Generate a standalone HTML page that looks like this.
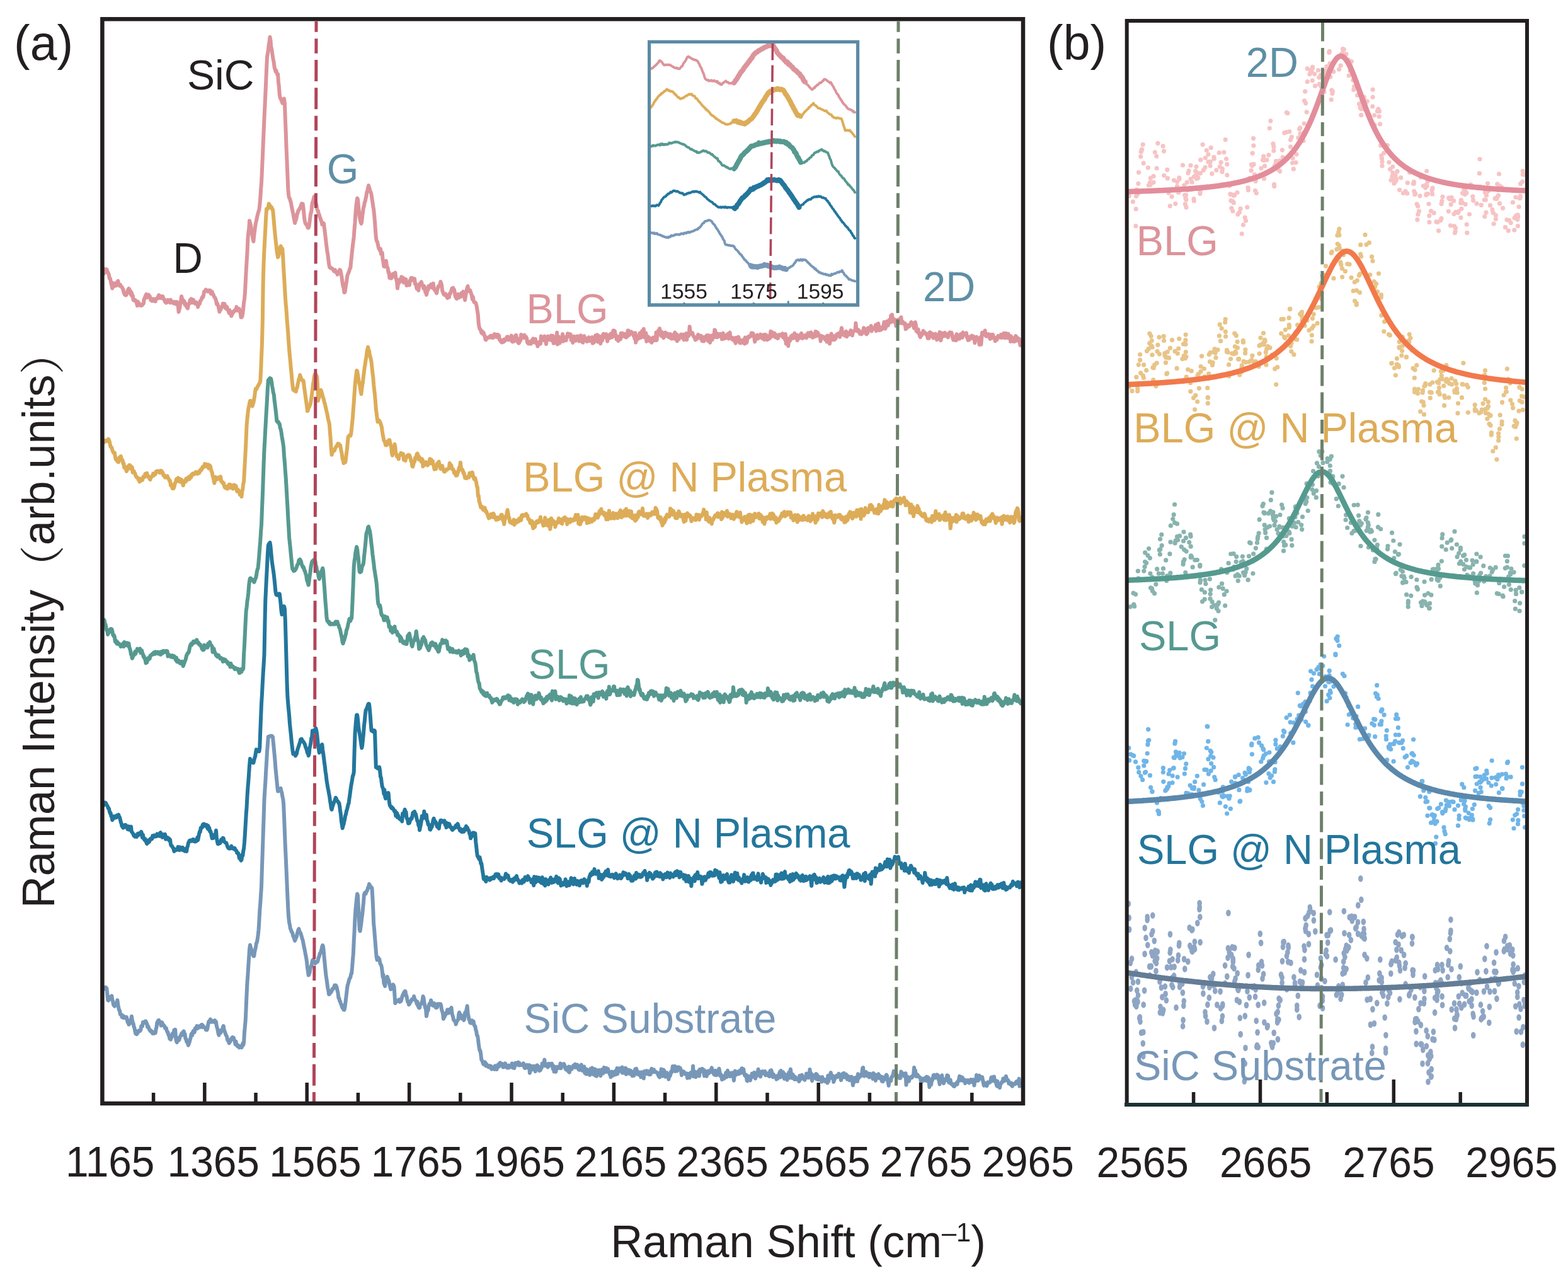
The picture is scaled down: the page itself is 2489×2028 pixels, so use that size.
<!DOCTYPE html>
<html><head><meta charset="utf-8"><title>Raman spectra</title>
<style>html,body{margin:0;padding:0;background:#fff;}body{width:2489px;height:2028px;overflow:hidden;}svg{display:block;}</style>
</head><body>
<svg width="2489" height="2028" viewBox="0 0 2489 2028">
<rect width="100%" height="100%" fill="#fff"/>
<g fill="none" stroke-width="6" stroke-linejoin="round" stroke-linecap="round">
<polyline stroke="#7797b8" points="163.0,1569.5 163.9,1570.0 164.8,1569.0 165.7,1567.9 166.6,1568.7 167.5,1566.5 168.4,1567.2 169.3,1568.2 170.2,1576.0 171.1,1586.8 172.0,1587.7 172.9,1586.3 173.8,1584.8 174.7,1581.8 175.6,1582.4 176.5,1582.6 177.4,1580.4 178.3,1586.7 179.2,1588.8 180.1,1594.6 181.0,1595.5 181.9,1596.8 182.8,1593.3 183.7,1594.5 184.6,1592.7 185.5,1590.5 186.4,1587.1 187.3,1594.4 188.2,1599.0 189.1,1603.0 190.0,1603.8 190.9,1609.4 191.8,1609.4 192.7,1610.2 193.6,1614.0 194.5,1611.2 195.4,1613.1 196.3,1615.2 197.2,1613.1 198.1,1614.4 199.0,1615.3 199.9,1615.7 200.8,1613.9 201.7,1617.6 202.6,1622.1 203.5,1619.2 204.4,1625.8 205.3,1625.1 206.2,1621.1 207.1,1623.2 208.0,1618.3 208.9,1612.7 209.8,1618.3 210.7,1622.4 211.6,1624.3 212.5,1629.1 213.4,1631.1 214.3,1635.6 215.2,1640.3 216.1,1639.8 217.0,1641.2 217.9,1639.0 218.8,1639.0 219.7,1635.6 220.6,1635.6 221.5,1635.2 222.4,1635.9 223.3,1634.6 224.2,1628.4 225.1,1627.7 226.0,1628.5 226.9,1622.1 227.8,1623.1 228.7,1622.1 229.6,1622.8 230.5,1620.5 231.4,1620.6 232.3,1622.4 233.2,1624.5 234.1,1629.7 235.0,1628.1 235.9,1630.2 236.8,1633.3 237.7,1634.4 238.6,1636.2 239.5,1635.2 240.4,1637.4 241.3,1636.9 242.2,1640.0 243.1,1639.3 244.0,1638.3 244.9,1639.8 245.8,1638.3 246.7,1639.1 247.6,1633.0 248.5,1629.9 249.4,1622.4 250.3,1622.7 251.2,1619.3 252.1,1618.9 253.0,1622.2 253.9,1621.4 254.8,1623.6 255.7,1627.5 256.6,1622.2 257.5,1622.9 258.4,1625.5 259.3,1627.2 260.2,1627.2 261.1,1628.4 262.0,1631.3 262.9,1632.2 263.8,1631.5 264.7,1635.4 265.6,1637.7 266.5,1638.0 267.4,1642.5 268.3,1642.7 269.2,1648.1 270.1,1648.9 271.0,1649.5 271.9,1646.5 272.8,1645.5 273.7,1640.2 274.6,1639.9 275.5,1640.8 276.4,1634.5 277.3,1638.0 278.2,1633.8 279.1,1646.8 280.0,1652.5 280.9,1654.1 281.8,1651.6 282.7,1647.2 283.6,1650.9 284.5,1649.9 285.4,1645.8 286.3,1644.1 287.2,1643.0 288.1,1640.2 289.0,1642.6 289.9,1638.3 290.8,1637.8 291.7,1636.5 292.6,1639.4 293.5,1640.9 294.4,1648.1 295.3,1648.3 296.2,1652.9 297.1,1653.9 298.0,1655.3 298.9,1658.6 299.8,1655.8 300.7,1653.7 301.6,1650.0 302.5,1647.1 303.4,1642.1 304.3,1640.0 305.2,1642.9 306.1,1637.6 307.0,1635.8 307.9,1637.1 308.8,1637.9 309.7,1631.7 310.6,1632.8 311.5,1630.9 312.4,1628.1 313.3,1632.2 314.2,1630.5 315.1,1630.3 316.0,1628.4 316.9,1630.2 317.8,1628.1 318.7,1628.4 319.6,1626.3 320.5,1625.8 321.4,1630.0 322.3,1627.6 323.2,1629.9 324.1,1630.2 325.0,1630.3 325.9,1631.1 326.8,1634.0 327.7,1633.2 328.6,1634.3 329.5,1630.9 330.4,1625.5 331.3,1621.2 332.2,1620.7 333.1,1619.0 334.0,1617.5 334.9,1621.7 335.8,1621.7 336.7,1619.7 337.6,1621.0 338.5,1621.4 339.4,1621.5 340.3,1621.7 341.2,1619.2 342.1,1623.1 343.0,1621.4 343.9,1628.5 344.8,1631.1 345.7,1635.1 346.6,1640.2 347.5,1642.7 348.4,1637.8 349.3,1635.7 350.2,1639.1 351.1,1634.6 352.0,1635.2 352.9,1635.6 353.8,1630.0 354.7,1628.0 355.6,1633.8 356.5,1636.2 357.4,1638.6 358.3,1641.9 359.2,1643.2 360.1,1644.8 361.0,1650.1 361.9,1651.5 362.8,1652.7 363.7,1655.4 364.6,1653.2 365.5,1652.9 366.4,1649.3 367.3,1648.7 368.2,1646.9 369.1,1646.0 370.0,1646.8 370.9,1646.7 371.8,1650.5 372.7,1652.3 373.6,1657.1 374.5,1652.7 375.4,1658.5 376.3,1658.5 377.2,1660.4 378.1,1658.7 379.0,1660.3 379.9,1662.3 380.8,1660.6 381.7,1660.7 382.6,1659.9 383.5,1662.3 384.4,1660.0 385.3,1655.9 386.2,1658.4 387.1,1654.4 388.0,1638.0 388.9,1628.8 389.8,1618.1 390.7,1598.0 391.6,1577.1 392.5,1558.7 393.4,1547.3 394.3,1532.4 395.2,1518.9 396.1,1505.4 397.0,1499.4 397.9,1503.4 398.8,1506.2 399.7,1508.9 400.6,1510.7 401.5,1515.4 402.4,1517.3 403.3,1517.1 404.2,1510.3 405.1,1506.9 406.0,1502.6 406.9,1496.8 407.8,1495.4 408.7,1490.6 409.6,1484.2 410.5,1475.8 411.4,1461.7 412.3,1445.0 413.2,1434.1 414.1,1420.1 415.0,1406.5 415.9,1377.8 416.8,1351.2 417.7,1323.8 418.6,1297.7 419.5,1269.3 420.4,1254.1 421.3,1240.7 422.2,1223.7 423.1,1209.0 424.0,1192.7 424.9,1181.2 425.8,1169.0 426.7,1168.9 427.6,1168.7 428.5,1168.1 429.4,1168.2 430.3,1167.7 431.2,1167.8 432.1,1168.1 433.0,1169.5 433.9,1178.7 434.8,1188.1 435.7,1197.7 436.6,1207.8 437.5,1220.1 438.4,1229.0 439.3,1238.3 440.2,1247.7 441.1,1255.6 442.0,1255.4 442.9,1255.1 443.8,1252.6 444.7,1251.6 445.6,1251.0 446.5,1255.5 447.4,1258.1 448.3,1263.7 449.2,1267.4 450.1,1275.3 451.0,1295.6 451.9,1318.8 452.8,1341.7 453.7,1360.6 454.6,1380.8 455.5,1402.1 456.4,1422.4 457.3,1441.9 458.2,1455.9 459.1,1463.8 460.0,1467.8 460.9,1473.6 461.8,1475.0 462.7,1478.5 463.6,1479.1 464.5,1481.5 465.4,1486.0 466.3,1486.0 467.2,1490.2 468.1,1492.8 469.0,1490.4 469.9,1488.0 470.8,1486.7 471.7,1481.8 472.6,1478.7 473.5,1475.3 474.4,1473.9 475.3,1477.5 476.2,1479.7 477.1,1480.5 478.0,1483.3 478.9,1486.4 479.8,1489.9 480.7,1492.3 481.6,1497.3 482.5,1502.0 483.4,1505.9 484.3,1510.8 485.2,1515.6 486.1,1519.9 487.0,1526.2 487.9,1534.9 488.8,1540.9 489.7,1547.6 490.6,1545.8 491.5,1544.0 492.4,1537.8 493.3,1534.5 494.2,1532.9 495.1,1528.9 496.0,1524.3 496.9,1523.1 497.8,1524.9 498.7,1525.0 499.6,1526.8 500.5,1528.8 501.4,1527.2 502.3,1526.6 503.2,1526.7 504.1,1526.0 505.0,1522.9 505.9,1519.0 506.8,1517.4 507.7,1513.2 508.6,1512.5 509.5,1509.5 510.4,1506.6 511.3,1502.1 512.2,1500.1 513.1,1502.3 514.0,1512.0 514.9,1522.1 515.8,1531.1 516.7,1540.6 517.6,1549.0 518.5,1554.3 519.4,1561.0 520.3,1568.0 521.2,1571.5 522.1,1577.9 523.0,1577.5 523.9,1576.4 524.8,1574.3 525.7,1574.4 526.6,1572.3 527.5,1569.6 528.4,1568.5 529.3,1568.9 530.2,1567.3 531.1,1563.6 532.0,1565.5 532.9,1563.5 533.8,1564.8 534.7,1567.5 535.6,1572.0 536.5,1575.6 537.4,1583.6 538.3,1583.8 539.2,1588.5 540.1,1589.2 541.0,1592.9 541.9,1594.0 542.8,1597.3 543.7,1599.8 544.6,1598.7 545.5,1602.2 546.4,1602.6 547.3,1599.4 548.2,1592.4 549.1,1584.8 550.0,1577.6 550.9,1569.5 551.8,1563.2 552.7,1560.8 553.6,1557.1 554.5,1553.9 555.4,1552.3 556.3,1550.8 557.2,1545.8 558.1,1544.8 559.0,1535.8 559.9,1524.1 560.8,1513.8 561.7,1494.0 562.6,1477.6 563.5,1456.9 564.4,1444.1 565.3,1434.8 566.2,1425.7 567.1,1418.4 568.0,1421.0 568.9,1440.0 569.8,1457.6 570.7,1474.8 571.6,1477.5 572.5,1471.0 573.4,1465.3 574.3,1456.9 575.2,1451.1 576.1,1441.0 577.0,1432.5 577.9,1419.9 578.8,1417.2 579.7,1418.0 580.6,1418.2 581.5,1414.6 582.4,1414.1 583.3,1411.9 584.2,1408.6 585.1,1407.1 586.0,1402.9 586.9,1404.3 587.8,1406.9 588.7,1406.9 589.6,1409.4 590.5,1409.3 591.4,1424.7 592.3,1443.7 593.2,1466.1 594.1,1474.7 595.0,1486.7 595.9,1497.6 596.8,1509.2 597.7,1519.2 598.6,1523.2 599.5,1519.5 600.4,1519.6 601.3,1521.5 602.2,1521.9 603.1,1526.9 604.0,1530.3 604.9,1531.0 605.8,1534.3 606.7,1540.8 607.6,1550.4 608.5,1546.7 609.4,1560.3 610.3,1562.4 611.2,1564.9 612.1,1557.3 613.0,1556.6 613.9,1551.2 614.8,1549.9 615.7,1553.0 616.6,1554.7 617.5,1557.8 618.4,1562.6 619.3,1566.1 620.2,1569.9 621.1,1569.4 622.0,1567.8 622.9,1566.3 623.8,1562.4 624.7,1563.5 625.6,1566.2 626.5,1580.0 627.4,1592.1 628.3,1589.5 629.2,1587.8 630.1,1589.3 631.0,1587.8 631.9,1587.3 632.8,1588.7 633.7,1586.2 634.6,1589.9 635.5,1588.0 636.4,1588.7 637.3,1586.2 638.2,1582.3 639.1,1579.3 640.0,1578.4 640.9,1575.2 641.8,1574.5 642.7,1572.8 643.6,1573.1 644.5,1580.1 645.4,1580.3 646.3,1585.6 647.2,1589.9 648.1,1589.2 649.0,1594.3 649.9,1593.3 650.8,1591.5 651.7,1589.7 652.6,1588.7 653.5,1586.1 654.4,1586.7 655.3,1584.8 656.2,1585.3 657.1,1581.0 658.0,1585.0 658.9,1586.5 659.8,1587.6 660.7,1588.7 661.6,1592.9 662.5,1589.3 663.4,1596.2 664.3,1597.5 665.2,1599.4 666.1,1599.2 667.0,1594.4 667.9,1593.0 668.8,1592.9 669.7,1590.1 670.6,1587.3 671.5,1580.9 672.4,1583.5 673.3,1590.0 674.2,1595.4 675.1,1599.3 676.0,1600.8 676.9,1612.6 677.8,1608.0 678.7,1599.3 679.6,1603.4 680.5,1595.9 681.4,1593.4 682.3,1592.1 683.2,1593.7 684.1,1587.2 685.0,1590.0 685.9,1594.7 686.8,1595.5 687.7,1592.6 688.6,1593.4 689.5,1592.1 690.4,1594.7 691.3,1598.5 692.2,1599.1 693.1,1597.3 694.0,1598.4 694.9,1593.1 695.8,1593.7 696.7,1594.5 697.6,1593.1 698.5,1593.2 699.4,1593.2 700.3,1596.5 701.2,1603.2 702.1,1604.9 703.0,1608.4 703.9,1616.7 704.8,1614.1 705.7,1613.9 706.6,1608.0 707.5,1610.1 708.4,1608.4 709.3,1606.7 710.2,1602.2 711.1,1605.8 712.0,1607.6 712.9,1605.3 713.8,1601.8 714.7,1602.1 715.6,1605.1 716.5,1598.9 717.4,1607.5 718.3,1611.3 719.2,1613.9 720.1,1618.6 721.0,1619.5 721.9,1619.8 722.8,1622.0 723.7,1625.4 724.6,1622.5 725.5,1620.2 726.4,1618.9 727.3,1617.9 728.2,1609.3 729.1,1606.5 730.0,1608.6 730.9,1612.8 731.8,1611.0 732.7,1616.1 733.6,1611.7 734.5,1615.1 735.4,1616.5 736.3,1618.9 737.2,1616.5 738.1,1607.4 739.0,1605.9 739.9,1605.9 740.8,1600.6 741.7,1596.4 742.6,1608.0 743.5,1612.1 744.4,1617.6 745.3,1619.0 746.2,1622.9 747.1,1620.2 748.0,1623.7 748.9,1619.3 749.8,1619.7 750.7,1622.6 751.6,1620.8 752.5,1626.0 753.4,1628.1 754.3,1628.4 755.2,1634.0 756.1,1636.1 757.0,1642.8 757.9,1643.3 758.8,1648.0 759.7,1656.2 760.6,1662.9 761.5,1667.0 762.4,1667.6 763.3,1673.1 764.2,1681.4 765.1,1682.7 766.0,1684.9 766.9,1687.8 767.8,1689.1 768.7,1686.7 769.6,1685.3 770.5,1686.3 771.4,1691.4 772.3,1688.7 773.2,1690.5 774.1,1691.7 775.0,1693.0 775.9,1691.5 776.8,1693.7 777.7,1691.3 778.6,1692.8 779.5,1692.0 780.4,1696.7 781.3,1694.9 782.2,1693.9 783.1,1695.1 784.0,1695.9 784.9,1696.8 785.8,1691.3 786.7,1691.6 787.6,1692.0 788.5,1697.0 789.4,1692.9 790.3,1689.9 791.2,1690.7 792.1,1692.5 793.0,1687.0 793.9,1686.5 794.8,1690.1 795.7,1689.1 796.6,1690.0 797.5,1688.1 798.4,1693.4 799.3,1693.4 800.2,1691.6 801.1,1692.3 802.0,1687.4 802.9,1693.1 803.8,1692.0 804.7,1693.7 805.6,1694.6 806.5,1693.1 807.4,1690.5 808.3,1694.3 809.2,1691.8 810.1,1692.3 811.0,1691.5 811.9,1691.7 812.8,1687.5 813.7,1694.2 814.6,1692.0 815.5,1693.4 816.4,1694.9 817.3,1690.7 818.2,1686.7 819.1,1688.2 820.0,1687.3 820.9,1688.4 821.8,1689.7 822.7,1685.6 823.6,1690.4 824.5,1686.8 825.4,1690.5 826.3,1689.8 827.2,1689.5 828.1,1690.1 829.0,1689.3 829.9,1689.3 830.8,1687.3 831.7,1690.7 832.6,1694.5 833.5,1694.9 834.4,1693.7 835.3,1692.6 836.2,1689.9 837.1,1694.3 838.0,1691.4 838.9,1691.5 840.0,1690.3 840.9,1702.7 841.8,1696.5 842.7,1691.4 843.6,1693.4 844.5,1697.6 845.4,1692.8 846.3,1694.9 847.2,1691.7 848.1,1692.3 849.0,1692.9 849.9,1700.3 850.8,1692.0 851.7,1691.0 852.6,1690.4 853.5,1691.3 854.4,1694.0 855.3,1693.0 856.2,1699.3 857.1,1694.3 858.0,1698.2 858.9,1694.1 859.8,1694.6 860.7,1687.4 861.6,1690.1 862.5,1689.0 863.4,1687.6 864.3,1681.6 865.2,1691.3 866.1,1688.1 867.0,1689.1 867.9,1690.7 868.8,1691.3 869.7,1693.5 870.6,1688.1 871.5,1688.0 872.4,1691.0 873.3,1689.9 874.2,1688.2 875.1,1687.9 876.0,1687.8 876.9,1691.3 877.8,1696.6 878.7,1691.4 879.6,1700.6 880.5,1699.9 881.4,1696.7 882.3,1700.9 883.2,1694.3 884.1,1692.9 885.0,1693.2 885.9,1695.1 886.8,1694.6 887.7,1693.3 888.6,1694.7 889.5,1687.6 890.4,1695.3 891.3,1689.2 892.2,1691.1 893.1,1691.4 894.0,1688.9 894.9,1688.2 895.8,1689.5 896.7,1693.3 897.6,1696.2 898.5,1697.2 899.4,1693.8 900.3,1695.5 901.2,1695.9 902.1,1700.2 903.0,1692.6 903.9,1701.8 904.8,1695.6 905.7,1693.4 906.6,1695.7 907.5,1696.6 908.4,1693.3 909.3,1694.2 910.2,1690.8 911.1,1693.5 912.0,1693.0 912.9,1688.8 913.8,1693.9 914.7,1690.9 915.6,1691.7 916.5,1689.7 917.4,1692.9 918.3,1697.1 919.2,1691.6 920.1,1697.9 921.0,1697.2 921.9,1696.9 922.8,1689.6 923.7,1696.2 924.6,1699.0 925.5,1695.4 926.4,1698.7 927.3,1692.5 928.2,1702.6 929.1,1699.0 930.0,1704.1 930.9,1696.4 931.8,1704.4 932.7,1701.4 933.6,1704.1 934.5,1698.2 935.4,1698.4 936.3,1705.9 937.2,1695.9 938.1,1695.7 939.0,1696.6 939.9,1694.5 940.8,1702.0 941.7,1704.8 942.6,1698.6 943.5,1696.4 944.4,1706.1 945.3,1707.0 946.2,1697.5 947.1,1707.8 948.0,1701.7 948.9,1703.4 949.8,1699.1 950.7,1698.3 951.6,1704.8 952.5,1699.1 953.4,1707.2 954.3,1700.0 955.2,1697.3 956.1,1701.2 957.0,1703.5 957.9,1699.3 958.8,1693.9 959.7,1698.3 960.6,1701.3 961.5,1695.6 962.4,1694.9 963.3,1700.8 964.2,1698.9 965.1,1696.2 966.0,1699.9 966.9,1700.3 967.8,1704.8 968.7,1705.7 969.6,1709.2 970.5,1707.8 971.4,1700.5 972.3,1705.7 973.2,1706.6 974.1,1704.5 975.0,1705.7 975.9,1700.8 976.8,1699.6 977.7,1705.1 978.6,1698.9 979.5,1695.0 980.4,1703.9 981.3,1698.4 982.2,1698.9 983.1,1695.2 984.0,1695.2 984.9,1695.8 985.8,1698.5 986.7,1701.1 987.6,1693.5 988.5,1702.7 989.4,1696.9 990.3,1697.1 991.2,1702.0 992.1,1699.5 993.0,1694.8 993.9,1704.7 994.8,1696.4 995.7,1699.6 996.6,1699.6 997.5,1703.4 998.4,1698.1 999.3,1702.9 1000.2,1698.4 1001.1,1704.5 1002.0,1699.5 1002.9,1700.9 1003.8,1707.4 1004.7,1702.3 1005.6,1701.2 1006.5,1706.9 1007.4,1700.5 1008.3,1696.6 1009.2,1701.2 1010.1,1695.7 1011.0,1703.2 1011.9,1704.5 1012.8,1700.6 1013.7,1701.7 1014.6,1705.6 1015.5,1706.1 1016.4,1704.0 1017.3,1709.2 1018.2,1701.2 1019.1,1705.5 1020.0,1704.9 1020.9,1704.5 1021.8,1711.3 1022.7,1700.0 1023.6,1704.8 1024.5,1702.2 1025.4,1700.9 1026.3,1699.1 1027.2,1699.8 1028.1,1704.3 1029.0,1699.9 1029.9,1702.8 1030.8,1705.1 1031.7,1704.0 1032.6,1704.9 1033.5,1698.7 1034.4,1695.9 1035.3,1701.6 1036.2,1699.0 1037.1,1701.0 1038.0,1697.4 1038.9,1701.0 1039.8,1700.2 1040.7,1700.7 1041.6,1701.1 1042.5,1702.2 1043.4,1703.2 1044.3,1704.1 1045.2,1707.1 1046.1,1702.8 1047.0,1709.6 1047.9,1703.5 1048.8,1706.2 1049.7,1696.4 1050.6,1701.4 1051.5,1707.7 1052.4,1700.5 1053.3,1697.6 1054.2,1699.2 1055.1,1700.8 1056.0,1708.7 1056.9,1703.8 1057.8,1707.0 1058.7,1702.2 1059.6,1707.3 1060.5,1708.9 1061.4,1712.7 1062.3,1705.0 1063.2,1708.2 1064.1,1706.0 1065.0,1700.6 1065.9,1702.0 1066.8,1699.6 1067.7,1692.0 1068.6,1699.3 1069.5,1698.1 1070.4,1694.8 1071.3,1691.8 1072.2,1700.1 1073.1,1696.5 1074.0,1698.6 1074.9,1699.3 1075.8,1693.4 1076.7,1696.7 1077.6,1693.5 1078.5,1694.0 1079.4,1694.7 1080.3,1696.1 1081.2,1700.7 1082.1,1706.2 1083.0,1699.6 1083.9,1700.4 1084.8,1703.3 1085.7,1700.6 1086.6,1702.7 1087.5,1704.4 1088.4,1703.4 1089.3,1704.7 1090.2,1703.4 1091.1,1710.8 1092.0,1708.5 1092.9,1705.7 1093.8,1704.0 1094.7,1710.2 1095.6,1704.2 1096.5,1702.2 1097.4,1702.8 1098.3,1702.4 1099.2,1705.7 1100.1,1691.7 1101.0,1708.3 1101.9,1699.9 1102.8,1705.7 1103.7,1700.9 1104.6,1709.2 1105.5,1702.6 1106.4,1703.2 1107.3,1705.8 1108.2,1706.6 1109.1,1699.1 1110.0,1707.4 1110.9,1697.0 1111.8,1701.0 1112.7,1699.2 1113.6,1697.5 1114.5,1695.9 1115.4,1697.3 1116.3,1697.0 1117.2,1702.4 1118.1,1707.4 1119.0,1698.9 1119.9,1705.7 1120.8,1705.4 1121.7,1707.8 1122.6,1703.0 1123.5,1703.8 1124.4,1699.6 1125.3,1703.3 1126.2,1700.1 1127.1,1698.5 1128.0,1699.8 1128.9,1697.8 1129.8,1694.4 1130.7,1701.6 1131.6,1701.6 1132.5,1700.9 1133.4,1705.0 1134.3,1705.7 1135.2,1698.8 1136.1,1699.4 1137.0,1706.2 1137.9,1705.8 1138.8,1699.4 1139.7,1698.7 1140.6,1701.5 1141.5,1695.7 1142.4,1701.0 1143.3,1707.3 1144.2,1704.8 1145.1,1706.1 1146.0,1713.2 1146.9,1708.8 1147.8,1710.5 1148.7,1711.8 1149.6,1711.4 1150.5,1706.8 1151.4,1706.4 1152.3,1702.3 1153.2,1709.3 1154.1,1705.0 1155.0,1698.8 1155.9,1701.8 1156.8,1703.9 1157.7,1703.4 1158.6,1708.1 1159.5,1707.6 1160.4,1702.9 1161.3,1705.1 1162.2,1702.4 1163.1,1707.3 1164.0,1707.3 1164.9,1714.7 1165.8,1706.6 1166.7,1699.6 1167.6,1703.4 1168.5,1705.4 1169.4,1700.7 1170.3,1701.6 1171.2,1702.6 1172.1,1704.1 1173.0,1702.0 1173.9,1699.0 1174.8,1703.4 1175.7,1698.6 1176.6,1698.2 1177.5,1695.2 1178.4,1697.0 1179.3,1702.2 1180.2,1696.4 1181.1,1702.5 1182.0,1706.2 1182.9,1704.7 1183.8,1708.4 1184.7,1705.9 1185.6,1714.8 1186.5,1715.4 1187.4,1713.5 1188.3,1707.6 1189.2,1709.3 1190.1,1714.1 1191.0,1714.4 1191.9,1708.4 1192.8,1710.1 1193.7,1703.4 1194.6,1704.1 1195.5,1704.9 1196.4,1706.9 1197.3,1701.9 1198.2,1709.9 1199.1,1711.4 1200.0,1703.8 1200.9,1702.5 1201.8,1707.0 1202.7,1703.0 1203.6,1696.7 1204.5,1705.1 1205.4,1702.7 1206.3,1700.7 1207.2,1708.6 1208.1,1703.0 1209.0,1700.5 1209.9,1703.2 1210.8,1700.1 1211.7,1700.6 1212.6,1703.5 1213.5,1700.2 1214.4,1700.1 1215.3,1706.4 1216.2,1704.0 1217.1,1704.1 1218.0,1703.6 1218.9,1703.7 1219.8,1706.9 1220.7,1702.6 1221.6,1708.1 1222.5,1699.2 1223.4,1701.5 1224.3,1698.2 1225.2,1701.6 1226.1,1705.1 1227.0,1709.3 1227.9,1704.6 1228.8,1708.3 1229.7,1708.8 1230.6,1709.0 1231.5,1708.6 1232.4,1712.7 1233.3,1707.2 1234.2,1711.9 1235.1,1710.3 1236.0,1706.6 1236.9,1703.9 1237.8,1701.1 1238.7,1709.5 1239.6,1699.1 1240.5,1707.5 1241.4,1705.1 1242.3,1702.9 1243.2,1701.5 1244.1,1709.1 1245.0,1711.9 1245.9,1704.6 1246.8,1706.9 1247.7,1711.2 1248.6,1709.1 1249.5,1713.8 1250.4,1705.4 1251.3,1708.0 1252.2,1701.7 1253.1,1710.5 1254.0,1701.3 1254.9,1696.7 1255.8,1703.3 1256.7,1703.9 1257.6,1710.8 1258.5,1705.0 1259.4,1706.8 1260.3,1709.2 1261.2,1712.9 1262.1,1708.7 1263.0,1712.8 1263.9,1712.6 1264.8,1711.4 1265.7,1713.3 1266.6,1713.5 1267.5,1710.4 1268.4,1716.1 1269.3,1707.1 1270.2,1713.3 1271.1,1711.7 1272.0,1707.9 1272.9,1705.8 1273.8,1707.7 1274.7,1710.5 1275.6,1712.1 1276.5,1711.4 1277.4,1713.7 1278.3,1708.7 1279.2,1710.2 1280.1,1703.4 1281.0,1709.1 1281.9,1706.1 1282.8,1710.3 1283.7,1708.0 1284.6,1707.0 1285.5,1697.1 1286.4,1706.4 1287.3,1702.6 1288.2,1710.7 1289.1,1715.1 1290.0,1706.0 1290.9,1707.5 1291.8,1706.3 1292.7,1708.0 1293.6,1708.9 1294.5,1710.9 1295.4,1703.9 1296.3,1712.4 1297.2,1705.5 1298.1,1710.0 1299.0,1713.5 1299.9,1713.2 1300.8,1709.0 1301.7,1710.5 1302.6,1711.8 1303.5,1713.1 1304.4,1716.6 1305.3,1709.1 1306.2,1714.1 1307.1,1714.3 1308.0,1713.6 1308.9,1713.2 1309.8,1716.1 1310.7,1713.4 1311.6,1715.1 1312.5,1714.6 1313.4,1718.5 1314.3,1707.0 1315.2,1716.0 1316.1,1710.1 1317.0,1708.6 1317.9,1705.3 1318.8,1702.1 1319.7,1706.8 1320.6,1706.9 1321.5,1711.8 1322.4,1707.2 1323.3,1717.0 1324.2,1714.0 1325.1,1712.2 1326.0,1710.4 1326.9,1708.8 1327.8,1707.0 1328.7,1707.8 1329.6,1708.8 1330.5,1707.8 1331.4,1703.8 1332.3,1707.3 1333.2,1705.3 1334.1,1708.8 1335.0,1714.1 1335.9,1710.8 1336.8,1708.2 1337.7,1703.8 1338.6,1704.2 1339.5,1702.8 1340.4,1709.6 1341.3,1704.6 1342.2,1706.8 1343.1,1704.8 1344.0,1707.5 1344.9,1712.7 1345.8,1707.4 1346.7,1709.5 1347.6,1708.6 1348.5,1714.2 1349.4,1709.3 1350.3,1709.2 1351.2,1708.6 1352.1,1708.9 1353.0,1715.1 1353.9,1722.2 1354.8,1712.0 1355.7,1717.7 1356.6,1715.0 1357.5,1710.2 1358.4,1711.8 1359.3,1711.2 1360.2,1708.9 1361.1,1716.0 1362.0,1704.3 1362.9,1710.7 1363.8,1709.9 1364.7,1706.2 1365.6,1707.0 1366.5,1707.7 1367.4,1704.0 1368.3,1703.3 1369.2,1694.9 1370.1,1694.1 1371.0,1704.8 1371.9,1707.7 1372.8,1704.9 1373.7,1706.6 1374.6,1701.0 1375.5,1706.5 1376.4,1705.9 1377.3,1707.5 1378.2,1703.4 1379.1,1707.5 1380.0,1709.5 1380.9,1703.8 1381.8,1708.4 1382.7,1708.1 1383.6,1705.2 1384.5,1704.7 1385.4,1712.0 1386.3,1702.9 1387.2,1703.8 1388.1,1704.8 1389.0,1711.4 1389.9,1714.8 1390.8,1709.7 1391.7,1706.1 1392.6,1706.3 1393.5,1710.4 1394.4,1704.2 1395.3,1710.6 1396.2,1710.9 1397.1,1707.3 1398.0,1710.0 1398.9,1711.6 1399.8,1715.7 1400.7,1708.9 1401.6,1716.3 1402.5,1712.2 1403.4,1711.2 1404.3,1712.9 1405.2,1711.3 1406.1,1707.8 1407.0,1705.6 1407.9,1706.7 1408.8,1714.3 1409.7,1716.6 1410.6,1722.8 1411.5,1716.9 1412.4,1712.8 1413.3,1714.7 1414.2,1715.1 1415.1,1709.6 1416.0,1708.1 1416.9,1708.3 1417.8,1704.4 1418.7,1699.8 1419.6,1703.0 1420.5,1700.7 1421.4,1705.2 1422.3,1703.7 1423.2,1704.8 1424.1,1708.0 1425.0,1708.6 1425.9,1707.8 1426.8,1708.5 1427.7,1710.8 1428.6,1709.5 1429.5,1710.5 1430.4,1700.6 1431.3,1703.9 1432.2,1703.6 1433.1,1705.5 1434.0,1703.6 1434.9,1703.8 1435.8,1708.1 1436.7,1706.6 1437.6,1703.2 1438.5,1721.6 1439.4,1711.9 1440.3,1708.4 1441.2,1713.6 1442.1,1709.7 1443.0,1715.7 1443.9,1711.7 1444.8,1709.8 1445.7,1710.6 1446.6,1708.5 1447.5,1710.2 1448.4,1709.0 1449.3,1707.3 1450.2,1704.2 1451.1,1694.1 1452.0,1704.6 1452.9,1698.5 1453.8,1705.0 1454.7,1708.1 1455.6,1706.4 1456.5,1705.4 1457.4,1707.1 1458.3,1708.6 1459.2,1708.7 1460.1,1710.1 1461.0,1710.2 1461.9,1716.7 1462.8,1713.3 1463.7,1716.2 1464.6,1712.0 1465.5,1712.6 1466.4,1711.5 1467.3,1713.3 1468.2,1714.4 1469.1,1712.5 1470.0,1709.3 1470.9,1708.7 1471.8,1715.4 1472.7,1709.3 1473.6,1710.0 1474.5,1715.6 1475.4,1725.1 1476.3,1715.0 1477.2,1712.7 1478.1,1721.3 1479.0,1714.7 1479.9,1714.4 1480.8,1711.1 1481.7,1706.2 1482.6,1705.8 1483.5,1710.6 1484.4,1710.5 1485.3,1708.5 1486.2,1706.1 1487.1,1705.4 1488.0,1709.1 1488.9,1706.1 1489.8,1713.3 1490.7,1714.8 1491.6,1720.6 1492.5,1715.7 1493.4,1712.5 1494.3,1712.8 1495.2,1706.2 1496.1,1715.4 1497.0,1716.5 1497.9,1719.1 1498.8,1716.7 1499.7,1715.0 1500.6,1712.2 1501.5,1712.3 1502.4,1713.8 1503.3,1706.3 1504.2,1708.7 1505.1,1707.1 1506.0,1717.4 1506.9,1718.1 1507.8,1718.0 1508.7,1713.8 1509.6,1719.7 1510.5,1719.5 1511.4,1721.1 1512.3,1720.9 1513.2,1723.1 1514.1,1720.4 1515.0,1724.0 1515.9,1721.9 1516.8,1720.0 1517.7,1720.0 1518.6,1718.1 1519.5,1720.7 1520.4,1715.9 1521.3,1715.8 1522.2,1712.6 1523.1,1707.8 1524.0,1714.4 1524.9,1708.6 1525.8,1714.4 1526.7,1714.5 1527.6,1709.6 1528.5,1712.8 1529.4,1715.1 1530.3,1714.5 1531.2,1713.3 1532.1,1719.1 1533.0,1715.5 1533.9,1717.1 1534.8,1714.7 1535.7,1716.8 1536.6,1714.0 1537.5,1716.3 1538.4,1718.4 1539.3,1716.9 1540.2,1715.3 1541.1,1713.1 1542.0,1716.8 1542.9,1716.9 1543.8,1714.7 1544.7,1713.2 1545.6,1716.9 1546.5,1722.4 1547.4,1714.0 1548.3,1715.6 1549.2,1715.3 1550.1,1705.9 1551.0,1712.9 1551.9,1709.4 1552.8,1714.9 1553.7,1709.1 1554.6,1706.9 1555.5,1708.6 1556.4,1710.4 1557.3,1709.2 1558.2,1712.1 1559.1,1709.2 1560.0,1713.8 1560.9,1718.3 1561.8,1722.7 1562.7,1719.6 1563.6,1718.6 1564.5,1721.4 1565.4,1721.0 1566.3,1723.2 1567.2,1721.2 1568.1,1717.4 1569.0,1718.1 1569.9,1717.7 1570.8,1718.0 1571.7,1717.5 1572.6,1714.1 1573.5,1709.9 1574.4,1713.9 1575.3,1709.3 1576.2,1715.2 1577.1,1714.3 1578.0,1708.5 1578.9,1715.4 1579.8,1716.3 1580.7,1714.6 1581.6,1720.8 1582.5,1723.1 1583.4,1715.7 1584.3,1724.3 1585.2,1723.8 1586.1,1724.5 1587.0,1726.2 1587.9,1720.6 1588.8,1719.9 1589.7,1717.8 1590.6,1716.4 1591.5,1716.9 1592.4,1711.4 1593.3,1711.3 1594.2,1715.4 1595.1,1713.2 1596.0,1714.3 1596.9,1707.8 1597.8,1711.5 1598.7,1712.7 1599.6,1715.4 1600.5,1714.4 1601.4,1719.5 1602.3,1717.4 1603.2,1718.3 1604.1,1719.1 1605.0,1721.8 1605.9,1718.9 1606.8,1723.8 1607.7,1722.0 1608.6,1720.7 1609.5,1719.8 1610.4,1720.2 1611.3,1720.3 1612.2,1719.1 1613.1,1716.5 1614.0,1717.5 1614.9,1715.5 1615.8,1719.4 1616.7,1716.6 1617.6,1711.8 1618.5,1723.8 1619.4,1721.5 1620.3,1718.9"/>
<polyline stroke="#23769c" points="163.0,1271.8 163.9,1278.7 164.8,1274.4 165.7,1273.9 166.6,1276.2 167.5,1273.7 168.4,1275.0 169.3,1277.4 170.2,1278.3 171.1,1280.2 172.0,1283.0 172.9,1282.9 173.8,1287.4 174.7,1290.4 175.6,1290.1 176.5,1295.3 177.4,1296.0 178.3,1301.2 179.2,1299.7 180.1,1298.4 181.0,1295.4 181.9,1297.5 182.8,1295.5 183.7,1297.6 184.6,1295.6 185.5,1293.9 186.4,1296.5 187.3,1295.6 188.2,1292.8 189.1,1295.9 190.0,1296.9 190.9,1300.4 191.8,1304.8 192.7,1306.8 193.6,1311.0 194.5,1311.1 195.4,1313.6 196.3,1313.1 197.2,1309.5 198.1,1312.4 199.0,1309.0 199.9,1309.6 200.8,1311.4 201.7,1311.2 202.6,1316.0 203.5,1313.0 204.4,1311.3 205.3,1316.7 206.2,1314.5 207.1,1315.6 208.0,1311.7 208.9,1319.8 209.8,1320.8 210.7,1322.1 211.6,1323.7 212.5,1326.4 213.4,1324.6 214.3,1327.7 215.2,1325.6 216.1,1325.8 217.0,1327.9 217.9,1326.2 218.8,1322.7 219.7,1325.2 220.6,1323.8 221.5,1322.2 222.4,1324.0 223.3,1322.0 224.2,1319.9 225.1,1322.3 226.0,1329.0 226.9,1324.6 227.8,1329.3 228.7,1331.5 229.6,1333.1 230.5,1331.2 231.4,1334.4 232.3,1336.8 233.2,1338.9 234.1,1335.5 235.0,1333.6 235.9,1336.7 236.8,1336.0 237.7,1333.8 238.6,1331.1 239.5,1332.1 240.4,1330.7 241.3,1331.1 242.2,1326.4 243.1,1328.5 244.0,1327.6 244.9,1325.6 245.8,1327.6 246.7,1327.0 247.6,1325.9 248.5,1327.0 249.4,1323.4 250.3,1325.5 251.2,1326.1 252.1,1325.5 253.0,1326.6 253.9,1322.1 254.8,1321.3 255.7,1324.8 256.6,1325.5 257.5,1328.8 258.4,1326.5 259.3,1324.1 260.2,1327.5 261.1,1324.8 262.0,1324.0 262.9,1331.7 263.8,1327.9 264.7,1328.9 265.6,1329.0 266.5,1331.6 267.4,1329.9 268.3,1333.6 269.2,1331.5 270.1,1332.8 271.0,1339.9 271.9,1342.0 272.8,1342.2 273.7,1343.7 274.6,1345.6 275.5,1346.1 276.4,1351.0 277.3,1349.1 278.2,1348.5 279.1,1347.9 280.0,1348.8 280.9,1347.5 281.8,1347.6 282.7,1343.8 283.6,1346.4 284.5,1349.1 285.4,1344.3 286.3,1345.5 287.2,1347.8 288.1,1348.4 289.0,1348.3 289.9,1344.8 290.8,1349.1 291.7,1346.6 292.6,1347.7 293.5,1350.7 294.4,1348.6 295.3,1348.7 296.2,1350.9 297.1,1344.7 298.0,1342.7 298.9,1337.8 299.8,1336.4 300.7,1334.0 301.6,1334.8 302.5,1333.5 303.4,1334.1 304.3,1334.7 305.2,1333.0 306.1,1332.1 307.0,1332.0 307.9,1335.0 308.8,1334.1 309.7,1335.6 310.6,1335.4 311.5,1332.7 312.4,1334.3 313.3,1328.8 314.2,1333.1 315.1,1328.7 316.0,1323.8 316.9,1319.7 317.8,1320.1 318.7,1313.6 319.6,1313.2 320.5,1313.5 321.4,1309.9 322.3,1308.0 323.2,1310.9 324.1,1307.6 325.0,1310.3 325.9,1309.2 326.8,1308.9 327.7,1311.5 328.6,1309.2 329.5,1314.7 330.4,1310.5 331.3,1316.3 332.2,1313.5 333.1,1319.3 334.0,1318.7 334.9,1321.2 335.8,1326.6 336.7,1330.3 337.6,1326.8 338.5,1329.9 339.4,1325.0 340.3,1325.3 341.2,1324.4 342.1,1323.4 343.0,1317.8 343.9,1330.2 344.8,1334.6 345.7,1339.1 346.6,1339.3 347.5,1336.7 348.4,1335.9 349.3,1338.0 350.2,1335.1 351.1,1332.3 352.0,1332.1 352.9,1334.5 353.8,1329.7 354.7,1330.3 355.6,1335.6 356.5,1335.8 357.4,1336.9 358.3,1337.5 359.2,1337.6 360.1,1340.1 361.0,1343.1 361.9,1344.7 362.8,1346.0 363.7,1346.6 364.6,1346.3 365.5,1346.5 366.4,1344.6 367.3,1342.7 368.2,1345.9 369.1,1345.4 370.0,1346.2 370.9,1347.1 371.8,1345.6 372.7,1346.1 373.6,1348.2 374.5,1349.9 375.4,1350.0 376.3,1353.6 377.2,1353.8 378.1,1353.8 379.0,1357.2 379.9,1362.0 380.8,1358.9 381.7,1363.7 382.6,1365.5 383.5,1364.3 384.4,1356.4 385.3,1357.8 386.2,1350.6 387.1,1346.2 388.0,1336.5 388.9,1323.4 389.8,1307.8 390.7,1292.8 391.6,1280.6 392.5,1263.6 393.4,1250.0 394.3,1239.7 395.2,1226.4 396.1,1213.7 397.0,1204.1 397.9,1207.5 398.8,1207.7 399.7,1209.9 400.6,1207.7 401.5,1210.0 402.4,1210.4 403.3,1206.4 404.2,1202.8 405.1,1200.2 406.0,1194.1 406.9,1189.4 407.8,1191.0 408.7,1191.6 409.6,1192.2 410.5,1191.0 411.4,1192.3 412.3,1186.1 413.2,1161.4 414.1,1138.3 415.0,1116.8 415.9,1102.4 416.8,1084.4 417.7,1067.8 418.6,1053.7 419.5,1039.0 420.4,990.4 421.3,952.1 422.2,933.5 423.1,915.0 424.0,898.0 424.9,879.0 425.8,865.6 426.7,863.2 427.6,864.7 428.5,861.0 429.4,866.6 430.3,876.1 431.2,886.5 432.1,893.6 433.0,900.0 433.9,905.5 434.8,912.6 435.7,920.9 436.6,930.2 437.5,939.4 438.4,943.6 439.3,944.2 440.2,943.7 441.1,944.6 442.0,942.4 442.9,943.6 443.8,942.4 444.7,949.9 445.6,958.0 446.5,968.9 447.4,975.2 448.3,972.9 449.2,968.7 450.1,966.3 451.0,962.1 451.9,966.0 452.8,983.4 453.7,1015.3 454.6,1048.6 455.5,1081.9 456.4,1105.3 457.3,1116.5 458.2,1126.5 459.1,1135.7 460.0,1148.5 460.9,1157.2 461.8,1165.5 462.7,1175.4 463.6,1183.5 464.5,1190.9 465.4,1196.5 466.3,1195.4 467.2,1196.4 468.1,1195.4 469.0,1199.4 469.9,1196.8 470.8,1196.6 471.7,1191.8 472.6,1188.4 473.5,1185.9 474.4,1183.1 475.3,1180.2 476.2,1178.1 477.1,1173.5 478.0,1172.8 478.9,1172.7 479.8,1175.3 480.7,1176.1 481.6,1176.9 482.5,1178.6 483.4,1180.0 484.3,1182.6 485.2,1185.7 486.1,1187.7 487.0,1190.3 487.9,1194.7 488.8,1195.1 489.7,1199.1 490.6,1196.6 491.5,1186.9 492.4,1183.4 493.3,1179.2 494.2,1171.4 495.1,1170.1 496.0,1159.4 496.9,1162.5 497.8,1161.8 498.7,1160.2 499.6,1158.2 500.5,1157.9 501.4,1155.7 502.3,1159.4 503.2,1165.2 504.1,1173.9 505.0,1182.9 505.9,1188.5 506.8,1194.6 507.7,1192.1 508.6,1187.4 509.5,1186.8 510.4,1182.9 511.3,1181.3 512.2,1189.6 513.1,1195.7 514.0,1202.7 514.9,1210.3 515.8,1216.4 516.7,1224.9 517.6,1230.1 518.5,1238.7 519.4,1243.8 520.3,1249.8 521.2,1253.6 522.1,1258.8 523.0,1263.3 523.9,1270.2 524.8,1275.7 525.7,1282.1 526.6,1284.7 527.5,1281.0 528.4,1277.9 529.3,1275.8 530.2,1272.8 531.1,1271.6 532.0,1268.4 532.9,1265.8 533.8,1267.2 534.7,1270.6 535.6,1270.9 536.5,1271.7 537.4,1274.4 538.3,1274.2 539.2,1279.7 540.1,1287.0 541.0,1292.9 541.9,1303.2 542.8,1308.6 543.7,1314.2 544.6,1310.2 545.5,1307.9 546.4,1303.4 547.3,1299.7 548.2,1294.2 549.1,1292.0 550.0,1286.7 550.9,1284.6 551.8,1280.8 552.7,1276.5 553.6,1274.7 554.5,1267.4 555.4,1261.2 556.3,1254.4 557.2,1247.7 558.1,1242.6 559.0,1237.9 559.9,1231.5 560.8,1229.8 561.7,1225.3 562.6,1192.6 563.5,1165.0 564.4,1152.6 565.3,1142.0 566.2,1134.4 567.1,1134.7 568.0,1141.3 568.9,1151.3 569.8,1158.8 570.7,1163.4 571.6,1168.4 572.5,1174.5 573.4,1181.8 574.3,1186.9 575.2,1182.3 576.1,1173.3 577.0,1164.2 577.9,1152.1 578.8,1144.4 579.7,1134.5 580.6,1127.0 581.5,1125.5 582.4,1123.7 583.3,1121.4 584.2,1118.0 585.1,1116.7 586.0,1117.0 586.9,1125.2 587.8,1135.9 588.7,1149.1 589.6,1159.5 590.5,1159.7 591.4,1158.4 592.3,1161.1 593.2,1159.3 594.1,1159.1 595.0,1160.1 595.9,1188.6 596.8,1217.7 597.7,1218.0 598.6,1217.3 599.5,1219.3 600.4,1218.3 601.3,1220.1 602.2,1217.4 603.1,1222.7 604.0,1232.8 604.9,1234.1 605.8,1241.9 606.7,1248.0 607.6,1250.1 608.5,1252.9 609.4,1259.9 610.3,1253.2 611.2,1264.1 612.1,1267.1 613.0,1260.3 613.9,1258.8 614.8,1259.2 615.7,1260.5 616.6,1258.2 617.5,1269.4 618.4,1276.1 619.3,1279.2 620.2,1279.6 621.1,1282.1 622.0,1280.8 622.9,1283.2 623.8,1282.8 624.7,1284.2 625.6,1286.7 626.5,1288.1 627.4,1286.9 628.3,1294.7 629.2,1291.7 630.1,1289.9 631.0,1297.0 631.9,1293.7 632.8,1297.9 633.7,1297.8 634.6,1299.6 635.5,1300.5 636.4,1299.9 637.3,1300.7 638.2,1303.4 639.1,1291.0 640.0,1294.4 640.9,1293.2 641.8,1287.5 642.7,1284.7 643.6,1291.0 644.5,1288.3 645.4,1298.3 646.3,1298.6 647.2,1301.6 648.1,1306.6 649.0,1306.5 649.9,1306.0 650.8,1302.4 651.7,1299.9 652.6,1298.2 653.5,1299.2 654.4,1296.2 655.3,1290.0 656.2,1289.1 657.1,1289.6 658.0,1287.8 658.9,1290.6 659.8,1291.5 660.7,1295.4 661.6,1299.3 662.5,1302.9 663.4,1302.8 664.3,1310.0 665.2,1307.1 666.1,1317.2 667.0,1312.5 667.9,1308.5 668.8,1303.4 669.7,1295.1 670.6,1298.8 671.5,1296.8 672.4,1298.3 673.3,1287.6 674.2,1296.2 675.1,1293.5 676.0,1298.3 676.9,1293.0 677.8,1301.9 678.7,1303.2 679.6,1308.2 680.5,1309.2 681.4,1308.7 682.3,1316.2 683.2,1316.6 684.1,1314.2 685.0,1313.1 685.9,1311.2 686.8,1306.4 687.7,1301.1 688.6,1298.9 689.5,1303.3 690.4,1302.9 691.3,1304.2 692.2,1305.6 693.1,1309.4 694.0,1312.2 694.9,1311.7 695.8,1309.3 696.7,1314.7 697.6,1308.5 698.5,1305.0 699.4,1301.8 700.3,1301.7 701.2,1303.7 702.1,1304.2 703.0,1302.6 703.9,1303.9 704.8,1303.7 705.7,1302.4 706.6,1308.9 707.5,1307.3 708.4,1313.1 709.3,1306.0 710.2,1308.1 711.1,1311.3 712.0,1309.2 712.9,1307.2 713.8,1308.9 714.7,1312.1 715.6,1313.3 716.5,1313.0 717.4,1316.3 718.3,1316.9 719.2,1316.0 720.1,1315.1 721.0,1313.0 721.9,1313.6 722.8,1313.2 723.7,1309.7 724.6,1310.1 725.5,1309.1 726.4,1307.3 727.3,1309.2 728.2,1314.3 729.1,1314.4 730.0,1318.0 730.9,1315.2 731.8,1318.0 732.7,1320.0 733.6,1320.1 734.5,1317.1 735.4,1319.0 736.3,1319.7 737.2,1315.2 738.1,1316.9 739.0,1316.5 739.9,1311.0 740.8,1316.4 741.7,1313.1 742.6,1315.4 743.5,1317.4 744.4,1318.3 745.3,1323.1 746.2,1324.3 747.1,1330.3 748.0,1328.1 748.9,1327.3 749.8,1324.9 750.7,1321.5 751.6,1324.0 752.5,1321.6 753.4,1325.4 754.3,1322.4 755.2,1335.8 756.1,1342.8 757.0,1352.4 757.9,1358.4 758.8,1359.4 759.7,1361.5 760.6,1363.3 761.5,1360.4 762.4,1364.3 763.3,1370.4 764.2,1369.8 765.1,1376.5 766.0,1382.6 766.9,1387.9 767.8,1394.9 768.7,1392.7 769.6,1393.5 770.5,1397.1 771.4,1398.8 772.3,1391.7 773.2,1396.2 774.1,1395.5 775.0,1395.3 775.9,1395.1 776.8,1393.6 777.7,1396.5 778.6,1394.1 779.5,1393.1 780.4,1394.5 781.3,1393.4 782.2,1392.1 783.1,1391.5 784.0,1393.9 784.9,1391.0 785.8,1389.4 786.7,1387.4 787.6,1388.1 788.5,1387.2 789.4,1390.3 790.3,1391.3 791.2,1387.4 792.1,1392.2 793.0,1394.2 793.9,1393.9 794.8,1392.4 795.7,1397.5 796.6,1394.3 797.5,1394.0 798.4,1394.0 799.3,1394.5 800.2,1395.0 801.1,1393.8 802.0,1390.3 802.9,1386.5 803.8,1388.6 804.7,1389.1 805.6,1391.6 806.5,1389.4 807.4,1394.1 808.3,1396.2 809.2,1395.6 810.1,1397.8 811.0,1396.0 811.9,1396.0 812.8,1396.9 813.7,1399.6 814.6,1398.5 815.5,1394.6 816.4,1397.0 817.3,1393.1 818.2,1395.8 819.1,1392.9 820.0,1390.1 820.9,1395.3 821.8,1395.0 822.7,1397.4 823.6,1398.4 824.5,1401.3 825.4,1400.1 826.3,1399.6 827.2,1398.4 828.1,1401.5 829.0,1397.3 829.9,1396.2 830.8,1399.6 831.7,1399.4 832.6,1396.7 833.5,1392.0 834.4,1393.8 835.3,1395.7 836.2,1394.0 837.1,1396.5 838.0,1390.1 838.9,1393.7 840.0,1393.5 840.9,1395.5 841.8,1395.8 842.7,1397.0 843.6,1400.1 844.5,1397.3 845.4,1395.3 846.3,1395.3 847.2,1405.1 848.1,1391.2 849.0,1396.8 849.9,1400.7 850.8,1396.7 851.7,1392.0 852.6,1394.2 853.5,1396.9 854.4,1398.2 855.3,1392.5 856.2,1398.0 857.1,1396.8 858.0,1399.7 858.9,1400.7 859.8,1395.4 860.7,1392.2 861.6,1398.0 862.5,1402.7 863.4,1399.8 864.3,1398.5 865.2,1405.4 866.1,1395.1 867.0,1401.0 867.9,1396.7 868.8,1398.7 869.7,1398.9 870.6,1403.4 871.5,1396.5 872.4,1397.9 873.3,1395.0 874.2,1392.6 875.1,1398.5 876.0,1400.8 876.9,1395.6 877.8,1396.9 878.7,1400.0 879.6,1395.5 880.5,1397.2 881.4,1396.4 882.3,1393.9 883.2,1390.8 884.1,1399.1 885.0,1397.7 885.9,1401.3 886.8,1393.3 887.7,1395.6 888.6,1394.8 889.5,1399.2 890.4,1405.4 891.3,1403.9 892.2,1401.8 893.1,1402.2 894.0,1403.8 894.9,1400.3 895.8,1402.4 896.7,1401.8 897.6,1395.2 898.5,1400.9 899.4,1406.0 900.3,1400.8 901.2,1401.2 902.1,1399.4 903.0,1399.7 903.9,1404.7 904.8,1400.9 905.7,1398.9 906.6,1393.2 907.5,1401.1 908.4,1396.6 909.3,1396.4 910.2,1403.3 911.1,1402.2 912.0,1394.0 912.9,1402.1 913.8,1401.3 914.7,1398.2 915.6,1403.8 916.5,1397.7 917.4,1399.6 918.3,1399.1 919.2,1399.8 920.1,1405.2 921.0,1398.0 921.9,1397.7 922.8,1397.2 923.7,1399.8 924.6,1397.9 925.5,1401.2 926.4,1396.8 927.3,1395.2 928.2,1398.1 929.1,1400.2 930.0,1397.6 930.9,1401.2 931.8,1405.8 932.7,1397.1 933.6,1397.6 934.5,1399.7 935.4,1392.2 936.3,1389.6 937.2,1386.9 938.1,1389.1 939.0,1387.8 939.9,1383.8 940.8,1383.8 941.7,1387.2 942.6,1385.8 943.5,1379.1 944.4,1383.8 945.3,1384.4 946.2,1386.8 947.1,1384.3 948.0,1383.9 948.9,1385.2 949.8,1382.2 950.7,1393.8 951.6,1387.7 952.5,1391.7 953.4,1387.9 954.3,1390.2 955.2,1395.8 956.1,1388.6 957.0,1393.5 957.9,1389.2 958.8,1391.0 959.7,1385.7 960.6,1388.5 961.5,1382.6 962.4,1386.0 963.3,1385.8 964.2,1389.1 965.1,1380.1 966.0,1387.4 966.9,1390.4 967.8,1388.5 968.7,1389.9 969.6,1391.0 970.5,1388.9 971.4,1388.0 972.3,1390.5 973.2,1388.2 974.1,1390.8 975.0,1393.2 975.9,1392.5 976.8,1388.8 977.7,1386.3 978.6,1390.7 979.5,1390.7 980.4,1394.2 981.3,1389.9 982.2,1390.3 983.1,1392.9 984.0,1388.5 984.9,1388.9 985.8,1393.9 986.7,1392.7 987.6,1389.7 988.5,1388.3 989.4,1384.3 990.3,1388.7 991.2,1387.4 992.1,1387.9 993.0,1385.7 993.9,1387.6 994.8,1387.7 995.7,1389.8 996.6,1394.0 997.5,1391.9 998.4,1386.9 999.3,1390.1 1000.2,1389.4 1001.1,1392.6 1002.0,1397.5 1002.9,1397.7 1003.8,1395.0 1004.7,1397.4 1005.6,1393.6 1006.5,1390.4 1007.4,1388.9 1008.3,1389.1 1009.2,1394.5 1010.1,1384.9 1011.0,1391.9 1011.9,1391.9 1012.8,1387.9 1013.7,1389.0 1014.6,1387.8 1015.5,1389.9 1016.4,1391.8 1017.3,1389.4 1018.2,1391.3 1019.1,1390.5 1020.0,1386.6 1020.9,1385.5 1021.8,1384.1 1022.7,1385.4 1023.6,1382.0 1024.5,1387.8 1025.4,1388.7 1026.3,1386.9 1027.2,1396.7 1028.1,1387.9 1029.0,1388.3 1029.9,1391.7 1030.8,1384.8 1031.7,1388.3 1032.6,1386.2 1033.5,1388.2 1034.4,1390.9 1035.3,1392.3 1036.2,1394.5 1037.1,1392.6 1038.0,1392.6 1038.9,1389.6 1039.8,1385.1 1040.7,1389.0 1041.6,1383.8 1042.5,1383.6 1043.4,1390.2 1044.3,1388.6 1045.2,1387.7 1046.1,1390.0 1047.0,1391.0 1047.9,1385.1 1048.8,1389.7 1049.7,1387.1 1050.6,1391.5 1051.5,1389.3 1052.4,1395.2 1053.3,1392.5 1054.2,1388.3 1055.1,1390.7 1056.0,1387.1 1056.9,1390.5 1057.8,1392.2 1058.7,1391.2 1059.6,1384.4 1060.5,1388.8 1061.4,1390.9 1062.3,1390.2 1063.2,1393.0 1064.1,1385.6 1065.0,1390.9 1065.9,1387.4 1066.8,1390.1 1067.7,1390.7 1068.6,1391.4 1069.5,1387.3 1070.4,1389.3 1071.3,1384.9 1072.2,1383.7 1073.1,1389.1 1074.0,1387.0 1074.9,1382.3 1075.8,1385.1 1076.7,1388.1 1077.6,1383.6 1078.5,1392.2 1079.4,1391.7 1080.3,1383.9 1081.2,1388.4 1082.1,1389.8 1083.0,1389.2 1083.9,1389.5 1084.8,1388.1 1085.7,1394.8 1086.6,1394.9 1087.5,1391.0 1088.4,1389.2 1089.3,1398.6 1090.2,1390.7 1091.1,1396.0 1092.0,1398.3 1092.9,1390.0 1093.8,1399.5 1094.7,1392.9 1095.6,1395.9 1096.5,1395.7 1097.4,1405.9 1098.3,1396.5 1099.2,1394.5 1100.1,1397.2 1101.0,1392.6 1101.9,1391.4 1102.8,1398.2 1103.7,1388.5 1104.6,1389.0 1105.5,1390.2 1106.4,1386.8 1107.3,1384.2 1108.2,1394.2 1109.1,1389.4 1110.0,1390.8 1110.9,1391.8 1111.8,1390.9 1112.7,1391.1 1113.6,1395.6 1114.5,1402.8 1115.4,1398.0 1116.3,1398.3 1117.2,1391.7 1118.1,1395.7 1119.0,1391.4 1119.9,1396.8 1120.8,1393.1 1121.7,1393.3 1122.6,1392.2 1123.5,1389.6 1124.4,1385.9 1125.3,1391.4 1126.2,1384.4 1127.1,1384.1 1128.0,1386.2 1128.9,1384.5 1129.8,1387.3 1130.7,1389.7 1131.6,1387.7 1132.5,1387.4 1133.4,1387.0 1134.3,1389.3 1135.2,1380.8 1136.1,1387.2 1137.0,1383.0 1137.9,1382.2 1138.8,1386.0 1139.7,1385.7 1140.6,1389.9 1141.5,1393.1 1142.4,1384.3 1143.3,1392.2 1144.2,1399.7 1145.1,1397.0 1146.0,1398.9 1146.9,1394.5 1147.8,1389.0 1148.7,1389.4 1149.6,1394.3 1150.5,1394.9 1151.4,1389.4 1152.3,1390.9 1153.2,1392.5 1154.1,1387.0 1155.0,1391.7 1155.9,1397.9 1156.8,1400.3 1157.7,1394.3 1158.6,1400.4 1159.5,1394.0 1160.4,1393.1 1161.3,1388.4 1162.2,1397.2 1163.1,1392.0 1164.0,1398.9 1164.9,1392.0 1165.8,1391.1 1166.7,1384.7 1167.6,1394.6 1168.5,1389.6 1169.4,1390.7 1170.3,1385.8 1171.2,1395.8 1172.1,1396.6 1173.0,1392.4 1173.9,1395.3 1174.8,1396.6 1175.7,1398.8 1176.6,1396.3 1177.5,1401.4 1178.4,1395.7 1179.3,1394.5 1180.2,1394.5 1181.1,1388.1 1182.0,1393.0 1182.9,1398.6 1183.8,1396.8 1184.7,1394.0 1185.6,1398.2 1186.5,1392.1 1187.4,1397.4 1188.3,1399.5 1189.2,1398.4 1190.1,1392.2 1191.0,1395.4 1191.9,1396.6 1192.8,1388.7 1193.7,1391.9 1194.6,1385.7 1195.5,1385.6 1196.4,1394.7 1197.3,1393.7 1198.2,1394.4 1199.1,1391.8 1200.0,1391.7 1200.9,1394.3 1201.8,1396.4 1202.7,1390.5 1203.6,1386.4 1204.5,1395.8 1205.4,1394.5 1206.3,1395.2 1207.2,1394.3 1208.1,1400.6 1209.0,1393.6 1209.9,1394.4 1210.8,1386.8 1211.7,1390.7 1212.6,1390.3 1213.5,1392.5 1214.4,1394.3 1215.3,1392.0 1216.2,1400.9 1217.1,1393.7 1218.0,1396.3 1218.9,1398.9 1219.8,1394.9 1220.7,1400.4 1221.6,1400.4 1222.5,1397.8 1223.4,1404.7 1224.3,1400.1 1225.2,1401.5 1226.1,1398.3 1227.0,1396.1 1227.9,1398.8 1228.8,1398.6 1229.7,1396.8 1230.6,1398.7 1231.5,1387.8 1232.4,1390.3 1233.3,1387.5 1234.2,1396.4 1235.1,1390.3 1236.0,1390.4 1236.9,1388.6 1237.8,1394.6 1238.7,1390.7 1239.6,1392.2 1240.5,1385.4 1241.4,1394.8 1242.3,1392.2 1243.2,1392.2 1244.1,1394.1 1245.0,1389.5 1245.9,1383.1 1246.8,1392.5 1247.7,1392.0 1248.6,1390.4 1249.5,1391.7 1250.4,1390.9 1251.3,1395.2 1252.2,1396.1 1253.1,1393.5 1254.0,1399.1 1254.9,1388.3 1255.8,1391.9 1256.7,1397.5 1257.6,1390.8 1258.5,1387.1 1259.4,1396.0 1260.3,1393.4 1261.2,1387.7 1262.1,1393.0 1263.0,1387.1 1263.9,1386.0 1264.8,1389.9 1265.7,1389.9 1266.6,1389.2 1267.5,1392.7 1268.4,1392.1 1269.3,1396.0 1270.2,1395.9 1271.1,1397.6 1272.0,1393.2 1272.9,1389.7 1273.8,1389.0 1274.7,1392.4 1275.6,1398.0 1276.5,1396.1 1277.4,1392.0 1278.3,1397.1 1279.2,1390.7 1280.1,1396.8 1281.0,1392.1 1281.9,1395.1 1282.8,1394.6 1283.7,1392.0 1284.6,1394.1 1285.5,1390.2 1286.4,1393.4 1287.3,1396.9 1288.2,1405.8 1289.1,1395.3 1290.0,1393.0 1290.9,1389.4 1291.8,1395.6 1292.7,1387.8 1293.6,1391.2 1294.5,1395.4 1295.4,1391.9 1296.3,1401.0 1297.2,1400.7 1298.1,1396.1 1299.0,1396.6 1299.9,1394.5 1300.8,1393.7 1301.7,1399.3 1302.6,1399.6 1303.5,1398.6 1304.4,1398.0 1305.3,1395.2 1306.2,1397.9 1307.1,1392.0 1308.0,1396.6 1308.9,1400.6 1309.8,1399.9 1310.7,1394.3 1311.6,1394.8 1312.5,1400.0 1313.4,1400.8 1314.3,1390.9 1315.2,1394.2 1316.1,1401.2 1317.0,1398.2 1317.9,1399.9 1318.8,1394.7 1319.7,1390.8 1320.6,1398.1 1321.5,1391.9 1322.4,1389.8 1323.3,1389.4 1324.2,1394.4 1325.1,1394.2 1326.0,1389.6 1326.9,1394.4 1327.8,1390.3 1328.7,1392.8 1329.6,1391.6 1330.5,1391.9 1331.4,1393.7 1332.3,1392.5 1333.2,1396.7 1334.1,1397.2 1335.0,1393.7 1335.9,1390.9 1336.8,1397.2 1337.7,1389.3 1338.6,1390.2 1339.5,1398.9 1340.4,1407.6 1341.3,1399.2 1342.2,1394.4 1343.1,1389.9 1344.0,1390.5 1344.9,1391.9 1345.8,1385.9 1346.7,1384.7 1347.6,1381.2 1348.5,1381.0 1349.4,1387.0 1350.3,1386.6 1351.2,1382.9 1352.1,1385.2 1353.0,1388.7 1353.9,1393.9 1354.8,1390.2 1355.7,1393.8 1356.6,1387.7 1357.5,1389.7 1358.4,1393.5 1359.3,1393.7 1360.2,1386.3 1361.1,1386.5 1362.0,1391.0 1362.9,1387.9 1363.8,1388.3 1364.7,1392.6 1365.6,1392.8 1366.5,1396.5 1367.4,1396.1 1368.3,1391.8 1369.2,1392.7 1370.1,1392.0 1371.0,1387.1 1371.9,1387.5 1372.8,1398.1 1373.7,1385.0 1374.6,1393.2 1375.5,1391.3 1376.4,1390.5 1377.3,1392.8 1378.2,1392.5 1379.1,1394.6 1380.0,1389.1 1380.9,1388.5 1381.8,1387.4 1382.7,1402.6 1383.6,1389.7 1384.5,1383.6 1385.4,1385.1 1386.3,1383.4 1387.2,1385.1 1388.1,1384.9 1389.0,1390.7 1389.9,1377.5 1390.8,1385.3 1391.7,1383.0 1392.6,1378.9 1393.5,1380.0 1394.4,1378.3 1395.3,1379.0 1396.2,1380.8 1397.1,1372.1 1398.0,1379.9 1398.9,1374.3 1399.8,1379.6 1400.7,1375.5 1401.6,1377.7 1402.5,1374.9 1403.4,1375.6 1404.3,1371.6 1405.2,1367.9 1406.1,1371.5 1407.0,1371.1 1407.9,1375.3 1408.8,1363.6 1409.7,1369.6 1410.6,1373.8 1411.5,1367.4 1412.4,1364.1 1413.3,1377.5 1414.2,1374.7 1415.1,1366.9 1416.0,1372.5 1416.9,1370.5 1417.8,1367.7 1418.7,1365.5 1419.6,1363.8 1420.5,1359.6 1421.4,1360.0 1422.3,1364.1 1423.2,1363.4 1424.1,1369.8 1425.0,1364.6 1425.9,1359.7 1426.8,1366.8 1427.7,1369.9 1428.6,1371.2 1429.5,1371.4 1430.4,1369.7 1431.3,1377.7 1432.2,1372.2 1433.1,1377.2 1434.0,1374.8 1434.9,1373.1 1435.8,1381.7 1436.7,1370.4 1437.6,1376.3 1438.5,1380.5 1439.4,1378.6 1440.3,1382.4 1441.2,1379.8 1442.1,1378.1 1443.0,1385.2 1443.9,1377.5 1444.8,1377.0 1445.7,1373.7 1446.6,1374.6 1447.5,1379.1 1448.4,1379.7 1449.3,1379.3 1450.2,1378.9 1451.1,1384.7 1452.0,1379.3 1452.9,1385.1 1453.8,1386.7 1454.7,1385.8 1455.6,1389.2 1456.5,1386.9 1457.4,1386.5 1458.3,1394.2 1459.2,1390.8 1460.1,1392.6 1461.0,1390.0 1461.9,1393.7 1462.8,1394.0 1463.7,1396.7 1464.6,1401.0 1465.5,1393.9 1466.4,1395.9 1467.3,1395.2 1468.2,1385.0 1469.1,1391.2 1470.0,1395.5 1470.9,1397.2 1471.8,1393.5 1472.7,1398.8 1473.6,1400.0 1474.5,1395.7 1475.4,1402.0 1476.3,1404.1 1477.2,1400.9 1478.1,1396.7 1479.0,1404.1 1479.9,1399.0 1480.8,1398.4 1481.7,1399.9 1482.6,1397.9 1483.5,1402.9 1484.4,1402.0 1485.3,1402.9 1486.2,1400.6 1487.1,1395.8 1488.0,1397.3 1488.9,1400.1 1489.8,1396.4 1490.7,1406.7 1491.6,1397.9 1492.5,1397.2 1493.4,1402.6 1494.3,1401.5 1495.2,1399.0 1496.1,1398.1 1497.0,1399.6 1497.9,1400.5 1498.8,1400.2 1499.7,1397.1 1500.6,1399.7 1501.5,1401.8 1502.4,1403.0 1503.3,1393.0 1504.2,1401.3 1505.1,1403.1 1506.0,1405.7 1506.9,1407.2 1507.8,1409.3 1508.7,1407.8 1509.6,1404.8 1510.5,1404.8 1511.4,1410.1 1512.3,1403.5 1513.2,1407.1 1514.1,1411.7 1515.0,1408.7 1515.9,1402.1 1516.8,1409.7 1517.7,1407.3 1518.6,1407.9 1519.5,1411.6 1520.4,1410.1 1521.3,1408.3 1522.2,1412.3 1523.1,1411.0 1524.0,1410.0 1524.9,1410.7 1525.8,1410.6 1526.7,1408.9 1527.6,1408.7 1528.5,1410.6 1529.4,1408.5 1530.3,1408.3 1531.2,1416.1 1532.1,1411.7 1533.0,1412.1 1533.9,1411.2 1534.8,1411.2 1535.7,1410.1 1536.6,1409.6 1537.5,1406.8 1538.4,1412.2 1539.3,1407.5 1540.2,1413.0 1541.1,1404.4 1542.0,1407.1 1542.9,1413.3 1543.8,1409.1 1544.7,1406.7 1545.6,1409.0 1546.5,1403.7 1547.4,1406.7 1548.3,1399.2 1549.2,1403.8 1550.1,1402.6 1551.0,1405.5 1551.9,1405.7 1552.8,1399.4 1553.7,1406.2 1554.6,1399.6 1555.5,1395.8 1556.4,1395.9 1557.3,1409.0 1558.2,1405.6 1559.1,1404.9 1560.0,1405.2 1560.9,1404.5 1561.8,1412.0 1562.7,1407.6 1563.6,1413.3 1564.5,1408.2 1565.4,1402.3 1566.3,1412.2 1567.2,1408.7 1568.1,1408.5 1569.0,1412.8 1569.9,1405.7 1570.8,1408.4 1571.7,1404.0 1572.6,1401.6 1573.5,1405.7 1574.4,1403.6 1575.3,1410.6 1576.2,1410.7 1577.1,1408.8 1578.0,1410.5 1578.9,1409.9 1579.8,1407.0 1580.7,1410.1 1581.6,1406.6 1582.5,1409.0 1583.4,1404.3 1584.3,1407.6 1585.2,1408.3 1586.1,1404.1 1587.0,1404.5 1587.9,1403.7 1588.8,1407.0 1589.7,1402.2 1590.6,1405.9 1591.5,1409.3 1592.4,1406.2 1593.3,1400.8 1594.2,1406.5 1595.1,1410.0 1596.0,1406.6 1596.9,1411.9 1597.8,1410.9 1598.7,1410.9 1599.6,1408.9 1600.5,1407.9 1601.4,1408.0 1602.3,1407.7 1603.2,1408.3 1604.1,1406.8 1605.0,1404.0 1605.9,1404.5 1606.8,1405.1 1607.7,1398.8 1608.6,1401.1 1609.5,1400.9 1610.4,1402.5 1611.3,1402.6 1612.2,1402.9 1613.1,1401.4 1614.0,1406.2 1614.9,1405.0 1615.8,1399.5 1616.7,1404.1 1617.6,1400.4 1618.5,1408.2 1619.4,1401.0 1620.3,1400.4"/>
<polyline stroke="#569990" points="163.0,987.6 163.9,986.2 164.8,983.2 165.7,984.5 166.6,989.6 167.5,990.8 168.4,995.6 169.3,1000.3 170.2,1000.5 171.1,1006.9 172.0,1004.8 172.9,1003.9 173.8,999.8 174.7,998.9 175.6,998.0 176.5,998.2 177.4,998.4 178.3,1001.3 179.2,1007.0 180.1,1008.9 181.0,1008.1 181.9,1011.0 182.8,1018.0 183.7,1015.8 184.6,1020.0 185.5,1021.5 186.4,1018.7 187.3,1020.3 188.2,1022.1 189.1,1021.5 190.0,1022.4 190.9,1023.9 191.8,1026.0 192.7,1023.4 193.6,1023.7 194.5,1023.0 195.4,1021.2 196.3,1026.1 197.2,1019.0 198.1,1021.8 199.0,1023.8 199.9,1020.1 200.8,1023.5 201.7,1024.4 202.6,1020.4 203.5,1022.1 204.4,1021.1 205.3,1027.2 206.2,1029.6 207.1,1033.1 208.0,1038.4 208.9,1040.0 209.8,1044.7 210.7,1043.1 211.6,1038.5 212.5,1039.8 213.4,1038.8 214.3,1034.0 215.2,1037.6 216.1,1034.0 217.0,1033.2 217.9,1029.6 218.8,1031.6 219.7,1032.4 220.6,1031.7 221.5,1032.9 222.4,1029.4 223.3,1036.1 224.2,1032.4 225.1,1032.2 226.0,1036.2 226.9,1038.1 227.8,1042.3 228.7,1041.4 229.6,1045.3 230.5,1044.8 231.4,1052.2 232.3,1049.6 233.2,1051.3 234.1,1045.2 235.0,1047.4 235.9,1043.7 236.8,1045.7 237.7,1045.1 238.6,1040.2 239.5,1040.2 240.4,1039.4 241.3,1038.0 242.2,1038.6 243.1,1037.4 244.0,1035.7 244.9,1037.7 245.8,1038.0 246.7,1034.4 247.6,1035.6 248.5,1036.5 249.4,1035.8 250.3,1034.8 251.2,1037.4 252.1,1037.3 253.0,1036.8 253.9,1035.0 254.8,1038.8 255.7,1038.2 256.6,1034.1 257.5,1034.5 258.4,1036.6 259.3,1032.9 260.2,1034.9 261.1,1034.3 262.0,1033.5 262.9,1034.8 263.8,1033.0 264.7,1035.4 265.6,1033.3 266.5,1041.5 267.4,1040.6 268.3,1040.7 269.2,1039.5 270.1,1041.3 271.0,1042.3 271.9,1042.4 272.8,1042.8 273.7,1040.0 274.6,1043.0 275.5,1041.8 276.4,1041.2 277.3,1042.0 278.2,1045.5 279.1,1047.4 280.0,1043.7 280.9,1050.1 281.8,1050.3 282.7,1047.7 283.6,1048.3 284.5,1049.7 285.4,1052.3 286.3,1050.6 287.2,1050.0 288.1,1053.3 289.0,1049.7 289.9,1054.4 290.8,1056.9 291.7,1053.7 292.6,1052.1 293.5,1049.2 294.4,1047.2 295.3,1043.8 296.2,1039.6 297.1,1038.3 298.0,1036.2 298.9,1036.2 299.8,1034.4 300.7,1029.8 301.6,1025.3 302.5,1023.0 303.4,1021.5 304.3,1023.6 305.2,1021.1 306.1,1019.8 307.0,1017.9 307.9,1020.3 308.8,1018.6 309.7,1017.4 310.6,1017.1 311.5,1019.3 312.4,1015.4 313.3,1019.6 314.2,1020.3 315.1,1019.7 316.0,1022.7 316.9,1022.4 317.8,1022.7 318.7,1025.2 319.6,1025.6 320.5,1029.7 321.4,1030.3 322.3,1031.6 323.2,1031.4 324.1,1023.6 325.0,1029.1 325.9,1024.6 326.8,1027.4 327.7,1024.9 328.6,1025.9 329.5,1027.5 330.4,1021.3 331.3,1024.0 332.2,1022.8 333.1,1018.9 334.0,1022.8 334.9,1023.5 335.8,1024.4 336.7,1025.8 337.6,1034.7 338.5,1030.1 339.4,1029.4 340.3,1032.8 341.2,1035.7 342.1,1037.5 343.0,1039.9 343.9,1038.6 344.8,1042.0 345.7,1040.7 346.6,1039.6 347.5,1041.1 348.4,1042.4 349.3,1045.2 350.2,1045.1 351.1,1044.1 352.0,1045.3 352.9,1046.1 353.8,1049.9 354.7,1045.7 355.6,1048.2 356.5,1049.1 357.4,1046.6 358.3,1049.2 359.2,1049.8 360.1,1049.3 361.0,1051.9 361.9,1053.4 362.8,1054.2 363.7,1052.5 364.6,1053.8 365.5,1058.4 366.4,1052.8 367.3,1055.9 368.2,1057.8 369.1,1057.1 370.0,1058.7 370.9,1058.5 371.8,1060.2 372.7,1061.8 373.6,1059.8 374.5,1061.2 375.4,1061.4 376.3,1061.5 377.2,1062.9 378.1,1061.5 379.0,1065.6 379.9,1068.0 380.8,1067.7 381.7,1066.4 382.6,1062.0 383.5,1066.0 384.4,1061.5 385.3,1062.3 386.2,1061.4 387.1,1038.2 388.0,1023.8 388.9,1005.0 389.8,986.3 390.7,969.4 391.6,963.5 392.5,954.0 393.4,948.2 394.3,940.3 395.2,928.5 396.1,921.6 397.0,917.7 397.9,917.5 398.8,918.4 399.7,920.5 400.6,920.9 401.5,920.3 402.4,922.1 403.3,923.9 404.2,922.0 405.1,918.6 406.0,917.4 406.9,913.5 407.8,906.9 408.7,903.5 409.6,901.5 410.5,891.9 411.4,881.2 412.3,869.4 413.2,858.8 414.1,844.1 415.0,832.8 415.9,809.4 416.8,787.2 417.7,761.6 418.6,735.7 419.5,713.5 420.4,697.5 421.3,680.3 422.2,664.0 423.1,648.5 424.0,633.1 424.9,615.8 425.8,603.4 426.7,602.2 427.6,601.3 428.5,600.1 429.4,600.7 430.3,601.4 431.2,606.7 432.1,613.0 433.0,617.8 433.9,623.4 434.8,626.1 435.7,636.0 436.6,642.6 437.5,650.2 438.4,657.9 439.3,667.7 440.2,669.3 441.1,668.9 442.0,669.7 442.9,672.1 443.8,672.8 444.7,679.1 445.6,681.0 446.5,685.6 447.4,692.2 448.3,697.5 449.2,702.7 450.1,709.2 451.0,723.3 451.9,733.7 452.8,746.4 453.7,758.0 454.6,772.8 455.5,789.1 456.4,804.0 457.3,821.5 458.2,836.4 459.1,853.2 460.0,861.7 460.9,870.1 461.8,880.2 462.7,889.1 463.6,898.6 464.5,903.2 465.4,904.4 466.3,906.1 467.2,904.7 468.1,905.2 469.0,903.0 469.9,902.9 470.8,900.1 471.7,896.9 472.6,896.0 473.5,893.7 474.4,889.0 475.3,889.5 476.2,887.6 477.1,889.3 478.0,891.4 478.9,895.8 479.8,897.7 480.7,900.2 481.6,899.4 482.5,902.0 483.4,905.8 484.3,906.6 485.2,910.5 486.1,912.8 487.0,919.8 487.9,922.4 488.8,925.2 489.7,928.3 490.6,922.0 491.5,915.1 492.4,909.3 493.3,901.1 494.2,896.2 495.1,891.9 496.0,890.3 496.9,891.2 497.8,888.5 498.7,888.0 499.6,889.1 500.5,891.1 501.4,897.7 502.3,899.5 503.2,905.8 504.1,906.9 505.0,910.4 505.9,916.4 506.8,918.8 507.7,915.9 508.6,911.9 509.5,911.3 510.4,906.3 511.3,904.7 512.2,901.7 513.1,906.1 514.0,919.8 514.9,930.7 515.8,944.3 516.7,956.8 517.6,966.8 518.5,979.7 519.4,985.2 520.3,985.9 521.2,987.6 522.1,986.3 523.0,989.8 523.9,990.7 524.8,990.6 525.7,989.4 526.6,990.6 527.5,989.8 528.4,990.6 529.3,989.7 530.2,990.3 531.1,988.8 532.0,990.5 532.9,986.5 533.8,987.5 534.7,988.7 535.6,986.5 536.5,991.2 537.4,991.7 538.3,995.5 539.2,996.9 540.1,1000.0 541.0,1004.8 541.9,1008.6 542.8,1012.5 543.7,1019.2 544.6,1021.1 545.5,1017.4 546.4,1015.8 547.3,1012.1 548.2,1008.9 549.1,1005.9 550.0,999.7 550.9,998.2 551.8,994.8 552.7,990.2 553.6,987.0 554.5,982.3 555.4,983.9 556.3,985.3 557.2,980.9 558.1,981.3 559.0,967.2 559.9,945.6 560.8,924.8 561.7,899.5 562.6,890.0 563.5,884.9 564.4,876.7 565.3,872.0 566.2,867.9 567.1,871.4 568.0,879.9 568.9,885.9 569.8,897.6 570.7,907.3 571.6,908.1 572.5,905.9 573.4,906.7 574.3,901.0 575.2,897.8 576.1,896.6 577.0,893.7 577.9,884.5 578.8,875.5 579.7,867.2 580.6,857.4 581.5,846.8 582.4,844.3 583.3,841.3 584.2,836.7 585.1,835.6 586.0,839.6 586.9,842.1 587.8,847.7 588.7,855.1 589.6,863.3 590.5,870.2 591.4,879.8 592.3,886.6 593.2,893.5 594.1,901.9 595.0,907.4 595.9,913.6 596.8,918.7 597.7,925.8 598.6,936.5 599.5,950.1 600.4,958.5 601.3,959.2 602.2,963.2 603.1,960.6 604.0,964.8 604.9,972.0 605.8,976.0 606.7,976.1 607.6,978.5 608.5,979.1 609.4,984.2 610.3,984.3 611.2,978.0 612.1,982.0 613.0,980.9 613.9,980.7 614.8,979.8 615.7,986.7 616.6,984.7 617.5,994.8 618.4,994.4 619.3,994.2 620.2,1001.0 621.1,1000.8 622.0,996.8 622.9,1003.9 623.8,996.5 624.7,999.9 625.6,1002.2 626.5,994.2 627.4,1002.3 628.3,1001.3 629.2,1003.2 630.1,1002.5 631.0,1007.8 631.9,1006.1 632.8,1007.7 633.7,1010.1 634.6,1009.4 635.5,1017.3 636.4,1011.5 637.3,1014.0 638.2,1016.2 639.1,1018.0 640.0,1020.3 640.9,1020.7 641.8,1018.3 642.7,1018.5 643.6,1019.8 644.5,1022.0 645.4,1022.1 646.3,1017.7 647.2,1009.1 648.1,1014.3 649.0,1006.5 649.9,1005.4 650.8,1010.6 651.7,1013.5 652.6,1017.4 653.5,1024.0 654.4,1025.8 655.3,1022.0 656.2,1017.2 657.1,1017.2 658.0,1016.5 658.9,1011.1 659.8,1009.5 660.7,1001.7 661.6,1008.5 662.5,1013.7 663.4,1016.0 664.3,1019.7 665.2,1029.8 666.1,1027.6 667.0,1028.2 667.9,1023.5 668.8,1023.4 669.7,1018.5 670.6,1013.2 671.5,1014.0 672.4,1010.9 673.3,1014.8 674.2,1014.3 675.1,1016.5 676.0,1021.6 676.9,1024.4 677.8,1025.5 678.7,1028.3 679.6,1029.0 680.5,1031.8 681.4,1029.7 682.3,1026.2 683.2,1023.0 684.1,1020.7 685.0,1023.8 685.9,1019.2 686.8,1019.8 687.7,1020.7 688.6,1022.7 689.5,1024.6 690.4,1022.5 691.3,1021.6 692.2,1028.3 693.1,1024.9 694.0,1030.6 694.9,1031.5 695.8,1034.2 696.7,1033.6 697.6,1028.8 698.5,1024.8 699.4,1021.5 700.3,1020.7 701.2,1020.9 702.1,1015.1 703.0,1019.7 703.9,1018.9 704.8,1019.9 705.7,1017.0 706.6,1017.5 707.5,1016.4 708.4,1019.0 709.3,1017.9 710.2,1024.5 711.1,1029.9 712.0,1028.6 712.9,1030.9 713.8,1028.0 714.7,1034.2 715.6,1029.3 716.5,1033.4 717.4,1032.1 718.3,1029.9 719.2,1035.0 720.1,1032.9 721.0,1033.6 721.9,1034.6 722.8,1033.9 723.7,1033.4 724.6,1035.7 725.5,1034.0 726.4,1035.5 727.3,1034.1 728.2,1032.4 729.1,1034.7 730.0,1035.5 730.9,1037.1 731.8,1040.2 732.7,1033.7 733.6,1038.4 734.5,1033.1 735.4,1036.3 736.3,1037.2 737.2,1031.2 738.1,1030.3 739.0,1033.4 739.9,1031.4 740.8,1030.6 741.7,1031.7 742.6,1041.6 743.5,1038.7 744.4,1039.8 745.3,1047.6 746.2,1044.8 747.1,1042.1 748.0,1045.6 748.9,1042.8 749.8,1043.7 750.7,1042.4 751.6,1039.1 752.5,1046.5 753.4,1049.5 754.3,1051.6 755.2,1057.2 756.1,1066.2 757.0,1067.9 757.9,1073.6 758.8,1079.8 759.7,1083.3 760.6,1084.1 761.5,1092.0 762.4,1093.8 763.3,1094.8 764.2,1097.8 765.1,1096.0 766.0,1098.1 766.9,1101.1 767.8,1098.1 768.7,1103.2 769.6,1103.6 770.5,1102.0 771.4,1104.7 772.3,1103.0 773.2,1099.7 774.1,1104.4 775.0,1103.1 775.9,1103.8 776.8,1103.7 777.7,1107.4 778.6,1107.9 779.5,1107.5 780.4,1112.1 781.3,1114.8 782.2,1113.3 783.1,1112.7 784.0,1111.6 784.9,1109.9 785.8,1110.7 786.7,1110.8 787.6,1111.4 788.5,1108.8 789.4,1109.5 790.3,1111.9 791.2,1114.5 792.1,1113.3 793.0,1117.6 793.9,1117.4 794.8,1115.0 795.7,1112.9 796.6,1111.3 797.5,1110.3 798.4,1106.8 799.3,1108.9 800.2,1106.3 801.1,1106.4 802.0,1107.1 802.9,1108.1 803.8,1105.8 804.7,1107.0 805.6,1104.2 806.5,1103.3 807.4,1104.1 808.3,1111.3 809.2,1104.8 810.1,1109.7 811.0,1111.9 811.9,1108.3 812.8,1112.7 813.7,1113.4 814.6,1111.9 815.5,1115.0 816.4,1111.7 817.3,1109.4 818.2,1112.4 819.1,1110.9 820.0,1109.6 820.9,1110.1 821.8,1117.7 822.7,1112.5 823.6,1113.9 824.5,1113.1 825.4,1115.1 826.3,1114.0 827.2,1113.0 828.1,1110.6 829.0,1109.5 829.9,1110.1 830.8,1111.4 831.7,1114.2 832.6,1111.4 833.5,1112.2 834.4,1108.8 835.3,1106.9 836.2,1103.7 837.1,1105.6 838.0,1100.6 838.9,1103.5 840.0,1108.9 840.9,1115.4 841.8,1102.4 842.7,1106.4 843.6,1102.6 844.5,1106.4 845.4,1106.1 846.3,1117.5 847.2,1106.9 848.1,1110.8 849.0,1109.3 849.9,1103.8 850.8,1106.2 851.7,1109.4 852.6,1104.6 853.5,1104.6 854.4,1105.4 855.3,1099.7 856.2,1102.7 857.1,1107.1 858.0,1109.4 858.9,1106.5 859.8,1110.2 860.7,1112.2 861.6,1113.1 862.5,1116.1 863.4,1114.5 864.3,1114.7 865.2,1109.1 866.1,1109.5 867.0,1112.7 867.9,1105.8 868.8,1110.0 869.7,1106.1 870.6,1104.4 871.5,1107.7 872.4,1103.0 873.3,1101.9 874.2,1102.2 875.1,1103.9 876.0,1111.4 876.9,1096.7 877.8,1102.4 878.7,1101.5 879.6,1105.0 880.5,1102.0 881.4,1096.9 882.3,1109.7 883.2,1104.1 884.1,1108.5 885.0,1105.7 885.9,1106.7 886.8,1108.1 887.7,1111.5 888.6,1110.8 889.5,1106.0 890.4,1109.2 891.3,1106.9 892.2,1109.0 893.1,1110.0 894.0,1112.4 894.9,1109.0 895.8,1110.8 896.7,1112.1 897.6,1112.0 898.5,1109.5 899.4,1116.5 900.3,1110.2 901.2,1113.8 902.1,1111.8 903.0,1114.3 903.9,1103.4 904.8,1115.3 905.7,1108.0 906.6,1104.9 907.5,1109.4 908.4,1116.4 909.3,1112.2 910.2,1107.8 911.1,1111.0 912.0,1116.4 912.9,1108.2 913.8,1111.6 914.7,1111.0 915.6,1118.2 916.5,1110.7 917.4,1115.6 918.3,1109.9 919.2,1109.0 920.1,1114.2 921.0,1112.7 921.9,1106.0 922.8,1113.1 923.7,1113.7 924.6,1110.4 925.5,1113.2 926.4,1113.3 927.3,1110.6 928.2,1109.6 929.1,1108.1 930.0,1108.3 930.9,1104.6 931.8,1108.3 932.7,1104.5 933.6,1109.9 934.5,1110.5 935.4,1108.7 936.3,1114.8 937.2,1118.5 938.1,1116.1 939.0,1106.2 939.9,1112.1 940.8,1107.1 941.7,1113.3 942.6,1101.4 943.5,1102.1 944.4,1105.2 945.3,1102.2 946.2,1099.7 947.1,1099.3 948.0,1100.5 948.9,1103.6 949.8,1107.6 950.7,1098.8 951.6,1101.8 952.5,1100.5 953.4,1099.1 954.3,1102.3 955.2,1102.6 956.1,1097.0 957.0,1098.6 957.9,1105.8 958.8,1103.3 959.7,1103.9 960.6,1100.6 961.5,1100.6 962.4,1108.8 963.3,1098.7 964.2,1096.4 965.1,1099.4 966.0,1101.9 966.9,1089.7 967.8,1102.1 968.7,1100.4 969.6,1095.0 970.5,1096.7 971.4,1095.2 972.3,1096.0 973.2,1095.3 974.1,1089.3 975.0,1089.2 975.9,1096.7 976.8,1095.1 977.7,1097.3 978.6,1098.3 979.5,1103.2 980.4,1095.9 981.3,1103.1 982.2,1097.6 983.1,1101.9 984.0,1102.7 984.9,1093.6 985.8,1098.0 986.7,1095.4 987.6,1095.4 988.5,1096.8 989.4,1094.2 990.3,1095.3 991.2,1100.6 992.1,1101.5 993.0,1097.0 993.9,1093.9 994.8,1104.3 995.7,1100.4 996.6,1090.6 997.5,1093.5 998.4,1095.5 999.3,1098.6 1000.2,1096.1 1001.1,1105.0 1002.0,1101.7 1002.9,1103.1 1003.8,1099.3 1004.7,1099.9 1005.6,1099.9 1006.5,1102.8 1007.4,1099.0 1008.3,1094.9 1009.2,1092.3 1010.1,1087.9 1011.0,1087.8 1011.9,1078.8 1012.8,1079.2 1013.7,1086.4 1014.6,1094.9 1015.5,1093.1 1016.4,1098.9 1017.3,1100.9 1018.2,1103.5 1019.1,1103.5 1020.0,1100.8 1020.9,1103.2 1021.8,1107.4 1022.7,1108.7 1023.6,1108.7 1024.5,1109.3 1025.4,1106.0 1026.3,1106.3 1027.2,1109.9 1028.1,1103.5 1029.0,1105.9 1029.9,1099.5 1030.8,1102.5 1031.7,1100.0 1032.6,1097.1 1033.5,1101.2 1034.4,1096.5 1035.3,1097.6 1036.2,1098.3 1037.1,1097.5 1038.0,1104.7 1038.9,1099.8 1039.8,1102.5 1040.7,1098.7 1041.6,1101.8 1042.5,1102.7 1043.4,1103.6 1044.3,1103.0 1045.2,1105.8 1046.1,1110.2 1047.0,1105.0 1047.9,1104.5 1048.8,1103.4 1049.7,1111.8 1050.6,1109.2 1051.5,1106.5 1052.4,1107.3 1053.3,1103.4 1054.2,1105.0 1055.1,1105.6 1056.0,1104.5 1056.9,1100.3 1057.8,1091.9 1058.7,1102.0 1059.6,1100.6 1060.5,1093.3 1061.4,1100.0 1062.3,1104.0 1063.2,1099.3 1064.1,1103.2 1065.0,1099.3 1065.9,1107.3 1066.8,1101.9 1067.7,1101.7 1068.6,1104.3 1069.5,1111.9 1070.4,1102.3 1071.3,1099.8 1072.2,1104.5 1073.1,1103.7 1074.0,1107.7 1074.9,1099.1 1075.8,1097.8 1076.7,1101.1 1077.6,1102.2 1078.5,1102.0 1079.4,1103.8 1080.3,1096.1 1081.2,1098.4 1082.1,1101.1 1083.0,1104.6 1083.9,1104.1 1084.8,1101.9 1085.7,1100.6 1086.6,1106.3 1087.5,1107.0 1088.4,1112.9 1089.3,1105.0 1090.2,1110.9 1091.1,1103.4 1092.0,1105.7 1092.9,1105.2 1093.8,1105.4 1094.7,1103.4 1095.6,1103.2 1096.5,1103.5 1097.4,1101.4 1098.3,1104.2 1099.2,1102.0 1100.1,1102.4 1101.0,1107.9 1101.9,1105.2 1102.8,1105.6 1103.7,1106.0 1104.6,1106.7 1105.5,1108.5 1106.4,1104.4 1107.3,1109.9 1108.2,1110.7 1109.1,1108.7 1110.0,1102.8 1110.9,1098.7 1111.8,1101.1 1112.7,1102.0 1113.6,1103.6 1114.5,1100.7 1115.4,1101.0 1116.3,1107.2 1117.2,1101.4 1118.1,1107.0 1119.0,1107.0 1119.9,1100.1 1120.8,1104.6 1121.7,1101.7 1122.6,1100.2 1123.5,1097.9 1124.4,1099.2 1125.3,1106.0 1126.2,1104.4 1127.1,1107.3 1128.0,1104.0 1128.9,1106.3 1129.8,1106.2 1130.7,1101.9 1131.6,1100.3 1132.5,1105.0 1133.4,1102.8 1134.3,1098.2 1135.2,1099.5 1136.1,1101.5 1137.0,1105.3 1137.9,1098.1 1138.8,1104.0 1139.7,1110.5 1140.6,1106.4 1141.5,1112.6 1142.4,1101.9 1143.3,1114.9 1144.2,1110.6 1145.1,1104.7 1146.0,1111.4 1146.9,1110.9 1147.8,1109.9 1148.7,1114.4 1149.6,1104.1 1150.5,1101.8 1151.4,1102.8 1152.3,1105.1 1153.2,1107.0 1154.1,1105.4 1155.0,1107.5 1155.9,1110.3 1156.8,1108.6 1157.7,1114.1 1158.6,1113.2 1159.5,1102.8 1160.4,1104.0 1161.3,1106.6 1162.2,1100.7 1163.1,1105.2 1164.0,1090.5 1164.9,1099.5 1165.8,1101.4 1166.7,1104.4 1167.6,1101.1 1168.5,1101.1 1169.4,1104.7 1170.3,1103.2 1171.2,1102.3 1172.1,1102.8 1173.0,1095.7 1173.9,1098.3 1174.8,1094.9 1175.7,1099.5 1176.6,1099.2 1177.5,1094.3 1178.4,1102.1 1179.3,1095.6 1180.2,1103.3 1181.1,1101.4 1182.0,1099.0 1182.9,1099.4 1183.8,1103.2 1184.7,1115.1 1185.6,1105.1 1186.5,1110.2 1187.4,1104.9 1188.3,1109.3 1189.2,1108.8 1190.1,1102.5 1191.0,1108.0 1191.9,1102.7 1192.8,1098.4 1193.7,1103.5 1194.6,1104.4 1195.5,1107.4 1196.4,1102.9 1197.3,1108.2 1198.2,1107.5 1199.1,1106.2 1200.0,1106.3 1200.9,1103.6 1201.8,1100.9 1202.7,1104.8 1203.6,1106.2 1204.5,1104.7 1205.4,1103.7 1206.3,1100.0 1207.2,1106.7 1208.1,1105.6 1209.0,1100.5 1209.9,1104.6 1210.8,1106.3 1211.7,1104.2 1212.6,1107.0 1213.5,1107.0 1214.4,1100.2 1215.3,1103.0 1216.2,1104.1 1217.1,1103.7 1218.0,1103.6 1218.9,1092.3 1219.8,1096.7 1220.7,1099.0 1221.6,1101.1 1222.5,1103.7 1223.4,1097.6 1224.3,1101.1 1225.2,1101.1 1226.1,1108.0 1227.0,1102.4 1227.9,1110.2 1228.8,1109.2 1229.7,1107.3 1230.6,1098.5 1231.5,1102.1 1232.4,1105.5 1233.3,1098.9 1234.2,1111.6 1235.1,1103.5 1236.0,1107.7 1236.9,1106.9 1237.8,1108.5 1238.7,1107.9 1239.6,1110.3 1240.5,1110.5 1241.4,1112.9 1242.3,1109.9 1243.2,1112.4 1244.1,1102.8 1245.0,1109.6 1245.9,1103.9 1246.8,1106.2 1247.7,1102.1 1248.6,1104.4 1249.5,1106.8 1250.4,1101.8 1251.3,1105.3 1252.2,1106.6 1253.1,1109.5 1254.0,1105.5 1254.9,1110.4 1255.8,1110.3 1256.7,1108.4 1257.6,1109.5 1258.5,1104.6 1259.4,1112.1 1260.3,1108.3 1261.2,1111.4 1262.1,1102.3 1263.0,1100.9 1263.9,1104.7 1264.8,1099.2 1265.7,1104.9 1266.6,1102.9 1267.5,1104.5 1268.4,1106.6 1269.3,1105.8 1270.2,1111.1 1271.1,1106.8 1272.0,1100.2 1272.9,1106.5 1273.8,1099.3 1274.7,1103.4 1275.6,1099.6 1276.5,1101.3 1277.4,1108.6 1278.3,1103.8 1279.2,1103.9 1280.1,1104.8 1281.0,1105.9 1281.9,1110.9 1282.8,1103.3 1283.7,1102.7 1284.6,1108.0 1285.5,1101.5 1286.4,1105.4 1287.3,1110.4 1288.2,1107.4 1289.1,1106.4 1290.0,1106.2 1290.9,1106.0 1291.8,1106.9 1292.7,1108.9 1293.6,1112.2 1294.5,1111.4 1295.4,1107.2 1296.3,1106.6 1297.2,1110.8 1298.1,1103.0 1299.0,1106.8 1299.9,1106.7 1300.8,1103.5 1301.7,1103.4 1302.6,1106.7 1303.5,1100.3 1304.4,1102.2 1305.3,1102.3 1306.2,1103.8 1307.1,1098.9 1308.0,1105.9 1308.9,1102.0 1309.8,1102.5 1310.7,1103.3 1311.6,1104.2 1312.5,1105.2 1313.4,1112.7 1314.3,1111.3 1315.2,1110.6 1316.1,1113.6 1317.0,1107.9 1317.9,1110.7 1318.8,1107.8 1319.7,1104.0 1320.6,1108.2 1321.5,1101.2 1322.4,1107.1 1323.3,1102.4 1324.2,1105.9 1325.1,1108.4 1326.0,1105.3 1326.9,1101.6 1327.8,1103.1 1328.7,1102.1 1329.6,1100.3 1330.5,1101.1 1331.4,1104.9 1332.3,1106.6 1333.2,1099.8 1334.1,1104.1 1335.0,1104.7 1335.9,1102.9 1336.8,1099.0 1337.7,1104.4 1338.6,1097.4 1339.5,1102.7 1340.4,1105.3 1341.3,1094.3 1342.2,1101.1 1343.1,1100.8 1344.0,1099.7 1344.9,1096.3 1345.8,1097.2 1346.7,1093.8 1347.6,1097.9 1348.5,1099.3 1349.4,1096.3 1350.3,1096.1 1351.2,1097.9 1352.1,1099.7 1353.0,1099.8 1353.9,1099.6 1354.8,1099.8 1355.7,1095.5 1356.6,1091.4 1357.5,1101.7 1358.4,1104.5 1359.3,1096.7 1360.2,1098.7 1361.1,1101.3 1362.0,1102.9 1362.9,1101.9 1363.8,1103.4 1364.7,1099.4 1365.6,1100.9 1366.5,1102.0 1367.4,1100.5 1368.3,1105.9 1369.2,1104.7 1370.1,1106.2 1371.0,1102.1 1371.9,1105.9 1372.8,1099.1 1373.7,1102.6 1374.6,1093.0 1375.5,1097.3 1376.4,1102.1 1377.3,1098.3 1378.2,1099.8 1379.1,1094.2 1380.0,1103.1 1380.9,1099.1 1381.8,1096.1 1382.7,1096.2 1383.6,1095.1 1384.5,1097.5 1385.4,1093.9 1386.3,1089.2 1387.2,1093.2 1388.1,1098.4 1389.0,1096.9 1389.9,1094.5 1390.8,1098.1 1391.7,1097.0 1392.6,1098.8 1393.5,1092.7 1394.4,1095.5 1395.3,1100.6 1396.2,1098.4 1397.1,1100.1 1398.0,1104.5 1398.9,1097.2 1399.8,1097.5 1400.7,1093.7 1401.6,1092.0 1402.5,1092.1 1403.4,1087.1 1404.3,1084.2 1405.2,1093.9 1406.1,1089.5 1407.0,1093.0 1407.9,1090.3 1408.8,1090.1 1409.7,1091.6 1410.6,1091.2 1411.5,1084.9 1412.4,1090.9 1413.3,1083.5 1414.2,1085.9 1415.1,1091.8 1416.0,1083.9 1416.9,1088.8 1417.8,1083.0 1418.7,1086.5 1419.6,1085.5 1420.5,1087.1 1421.4,1083.6 1422.3,1083.8 1423.2,1087.8 1424.1,1082.6 1425.0,1084.9 1425.9,1089.6 1426.8,1086.3 1427.7,1085.9 1428.6,1085.8 1429.5,1090.3 1430.4,1089.5 1431.3,1091.7 1432.2,1091.8 1433.1,1099.1 1434.0,1093.6 1434.9,1090.5 1435.8,1097.7 1436.7,1098.5 1437.6,1099.6 1438.5,1095.1 1439.4,1103.5 1440.3,1100.2 1441.2,1100.3 1442.1,1095.8 1443.0,1101.7 1443.9,1099.9 1444.8,1103.9 1445.7,1098.4 1446.6,1095.9 1447.5,1099.6 1448.4,1096.2 1449.3,1100.2 1450.2,1096.2 1451.1,1099.7 1452.0,1100.4 1452.9,1102.3 1453.8,1102.1 1454.7,1102.4 1455.6,1105.1 1456.5,1103.8 1457.4,1105.9 1458.3,1104.3 1459.2,1098.2 1460.1,1104.5 1461.0,1108.7 1461.9,1105.5 1462.8,1106.8 1463.7,1106.7 1464.6,1104.2 1465.5,1102.0 1466.4,1108.6 1467.3,1109.6 1468.2,1108.7 1469.1,1108.7 1470.0,1109.0 1470.9,1108.3 1471.8,1109.6 1472.7,1109.6 1473.6,1111.0 1474.5,1107.8 1475.4,1108.9 1476.3,1112.1 1477.2,1108.8 1478.1,1101.6 1479.0,1108.1 1479.9,1100.3 1480.8,1112.5 1481.7,1109.2 1482.6,1109.4 1483.5,1106.1 1484.4,1105.4 1485.3,1108.4 1486.2,1109.2 1487.1,1107.2 1488.0,1110.1 1488.9,1112.2 1489.8,1112.6 1490.7,1108.0 1491.6,1104.8 1492.5,1111.1 1493.4,1108.8 1494.3,1111.7 1495.2,1114.7 1496.1,1114.0 1497.0,1110.1 1497.9,1112.5 1498.8,1114.0 1499.7,1109.1 1500.6,1109.6 1501.5,1111.1 1502.4,1108.7 1503.3,1107.4 1504.2,1106.4 1505.1,1108.5 1506.0,1106.3 1506.9,1109.9 1507.8,1106.3 1508.7,1110.7 1509.6,1102.7 1510.5,1103.0 1511.4,1110.3 1512.3,1106.7 1513.2,1112.7 1514.1,1111.2 1515.0,1110.2 1515.9,1112.5 1516.8,1108.7 1517.7,1111.0 1518.6,1111.0 1519.5,1109.4 1520.4,1111.1 1521.3,1107.4 1522.2,1112.1 1523.1,1107.3 1524.0,1112.5 1524.9,1111.6 1525.8,1111.3 1526.7,1107.0 1527.6,1116.9 1528.5,1107.6 1529.4,1109.3 1530.3,1107.9 1531.2,1115.9 1532.1,1112.4 1533.0,1118.2 1533.9,1113.5 1534.8,1117.1 1535.7,1114.8 1536.6,1117.8 1537.5,1113.5 1538.4,1111.4 1539.3,1115.5 1540.2,1111.5 1541.1,1113.3 1542.0,1119.3 1542.9,1112.3 1543.8,1119.7 1544.7,1115.4 1545.6,1112.7 1546.5,1114.7 1547.4,1114.6 1548.3,1110.4 1549.2,1111.7 1550.1,1114.8 1551.0,1115.2 1551.9,1113.8 1552.8,1112.1 1553.7,1111.6 1554.6,1112.4 1555.5,1116.1 1556.4,1115.7 1557.3,1114.6 1558.2,1117.8 1559.1,1113.2 1560.0,1112.6 1560.9,1112.1 1561.8,1117.9 1562.7,1105.7 1563.6,1111.6 1564.5,1111.6 1565.4,1110.7 1566.3,1117.4 1567.2,1114.5 1568.1,1114.0 1569.0,1109.8 1569.9,1113.2 1570.8,1110.0 1571.7,1110.8 1572.6,1110.3 1573.5,1107.4 1574.4,1110.0 1575.3,1112.2 1576.2,1110.0 1577.1,1107.0 1578.0,1100.6 1578.9,1100.1 1579.8,1108.6 1580.7,1105.1 1581.6,1104.9 1582.5,1108.9 1583.4,1105.6 1584.3,1111.6 1585.2,1107.9 1586.1,1109.7 1587.0,1113.9 1587.9,1111.0 1588.8,1116.4 1589.7,1118.7 1590.6,1113.8 1591.5,1120.0 1592.4,1115.3 1593.3,1117.5 1594.2,1115.4 1595.1,1112.7 1596.0,1111.5 1596.9,1107.6 1597.8,1110.0 1598.7,1109.7 1599.6,1117.0 1600.5,1115.5 1601.4,1109.2 1602.3,1115.8 1603.2,1114.4 1604.1,1113.0 1605.0,1115.4 1605.9,1115.8 1606.8,1111.3 1607.7,1111.1 1608.6,1111.7 1609.5,1107.8 1610.4,1102.6 1611.3,1110.1 1612.2,1108.9 1613.1,1108.8 1614.0,1112.4 1614.9,1105.1 1615.8,1112.3 1616.7,1108.9 1617.6,1113.7 1618.5,1112.1 1619.4,1114.1 1620.3,1116.5"/>
<polyline stroke="#ddac58" points="163.0,701.1 163.9,701.6 164.8,698.3 165.7,701.8 166.6,699.3 167.5,699.4 168.4,699.0 169.3,699.8 170.2,699.0 171.1,700.1 172.0,696.7 172.9,698.1 173.8,700.5 174.7,705.0 175.6,709.1 176.5,709.4 177.4,710.4 178.3,714.2 179.2,716.4 180.1,718.3 181.0,719.3 181.9,718.5 182.8,724.1 183.7,729.0 184.6,729.9 185.5,728.0 186.4,732.5 187.3,728.2 188.2,733.4 189.1,729.2 190.0,725.6 190.9,727.8 191.8,724.0 192.7,727.9 193.6,729.6 194.5,730.1 195.4,735.7 196.3,734.9 197.2,742.0 198.1,742.4 199.0,743.1 199.9,743.5 200.8,747.9 201.7,746.2 202.6,740.3 203.5,743.8 204.4,740.0 205.3,738.0 206.2,738.2 207.1,739.4 208.0,743.9 208.9,743.3 209.8,741.5 210.7,749.7 211.6,749.3 212.5,747.5 213.4,750.3 214.3,751.0 215.2,754.2 216.1,756.3 217.0,757.6 217.9,757.8 218.8,758.1 219.7,761.3 220.6,760.1 221.5,764.5 222.4,759.8 223.3,763.0 224.2,761.8 225.1,759.4 226.0,761.8 226.9,758.7 227.8,755.9 228.7,755.7 229.6,756.9 230.5,752.0 231.4,755.3 232.3,753.0 233.2,750.8 234.1,754.7 235.0,756.6 235.9,755.9 236.8,756.4 237.7,760.4 238.6,761.0 239.5,756.9 240.4,757.0 241.3,756.0 242.2,754.6 243.1,751.7 244.0,754.7 244.9,752.3 245.8,751.3 246.7,752.5 247.6,748.1 248.5,747.9 249.4,748.5 250.3,747.3 251.2,747.8 252.1,749.3 253.0,748.0 253.9,750.2 254.8,746.8 255.7,749.2 256.6,747.3 257.5,750.3 258.4,750.1 259.3,754.4 260.2,754.2 261.1,754.6 262.0,757.6 262.9,757.8 263.8,757.4 264.7,755.8 265.6,755.3 266.5,758.5 267.4,759.3 268.3,760.8 269.2,763.4 270.1,763.1 271.0,770.5 271.9,768.0 272.8,770.9 273.7,775.0 274.6,772.8 275.5,775.1 276.4,773.1 277.3,769.0 278.2,765.7 279.1,764.7 280.0,760.3 280.9,763.8 281.8,759.5 282.7,758.3 283.6,758.8 284.5,762.1 285.4,764.4 286.3,760.5 287.2,762.4 288.1,761.2 289.0,766.1 289.9,765.9 290.8,770.3 291.7,765.7 292.6,764.3 293.5,763.0 294.4,764.7 295.3,759.6 296.2,762.8 297.1,761.1 298.0,758.9 298.9,757.4 299.8,759.8 300.7,760.3 301.6,755.5 302.5,756.3 303.4,757.5 304.3,753.1 305.2,753.4 306.1,751.4 307.0,752.9 307.9,752.7 308.8,751.8 309.7,750.9 310.6,749.1 311.5,749.2 312.4,749.5 313.3,752.0 314.2,749.7 315.1,748.8 316.0,750.7 316.9,749.4 317.8,745.9 318.7,744.9 319.6,745.9 320.5,744.2 321.4,741.0 322.3,741.6 323.2,739.9 324.1,740.7 325.0,736.1 325.9,739.4 326.8,739.0 327.7,736.8 328.6,740.6 329.5,740.7 330.4,737.2 331.3,743.2 332.2,738.1 333.1,738.8 334.0,740.1 334.9,745.2 335.8,748.1 336.7,750.1 337.6,755.8 338.5,757.4 339.4,762.3 340.3,766.7 341.2,761.9 342.1,756.9 343.0,760.2 343.9,758.8 344.8,760.6 345.7,760.3 346.6,757.7 347.5,757.5 348.4,758.7 349.3,759.1 350.2,756.4 351.1,764.0 352.0,763.8 352.9,765.1 353.8,767.1 354.7,766.2 355.6,769.3 356.5,772.6 357.4,774.1 358.3,774.5 359.2,773.3 360.1,772.2 361.0,775.7 361.9,774.1 362.8,772.2 363.7,768.9 364.6,771.0 365.5,768.9 366.4,774.2 367.3,772.2 368.2,770.3 369.1,770.9 370.0,775.7 370.9,773.3 371.8,769.5 372.7,772.4 373.6,771.2 374.5,771.1 375.4,775.2 376.3,779.8 377.2,779.1 378.1,777.3 379.0,778.5 379.9,781.5 380.8,785.0 381.7,782.6 382.6,783.8 383.5,788.1 384.4,779.5 385.3,776.0 386.2,767.8 387.1,764.2 388.0,747.7 388.9,731.3 389.8,714.7 390.7,695.3 391.6,674.4 392.5,664.8 393.4,656.0 394.3,648.5 395.2,644.8 396.1,639.4 397.0,636.1 397.9,636.1 398.8,640.9 399.7,643.1 400.6,644.5 401.5,640.7 402.4,639.0 403.3,633.7 404.2,628.2 405.1,620.8 406.0,616.7 406.9,617.7 407.8,616.0 408.7,614.2 409.6,612.0 410.5,611.2 411.4,608.8 412.3,607.5 413.2,605.5 414.1,589.1 415.0,566.4 415.9,545.7 416.8,510.1 417.7,446.8 418.6,416.8 419.5,395.9 420.4,379.4 421.3,362.1 422.2,344.3 423.1,331.6 424.0,332.7 424.9,330.8 425.8,328.9 426.7,323.2 427.6,324.8 428.5,326.4 429.4,327.2 430.3,330.1 431.2,329.1 432.1,332.1 433.0,332.6 433.9,340.7 434.8,351.4 435.7,362.1 436.6,371.6 437.5,380.7 438.4,387.8 439.3,397.1 440.2,402.8 441.1,408.2 442.0,406.5 442.9,403.0 443.8,397.8 444.7,392.8 445.6,390.6 446.5,393.9 447.4,393.7 448.3,394.9 449.2,407.1 450.1,425.2 451.0,438.6 451.9,454.6 452.8,470.5 453.7,482.9 454.6,492.6 455.5,506.2 456.4,517.7 457.3,529.1 458.2,542.6 459.1,554.5 460.0,564.7 460.9,573.9 461.8,584.9 462.7,593.1 463.6,603.8 464.5,612.0 465.4,618.6 466.3,618.9 467.2,619.7 468.1,620.6 469.0,620.8 469.9,621.3 470.8,616.1 471.7,615.3 472.6,609.7 473.5,606.2 474.4,601.7 475.3,599.6 476.2,595.0 477.1,598.0 478.0,600.2 478.9,602.3 479.8,603.4 480.7,604.4 481.6,604.1 482.5,611.1 483.4,617.9 484.3,624.5 485.2,631.3 486.1,637.5 487.0,643.8 487.9,652.3 488.8,651.4 489.7,646.9 490.6,646.7 491.5,643.9 492.4,642.3 493.3,638.1 494.2,632.2 495.1,625.5 496.0,618.7 496.9,609.8 497.8,605.3 498.7,597.9 499.6,594.5 500.5,596.3 501.4,594.3 502.3,596.5 503.2,597.3 504.1,610.9 505.0,635.9 505.9,632.2 506.8,629.2 507.7,624.0 508.6,622.7 509.5,619.0 510.4,622.1 511.3,624.5 512.2,628.8 513.1,631.1 514.0,634.7 514.9,638.6 515.8,640.7 516.7,645.6 517.6,649.0 518.5,653.4 519.4,656.5 520.3,661.9 521.2,666.5 522.1,669.3 523.0,674.3 523.9,686.5 524.8,697.5 525.7,711.4 526.6,721.8 527.5,718.5 528.4,715.7 529.3,716.1 530.2,713.8 531.1,714.8 532.0,711.5 532.9,710.2 533.8,708.2 534.7,707.7 535.6,705.6 536.5,703.9 537.4,704.4 538.3,704.5 539.2,707.5 540.1,706.4 541.0,712.4 541.9,716.6 542.8,720.8 543.7,728.6 544.6,729.8 545.5,735.0 546.4,731.4 547.3,732.1 548.2,733.5 549.1,727.4 550.0,719.2 550.9,712.9 551.8,702.8 552.7,693.1 553.6,692.7 554.5,690.9 555.4,691.1 556.3,691.5 557.2,688.8 558.1,680.5 559.0,671.7 559.9,662.7 560.8,650.1 561.7,638.4 562.6,625.0 563.5,612.4 564.4,602.7 565.3,595.8 566.2,588.1 567.1,588.8 568.0,594.8 568.9,600.4 569.8,606.2 570.7,609.3 571.6,614.6 572.5,620.3 573.4,625.3 574.3,617.5 575.2,610.7 576.1,605.7 577.0,596.7 577.9,590.1 578.8,582.5 579.7,578.0 580.6,570.9 581.5,566.5 582.4,558.7 583.3,554.2 584.2,550.9 585.1,555.6 586.0,556.8 586.9,563.6 587.8,566.2 588.7,570.1 589.6,574.5 590.5,583.2 591.4,592.0 592.3,598.4 593.2,610.5 594.1,618.7 595.0,626.5 595.9,636.7 596.8,649.2 597.7,655.5 598.6,663.4 599.5,669.4 600.4,666.0 601.3,667.8 602.2,667.8 603.1,669.1 604.0,671.7 604.9,674.3 605.8,677.1 606.7,683.8 607.6,689.7 608.5,694.1 609.4,699.1 610.3,699.8 611.2,702.2 612.1,706.4 613.0,704.5 613.9,706.4 614.8,703.5 615.7,700.3 616.6,699.5 617.5,698.3 618.4,698.2 619.3,703.2 620.2,706.9 621.1,709.7 622.0,719.5 622.9,722.7 623.8,717.6 624.7,715.3 625.6,709.6 626.5,704.9 627.4,709.8 628.3,720.0 629.2,720.2 630.1,724.4 631.0,725.2 631.9,726.0 632.8,728.5 633.7,722.7 634.6,722.8 635.5,721.8 636.4,718.9 637.3,721.3 638.2,719.6 639.1,721.7 640.0,720.5 640.9,729.6 641.8,725.7 642.7,726.7 643.6,731.1 644.5,726.0 645.4,726.0 646.3,723.1 647.2,723.8 648.1,721.8 649.0,722.8 649.9,722.4 650.8,724.4 651.7,728.1 652.6,731.5 653.5,733.6 654.4,739.9 655.3,740.5 656.2,736.9 657.1,731.4 658.0,733.0 658.9,726.4 659.8,727.4 660.7,724.6 661.6,720.8 662.5,719.8 663.4,721.4 664.3,729.0 665.2,724.8 666.1,726.1 667.0,730.1 667.9,730.0 668.8,732.7 669.7,728.3 670.6,729.3 671.5,740.2 672.4,733.1 673.3,733.2 674.2,734.9 675.1,737.5 676.0,733.2 676.9,737.3 677.8,737.2 678.7,738.4 679.6,736.5 680.5,734.2 681.4,732.6 682.3,728.3 683.2,735.4 684.1,729.0 685.0,730.7 685.9,734.7 686.8,731.6 687.7,737.5 688.6,739.1 689.5,744.8 690.4,743.6 691.3,741.2 692.2,744.2 693.1,739.3 694.0,735.6 694.9,736.7 695.8,737.5 696.7,732.5 697.6,738.2 698.5,739.5 699.4,744.0 700.3,739.0 701.2,743.4 702.1,739.3 703.0,743.6 703.9,746.1 704.8,748.2 705.7,748.5 706.6,748.1 707.5,745.7 708.4,744.9 709.3,745.5 710.2,744.9 711.1,744.0 712.0,743.6 712.9,742.9 713.8,734.9 714.7,736.6 715.6,738.1 716.5,738.6 717.4,744.0 718.3,744.9 719.2,744.5 720.1,746.6 721.0,750.8 721.9,748.6 722.8,750.2 723.7,754.6 724.6,754.0 725.5,754.4 726.4,750.1 727.3,749.1 728.2,744.3 729.1,741.5 730.0,741.8 730.9,733.9 731.8,742.2 732.7,745.3 733.6,744.9 734.5,746.0 735.4,750.7 736.3,749.9 737.2,754.0 738.1,758.5 739.0,756.8 739.9,759.1 740.8,759.0 741.7,757.7 742.6,757.1 743.5,755.9 744.4,757.6 745.3,750.7 746.2,753.1 747.1,754.6 748.0,750.4 748.9,751.4 749.8,749.7 750.7,754.1 751.6,756.9 752.5,760.1 753.4,759.7 754.3,758.7 755.2,762.8 756.1,765.4 757.0,772.1 757.9,772.6 758.8,787.0 759.7,786.4 760.6,795.4 761.5,798.0 762.4,801.3 763.3,805.3 764.2,805.4 765.1,803.8 766.0,806.6 766.9,809.0 767.8,806.8 768.7,807.7 769.6,805.7 770.5,811.5 771.4,810.3 772.3,812.1 773.2,815.0 774.1,816.4 775.0,820.0 775.9,822.4 776.8,820.8 777.7,821.5 778.6,821.0 779.5,815.8 780.4,817.8 781.3,819.2 782.2,820.5 783.1,814.8 784.0,816.1 784.9,821.1 785.8,820.9 786.7,821.0 787.6,825.0 788.5,824.1 789.4,821.0 790.3,824.3 791.2,823.5 792.1,823.5 793.0,823.0 793.9,820.6 794.8,818.7 795.7,816.9 796.6,816.7 797.5,821.1 798.4,825.8 799.3,827.2 800.2,831.9 801.1,826.0 802.0,820.1 802.9,822.3 803.8,819.9 804.7,812.9 805.6,809.2 806.5,814.1 807.4,820.1 808.3,821.5 809.2,827.9 810.1,829.2 811.0,828.2 811.9,827.8 812.8,830.4 813.7,829.2 814.6,828.4 815.5,824.6 816.4,832.7 817.3,827.4 818.2,828.7 819.1,826.6 820.0,829.4 820.9,825.6 821.8,827.7 822.7,826.2 823.6,827.3 824.5,822.4 825.4,822.3 826.3,822.1 827.2,825.5 828.1,817.7 829.0,820.0 829.9,817.2 830.8,818.4 831.7,818.6 832.6,817.2 833.5,817.0 834.4,816.6 835.3,815.4 836.2,818.4 837.1,817.9 838.0,822.6 838.9,824.1 840.0,824.1 840.9,827.4 841.8,830.1 842.7,826.7 843.6,828.1 844.5,827.0 845.4,834.2 846.3,838.4 847.2,829.4 848.1,835.9 849.0,836.2 849.9,831.3 850.8,830.7 851.7,827.5 852.6,827.1 853.5,828.6 854.4,829.0 855.3,826.1 856.2,827.5 857.1,825.0 858.0,820.5 858.9,828.0 859.8,827.3 860.7,828.6 861.6,830.0 862.5,834.3 863.4,827.2 864.3,833.5 865.2,821.6 866.1,825.0 867.0,832.4 867.9,829.8 868.8,827.7 869.7,834.3 870.6,830.7 871.5,824.9 872.4,826.1 873.3,839.7 874.2,832.9 875.1,822.4 876.0,829.9 876.9,829.1 877.8,826.1 878.7,831.5 879.6,827.6 880.5,830.5 881.4,836.2 882.3,831.7 883.2,831.0 884.1,829.3 885.0,827.7 885.9,829.1 886.8,822.4 887.7,824.8 888.6,828.8 889.5,824.5 890.4,825.5 891.3,830.4 892.2,831.1 893.1,824.3 894.0,822.7 894.9,826.1 895.8,824.7 896.7,820.9 897.6,824.4 898.5,824.4 899.4,823.3 900.3,831.9 901.2,827.9 902.1,826.9 903.0,827.9 903.9,824.2 904.8,828.7 905.7,823.9 906.6,827.0 907.5,826.4 908.4,824.5 909.3,826.4 910.2,825.7 911.1,824.3 912.0,822.2 912.9,824.9 913.8,817.1 914.7,823.7 915.6,821.6 916.5,823.4 917.4,816.9 918.3,830.9 919.2,822.5 920.1,826.8 921.0,832.1 921.9,828.5 922.8,827.8 923.7,820.8 924.6,824.1 925.5,824.2 926.4,824.3 927.3,820.7 928.2,822.2 929.1,823.5 930.0,821.0 930.9,821.8 931.8,830.1 932.7,822.1 933.6,828.2 934.5,824.8 935.4,829.0 936.3,823.1 937.2,827.3 938.1,827.7 939.0,826.1 939.9,827.5 940.8,823.8 941.7,825.0 942.6,822.8 943.5,824.9 944.4,820.9 945.3,816.0 946.2,818.9 947.1,819.4 948.0,816.4 948.9,821.6 949.8,817.5 950.7,817.3 951.6,811.0 952.5,811.0 953.4,814.8 954.3,807.7 955.2,813.5 956.1,813.7 957.0,813.0 957.9,815.8 958.8,813.4 959.7,818.2 960.6,815.0 961.5,815.6 962.4,824.2 963.3,818.9 964.2,815.0 965.1,824.2 966.0,819.0 966.9,810.4 967.8,819.9 968.7,822.0 969.6,819.4 970.5,822.6 971.4,816.5 972.3,818.3 973.2,813.9 974.1,818.0 975.0,822.8 975.9,820.7 976.8,820.7 977.7,815.0 978.6,820.0 979.5,817.1 980.4,822.3 981.3,816.3 982.2,818.1 983.1,812.7 984.0,819.8 984.9,809.8 985.8,813.3 986.7,821.1 987.6,814.5 988.5,812.2 989.4,817.4 990.3,818.7 991.2,818.3 992.1,809.7 993.0,815.3 993.9,807.5 994.8,818.6 995.7,812.9 996.6,811.3 997.5,815.1 998.4,815.0 999.3,810.9 1000.2,819.8 1001.1,815.0 1002.0,811.5 1002.9,821.4 1003.8,822.5 1004.7,822.8 1005.6,821.6 1006.5,818.0 1007.4,823.6 1008.3,826.4 1009.2,823.1 1010.1,824.9 1011.0,817.1 1011.9,821.8 1012.8,820.7 1013.7,812.8 1014.6,811.8 1015.5,813.6 1016.4,815.3 1017.3,816.2 1018.2,814.3 1019.1,815.1 1020.0,806.8 1020.9,816.4 1021.8,818.5 1022.7,818.7 1023.6,817.1 1024.5,818.0 1025.4,815.8 1026.3,819.2 1027.2,815.4 1028.1,821.9 1029.0,816.8 1029.9,817.9 1030.8,815.3 1031.7,816.5 1032.6,818.0 1033.5,817.4 1034.4,815.0 1035.3,812.7 1036.2,815.1 1037.1,814.3 1038.0,814.5 1038.9,815.6 1039.8,810.4 1040.7,805.9 1041.6,812.4 1042.5,808.9 1043.4,812.6 1044.3,821.4 1045.2,822.2 1046.1,820.3 1047.0,821.8 1047.9,824.7 1048.8,820.9 1049.7,828.4 1050.6,827.0 1051.5,833.9 1052.4,825.0 1053.3,830.8 1054.2,824.6 1055.1,828.7 1056.0,821.2 1056.9,824.5 1057.8,819.4 1058.7,816.7 1059.6,817.3 1060.5,817.9 1061.4,817.0 1062.3,819.8 1063.2,817.5 1064.1,807.0 1065.0,813.5 1065.9,808.8 1066.8,813.5 1067.7,816.6 1068.6,810.8 1069.5,811.7 1070.4,816.4 1071.3,815.6 1072.2,822.0 1073.1,818.3 1074.0,819.1 1074.9,822.2 1075.8,814.6 1076.7,815.1 1077.6,811.3 1078.5,814.8 1079.4,817.3 1080.3,819.4 1081.2,816.8 1082.1,816.6 1083.0,818.4 1083.9,818.2 1084.8,824.0 1085.7,828.1 1086.6,816.8 1087.5,816.7 1088.4,826.4 1089.3,816.1 1090.2,820.3 1091.1,814.3 1092.0,819.2 1092.9,818.7 1093.8,816.9 1094.7,819.5 1095.6,818.2 1096.5,821.6 1097.4,827.1 1098.3,826.3 1099.2,822.0 1100.1,822.0 1101.0,824.0 1101.9,824.0 1102.8,824.4 1103.7,821.9 1104.6,825.2 1105.5,816.6 1106.4,823.6 1107.3,822.0 1108.2,823.1 1109.1,816.9 1110.0,824.8 1110.9,820.3 1111.8,819.6 1112.7,818.7 1113.6,819.1 1114.5,817.1 1115.4,814.7 1116.3,813.0 1117.2,808.6 1118.1,814.5 1119.0,813.7 1119.9,814.7 1120.8,824.4 1121.7,813.0 1122.6,820.3 1123.5,825.1 1124.4,825.8 1125.3,827.8 1126.2,821.4 1127.1,823.2 1128.0,828.4 1128.9,825.6 1129.8,831.3 1130.7,826.2 1131.6,825.0 1132.5,824.2 1133.4,820.9 1134.3,821.0 1135.2,817.7 1136.1,819.1 1137.0,817.6 1137.9,819.5 1138.8,814.4 1139.7,814.3 1140.6,820.4 1141.5,819.6 1142.4,816.0 1143.3,817.9 1144.2,815.3 1145.1,823.9 1146.0,812.6 1146.9,821.9 1147.8,813.8 1148.7,817.5 1149.6,815.3 1150.5,814.3 1151.4,817.8 1152.3,816.8 1153.2,812.8 1154.1,810.7 1155.0,819.8 1155.9,817.9 1156.8,815.2 1157.7,815.3 1158.6,818.2 1159.5,818.4 1160.4,822.4 1161.3,816.4 1162.2,819.5 1163.1,816.8 1164.0,822.6 1164.9,823.8 1165.8,817.2 1166.7,818.5 1167.6,820.4 1168.5,814.6 1169.4,812.0 1170.3,817.8 1171.2,816.3 1172.1,814.5 1173.0,820.4 1173.9,817.9 1174.8,813.2 1175.7,821.2 1176.6,821.3 1177.5,828.4 1178.4,823.4 1179.3,823.3 1180.2,825.3 1181.1,824.8 1182.0,820.0 1182.9,824.5 1183.8,823.1 1184.7,827.9 1185.6,830.4 1186.5,818.9 1187.4,818.2 1188.3,817.1 1189.2,817.2 1190.1,816.7 1191.0,828.9 1191.9,823.7 1192.8,817.6 1193.7,818.0 1194.6,818.0 1195.5,826.7 1196.4,820.1 1197.3,816.9 1198.2,815.1 1199.1,819.1 1200.0,820.9 1200.9,819.6 1201.8,816.7 1202.7,817.7 1203.6,816.5 1204.5,814.8 1205.4,822.9 1206.3,818.4 1207.2,817.0 1208.1,820.5 1209.0,818.9 1209.9,824.9 1210.8,828.5 1211.7,821.7 1212.6,828.3 1213.5,831.3 1214.4,825.9 1215.3,821.3 1216.2,822.1 1217.1,823.8 1218.0,820.6 1218.9,820.1 1219.8,822.2 1220.7,821.3 1221.6,822.1 1222.5,815.3 1223.4,823.4 1224.3,820.4 1225.2,819.2 1226.1,814.8 1227.0,822.2 1227.9,816.8 1228.8,824.2 1229.7,823.0 1230.6,824.0 1231.5,821.0 1232.4,829.4 1233.3,828.0 1234.2,825.6 1235.1,827.1 1236.0,826.9 1236.9,823.2 1237.8,823.6 1238.7,820.3 1239.6,818.9 1240.5,820.0 1241.4,814.5 1242.3,818.4 1243.2,815.8 1244.1,817.6 1245.0,812.0 1245.9,819.4 1246.8,817.4 1247.7,817.7 1248.6,815.1 1249.5,817.3 1250.4,812.5 1251.3,813.8 1252.2,816.2 1253.1,814.1 1254.0,816.3 1254.9,812.8 1255.8,821.5 1256.7,817.4 1257.6,822.1 1258.5,822.4 1259.4,825.8 1260.3,822.1 1261.2,820.2 1262.1,817.4 1263.0,822.4 1263.9,820.1 1264.8,825.4 1265.7,828.4 1266.6,817.3 1267.5,819.6 1268.4,823.4 1269.3,825.1 1270.2,821.2 1271.1,820.4 1272.0,820.7 1272.9,821.3 1273.8,825.2 1274.7,822.9 1275.6,818.4 1276.5,821.6 1277.4,824.5 1278.3,821.6 1279.2,823.5 1280.1,822.6 1281.0,821.7 1281.9,825.6 1282.8,821.7 1283.7,818.9 1284.6,819.4 1285.5,821.5 1286.4,827.1 1287.3,821.3 1288.2,825.1 1289.1,822.6 1290.0,815.3 1290.9,823.4 1291.8,820.5 1292.7,819.7 1293.6,820.8 1294.5,829.5 1295.4,819.1 1296.3,821.3 1297.2,825.5 1298.1,823.1 1299.0,814.5 1299.9,818.5 1300.8,816.2 1301.7,816.4 1302.6,818.6 1303.5,814.4 1304.4,815.1 1305.3,820.7 1306.2,810.9 1307.1,815.6 1308.0,819.1 1308.9,814.8 1309.8,817.4 1310.7,815.9 1311.6,820.4 1312.5,817.7 1313.4,821.2 1314.3,820.6 1315.2,816.0 1316.1,813.8 1317.0,815.1 1317.9,814.7 1318.8,812.1 1319.7,820.8 1320.6,820.0 1321.5,823.3 1322.4,818.1 1323.3,825.4 1324.2,829.5 1325.1,824.5 1326.0,817.5 1326.9,821.3 1327.8,820.2 1328.7,820.4 1329.6,818.5 1330.5,820.3 1331.4,817.1 1332.3,819.5 1333.2,816.9 1334.1,820.0 1335.0,823.6 1335.9,820.0 1336.8,824.7 1337.7,821.0 1338.6,823.1 1339.5,824.3 1340.4,828.9 1341.3,822.6 1342.2,828.5 1343.1,819.9 1344.0,823.3 1344.9,826.0 1345.8,824.2 1346.7,817.6 1347.6,815.2 1348.5,820.1 1349.4,812.2 1350.3,817.0 1351.2,813.3 1352.1,815.2 1353.0,823.0 1353.9,821.5 1354.8,820.0 1355.7,813.5 1356.6,818.5 1357.5,817.3 1358.4,816.3 1359.3,819.8 1360.2,809.5 1361.1,814.9 1362.0,813.6 1362.9,810.5 1363.8,817.9 1364.7,808.7 1365.6,813.3 1366.5,823.5 1367.4,807.8 1368.3,810.7 1369.2,812.5 1370.1,817.9 1371.0,818.3 1371.9,816.7 1372.8,814.6 1373.7,806.1 1374.6,811.8 1375.5,808.3 1376.4,812.2 1377.3,811.1 1378.2,813.0 1379.1,807.5 1380.0,807.4 1380.9,801.6 1381.8,804.9 1382.7,801.2 1383.6,808.4 1384.5,803.5 1385.4,807.9 1386.3,807.9 1387.2,810.1 1388.1,813.7 1389.0,810.9 1389.9,812.9 1390.8,808.3 1391.7,814.5 1392.6,807.3 1393.5,811.8 1394.4,815.0 1395.3,801.1 1396.2,805.4 1397.1,807.8 1398.0,811.2 1398.9,805.8 1399.8,807.7 1400.7,803.6 1401.6,806.7 1402.5,800.3 1403.4,805.8 1404.3,793.3 1405.2,795.7 1406.1,806.2 1407.0,800.6 1407.9,796.7 1408.8,805.7 1409.7,802.8 1410.6,803.2 1411.5,799.2 1412.4,803.1 1413.3,803.0 1414.2,796.5 1415.1,803.3 1416.0,800.4 1416.9,803.9 1417.8,802.7 1418.7,795.3 1419.6,794.0 1420.5,795.2 1421.4,795.2 1422.3,791.0 1423.2,791.1 1424.1,793.3 1425.0,793.6 1425.9,796.7 1426.8,794.8 1427.7,792.4 1428.6,790.5 1429.5,798.9 1430.4,795.7 1431.3,795.8 1432.2,796.2 1433.1,792.5 1434.0,796.2 1434.9,789.5 1435.8,795.6 1436.7,793.9 1437.6,802.0 1438.5,797.5 1439.4,795.4 1440.3,797.5 1441.2,801.0 1442.1,798.7 1443.0,802.4 1443.9,803.8 1444.8,813.5 1445.7,806.7 1446.6,800.6 1447.5,809.1 1448.4,814.7 1449.3,804.5 1450.2,819.2 1451.1,809.5 1452.0,813.7 1452.9,809.3 1453.8,810.1 1454.7,806.7 1455.6,806.6 1456.5,802.9 1457.4,813.2 1458.3,806.7 1459.2,813.0 1460.1,814.4 1461.0,813.0 1461.9,816.7 1462.8,817.6 1463.7,817.0 1464.6,819.4 1465.5,819.4 1466.4,815.9 1467.3,815.1 1468.2,816.7 1469.1,820.2 1470.0,825.1 1470.9,826.3 1471.8,823.8 1472.7,826.5 1473.6,824.4 1474.5,827.7 1475.4,824.8 1476.3,825.3 1477.2,823.0 1478.1,823.3 1479.0,828.6 1479.9,818.7 1480.8,821.7 1481.7,819.2 1482.6,823.2 1483.5,825.5 1484.4,818.4 1485.3,811.1 1486.2,821.8 1487.1,822.1 1488.0,815.7 1488.9,821.0 1489.8,822.1 1490.7,815.7 1491.6,825.2 1492.5,824.4 1493.4,823.6 1494.3,819.3 1495.2,819.8 1496.1,819.7 1497.0,822.4 1497.9,817.4 1498.8,824.9 1499.7,821.1 1500.6,812.9 1501.5,825.4 1502.4,821.0 1503.3,819.6 1504.2,822.7 1505.1,817.5 1506.0,824.6 1506.9,817.1 1507.8,821.9 1508.7,838.4 1509.6,829.4 1510.5,824.0 1511.4,821.9 1512.3,827.6 1513.2,824.2 1514.1,824.9 1515.0,826.0 1515.9,820.5 1516.8,826.2 1517.7,817.1 1518.6,828.2 1519.5,818.6 1520.4,821.1 1521.3,820.3 1522.2,824.2 1523.1,823.5 1524.0,821.7 1524.9,822.0 1525.8,821.6 1526.7,820.2 1527.6,815.1 1528.5,814.5 1529.4,815.0 1530.3,822.5 1531.2,822.2 1532.1,822.7 1533.0,823.5 1533.9,822.1 1534.8,820.1 1535.7,818.9 1536.6,818.0 1537.5,828.1 1538.4,826.9 1539.3,819.7 1540.2,822.3 1541.1,823.8 1542.0,826.3 1542.9,818.5 1543.8,820.4 1544.7,823.2 1545.6,813.6 1546.5,816.6 1547.4,818.6 1548.3,816.2 1549.2,825.0 1550.1,821.3 1551.0,819.2 1551.9,816.3 1552.8,822.4 1553.7,822.6 1554.6,819.7 1555.5,821.0 1556.4,818.8 1557.3,824.4 1558.2,828.7 1559.1,830.4 1560.0,830.5 1560.9,832.0 1561.8,827.6 1562.7,827.8 1563.6,832.2 1564.5,829.1 1565.4,824.0 1566.3,827.3 1567.2,827.6 1568.1,826.8 1569.0,824.3 1569.9,821.6 1570.8,823.9 1571.7,826.9 1572.6,821.1 1573.5,817.8 1574.4,820.5 1575.3,815.4 1576.2,819.9 1577.1,818.7 1578.0,823.1 1578.9,821.1 1579.8,825.0 1580.7,829.9 1581.6,822.8 1582.5,821.4 1583.4,826.0 1584.3,824.5 1585.2,825.2 1586.1,822.3 1587.0,825.3 1587.9,823.0 1588.8,821.7 1589.7,821.0 1590.6,831.7 1591.5,824.7 1592.4,819.3 1593.3,818.6 1594.2,825.1 1595.1,819.7 1596.0,822.1 1596.9,823.6 1597.8,824.8 1598.7,822.8 1599.6,819.5 1600.5,826.1 1601.4,821.7 1602.3,821.5 1603.2,829.3 1604.1,825.8 1605.0,820.0 1605.9,822.4 1606.8,823.9 1607.7,823.4 1608.6,820.6 1609.5,829.9 1610.4,827.8 1611.3,820.7 1612.2,813.4 1613.1,810.2 1614.0,811.6 1614.9,806.4 1615.8,808.2 1616.7,813.6 1617.6,825.2 1618.5,826.8 1619.4,820.8 1620.3,822.0"/>
<polyline stroke="#dc949b" points="163.0,435.4 163.9,432.4 164.8,431.2 165.7,433.7 166.6,427.1 167.5,430.1 168.4,429.8 169.3,427.3 170.2,430.0 171.1,432.0 172.0,434.0 172.9,436.1 173.8,441.9 174.7,441.6 175.6,445.1 176.5,450.3 177.4,453.1 178.3,457.6 179.2,452.9 180.1,449.2 181.0,453.3 181.9,453.9 182.8,450.7 183.7,453.3 184.6,453.2 185.5,448.0 186.4,447.8 187.3,445.8 188.2,450.3 189.1,452.2 190.0,453.5 190.9,451.7 191.8,454.2 192.7,454.5 193.6,455.8 194.5,457.8 195.4,459.0 196.3,463.2 197.2,465.9 198.1,467.8 199.0,468.2 199.9,468.6 200.8,467.5 201.7,465.8 202.6,461.3 203.5,459.2 204.4,457.8 205.3,459.2 206.2,462.1 207.1,461.8 208.0,467.7 208.9,464.6 209.8,470.2 210.7,468.7 211.6,475.9 212.5,476.5 213.4,475.3 214.3,477.3 215.2,476.6 216.1,479.2 217.0,480.6 217.9,485.1 218.8,478.4 219.7,483.7 220.6,480.9 221.5,483.0 222.4,484.7 223.3,484.6 224.2,484.9 225.1,484.3 226.0,484.0 226.9,482.1 227.8,481.8 228.7,474.6 229.6,474.1 230.5,470.5 231.4,468.8 232.3,466.9 233.2,468.9 234.1,471.8 235.0,471.4 235.9,467.7 236.8,471.0 237.7,469.8 238.6,473.7 239.5,476.3 240.4,476.0 241.3,477.6 242.2,476.7 243.1,474.3 244.0,475.3 244.9,477.8 245.8,477.9 246.7,478.2 247.6,474.1 248.5,473.8 249.4,473.1 250.3,473.5 251.2,470.3 252.1,468.3 253.0,472.8 253.9,472.1 254.8,472.6 255.7,470.1 256.6,473.0 257.5,470.3 258.4,470.3 259.3,474.2 260.2,474.3 261.1,476.7 262.0,478.9 262.9,476.7 263.8,480.6 264.7,476.7 265.6,479.6 266.5,476.0 267.4,478.8 268.3,478.2 269.2,478.6 270.1,480.3 271.0,475.9 271.9,479.8 272.8,478.3 273.7,480.3 274.6,481.0 275.5,479.8 276.4,480.0 277.3,478.8 278.2,482.1 279.1,480.1 280.0,482.3 280.9,479.1 281.8,484.5 282.7,484.9 283.6,495.0 284.5,491.6 285.4,487.6 286.3,480.6 287.2,476.4 288.1,470.2 289.0,474.3 289.9,475.0 290.8,476.9 291.7,480.5 292.6,477.9 293.5,483.4 294.4,482.9 295.3,481.9 296.2,487.3 297.1,487.4 298.0,489.3 298.9,483.6 299.8,482.9 300.7,481.6 301.6,476.0 302.5,478.8 303.4,474.3 304.3,479.2 305.2,480.3 306.1,477.9 307.0,475.7 307.9,479.6 308.8,480.2 309.7,481.9 310.6,480.7 311.5,479.7 312.4,482.3 313.3,481.5 314.2,487.2 315.1,483.3 316.0,483.1 316.9,482.1 317.8,477.7 318.7,477.0 319.6,475.5 320.5,472.7 321.4,471.0 322.3,471.6 323.2,468.0 324.1,462.6 325.0,462.1 325.9,462.1 326.8,459.5 327.7,461.1 328.6,461.2 329.5,462.5 330.4,461.4 331.3,461.7 332.2,460.7 333.1,463.2 334.0,461.0 334.9,466.2 335.8,463.2 336.7,463.1 337.6,466.5 338.5,467.1 339.4,469.6 340.3,471.5 341.2,472.4 342.1,474.2 343.0,476.8 343.9,482.4 344.8,481.3 345.7,483.9 346.6,486.0 347.5,490.3 348.4,494.8 349.3,490.4 350.2,491.5 351.1,489.1 352.0,486.7 352.9,486.6 353.8,481.8 354.7,484.1 355.6,483.3 356.5,482.3 357.4,488.4 358.3,488.3 359.2,490.1 360.1,486.6 361.0,490.1 361.9,490.9 362.8,494.3 363.7,496.9 364.6,492.2 365.5,497.0 366.4,498.1 367.3,501.4 368.2,499.1 369.1,495.7 370.0,496.5 370.9,493.8 371.8,493.1 372.7,493.4 373.6,491.3 374.5,491.5 375.4,487.0 376.3,492.9 377.2,491.1 378.1,491.9 379.0,490.0 379.9,490.1 380.8,494.3 381.7,497.2 382.6,503.6 383.5,503.6 384.4,502.0 385.3,497.5 386.2,489.8 387.1,479.9 388.0,474.4 388.9,465.1 389.8,447.5 390.7,429.9 391.6,415.0 392.5,400.1 393.4,379.6 394.3,368.8 395.2,363.3 396.1,350.2 397.0,353.9 397.9,356.9 398.8,364.1 399.7,371.0 400.6,373.4 401.5,379.7 402.4,383.1 403.3,373.3 404.2,366.3 405.1,359.5 406.0,354.0 406.9,350.7 407.8,345.8 408.7,341.8 409.6,338.5 410.5,335.3 411.4,332.7 412.3,325.2 413.2,315.1 414.1,300.5 415.0,290.0 415.9,271.2 416.8,250.5 417.7,229.4 418.6,208.0 419.5,188.1 420.4,169.1 421.3,150.0 422.2,129.9 423.1,109.1 424.0,90.2 424.9,85.4 425.8,79.6 426.7,71.2 427.6,66.1 428.5,58.7 429.4,63.6 430.3,74.5 431.2,77.7 432.1,83.9 433.0,90.4 433.9,95.2 434.8,99.9 435.7,107.2 436.6,109.9 437.5,113.4 438.4,111.9 439.3,115.7 440.2,118.4 441.1,117.6 442.0,130.3 442.9,138.1 443.8,150.3 444.7,155.4 445.6,156.3 446.5,159.0 447.4,160.4 448.3,163.8 449.2,163.1 450.1,159.2 451.0,156.6 451.9,163.4 452.8,187.8 453.7,209.3 454.6,235.0 455.5,255.7 456.4,278.0 457.3,299.7 458.2,310.1 459.1,314.2 460.0,315.0 460.9,318.7 461.8,321.3 462.7,326.6 463.6,331.3 464.5,335.6 465.4,339.2 466.3,344.9 467.2,349.2 468.1,354.0 469.0,350.1 469.9,348.5 470.8,344.6 471.7,339.4 472.6,338.2 473.5,333.9 474.4,333.3 475.3,332.3 476.2,329.5 477.1,328.6 478.0,325.4 478.9,323.2 479.8,323.6 480.7,323.6 481.6,330.4 482.5,340.0 483.4,348.3 484.3,352.5 485.2,355.2 486.1,356.3 487.0,356.9 487.9,359.2 488.8,361.6 489.7,361.7 490.6,358.8 491.5,352.1 492.4,344.7 493.3,338.1 494.2,336.4 495.1,327.1 496.0,321.0 496.9,319.1 497.8,315.6 498.7,312.1 499.6,314.5 500.5,317.1 501.4,322.9 502.3,324.8 503.2,331.0 504.1,334.3 505.0,334.7 505.9,340.9 506.8,340.4 507.7,345.2 508.6,346.2 509.5,349.7 510.4,351.3 511.3,356.3 512.2,354.8 513.1,355.6 514.0,354.5 514.9,362.0 515.8,369.1 516.7,376.3 517.6,384.8 518.5,392.0 519.4,398.7 520.3,403.7 521.2,411.1 522.1,418.3 523.0,423.5 523.9,425.0 524.8,425.2 525.7,424.9 526.6,425.7 527.5,426.5 528.4,427.6 529.3,428.3 530.2,430.3 531.1,428.7 532.0,428.4 532.9,431.8 533.8,431.3 534.7,432.3 535.6,435.6 536.5,433.3 537.4,431.2 538.3,430.3 539.2,428.2 540.1,428.6 541.0,432.0 541.9,436.9 542.8,442.1 543.7,449.3 544.6,454.3 545.5,457.0 546.4,463.9 547.3,463.9 548.2,459.4 549.1,452.2 550.0,447.7 550.9,440.8 551.8,436.0 552.7,434.1 553.6,432.1 554.5,429.1 555.4,426.1 556.3,425.3 557.2,415.6 558.1,406.7 559.0,398.7 559.9,390.1 560.8,383.1 561.7,375.8 562.6,363.5 563.5,353.2 564.4,338.3 565.3,327.9 566.2,320.8 567.1,314.5 568.0,316.4 568.9,326.4 569.8,335.6 570.7,343.7 571.6,348.5 572.5,352.2 573.4,354.9 574.3,351.7 575.2,342.7 576.1,336.1 577.0,329.2 577.9,327.4 578.8,321.1 579.7,319.2 580.6,314.6 581.5,310.5 582.4,304.5 583.3,303.3 584.2,297.5 585.1,294.4 586.0,297.8 586.9,300.5 587.8,304.3 588.7,305.2 589.6,309.2 590.5,315.2 591.4,320.9 592.3,327.6 593.2,332.5 594.1,341.1 595.0,351.9 595.9,364.1 596.8,376.2 597.7,381.9 598.6,382.9 599.5,386.3 600.4,390.5 601.3,394.4 602.2,395.2 603.1,397.6 604.0,394.9 604.9,403.0 605.8,402.5 606.7,400.8 607.6,411.9 608.5,416.5 609.4,422.7 610.3,416.2 611.2,423.2 612.1,419.2 613.0,414.0 613.9,421.9 614.8,423.6 615.7,426.2 616.6,432.5 617.5,432.5 618.4,441.0 619.3,438.5 620.2,438.0 621.1,441.7 622.0,437.9 622.9,435.7 623.8,434.6 624.7,436.3 625.6,438.7 626.5,434.2 627.4,432.6 628.3,440.9 629.2,443.4 630.1,447.8 631.0,457.6 631.9,448.0 632.8,450.0 633.7,443.7 634.6,445.9 635.5,446.7 636.4,446.6 637.3,439.3 638.2,443.0 639.1,441.8 640.0,440.9 640.9,448.6 641.8,443.9 642.7,443.0 643.6,447.6 644.5,443.3 645.4,453.1 646.3,452.4 647.2,448.4 648.1,450.3 649.0,449.6 649.9,452.5 650.8,445.7 651.7,443.4 652.6,441.1 653.5,444.8 654.4,441.1 655.3,444.0 656.2,444.9 657.1,442.3 658.0,442.3 658.9,450.4 659.8,449.8 660.7,453.6 661.6,458.2 662.5,453.4 663.4,453.4 664.3,461.0 665.2,453.5 666.1,450.4 667.0,451.5 667.9,449.8 668.8,447.3 669.7,450.4 670.6,453.0 671.5,454.8 672.4,457.8 673.3,453.9 674.2,456.2 675.1,463.5 676.0,462.1 676.9,467.9 677.8,463.8 678.7,457.4 679.6,459.9 680.5,453.8 681.4,454.7 682.3,454.9 683.2,455.6 684.1,451.3 685.0,454.4 685.9,454.5 686.8,456.9 687.7,449.8 688.6,456.3 689.5,459.1 690.4,460.7 691.3,458.8 692.2,463.8 693.1,465.3 694.0,460.3 694.9,457.1 695.8,454.4 696.7,453.2 697.6,453.3 698.5,451.6 699.4,447.0 700.3,449.5 701.2,453.5 702.1,461.5 703.0,463.2 703.9,466.1 704.8,467.5 705.7,468.2 706.6,467.8 707.5,466.5 708.4,468.4 709.3,471.2 710.2,472.8 711.1,470.3 712.0,468.8 712.9,471.8 713.8,465.9 714.7,466.3 715.6,463.6 716.5,460.9 717.4,457.9 718.3,458.9 719.2,456.8 720.1,461.6 721.0,459.8 721.9,464.8 722.8,470.5 723.7,471.8 724.6,473.8 725.5,473.9 726.4,467.0 727.3,469.3 728.2,467.1 729.1,472.0 730.0,467.7 730.9,468.4 731.8,470.6 732.7,464.8 733.6,465.0 734.5,465.1 735.4,462.7 736.3,467.6 737.2,471.6 738.1,476.1 739.0,469.5 739.9,464.3 740.8,460.0 741.7,456.3 742.6,454.1 743.5,460.0 744.4,462.0 745.3,461.0 746.2,460.7 747.1,463.2 748.0,466.1 748.9,468.8 749.8,474.9 750.7,470.9 751.6,476.4 752.5,479.3 753.4,479.6 754.3,480.7 755.2,480.6 756.1,483.4 757.0,488.4 757.9,494.0 758.8,499.7 759.7,513.3 760.6,518.5 761.5,521.9 762.4,522.3 763.3,524.9 764.2,528.2 765.1,525.3 766.0,529.7 766.9,527.2 767.8,528.4 768.7,532.7 769.6,532.7 770.5,538.7 771.4,539.4 772.3,536.2 773.2,536.2 774.1,535.7 775.0,535.3 775.9,535.8 776.8,535.9 777.7,533.8 778.6,532.8 779.5,533.1 780.4,535.5 781.3,532.7 782.2,536.2 783.1,532.5 784.0,535.5 784.9,530.1 785.8,530.8 786.7,532.9 787.6,532.7 788.5,531.1 789.4,535.3 790.3,531.0 791.2,531.8 792.1,532.4 793.0,539.3 793.9,540.1 794.8,541.6 795.7,539.8 796.6,543.5 797.5,541.2 798.4,542.2 799.3,542.6 800.2,538.6 801.1,539.8 802.0,540.5 802.9,538.4 803.8,536.7 804.7,534.6 805.6,535.4 806.5,534.5 807.4,539.4 808.3,538.0 809.2,535.7 810.1,538.5 811.0,536.3 811.9,532.6 812.8,542.0 813.7,542.3 814.6,537.3 815.5,539.2 816.4,541.4 817.3,537.1 818.2,532.5 819.1,531.8 820.0,535.3 820.9,537.6 821.8,542.1 822.7,544.1 823.6,544.7 824.5,543.3 825.4,537.0 826.3,540.3 827.2,531.0 828.1,531.7 829.0,533.0 829.9,533.6 830.8,533.7 831.7,536.1 832.6,531.7 833.5,534.2 834.4,535.1 835.3,534.9 836.2,537.3 837.1,543.7 838.0,542.3 838.9,545.4 840.0,544.8 840.9,544.9 841.8,542.2 842.7,545.7 843.6,541.9 844.5,539.8 845.4,540.3 846.3,537.3 847.2,542.9 848.1,541.8 849.0,543.6 849.9,538.0 850.8,544.3 851.7,542.4 852.6,545.8 853.5,549.6 854.4,545.7 855.3,543.4 856.2,545.8 857.1,544.0 858.0,545.5 858.9,533.4 859.8,539.5 860.7,537.6 861.6,536.7 862.5,540.0 863.4,536.6 864.3,533.7 865.2,538.0 866.1,539.9 867.0,546.1 867.9,538.2 868.8,536.4 869.7,533.7 870.6,538.4 871.5,538.2 872.4,539.1 873.3,534.2 874.2,536.4 875.1,532.5 876.0,540.3 876.9,535.5 877.8,532.9 878.7,544.8 879.6,543.0 880.5,542.6 881.4,542.5 882.3,538.2 883.2,544.5 884.1,527.8 885.0,546.4 885.9,540.9 886.8,534.1 887.7,541.6 888.6,544.3 889.5,537.0 890.4,540.9 891.3,536.9 892.2,535.8 893.1,530.1 894.0,541.7 894.9,536.8 895.8,539.5 896.7,535.0 897.6,535.1 898.5,540.3 899.4,534.6 900.3,533.3 901.2,529.3 902.1,532.6 903.0,533.9 903.9,530.2 904.8,532.1 905.7,530.5 906.6,539.8 907.5,535.4 908.4,537.7 909.3,543.9 910.2,538.1 911.1,533.8 912.0,534.8 912.9,535.4 913.8,540.8 914.7,535.1 915.6,533.6 916.5,536.9 917.4,538.9 918.3,533.6 919.2,541.4 920.1,540.9 921.0,540.6 921.9,532.3 922.8,539.5 923.7,542.4 924.6,536.7 925.5,543.7 926.4,536.7 927.3,533.2 928.2,538.3 929.1,537.7 930.0,539.9 930.9,537.0 931.8,542.0 932.7,536.7 933.6,539.1 934.5,535.2 935.4,537.2 936.3,541.0 937.2,539.2 938.1,540.5 939.0,541.6 939.9,534.9 940.8,544.6 941.7,544.1 942.6,543.7 943.5,539.9 944.4,536.4 945.3,532.4 946.2,535.7 947.1,534.3 948.0,531.4 948.9,542.5 949.8,532.4 950.7,539.6 951.6,540.2 952.5,537.4 953.4,545.3 954.3,536.8 955.2,533.6 956.1,540.3 957.0,532.1 957.9,529.8 958.8,530.7 959.7,532.1 960.6,534.6 961.5,535.6 962.4,530.1 963.3,536.1 964.2,541.6 965.1,532.2 966.0,533.7 966.9,535.5 967.8,536.5 968.7,530.5 969.6,529.4 970.5,529.3 971.4,535.4 972.3,534.5 973.2,524.8 974.1,524.3 975.0,526.5 975.9,525.3 976.8,531.4 977.7,531.6 978.6,538.4 979.5,536.8 980.4,536.4 981.3,541.0 982.2,535.2 983.1,533.6 984.0,537.0 984.9,538.4 985.8,528.7 986.7,534.9 987.6,533.8 988.5,529.0 989.4,531.1 990.3,530.3 991.2,531.8 992.1,534.5 993.0,530.0 993.9,535.5 994.8,534.5 995.7,533.9 996.6,524.6 997.5,524.6 998.4,532.1 999.3,528.5 1000.2,528.2 1001.1,528.0 1002.0,526.3 1002.9,529.6 1003.8,528.1 1004.7,528.5 1005.6,532.9 1006.5,529.1 1007.4,537.4 1008.3,528.3 1009.2,543.6 1010.1,532.2 1011.0,537.9 1011.9,538.6 1012.8,535.3 1013.7,537.1 1014.6,534.2 1015.5,528.6 1016.4,534.4 1017.3,535.8 1018.2,529.4 1019.1,525.4 1020.0,528.4 1020.9,531.2 1021.8,522.0 1022.7,535.3 1023.6,534.9 1024.5,535.8 1025.4,528.6 1026.3,541.8 1027.2,535.5 1028.1,538.0 1029.0,534.3 1029.9,535.5 1030.8,536.3 1031.7,541.6 1032.6,541.8 1033.5,539.3 1034.4,543.7 1035.3,536.4 1036.2,538.9 1037.1,535.5 1038.0,540.4 1038.9,535.9 1039.8,538.1 1040.7,540.0 1041.6,527.6 1042.5,539.9 1043.4,533.2 1044.3,530.3 1045.2,524.3 1046.1,528.3 1047.0,521.2 1047.9,528.0 1048.8,527.2 1049.7,533.1 1050.6,526.8 1051.5,531.8 1052.4,532.6 1053.3,536.3 1054.2,530.1 1055.1,534.0 1056.0,527.5 1056.9,529.1 1057.8,532.0 1058.7,532.8 1059.6,529.3 1060.5,531.6 1061.4,535.3 1062.3,531.6 1063.2,532.6 1064.1,530.1 1065.0,536.8 1065.9,537.5 1066.8,532.5 1067.7,531.6 1068.6,537.3 1069.5,533.3 1070.4,529.9 1071.3,527.6 1072.2,530.1 1073.1,538.8 1074.0,530.3 1074.9,541.3 1075.8,533.2 1076.7,533.0 1077.6,538.4 1078.5,533.6 1079.4,535.5 1080.3,531.1 1081.2,530.6 1082.1,532.6 1083.0,536.0 1083.9,534.0 1084.8,530.7 1085.7,539.2 1086.6,537.7 1087.5,537.0 1088.4,535.3 1089.3,529.0 1090.2,539.3 1091.1,531.0 1092.0,532.1 1092.9,533.3 1093.8,531.0 1094.7,518.2 1095.6,526.4 1096.5,527.6 1097.4,530.0 1098.3,530.0 1099.2,528.2 1100.1,532.4 1101.0,533.3 1101.9,535.4 1102.8,535.0 1103.7,539.5 1104.6,536.2 1105.5,538.4 1106.4,535.5 1107.3,533.0 1108.2,530.9 1109.1,532.6 1110.0,534.4 1110.9,536.6 1111.8,533.0 1112.7,532.7 1113.6,534.0 1114.5,541.0 1115.4,538.5 1116.3,537.5 1117.2,541.5 1118.1,534.8 1119.0,538.8 1119.9,537.5 1120.8,536.3 1121.7,532.4 1122.6,538.4 1123.5,540.8 1124.4,531.9 1125.3,536.8 1126.2,538.8 1127.1,543.8 1128.0,535.2 1128.9,532.8 1129.8,534.6 1130.7,539.1 1131.6,531.8 1132.5,531.3 1133.4,535.4 1134.3,523.6 1135.2,524.0 1136.1,534.6 1137.0,534.8 1137.9,529.0 1138.8,535.3 1139.7,533.8 1140.6,534.0 1141.5,530.4 1142.4,531.2 1143.3,529.8 1144.2,533.1 1145.1,532.4 1146.0,538.3 1146.9,535.2 1147.8,528.6 1148.7,534.6 1149.6,537.5 1150.5,534.1 1151.4,536.7 1152.3,533.3 1153.2,535.8 1154.1,530.8 1155.0,536.1 1155.9,529.4 1156.8,537.5 1157.7,529.3 1158.6,527.6 1159.5,536.1 1160.4,534.9 1161.3,536.8 1162.2,538.6 1163.1,538.2 1164.0,536.2 1164.9,540.2 1165.8,540.8 1166.7,540.8 1167.6,544.7 1168.5,535.7 1169.4,537.3 1170.3,538.9 1171.2,536.3 1172.1,534.6 1173.0,537.6 1173.9,543.9 1174.8,540.9 1175.7,544.4 1176.6,540.3 1177.5,543.8 1178.4,540.2 1179.3,539.5 1180.2,542.1 1181.1,541.5 1182.0,545.5 1182.9,535.5 1183.8,541.5 1184.7,544.2 1185.6,542.7 1186.5,536.3 1187.4,534.5 1188.3,533.9 1189.2,535.2 1190.1,533.6 1191.0,533.2 1191.9,533.4 1192.8,528.4 1193.7,528.5 1194.6,528.9 1195.5,529.3 1196.4,533.9 1197.3,535.5 1198.2,542.4 1199.1,536.0 1200.0,534.2 1200.9,538.1 1201.8,531.4 1202.7,534.7 1203.6,536.9 1204.5,536.3 1205.4,535.1 1206.3,533.1 1207.2,530.5 1208.1,533.9 1209.0,532.7 1209.9,537.1 1210.8,534.9 1211.7,537.4 1212.6,530.9 1213.5,539.1 1214.4,533.3 1215.3,531.1 1216.2,531.6 1217.1,533.9 1218.0,539.3 1218.9,538.5 1219.8,533.2 1220.7,537.6 1221.6,537.4 1222.5,533.3 1223.4,525.7 1224.3,531.5 1225.2,534.2 1226.1,527.3 1227.0,531.6 1227.9,530.0 1228.8,529.4 1229.7,528.9 1230.6,535.2 1231.5,531.0 1232.4,533.8 1233.3,536.1 1234.2,537.0 1235.1,536.6 1236.0,532.9 1236.9,531.0 1237.8,531.6 1238.7,531.6 1239.6,532.0 1240.5,530.7 1241.4,533.5 1242.3,529.4 1243.2,535.6 1244.1,534.4 1245.0,532.1 1245.9,538.8 1246.8,529.9 1247.7,545.4 1248.6,543.7 1249.5,544.0 1250.4,537.1 1251.3,549.1 1252.2,539.2 1253.1,538.3 1254.0,541.0 1254.9,536.0 1255.8,533.5 1256.7,537.6 1257.6,532.0 1258.5,536.7 1259.4,533.8 1260.3,536.4 1261.2,528.7 1262.1,536.0 1263.0,533.1 1263.9,531.8 1264.8,531.6 1265.7,540.1 1266.6,537.2 1267.5,537.5 1268.4,532.6 1269.3,536.1 1270.2,535.9 1271.1,530.5 1272.0,529.0 1272.9,530.1 1273.8,537.0 1274.7,533.2 1275.6,535.7 1276.5,533.6 1277.4,533.2 1278.3,533.3 1279.2,531.4 1280.1,536.3 1281.0,533.1 1281.9,533.2 1282.8,528.3 1283.7,533.2 1284.6,529.7 1285.5,529.6 1286.4,533.8 1287.3,527.2 1288.2,530.3 1289.1,533.3 1290.0,535.6 1290.9,531.2 1291.8,534.4 1292.7,534.5 1293.6,529.8 1294.5,526.1 1295.4,526.2 1296.3,533.3 1297.2,532.1 1298.1,527.7 1299.0,530.3 1299.9,531.7 1300.8,532.4 1301.7,534.0 1302.6,541.5 1303.5,532.7 1304.4,536.1 1305.3,533.8 1306.2,534.8 1307.1,534.5 1308.0,537.0 1308.9,535.9 1309.8,538.8 1310.7,538.1 1311.6,534.4 1312.5,542.5 1313.4,532.5 1314.3,536.7 1315.2,542.1 1316.1,533.0 1317.0,545.5 1317.9,539.2 1318.8,535.9 1319.7,529.4 1320.6,539.3 1321.5,535.3 1322.4,533.3 1323.3,539.2 1324.2,533.3 1325.1,538.9 1326.0,533.7 1326.9,536.6 1327.8,531.1 1328.7,532.3 1329.6,529.7 1330.5,529.3 1331.4,530.8 1332.3,528.7 1333.2,534.8 1334.1,531.1 1335.0,526.1 1335.9,520.4 1336.8,525.3 1337.7,527.1 1338.6,530.7 1339.5,531.6 1340.4,532.3 1341.3,529.3 1342.2,532.1 1343.1,525.8 1344.0,534.3 1344.9,531.7 1345.8,531.8 1346.7,528.9 1347.6,530.1 1348.5,527.5 1349.4,530.7 1350.3,524.3 1351.2,530.8 1352.1,528.7 1353.0,532.4 1353.9,525.8 1354.8,525.2 1355.7,525.7 1356.6,525.0 1357.5,524.5 1358.4,512.8 1359.3,522.3 1360.2,524.5 1361.1,525.7 1362.0,523.2 1362.9,523.5 1363.8,526.1 1364.7,529.6 1365.6,526.6 1366.5,529.5 1367.4,530.3 1368.3,529.5 1369.2,525.7 1370.1,525.3 1371.0,520.3 1371.9,523.2 1372.8,526.6 1373.7,521.9 1374.6,529.6 1375.5,530.3 1376.4,524.5 1377.3,528.3 1378.2,520.3 1379.1,520.6 1380.0,521.9 1380.9,521.7 1381.8,520.1 1382.7,517.2 1383.6,525.5 1384.5,520.2 1385.4,520.2 1386.3,521.8 1387.2,520.6 1388.1,519.8 1389.0,519.2 1389.9,515.9 1390.8,525.2 1391.7,517.1 1392.6,514.4 1393.5,516.4 1394.4,513.4 1395.3,524.2 1396.2,519.2 1397.1,522.8 1398.0,523.6 1398.9,521.8 1399.8,522.5 1400.7,518.9 1401.6,521.1 1402.5,519.2 1403.4,511.1 1404.3,516.9 1405.2,521.7 1406.1,519.2 1407.0,515.5 1407.9,509.9 1408.8,516.6 1409.7,516.6 1410.6,512.7 1411.5,507.9 1412.4,511.6 1413.3,511.7 1414.2,500.9 1415.1,507.3 1416.0,499.2 1416.9,505.0 1417.8,510.5 1418.7,506.1 1419.6,508.5 1420.5,507.2 1421.4,509.2 1422.3,517.1 1423.2,514.0 1424.1,508.6 1425.0,507.6 1425.9,507.7 1426.8,513.2 1427.7,506.4 1428.6,508.9 1429.5,505.0 1430.4,503.3 1431.3,513.0 1432.2,510.5 1433.1,510.4 1434.0,512.4 1434.9,513.7 1435.8,514.9 1436.7,513.2 1437.6,522.3 1438.5,519.6 1439.4,520.9 1440.3,516.1 1441.2,517.4 1442.1,516.1 1443.0,518.2 1443.9,516.9 1444.8,515.5 1445.7,512.6 1446.6,511.1 1447.5,512.4 1448.4,513.1 1449.3,513.3 1450.2,518.3 1451.1,521.0 1452.0,517.5 1452.9,511.3 1453.8,515.4 1454.7,525.4 1455.6,522.8 1456.5,527.0 1457.4,522.5 1458.3,529.1 1459.2,527.7 1460.1,533.5 1461.0,535.0 1461.9,531.6 1462.8,532.3 1463.7,529.7 1464.6,528.1 1465.5,525.0 1466.4,529.0 1467.3,528.0 1468.2,527.7 1469.1,529.7 1470.0,530.7 1470.9,529.4 1471.8,531.4 1472.7,536.8 1473.6,532.6 1474.5,536.9 1475.4,528.3 1476.3,527.1 1477.2,531.3 1478.1,533.1 1479.0,529.0 1479.9,533.4 1480.8,535.3 1481.7,536.4 1482.6,533.6 1483.5,534.3 1484.4,529.8 1485.3,534.9 1486.2,536.0 1487.1,539.2 1488.0,531.0 1488.9,532.0 1489.8,531.5 1490.7,537.4 1491.6,527.0 1492.5,531.2 1493.4,540.3 1494.3,535.4 1495.2,528.5 1496.1,531.7 1497.0,533.7 1497.9,531.8 1498.8,529.3 1499.7,527.8 1500.6,533.0 1501.5,530.7 1502.4,533.5 1503.3,532.6 1504.2,530.0 1505.1,535.4 1506.0,528.9 1506.9,531.3 1507.8,527.3 1508.7,528.6 1509.6,528.7 1510.5,528.0 1511.4,531.7 1512.3,536.4 1513.2,539.4 1514.1,538.9 1515.0,534.5 1515.9,539.8 1516.8,536.6 1517.7,540.2 1518.6,530.3 1519.5,538.3 1520.4,531.8 1521.3,537.2 1522.2,532.6 1523.1,537.6 1524.0,534.7 1524.9,530.3 1525.8,533.5 1526.7,535.6 1527.6,535.7 1528.5,527.6 1529.4,529.5 1530.3,529.4 1531.2,530.2 1532.1,531.5 1533.0,529.1 1533.9,528.4 1534.8,535.4 1535.7,535.2 1536.6,539.9 1537.5,536.1 1538.4,539.5 1539.3,534.3 1540.2,537.1 1541.1,535.9 1542.0,536.7 1542.9,532.6 1543.8,535.2 1544.7,533.4 1545.6,535.3 1546.5,537.7 1547.4,544.3 1548.3,535.2 1549.2,536.7 1550.1,534.5 1551.0,537.9 1551.9,536.8 1552.8,540.0 1553.7,539.4 1554.6,547.0 1555.5,544.5 1556.4,534.9 1557.3,546.7 1558.2,536.9 1559.1,527.7 1560.0,529.2 1560.9,528.7 1561.8,527.2 1562.7,529.8 1563.6,524.5 1564.5,532.8 1565.4,533.6 1566.3,532.8 1567.2,531.0 1568.1,531.8 1569.0,530.2 1569.9,535.0 1570.8,533.0 1571.7,537.9 1572.6,531.1 1573.5,536.8 1574.4,530.9 1575.3,532.8 1576.2,530.9 1577.1,536.1 1578.0,535.1 1578.9,537.9 1579.8,541.3 1580.7,536.7 1581.6,537.8 1582.5,539.0 1583.4,535.0 1584.3,532.9 1585.2,535.0 1586.1,535.0 1587.0,535.4 1587.9,535.6 1588.8,531.1 1589.7,534.0 1590.6,535.9 1591.5,530.3 1592.4,532.4 1593.3,528.9 1594.2,531.2 1595.1,536.3 1596.0,531.8 1596.9,528.9 1597.8,533.1 1598.7,533.0 1599.6,536.3 1600.5,529.7 1601.4,532.2 1602.3,536.0 1603.2,532.8 1604.1,542.0 1605.0,533.6 1605.9,537.6 1606.8,535.7 1607.7,537.9 1608.6,541.9 1609.5,541.0 1610.4,541.9 1611.3,540.9 1612.2,533.1 1613.1,540.6 1614.0,534.7 1614.9,539.4 1615.8,540.7 1616.7,540.6 1617.6,537.5 1618.5,540.3 1619.4,548.0 1620.3,544.3"/>
</g>
<line x1="502" y1="34" x2="498.4" y2="1748" stroke="#b0455a" stroke-width="5" stroke-dasharray="23.5 10.3 34 10.3 34 10.5" stroke-dashoffset="95.4"/>
<line x1="1426" y1="34" x2="1422.5" y2="1748" stroke="#6e806a" stroke-width="5" stroke-dasharray="23.5 10.3 34 10.3 34 10.5" stroke-dashoffset="95.4"/>
<rect x="1030.6" y="66.4" width="331" height="417.6" fill="#fff" stroke="#5b8ba3" stroke-width="5"/>
<g fill="none" stroke-linejoin="round" stroke-linecap="round">
<polyline stroke="#dc949b" stroke-width="4" points="1033.2,109.0 1034.4,108.2 1035.6,108.5 1036.8,107.1 1038.0,106.0 1039.2,105.2 1040.4,104.0 1041.6,102.9 1042.8,101.5 1044.0,100.4 1045.2,99.1 1046.4,96.4 1047.6,96.0 1048.8,97.3 1050.0,97.6 1051.2,99.4 1052.4,101.1 1053.6,103.0 1054.8,103.4 1056.0,102.8 1057.2,102.9 1058.4,102.9 1059.6,102.4 1060.8,103.1 1062.0,103.0 1063.2,102.8 1064.4,103.5 1065.6,104.5 1066.8,105.0 1068.0,106.0 1069.2,106.3 1070.4,107.4 1071.6,107.4 1072.8,108.2 1074.0,107.5 1075.2,108.1 1076.4,109.1 1077.6,109.3 1078.8,109.2 1080.0,107.6 1081.2,105.7 1082.4,105.5 1083.6,103.8 1084.8,100.9 1086.0,99.3 1087.2,97.6 1088.4,95.9 1089.6,93.6 1090.8,90.9 1092.0,90.0 1093.2,89.7 1094.4,91.1 1095.6,91.3 1096.8,92.4 1098.0,93.0 1099.2,93.7 1100.4,93.7 1101.6,95.1 1102.8,95.1 1104.0,94.9 1105.2,95.8 1106.4,96.3 1107.6,97.4 1108.8,99.9 1110.0,101.4 1111.2,104.7 1112.4,106.7 1113.6,108.6 1114.8,112.6 1116.0,115.0 1117.2,118.0 1118.4,122.1 1119.6,125.4 1120.8,125.9 1122.0,127.1 1123.2,127.4 1124.4,127.0 1125.6,128.6 1126.8,127.9 1128.0,128.3 1129.2,127.3 1130.4,128.8 1131.6,128.2 1132.8,128.7 1134.0,127.7 1135.2,129.1 1136.4,129.2 1137.6,130.3 1138.8,128.9 1140.0,131.6 1141.2,132.5 1142.4,131.8 1143.6,134.0 1144.8,134.3 1146.0,134.0 1147.2,131.9 1148.4,131.4 1149.6,130.3 1150.8,129.5 1152.0,128.4 1153.2,129.8 1154.4,130.6 1155.6,130.2 1156.8,132.1 1158.0,131.9 1159.2,132.0 1160.4,132.5 1161.6,131.8 1162.8,131.8 1164.0,131.7 1165.2,131.4 1166.4,129.7 1167.6,127.6 1168.8,126.5 1170.0,124.6 1171.2,122.5 1172.4,120.4 1173.6,119.0 1174.8,116.7 1176.0,114.4 1177.2,113.6 1178.4,112.1 1179.6,110.6 1180.8,108.1 1182.0,106.5 1183.2,105.4 1184.4,103.4 1185.6,101.9 1186.8,100.8 1188.0,98.8 1189.2,97.8 1190.4,95.4 1191.6,94.4 1192.8,92.4 1194.0,91.5 1195.2,88.5 1196.4,86.8 1197.6,85.9 1198.8,84.2 1200.0,83.5 1201.2,83.0 1202.4,82.3 1203.6,80.6 1204.8,80.6 1206.0,79.5 1207.2,78.9 1208.4,78.2 1209.6,77.3 1210.8,77.3 1212.0,76.3 1213.2,75.3 1214.4,74.8 1215.6,74.6 1216.8,73.8 1218.0,73.4 1219.2,72.0 1220.4,71.6 1221.6,72.5 1222.8,71.5 1224.0,72.4 1225.2,72.0 1226.4,71.3 1227.6,72.4 1228.8,75.3 1230.0,76.6 1231.2,78.5 1232.4,79.9 1233.6,83.2 1234.8,84.6 1236.0,86.1 1237.2,87.4 1238.4,88.6 1239.6,89.7 1240.8,91.1 1242.0,91.9 1243.2,92.0 1244.4,94.8 1245.6,95.9 1246.8,96.9 1248.0,98.8 1249.2,98.4 1250.4,98.8 1251.6,102.0 1252.8,102.6 1254.0,102.6 1255.2,104.3 1256.4,105.9 1257.6,106.1 1258.8,108.0 1260.0,109.9 1261.2,110.6 1262.4,111.1 1263.6,112.5 1264.8,113.0 1266.0,114.8 1267.2,115.7 1268.4,116.6 1269.6,117.6 1270.8,120.4 1272.0,121.2 1273.2,122.5 1274.4,124.6 1275.6,127.4 1276.8,129.3 1278.0,130.0 1279.2,131.9 1280.4,133.6 1281.6,134.4 1282.8,135.3 1284.0,136.8 1285.2,138.6 1286.4,139.6 1287.6,140.7 1288.8,142.2 1290.0,141.7 1291.2,140.6 1292.4,139.1 1293.6,139.2 1294.8,136.8 1296.0,136.2 1297.2,134.6 1298.4,134.7 1299.6,133.3 1300.8,131.6 1302.0,131.1 1303.2,131.5 1304.4,130.0 1305.6,128.8 1306.8,128.2 1308.0,126.0 1309.2,125.7 1310.4,126.1 1311.6,126.9 1312.8,127.8 1314.0,128.8 1315.2,129.6 1316.4,130.2 1317.6,131.7 1318.8,130.7 1320.0,132.8 1321.2,135.3 1322.4,136.7 1323.6,139.2 1324.8,141.7 1326.0,143.2 1327.2,146.0 1328.4,148.5 1329.6,149.5 1330.8,151.1 1332.0,154.3 1333.2,155.4 1334.4,157.7 1335.6,159.1 1336.8,161.1 1338.0,163.2 1339.2,164.8 1340.4,165.9 1341.6,167.1 1342.8,168.2 1344.0,170.0 1345.2,171.7 1346.4,172.8 1347.6,173.1 1348.8,173.7 1350.0,173.9 1351.2,174.5 1352.4,175.2 1353.6,177.0 1354.8,176.3 1356.0,178.3 1357.2,178.2"/>
<polyline stroke="#dc949b" stroke-width="8" points="1165.2,131.4 1166.4,129.7 1167.6,127.6 1168.8,126.5 1170.0,124.6 1171.2,122.5 1172.4,120.4 1173.6,119.0 1174.8,116.7 1176.0,114.4 1177.2,113.6 1178.4,112.1 1179.6,110.6 1180.8,108.1 1182.0,106.5 1183.2,105.4 1184.4,103.4 1185.6,101.9 1186.8,100.8 1188.0,98.8 1189.2,97.8 1190.4,95.4 1191.6,94.4 1192.8,92.4 1194.0,91.5 1195.2,88.5 1196.4,86.8 1197.6,85.9 1198.8,84.2 1200.0,83.5 1201.2,83.0 1202.4,82.3 1203.6,80.6 1204.8,80.6 1206.0,79.5 1207.2,78.9 1208.4,78.2 1209.6,77.3 1210.8,77.3 1212.0,76.3 1213.2,75.3 1214.4,74.8 1215.6,74.6 1216.8,73.8 1218.0,73.4 1219.2,72.0 1220.4,71.6 1221.6,72.5 1222.8,71.5 1224.0,72.4 1225.2,72.0 1226.4,71.3 1227.6,72.4 1228.8,75.3 1230.0,76.6 1231.2,78.5 1232.4,79.9 1233.6,83.2 1234.8,84.6 1236.0,86.1 1237.2,87.4 1238.4,88.6 1239.6,89.7 1240.8,91.1 1242.0,91.9 1243.2,92.0 1244.4,94.8 1245.6,95.9 1246.8,96.9 1248.0,98.8 1249.2,98.4 1250.4,98.8 1251.6,102.0 1252.8,102.6 1254.0,102.6 1255.2,104.3 1256.4,105.9 1257.6,106.1 1258.8,108.0 1260.0,109.9 1261.2,110.6 1262.4,111.1 1263.6,112.5 1264.8,113.0 1266.0,114.8 1267.2,115.7 1268.4,116.6 1269.6,117.6 1270.8,120.4 1272.0,121.2 1273.2,122.5 1274.4,124.6 1275.6,127.4 1276.8,129.3 1278.0,130.0"/>
<polyline stroke="#ddac58" stroke-width="4" points="1033.2,170.6 1034.4,168.7 1035.6,167.2 1036.8,165.6 1038.0,162.9 1039.2,161.1 1040.4,159.6 1041.6,157.6 1042.8,156.6 1044.0,154.5 1045.2,152.8 1046.4,151.9 1047.6,150.5 1048.8,150.3 1050.0,147.9 1051.2,148.0 1052.4,147.2 1053.6,145.6 1054.8,144.6 1056.0,144.5 1057.2,142.9 1058.4,141.6 1059.6,142.2 1060.8,143.7 1062.0,143.1 1063.2,144.6 1064.4,145.0 1065.6,144.5 1066.8,145.2 1068.0,145.7 1069.2,147.1 1070.4,148.1 1071.6,150.0 1072.8,150.2 1074.0,152.0 1075.2,153.3 1076.4,154.7 1077.6,154.6 1078.8,155.9 1080.0,156.9 1081.2,156.6 1082.4,156.0 1083.6,155.4 1084.8,155.6 1086.0,154.2 1087.2,153.5 1088.4,152.3 1089.6,152.2 1090.8,151.5 1092.0,150.7 1093.2,149.7 1094.4,149.3 1095.6,150.0 1096.8,149.4 1098.0,149.3 1099.2,151.4 1100.4,152.0 1101.6,152.1 1102.8,152.8 1104.0,155.9 1105.2,155.7 1106.4,156.7 1107.6,158.5 1108.8,160.4 1110.0,161.3 1111.2,162.8 1112.4,164.5 1113.6,165.6 1114.8,167.3 1116.0,168.6 1117.2,169.4 1118.4,171.1 1119.6,171.7 1120.8,174.0 1122.0,174.3 1123.2,175.8 1124.4,176.2 1125.6,178.1 1126.8,178.9 1128.0,181.5 1129.2,181.9 1130.4,183.4 1131.6,183.5 1132.8,184.6 1134.0,185.9 1135.2,186.2 1136.4,188.2 1137.6,188.3 1138.8,189.4 1140.0,190.3 1141.2,190.9 1142.4,192.1 1143.6,192.2 1144.8,193.5 1146.0,194.5 1147.2,194.6 1148.4,195.2 1149.6,195.6 1150.8,196.4 1152.0,197.3 1153.2,197.5 1154.4,197.3 1155.6,197.6 1156.8,196.9 1158.0,196.6 1159.2,195.8 1160.4,195.9 1161.6,194.0 1162.8,193.5 1164.0,193.7 1165.2,192.3 1166.4,192.3 1167.6,192.1 1168.8,191.5 1170.0,193.2 1171.2,194.0 1172.4,193.8 1173.6,193.4 1174.8,194.9 1176.0,194.4 1177.2,195.2 1178.4,195.9 1179.6,195.7 1180.8,195.7 1182.0,196.8 1183.2,196.2 1184.4,194.8 1185.6,193.9 1186.8,193.7 1188.0,192.3 1189.2,191.1 1190.4,190.1 1191.6,189.5 1192.8,188.5 1194.0,187.4 1195.2,185.6 1196.4,184.2 1197.6,182.1 1198.8,180.5 1200.0,179.1 1201.2,177.1 1202.4,175.0 1203.6,172.8 1204.8,170.7 1206.0,169.1 1207.2,166.7 1208.4,164.9 1209.6,162.7 1210.8,161.2 1212.0,159.3 1213.2,158.3 1214.4,155.7 1215.6,153.4 1216.8,152.0 1218.0,149.5 1219.2,148.3 1220.4,146.5 1221.6,147.0 1222.8,144.6 1224.0,144.7 1225.2,144.2 1226.4,143.9 1227.6,143.6 1228.8,142.3 1230.0,142.0 1231.2,142.0 1232.4,141.8 1233.6,140.7 1234.8,140.7 1236.0,142.1 1237.2,142.1 1238.4,142.4 1239.6,141.5 1240.8,142.0 1242.0,142.4 1243.2,142.9 1244.4,144.6 1245.6,146.6 1246.8,149.0 1248.0,150.3 1249.2,152.1 1250.4,154.1 1251.6,156.0 1252.8,158.3 1254.0,160.3 1255.2,162.5 1256.4,165.7 1257.6,167.4 1258.8,169.4 1260.0,172.5 1261.2,173.9 1262.4,176.5 1263.6,178.7 1264.8,180.8 1266.0,182.8 1267.2,183.4 1268.4,183.0 1269.6,183.8 1270.8,184.4 1272.0,183.3 1273.2,182.1 1274.4,181.8 1275.6,179.8 1276.8,178.2 1278.0,177.0 1279.2,175.8 1280.4,174.8 1281.6,173.3 1282.8,172.9 1284.0,170.5 1285.2,170.2 1286.4,168.9 1287.6,167.0 1288.8,166.6 1290.0,165.4 1291.2,163.7 1292.4,166.3 1293.6,166.7 1294.8,167.4 1296.0,168.6 1297.2,169.6 1298.4,171.3 1299.6,171.9 1300.8,171.7 1302.0,172.3 1303.2,173.0 1304.4,173.6 1305.6,174.1 1306.8,174.4 1308.0,175.5 1309.2,176.1 1310.4,176.2 1311.6,175.6 1312.8,177.6 1314.0,178.9 1315.2,179.6 1316.4,180.7 1317.6,181.6 1318.8,181.8 1320.0,182.3 1321.2,184.8 1322.4,185.2 1323.6,186.7 1324.8,186.7 1326.0,186.9 1327.2,187.8 1328.4,186.7 1329.6,187.4 1330.8,187.0 1332.0,187.6 1333.2,188.0 1334.4,188.2 1335.6,188.3 1336.8,191.2 1338.0,195.5 1339.2,199.4 1340.4,203.0 1341.6,207.1 1342.8,207.2 1344.0,206.5 1345.2,206.7 1346.4,207.0 1347.6,207.5 1348.8,206.4 1350.0,208.1 1351.2,209.5 1352.4,210.4 1353.6,212.6 1354.8,213.5 1356.0,215.5 1357.2,216.9"/>
<polyline stroke="#ddac58" stroke-width="8" points="1165.2,192.3 1166.4,192.3 1167.6,192.1 1168.8,191.5 1170.0,193.2 1171.2,194.0 1172.4,193.8 1173.6,193.4 1174.8,194.9 1176.0,194.4 1177.2,195.2 1178.4,195.9 1179.6,195.7 1180.8,195.7 1182.0,196.8 1183.2,196.2 1184.4,194.8 1185.6,193.9 1186.8,193.7 1188.0,192.3 1189.2,191.1 1190.4,190.1 1191.6,189.5 1192.8,188.5 1194.0,187.4 1195.2,185.6 1196.4,184.2 1197.6,182.1 1198.8,180.5 1200.0,179.1 1201.2,177.1 1202.4,175.0 1203.6,172.8 1204.8,170.7 1206.0,169.1 1207.2,166.7 1208.4,164.9 1209.6,162.7 1210.8,161.2 1212.0,159.3 1213.2,158.3 1214.4,155.7 1215.6,153.4 1216.8,152.0 1218.0,149.5 1219.2,148.3 1220.4,146.5 1221.6,147.0 1222.8,144.6 1224.0,144.7 1225.2,144.2 1226.4,143.9 1227.6,143.6 1228.8,142.3 1230.0,142.0 1231.2,142.0 1232.4,141.8 1233.6,140.7 1234.8,140.7 1236.0,142.1 1237.2,142.1 1238.4,142.4 1239.6,141.5 1240.8,142.0 1242.0,142.4 1243.2,142.9 1244.4,144.6 1245.6,146.6 1246.8,149.0 1248.0,150.3 1249.2,152.1 1250.4,154.1 1251.6,156.0 1252.8,158.3 1254.0,160.3 1255.2,162.5 1256.4,165.7 1257.6,167.4 1258.8,169.4 1260.0,172.5 1261.2,173.9 1262.4,176.5 1263.6,178.7 1264.8,180.8 1266.0,182.8 1267.2,183.4 1268.4,183.0 1269.6,183.8 1270.8,184.4"/>
<polyline stroke="#569990" stroke-width="4" points="1033.2,232.5 1034.4,231.6 1035.6,232.1 1036.8,230.6 1038.0,231.2 1039.2,230.9 1040.4,231.6 1041.6,230.9 1042.8,230.2 1044.0,229.7 1045.2,229.9 1046.4,229.5 1047.6,230.7 1048.8,228.3 1050.0,229.5 1051.2,228.2 1052.4,229.8 1053.6,228.8 1054.8,229.8 1056.0,228.7 1057.2,229.4 1058.4,228.9 1059.6,229.2 1060.8,228.5 1062.0,226.7 1063.2,227.4 1064.4,226.7 1065.6,227.5 1066.8,227.0 1068.0,226.3 1069.2,226.2 1070.4,225.7 1071.6,225.0 1072.8,225.8 1074.0,225.2 1075.2,225.5 1076.4,225.4 1077.6,226.3 1078.8,227.0 1080.0,227.4 1081.2,227.8 1082.4,228.5 1083.6,228.4 1084.8,229.4 1086.0,229.2 1087.2,230.3 1088.4,231.1 1089.6,232.6 1090.8,233.2 1092.0,233.7 1093.2,233.9 1094.4,235.0 1095.6,236.3 1096.8,237.2 1098.0,236.5 1099.2,237.6 1100.4,238.4 1101.6,239.1 1102.8,239.6 1104.0,240.5 1105.2,240.1 1106.4,242.1 1107.6,241.4 1108.8,242.5 1110.0,242.1 1111.2,241.8 1112.4,241.1 1113.6,240.4 1114.8,240.0 1116.0,238.8 1117.2,239.4 1118.4,240.2 1119.6,239.6 1120.8,239.7 1122.0,240.4 1123.2,242.0 1124.4,242.3 1125.6,242.0 1126.8,242.9 1128.0,244.0 1129.2,245.2 1130.4,244.8 1131.6,246.4 1132.8,247.5 1134.0,248.7 1135.2,249.6 1136.4,250.4 1137.6,251.6 1138.8,251.2 1140.0,255.2 1141.2,255.5 1142.4,257.0 1143.6,257.6 1144.8,259.6 1146.0,261.7 1147.2,262.7 1148.4,262.6 1149.6,262.6 1150.8,263.9 1152.0,264.4 1153.2,265.6 1154.4,265.2 1155.6,266.4 1156.8,267.3 1158.0,267.6 1159.2,268.4 1160.4,267.3 1161.6,267.3 1162.8,267.7 1164.0,268.3 1165.2,267.7 1166.4,266.4 1167.6,264.9 1168.8,262.5 1170.0,260.0 1171.2,258.2 1172.4,255.8 1173.6,254.1 1174.8,251.8 1176.0,249.2 1177.2,247.3 1178.4,246.1 1179.6,245.3 1180.8,244.1 1182.0,242.3 1183.2,241.4 1184.4,240.4 1185.6,239.6 1186.8,238.0 1188.0,237.6 1189.2,235.5 1190.4,234.6 1191.6,232.9 1192.8,231.7 1194.0,231.9 1195.2,231.6 1196.4,231.2 1197.6,230.7 1198.8,230.1 1200.0,229.4 1201.2,229.3 1202.4,229.2 1203.6,229.1 1204.8,226.6 1206.0,228.1 1207.2,227.9 1208.4,227.7 1209.6,227.1 1210.8,227.1 1212.0,226.3 1213.2,226.3 1214.4,226.4 1215.6,225.4 1216.8,225.4 1218.0,225.7 1219.2,224.7 1220.4,225.2 1221.6,224.3 1222.8,224.9 1224.0,224.7 1225.2,224.3 1226.4,224.0 1227.6,224.1 1228.8,223.1 1230.0,223.9 1231.2,224.0 1232.4,224.4 1233.6,223.4 1234.8,223.5 1236.0,224.3 1237.2,224.7 1238.4,223.9 1239.6,224.8 1240.8,225.1 1242.0,225.0 1243.2,224.6 1244.4,224.8 1245.6,225.8 1246.8,226.9 1248.0,225.9 1249.2,227.8 1250.4,229.0 1251.6,228.6 1252.8,229.9 1254.0,232.0 1255.2,232.8 1256.4,233.7 1257.6,234.5 1258.8,236.3 1260.0,237.8 1261.2,241.3 1262.4,241.6 1263.6,243.3 1264.8,246.3 1266.0,249.0 1267.2,250.2 1268.4,252.7 1269.6,254.7 1270.8,257.5 1272.0,259.4 1273.2,259.1 1274.4,258.1 1275.6,257.8 1276.8,258.1 1278.0,256.4 1279.2,255.7 1280.4,255.9 1281.6,253.7 1282.8,252.7 1284.0,252.5 1285.2,250.5 1286.4,250.0 1287.6,249.2 1288.8,246.9 1290.0,246.0 1291.2,245.8 1292.4,243.3 1293.6,242.3 1294.8,242.1 1296.0,241.2 1297.2,240.4 1298.4,241.0 1299.6,239.3 1300.8,239.2 1302.0,238.2 1303.2,237.7 1304.4,237.1 1305.6,238.8 1306.8,238.7 1308.0,240.1 1309.2,239.6 1310.4,240.5 1311.6,241.5 1312.8,241.9 1314.0,242.2 1315.2,245.6 1316.4,248.3 1317.6,252.1 1318.8,254.0 1320.0,258.6 1321.2,262.4 1322.4,264.2 1323.6,265.6 1324.8,266.4 1326.0,268.3 1327.2,269.3 1328.4,270.9 1329.6,272.3 1330.8,272.2 1332.0,275.7 1333.2,276.9 1334.4,278.5 1335.6,279.1 1336.8,281.3 1338.0,282.7 1339.2,282.8 1340.4,284.5 1341.6,286.8 1342.8,287.9 1344.0,289.7 1345.2,290.8 1346.4,293.3 1347.6,293.1 1348.8,294.7 1350.0,296.2 1351.2,297.4 1352.4,299.1 1353.6,300.7 1354.8,301.4 1356.0,303.6 1357.2,305.4"/>
<polyline stroke="#569990" stroke-width="8" points="1165.2,267.7 1166.4,266.4 1167.6,264.9 1168.8,262.5 1170.0,260.0 1171.2,258.2 1172.4,255.8 1173.6,254.1 1174.8,251.8 1176.0,249.2 1177.2,247.3 1178.4,246.1 1179.6,245.3 1180.8,244.1 1182.0,242.3 1183.2,241.4 1184.4,240.4 1185.6,239.6 1186.8,238.0 1188.0,237.6 1189.2,235.5 1190.4,234.6 1191.6,232.9 1192.8,231.7 1194.0,231.9 1195.2,231.6 1196.4,231.2 1197.6,230.7 1198.8,230.1 1200.0,229.4 1201.2,229.3 1202.4,229.2 1203.6,229.1 1204.8,226.6 1206.0,228.1 1207.2,227.9 1208.4,227.7 1209.6,227.1 1210.8,227.1 1212.0,226.3 1213.2,226.3 1214.4,226.4 1215.6,225.4 1216.8,225.4 1218.0,225.7 1219.2,224.7 1220.4,225.2 1221.6,224.3 1222.8,224.9 1224.0,224.7 1225.2,224.3 1226.4,224.0 1227.6,224.1 1228.8,223.1 1230.0,223.9 1231.2,224.0 1232.4,224.4 1233.6,223.4 1234.8,223.5 1236.0,224.3 1237.2,224.7 1238.4,223.9 1239.6,224.8 1240.8,225.1 1242.0,225.0 1243.2,224.6 1244.4,224.8 1245.6,225.8 1246.8,226.9 1248.0,225.9 1249.2,227.8 1250.4,229.0 1251.6,228.6 1252.8,229.9 1254.0,232.0 1255.2,232.8 1256.4,233.7 1257.6,234.5 1258.8,236.3 1260.0,237.8 1261.2,241.3 1262.4,241.6 1263.6,243.3 1264.8,246.3 1266.0,249.0 1267.2,250.2 1268.4,252.7 1269.6,254.7 1270.8,257.5"/>
<polyline stroke="#23769c" stroke-width="4" points="1033.2,326.7 1034.4,327.2 1035.6,326.7 1036.8,326.2 1038.0,327.0 1039.2,326.5 1040.4,327.1 1041.6,326.1 1042.8,325.2 1044.0,325.6 1045.2,326.3 1046.4,324.6 1047.6,322.3 1048.8,320.9 1050.0,317.9 1051.2,316.1 1052.4,315.0 1053.6,313.1 1054.8,312.3 1056.0,312.1 1057.2,311.1 1058.4,309.3 1059.6,309.0 1060.8,307.2 1062.0,307.2 1063.2,306.5 1064.4,304.7 1065.6,305.4 1066.8,304.8 1068.0,303.2 1069.2,302.6 1070.4,303.1 1071.6,302.7 1072.8,303.7 1074.0,303.8 1075.2,303.3 1076.4,304.1 1077.6,304.7 1078.8,305.9 1080.0,305.9 1081.2,306.7 1082.4,306.4 1083.6,306.5 1084.8,308.5 1086.0,309.3 1087.2,308.6 1088.4,307.9 1089.6,308.2 1090.8,306.8 1092.0,306.8 1093.2,305.9 1094.4,306.4 1095.6,306.0 1096.8,305.3 1098.0,304.8 1099.2,304.0 1100.4,304.0 1101.6,304.6 1102.8,303.5 1104.0,304.1 1105.2,303.5 1106.4,304.2 1107.6,304.3 1108.8,304.8 1110.0,305.6 1111.2,304.6 1112.4,306.3 1113.6,307.3 1114.8,308.1 1116.0,309.2 1117.2,310.2 1118.4,311.7 1119.6,312.5 1120.8,313.1 1122.0,314.7 1123.2,316.2 1124.4,317.0 1125.6,317.9 1126.8,319.0 1128.0,319.5 1129.2,320.4 1130.4,320.6 1131.6,322.3 1132.8,323.7 1134.0,323.9 1135.2,324.5 1136.4,326.2 1137.6,326.8 1138.8,327.6 1140.0,328.6 1141.2,329.0 1142.4,328.7 1143.6,328.3 1144.8,329.5 1146.0,328.7 1147.2,328.3 1148.4,328.8 1149.6,329.3 1150.8,328.0 1152.0,329.3 1153.2,328.6 1154.4,329.7 1155.6,329.0 1156.8,328.7 1158.0,329.3 1159.2,329.3 1160.4,328.9 1161.6,329.5 1162.8,329.6 1164.0,330.7 1165.2,329.9 1166.4,330.9 1167.6,329.3 1168.8,328.8 1170.0,325.6 1171.2,324.4 1172.4,323.2 1173.6,321.1 1174.8,319.3 1176.0,317.2 1177.2,315.7 1178.4,313.9 1179.6,313.7 1180.8,312.7 1182.0,311.5 1183.2,309.9 1184.4,309.3 1185.6,307.7 1186.8,306.8 1188.0,305.3 1189.2,303.9 1190.4,302.3 1191.6,300.2 1192.8,300.9 1194.0,299.9 1195.2,300.3 1196.4,297.8 1197.6,298.6 1198.8,297.1 1200.0,297.0 1201.2,295.9 1202.4,295.9 1203.6,295.1 1204.8,295.0 1206.0,294.0 1207.2,293.6 1208.4,293.3 1209.6,292.2 1210.8,291.2 1212.0,291.1 1213.2,289.7 1214.4,289.3 1215.6,288.2 1216.8,287.3 1218.0,285.5 1219.2,286.5 1220.4,285.1 1221.6,286.0 1222.8,286.5 1224.0,285.0 1225.2,286.0 1226.4,285.6 1227.6,285.8 1228.8,285.0 1230.0,285.6 1231.2,285.7 1232.4,286.3 1233.6,286.6 1234.8,285.8 1236.0,285.4 1237.2,286.7 1238.4,286.1 1239.6,287.6 1240.8,289.2 1242.0,290.9 1243.2,292.5 1244.4,293.5 1245.6,295.2 1246.8,297.7 1248.0,299.1 1249.2,300.3 1250.4,302.0 1251.6,303.6 1252.8,305.9 1254.0,307.0 1255.2,309.1 1256.4,310.6 1257.6,312.3 1258.8,314.4 1260.0,316.2 1261.2,317.7 1262.4,319.7 1263.6,321.6 1264.8,323.1 1266.0,324.8 1267.2,326.9 1268.4,329.0 1269.6,328.3 1270.8,326.9 1272.0,325.7 1273.2,324.8 1274.4,324.8 1275.6,323.4 1276.8,321.5 1278.0,321.0 1279.2,319.8 1280.4,318.9 1281.6,317.5 1282.8,317.7 1284.0,316.5 1285.2,316.2 1286.4,316.6 1287.6,315.8 1288.8,314.3 1290.0,313.6 1291.2,313.1 1292.4,312.3 1293.6,312.4 1294.8,312.5 1296.0,311.8 1297.2,312.4 1298.4,311.7 1299.6,311.2 1300.8,312.0 1302.0,311.7 1303.2,312.0 1304.4,313.4 1305.6,313.7 1306.8,313.4 1308.0,314.4 1309.2,314.7 1310.4,314.8 1311.6,317.1 1312.8,318.6 1314.0,319.0 1315.2,321.5 1316.4,322.2 1317.6,325.2 1318.8,326.4 1320.0,328.0 1321.2,330.4 1322.4,331.5 1323.6,333.1 1324.8,335.4 1326.0,336.4 1327.2,338.7 1328.4,339.9 1329.6,341.9 1330.8,343.5 1332.0,345.2 1333.2,346.1 1334.4,349.1 1335.6,349.8 1336.8,352.4 1338.0,352.7 1339.2,354.3 1340.4,355.7 1341.6,357.8 1342.8,358.5 1344.0,360.3 1345.2,360.8 1346.4,362.8 1347.6,364.5 1348.8,365.8 1350.0,366.5 1351.2,369.4 1352.4,370.4 1353.6,373.6 1354.8,374.3 1356.0,377.2 1357.2,378.1"/>
<polyline stroke="#23769c" stroke-width="8" points="1165.2,329.9 1166.4,330.9 1167.6,329.3 1168.8,328.8 1170.0,325.6 1171.2,324.4 1172.4,323.2 1173.6,321.1 1174.8,319.3 1176.0,317.2 1177.2,315.7 1178.4,313.9 1179.6,313.7 1180.8,312.7 1182.0,311.5 1183.2,309.9 1184.4,309.3 1185.6,307.7 1186.8,306.8 1188.0,305.3 1189.2,303.9 1190.4,302.3 1191.6,300.2 1192.8,300.9 1194.0,299.9 1195.2,300.3 1196.4,297.8 1197.6,298.6 1198.8,297.1 1200.0,297.0 1201.2,295.9 1202.4,295.9 1203.6,295.1 1204.8,295.0 1206.0,294.0 1207.2,293.6 1208.4,293.3 1209.6,292.2 1210.8,291.2 1212.0,291.1 1213.2,289.7 1214.4,289.3 1215.6,288.2 1216.8,287.3 1218.0,285.5 1219.2,286.5 1220.4,285.1 1221.6,286.0 1222.8,286.5 1224.0,285.0 1225.2,286.0 1226.4,285.6 1227.6,285.8 1228.8,285.0 1230.0,285.6 1231.2,285.7 1232.4,286.3 1233.6,286.6 1234.8,285.8 1236.0,285.4 1237.2,286.7 1238.4,286.1 1239.6,287.6 1240.8,289.2 1242.0,290.9 1243.2,292.5 1244.4,293.5 1245.6,295.2 1246.8,297.7 1248.0,299.1 1249.2,300.3 1250.4,302.0 1251.6,303.6 1252.8,305.9 1254.0,307.0 1255.2,309.1 1256.4,310.6 1257.6,312.3 1258.8,314.4 1260.0,316.2 1261.2,317.7 1262.4,319.7 1263.6,321.6 1264.8,323.1 1266.0,324.8 1267.2,326.9 1268.4,329.0"/>
<polyline stroke="#7797b8" stroke-width="4" points="1033.2,369.5 1034.4,369.3 1035.6,369.7 1036.8,370.3 1038.0,369.4 1039.2,371.0 1040.4,370.2 1041.6,370.9 1042.8,370.0 1044.0,371.8 1045.2,372.1 1046.4,372.4 1047.6,372.9 1048.8,373.0 1050.0,373.8 1051.2,374.8 1052.4,374.5 1053.6,375.4 1054.8,376.0 1056.0,376.0 1057.2,376.7 1058.4,376.9 1059.6,376.2 1060.8,377.2 1062.0,375.5 1063.2,376.1 1064.4,375.5 1065.6,373.6 1066.8,374.3 1068.0,374.3 1069.2,373.9 1070.4,372.7 1071.6,373.0 1072.8,372.1 1074.0,372.0 1075.2,372.2 1076.4,372.2 1077.6,372.7 1078.8,371.8 1080.0,372.0 1081.2,370.7 1082.4,370.5 1083.6,370.7 1084.8,371.5 1086.0,369.8 1087.2,369.4 1088.4,369.8 1089.6,370.2 1090.8,368.5 1092.0,368.9 1093.2,368.0 1094.4,369.1 1095.6,368.4 1096.8,367.9 1098.0,367.4 1099.2,367.0 1100.4,366.9 1101.6,366.1 1102.8,365.4 1104.0,364.7 1105.2,364.6 1106.4,363.7 1107.6,363.9 1108.8,361.8 1110.0,361.7 1111.2,360.3 1112.4,359.3 1113.6,357.3 1114.8,355.3 1116.0,354.2 1117.2,353.9 1118.4,351.8 1119.6,351.1 1120.8,350.7 1122.0,350.6 1123.2,350.2 1124.4,349.2 1125.6,349.3 1126.8,349.7 1128.0,350.1 1129.2,350.9 1130.4,352.2 1131.6,354.7 1132.8,355.5 1134.0,356.5 1135.2,358.6 1136.4,360.5 1137.6,362.8 1138.8,363.8 1140.0,366.2 1141.2,367.8 1142.4,370.4 1143.6,372.0 1144.8,373.9 1146.0,375.3 1147.2,377.9 1148.4,380.5 1149.6,381.6 1150.8,386.5 1152.0,388.3 1153.2,388.5 1154.4,388.6 1155.6,389.1 1156.8,389.4 1158.0,388.9 1159.2,389.8 1160.4,390.1 1161.6,390.2 1162.8,389.7 1164.0,390.6 1165.2,391.0 1166.4,393.2 1167.6,395.1 1168.8,396.3 1170.0,397.2 1171.2,398.5 1172.4,399.9 1173.6,401.9 1174.8,402.8 1176.0,404.4 1177.2,404.9 1178.4,407.2 1179.6,408.7 1180.8,410.3 1182.0,412.6 1183.2,412.7 1184.4,413.9 1185.6,416.0 1186.8,416.5 1188.0,418.1 1189.2,419.5 1190.4,420.6 1191.6,421.4 1192.8,423.0 1194.0,423.4 1195.2,422.4 1196.4,422.9 1197.6,423.6 1198.8,423.2 1200.0,423.0 1201.2,423.4 1202.4,424.2 1203.6,423.0 1204.8,423.2 1206.0,422.9 1207.2,422.1 1208.4,422.3 1209.6,422.0 1210.8,421.8 1212.0,421.4 1213.2,419.9 1214.4,420.6 1215.6,420.5 1216.8,421.1 1218.0,420.7 1219.2,422.1 1220.4,422.3 1221.6,422.0 1222.8,423.7 1224.0,423.1 1225.2,423.5 1226.4,424.6 1227.6,424.6 1228.8,425.1 1230.0,424.6 1231.2,424.7 1232.4,424.9 1233.6,424.3 1234.8,424.6 1236.0,424.5 1237.2,423.5 1238.4,424.4 1239.6,424.7 1240.8,424.9 1242.0,425.8 1243.2,426.5 1244.4,426.5 1245.6,425.9 1246.8,427.3 1248.0,427.4 1249.2,426.6 1250.4,426.2 1251.6,425.1 1252.8,425.3 1254.0,423.9 1255.2,423.1 1256.4,422.7 1257.6,422.0 1258.8,421.1 1260.0,419.4 1261.2,417.7 1262.4,416.4 1263.6,413.8 1264.8,412.8 1266.0,412.8 1267.2,412.1 1268.4,413.2 1269.6,413.2 1270.8,411.7 1272.0,412.5 1273.2,413.7 1274.4,411.9 1275.6,412.5 1276.8,412.2 1278.0,412.2 1279.2,412.9 1280.4,414.2 1281.6,415.8 1282.8,416.3 1284.0,418.1 1285.2,418.7 1286.4,420.5 1287.6,421.7 1288.8,422.3 1290.0,423.7 1291.2,424.2 1292.4,425.1 1293.6,427.1 1294.8,426.6 1296.0,428.7 1297.2,429.7 1298.4,430.0 1299.6,431.8 1300.8,432.7 1302.0,432.2 1303.2,433.5 1304.4,433.9 1305.6,433.7 1306.8,434.7 1308.0,435.2 1309.2,434.9 1310.4,434.7 1311.6,436.3 1312.8,436.1 1314.0,436.0 1315.2,437.1 1316.4,436.5 1317.6,437.1 1318.8,437.5 1320.0,434.9 1321.2,436.0 1322.4,434.9 1323.6,434.7 1324.8,433.9 1326.0,434.2 1327.2,433.4 1328.4,432.6 1329.6,431.8 1330.8,431.9 1332.0,432.2 1333.2,430.7 1334.4,431.0 1335.6,430.6 1336.8,429.0 1338.0,432.1 1339.2,433.0 1340.4,435.7 1341.6,436.9 1342.8,437.5 1344.0,439.1 1345.2,440.2 1346.4,441.5 1347.6,443.4 1348.8,443.3 1350.0,443.6 1351.2,444.2 1352.4,445.0 1353.6,445.5 1354.8,445.4 1356.0,445.7 1357.2,446.3"/>
<polyline stroke="#7797b8" stroke-width="8" points="1191.6,421.4 1192.8,423.0 1194.0,423.4 1195.2,422.4 1196.4,422.9 1197.6,423.6 1198.8,423.2 1200.0,423.0 1201.2,423.4 1202.4,424.2 1203.6,423.0 1204.8,423.2 1206.0,422.9 1207.2,422.1 1208.4,422.3 1209.6,422.0 1210.8,421.8 1212.0,421.4 1213.2,419.9 1214.4,420.6 1215.6,420.5 1216.8,421.1 1218.0,420.7 1219.2,422.1 1220.4,422.3 1221.6,422.0 1222.8,423.7 1224.0,423.1 1225.2,423.5 1226.4,424.6 1227.6,424.6 1228.8,425.1 1230.0,424.6 1231.2,424.7 1232.4,424.9 1233.6,424.3 1234.8,424.6 1236.0,424.5 1237.2,423.5 1238.4,424.4 1239.6,424.7 1240.8,424.9 1242.0,425.8 1243.2,426.5 1244.4,426.5 1245.6,425.9 1246.8,427.3 1248.0,427.4"/>
</g>
<line x1="1226.5" y1="69" x2="1222.5" y2="482" stroke="#b0455a" stroke-width="3.6" stroke-dasharray="26.5 8"/>
<line x1="1086" y1="482" x2="1086" y2="480" stroke="#5b8ba3" stroke-width="3"/>
<line x1="1141.3" y1="482" x2="1141.3" y2="477.5" stroke="#5b8ba3" stroke-width="3"/>
<line x1="1196.3" y1="482" x2="1196.3" y2="480" stroke="#5b8ba3" stroke-width="3"/>
<line x1="1251.3" y1="482" x2="1251.3" y2="477.5" stroke="#5b8ba3" stroke-width="3"/>
<line x1="1306.6" y1="482" x2="1306.6" y2="480" stroke="#5b8ba3" stroke-width="3"/>
<rect x="1030.6" y="66.4" width="331" height="417.6" fill="none" stroke="#5b8ba3" stroke-width="5"/>
<text transform="translate(1048.2,474) scale(1,0.99)" font-family="Liberation Sans, Arial, sans-serif" font-size="33.6" fill="#231f20">1555</text>
<text transform="translate(1159.3,474) scale(1,0.99)" font-family="Liberation Sans, Arial, sans-serif" font-size="33.6" fill="#231f20">1575</text>
<text transform="translate(1264.7,474) scale(1,0.99)" font-family="Liberation Sans, Arial, sans-serif" font-size="33.6" fill="#231f20">1595</text>
<g fill="#f7c3c4"><circle cx="1792.2" cy="311.0" r="3.6"/><circle cx="1798.4" cy="320.2" r="3.6"/><circle cx="1802.9" cy="358.7" r="3.6"/><circle cx="1803.2" cy="331.7" r="3.6"/><circle cx="1803.5" cy="311.3" r="3.6"/><circle cx="1804.0" cy="301.0" r="3.6"/><circle cx="1805.9" cy="308.0" r="3.6"/><circle cx="1806.9" cy="291.3" r="3.6"/><circle cx="1807.5" cy="273.6" r="3.6"/><circle cx="1810.7" cy="248.3" r="3.6"/><circle cx="1811.3" cy="241.0" r="3.6"/><circle cx="1811.8" cy="238.9" r="3.6"/><circle cx="1812.6" cy="237.2" r="3.6"/><circle cx="1814.2" cy="229.4" r="3.6"/><circle cx="1815.2" cy="258.9" r="3.6"/><circle cx="1822.4" cy="266.2" r="3.6"/><circle cx="1823.4" cy="294.0" r="3.6"/><circle cx="1825.2" cy="292.1" r="3.6"/><circle cx="1825.5" cy="289.5" r="3.6"/><circle cx="1826.3" cy="282.6" r="3.6"/><circle cx="1826.3" cy="292.9" r="3.6"/><circle cx="1831.0" cy="289.3" r="3.6"/><circle cx="1831.1" cy="279.7" r="3.6"/><circle cx="1833.3" cy="241.5" r="3.6"/><circle cx="1835.8" cy="248.0" r="3.6"/><circle cx="1836.1" cy="267.0" r="3.6"/><circle cx="1837.9" cy="227.3" r="3.6"/><circle cx="1846.1" cy="231.8" r="3.6"/><circle cx="1847.5" cy="239.8" r="3.6"/><circle cx="1847.7" cy="278.5" r="3.6"/><circle cx="1852.8" cy="269.4" r="3.6"/><circle cx="1853.4" cy="282.9" r="3.6"/><circle cx="1855.0" cy="306.1" r="3.6"/><circle cx="1857.3" cy="326.8" r="3.6"/><circle cx="1860.1" cy="312.1" r="3.6"/><circle cx="1863.5" cy="286.2" r="3.6"/><circle cx="1865.9" cy="323.3" r="3.6"/><circle cx="1867.2" cy="300.4" r="3.6"/><circle cx="1868.6" cy="295.5" r="3.6"/><circle cx="1868.7" cy="288.5" r="3.6"/><circle cx="1870.6" cy="299.3" r="3.6"/><circle cx="1870.7" cy="305.7" r="3.6"/><circle cx="1871.8" cy="282.0" r="3.6"/><circle cx="1871.9" cy="284.2" r="3.6"/><circle cx="1877.5" cy="262.2" r="3.6"/><circle cx="1879.7" cy="294.2" r="3.6"/><circle cx="1880.7" cy="309.6" r="3.6"/><circle cx="1881.4" cy="323.9" r="3.6"/><circle cx="1882.0" cy="314.7" r="3.6"/><circle cx="1882.5" cy="309.5" r="3.6"/><circle cx="1882.9" cy="316.8" r="3.6"/><circle cx="1883.0" cy="328.9" r="3.6"/><circle cx="1884.2" cy="289.4" r="3.6"/><circle cx="1884.9" cy="301.6" r="3.6"/><circle cx="1886.0" cy="274.6" r="3.6"/><circle cx="1887.0" cy="271.0" r="3.6"/><circle cx="1890.0" cy="262.5" r="3.6"/><circle cx="1890.0" cy="284.1" r="3.6"/><circle cx="1890.3" cy="301.0" r="3.6"/><circle cx="1892.2" cy="289.2" r="3.6"/><circle cx="1895.0" cy="315.5" r="3.6"/><circle cx="1895.3" cy="318.7" r="3.6"/><circle cx="1895.3" cy="280.5" r="3.6"/><circle cx="1896.3" cy="279.9" r="3.6"/><circle cx="1897.6" cy="271.6" r="3.6"/><circle cx="1899.0" cy="264.3" r="3.6"/><circle cx="1899.4" cy="277.0" r="3.6"/><circle cx="1899.5" cy="273.7" r="3.6"/><circle cx="1899.5" cy="283.7" r="3.6"/><circle cx="1901.3" cy="282.6" r="3.6"/><circle cx="1901.8" cy="282.2" r="3.6"/><circle cx="1904.9" cy="307.3" r="3.6"/><circle cx="1905.2" cy="303.7" r="3.6"/><circle cx="1905.3" cy="274.9" r="3.6"/><circle cx="1905.8" cy="253.7" r="3.6"/><circle cx="1909.1" cy="229.3" r="3.6"/><circle cx="1910.4" cy="270.1" r="3.6"/><circle cx="1913.0" cy="265.6" r="3.6"/><circle cx="1913.4" cy="250.5" r="3.6"/><circle cx="1915.3" cy="238.5" r="3.6"/><circle cx="1918.0" cy="245.0" r="3.6"/><circle cx="1918.0" cy="256.8" r="3.6"/><circle cx="1921.1" cy="263.1" r="3.6"/><circle cx="1921.3" cy="256.5" r="3.6"/><circle cx="1922.2" cy="234.4" r="3.6"/><circle cx="1923.8" cy="275.7" r="3.6"/><circle cx="1926.9" cy="249.3" r="3.6"/><circle cx="1927.2" cy="252.0" r="3.6"/><circle cx="1930.8" cy="270.1" r="3.6"/><circle cx="1935.3" cy="242.4" r="3.6"/><circle cx="1936.4" cy="264.5" r="3.6"/><circle cx="1938.2" cy="257.7" r="3.6"/><circle cx="1940.0" cy="272.4" r="3.6"/><circle cx="1940.4" cy="267.9" r="3.6"/><circle cx="1942.9" cy="241.7" r="3.6"/><circle cx="1945.2" cy="221.6" r="3.6"/><circle cx="1946.6" cy="252.1" r="3.6"/><circle cx="1947.8" cy="260.7" r="3.6"/><circle cx="1947.9" cy="277.8" r="3.6"/><circle cx="1951.6" cy="295.0" r="3.6"/><circle cx="1953.0" cy="307.9" r="3.6"/><circle cx="1953.4" cy="308.3" r="3.6"/><circle cx="1954.0" cy="318.4" r="3.6"/><circle cx="1954.9" cy="330.3" r="3.6"/><circle cx="1956.8" cy="319.6" r="3.6"/><circle cx="1956.9" cy="335.0" r="3.6"/><circle cx="1958.3" cy="321.7" r="3.6"/><circle cx="1958.4" cy="310.5" r="3.6"/><circle cx="1958.5" cy="309.1" r="3.6"/><circle cx="1959.7" cy="309.5" r="3.6"/><circle cx="1964.0" cy="305.5" r="3.6"/><circle cx="1964.9" cy="340.1" r="3.6"/><circle cx="1967.4" cy="337.1" r="3.6"/><circle cx="1969.1" cy="331.2" r="3.6"/><circle cx="1971.2" cy="371.0" r="3.6"/><circle cx="1973.5" cy="356.8" r="3.6"/><circle cx="1976.2" cy="345.0" r="3.6"/><circle cx="1977.5" cy="350.2" r="3.6"/><circle cx="1979.8" cy="328.8" r="3.6"/><circle cx="1981.1" cy="297.8" r="3.6"/><circle cx="1981.4" cy="301.6" r="3.6"/><circle cx="1983.6" cy="282.7" r="3.6"/><circle cx="1986.1" cy="270.6" r="3.6"/><circle cx="1986.6" cy="261.1" r="3.6"/><circle cx="1987.5" cy="262.9" r="3.6"/><circle cx="1988.1" cy="243.2" r="3.6"/><circle cx="1989.6" cy="219.6" r="3.6"/><circle cx="1989.9" cy="231.1" r="3.6"/><circle cx="1990.1" cy="260.7" r="3.6"/><circle cx="1991.4" cy="277.2" r="3.6"/><circle cx="1992.5" cy="302.6" r="3.6"/><circle cx="1993.1" cy="287.6" r="3.6"/><circle cx="1994.4" cy="306.5" r="3.6"/><circle cx="1999.3" cy="278.9" r="3.6"/><circle cx="2002.0" cy="267.0" r="3.6"/><circle cx="2003.9" cy="277.5" r="3.6"/><circle cx="2004.5" cy="254.0" r="3.6"/><circle cx="2005.7" cy="248.2" r="3.6"/><circle cx="2006.3" cy="254.3" r="3.6"/><circle cx="2006.5" cy="283.4" r="3.6"/><circle cx="2007.6" cy="263.3" r="3.6"/><circle cx="2009.6" cy="273.5" r="3.6"/><circle cx="2011.0" cy="253.8" r="3.6"/><circle cx="2013.9" cy="246.1" r="3.6"/><circle cx="2015.3" cy="203.5" r="3.6"/><circle cx="2016.8" cy="191.8" r="3.6"/><circle cx="2020.9" cy="228.2" r="3.6"/><circle cx="2021.9" cy="232.7" r="3.6"/><circle cx="2021.9" cy="239.2" r="3.6"/><circle cx="2022.6" cy="292.5" r="3.6"/><circle cx="2022.7" cy="295.6" r="3.6"/><circle cx="2023.4" cy="263.2" r="3.6"/><circle cx="2025.1" cy="259.9" r="3.6"/><circle cx="2025.5" cy="255.5" r="3.6"/><circle cx="2029.0" cy="269.0" r="3.6"/><circle cx="2031.1" cy="255.1" r="3.6"/><circle cx="2031.1" cy="258.4" r="3.6"/><circle cx="2031.7" cy="271.8" r="3.6"/><circle cx="2035.3" cy="238.1" r="3.6"/><circle cx="2036.2" cy="249.6" r="3.6"/><circle cx="2038.8" cy="210.9" r="3.6"/><circle cx="2041.6" cy="209.8" r="3.6"/><circle cx="2042.3" cy="178.6" r="3.6"/><circle cx="2044.0" cy="179.6" r="3.6"/><circle cx="2046.7" cy="208.9" r="3.6"/><circle cx="2048.5" cy="221.8" r="3.6"/><circle cx="2048.5" cy="232.8" r="3.6"/><circle cx="2050.4" cy="217.3" r="3.6"/><circle cx="2051.6" cy="258.5" r="3.6"/><circle cx="2052.2" cy="251.1" r="3.6"/><circle cx="2053.3" cy="268.2" r="3.6"/><circle cx="2057.1" cy="257.8" r="3.6"/><circle cx="2058.0" cy="244.8" r="3.6"/><circle cx="2060.9" cy="218.5" r="3.6"/><circle cx="2062.6" cy="204.8" r="3.6"/><circle cx="2063.8" cy="202.8" r="3.6"/><circle cx="2064.1" cy="212.2" r="3.6"/><circle cx="2068.9" cy="223.5" r="3.6"/><circle cx="2069.1" cy="211.0" r="3.6"/><circle cx="2070.1" cy="196.0" r="3.6"/><circle cx="2070.6" cy="159.8" r="3.6"/><circle cx="2071.7" cy="145.2" r="3.6"/><circle cx="2072.6" cy="163.8" r="3.6"/><circle cx="2074.2" cy="177.8" r="3.6"/><circle cx="2075.2" cy="129.7" r="3.6"/><circle cx="2075.2" cy="108.8" r="3.6"/><circle cx="2079.0" cy="117.7" r="3.6"/><circle cx="2080.0" cy="111.4" r="3.6"/><circle cx="2081.9" cy="111.4" r="3.6"/><circle cx="2081.9" cy="114.6" r="3.6"/><circle cx="2083.2" cy="127.8" r="3.6"/><circle cx="2083.4" cy="107.9" r="3.6"/><circle cx="2083.6" cy="106.3" r="3.6"/><circle cx="2086.7" cy="117.3" r="3.6"/><circle cx="2087.5" cy="136.3" r="3.6"/><circle cx="2092.5" cy="111.5" r="3.6"/><circle cx="2093.8" cy="122.8" r="3.6"/><circle cx="2094.1" cy="133.7" r="3.6"/><circle cx="2096.5" cy="119.1" r="3.6"/><circle cx="2097.0" cy="137.3" r="3.6"/><circle cx="2097.8" cy="136.2" r="3.6"/><circle cx="2101.6" cy="120.4" r="3.6"/><circle cx="2101.8" cy="145.9" r="3.6"/><circle cx="2102.6" cy="115.5" r="3.6"/><circle cx="2102.8" cy="132.7" r="3.6"/><circle cx="2102.9" cy="134.9" r="3.6"/><circle cx="2104.2" cy="112.5" r="3.6"/><circle cx="2105.8" cy="105.7" r="3.6"/><circle cx="2106.1" cy="117.0" r="3.6"/><circle cx="2106.5" cy="114.6" r="3.6"/><circle cx="2108.4" cy="110.3" r="3.6"/><circle cx="2109.8" cy="83.5" r="3.6"/><circle cx="2110.3" cy="81.4" r="3.6"/><circle cx="2110.9" cy="100.9" r="3.6"/><circle cx="2111.7" cy="121.9" r="3.6"/><circle cx="2113.3" cy="158.1" r="3.6"/><circle cx="2113.9" cy="143.1" r="3.6"/><circle cx="2114.8" cy="148.5" r="3.6"/><circle cx="2115.3" cy="145.2" r="3.6"/><circle cx="2116.8" cy="113.7" r="3.6"/><circle cx="2118.7" cy="97.6" r="3.6"/><circle cx="2125.5" cy="110.2" r="3.6"/><circle cx="2128.2" cy="104.0" r="3.6"/><circle cx="2129.8" cy="85.4" r="3.6"/><circle cx="2131.2" cy="84.1" r="3.6"/><circle cx="2131.5" cy="77.7" r="3.6"/><circle cx="2133.4" cy="78.5" r="3.6"/><circle cx="2136.9" cy="85.8" r="3.6"/><circle cx="2140.3" cy="95.3" r="3.6"/><circle cx="2141.2" cy="120.0" r="3.6"/><circle cx="2141.4" cy="96.1" r="3.6"/><circle cx="2143.1" cy="112.2" r="3.6"/><circle cx="2144.0" cy="104.7" r="3.6"/><circle cx="2145.3" cy="97.5" r="3.6"/><circle cx="2147.8" cy="127.2" r="3.6"/><circle cx="2148.8" cy="142.5" r="3.6"/><circle cx="2149.6" cy="137.4" r="3.6"/><circle cx="2154.5" cy="151.2" r="3.6"/><circle cx="2157.4" cy="164.9" r="3.6"/><circle cx="2159.0" cy="170.9" r="3.6"/><circle cx="2160.7" cy="182.7" r="3.6"/><circle cx="2160.7" cy="172.8" r="3.6"/><circle cx="2161.7" cy="160.2" r="3.6"/><circle cx="2161.9" cy="155.8" r="3.6"/><circle cx="2164.2" cy="168.0" r="3.6"/><circle cx="2165.0" cy="155.7" r="3.6"/><circle cx="2165.4" cy="154.2" r="3.6"/><circle cx="2166.9" cy="174.2" r="3.6"/><circle cx="2167.1" cy="166.1" r="3.6"/><circle cx="2167.7" cy="162.1" r="3.6"/><circle cx="2168.9" cy="174.7" r="3.6"/><circle cx="2170.2" cy="160.8" r="3.6"/><circle cx="2173.5" cy="182.1" r="3.6"/><circle cx="2173.6" cy="183.5" r="3.6"/><circle cx="2178.8" cy="168.9" r="3.6"/><circle cx="2179.1" cy="154.1" r="3.6"/><circle cx="2179.1" cy="142.2" r="3.6"/><circle cx="2181.6" cy="183.0" r="3.6"/><circle cx="2182.0" cy="198.6" r="3.6"/><circle cx="2186.3" cy="176.6" r="3.6"/><circle cx="2187.9" cy="173.1" r="3.6"/><circle cx="2189.1" cy="184.9" r="3.6"/><circle cx="2189.4" cy="176.7" r="3.6"/><circle cx="2190.6" cy="196.9" r="3.6"/><circle cx="2191.7" cy="230.9" r="3.6"/><circle cx="2192.8" cy="246.9" r="3.6"/><circle cx="2193.5" cy="251.4" r="3.6"/><circle cx="2194.0" cy="263.2" r="3.6"/><circle cx="2194.0" cy="256.6" r="3.6"/><circle cx="2196.8" cy="242.9" r="3.6"/><circle cx="2202.3" cy="230.6" r="3.6"/><circle cx="2204.9" cy="257.6" r="3.6"/><circle cx="2206.5" cy="268.5" r="3.6"/><circle cx="2207.9" cy="285.8" r="3.6"/><circle cx="2209.9" cy="279.8" r="3.6"/><circle cx="2210.7" cy="264.6" r="3.6"/><circle cx="2210.8" cy="274.0" r="3.6"/><circle cx="2210.9" cy="283.7" r="3.6"/><circle cx="2212.9" cy="291.2" r="3.6"/><circle cx="2214.7" cy="288.3" r="3.6"/><circle cx="2215.0" cy="278.0" r="3.6"/><circle cx="2215.9" cy="286.5" r="3.6"/><circle cx="2216.5" cy="283.7" r="3.6"/><circle cx="2218.0" cy="271.9" r="3.6"/><circle cx="2221.6" cy="301.3" r="3.6"/><circle cx="2223.7" cy="281.9" r="3.6"/><circle cx="2227.4" cy="306.5" r="3.6"/><circle cx="2231.0" cy="303.6" r="3.6"/><circle cx="2233.8" cy="307.0" r="3.6"/><circle cx="2234.3" cy="290.2" r="3.6"/><circle cx="2237.7" cy="273.7" r="3.6"/><circle cx="2243.4" cy="291.5" r="3.6"/><circle cx="2244.3" cy="291.3" r="3.6"/><circle cx="2244.3" cy="288.7" r="3.6"/><circle cx="2244.7" cy="303.5" r="3.6"/><circle cx="2245.9" cy="308.4" r="3.6"/><circle cx="2246.6" cy="307.2" r="3.6"/><circle cx="2249.0" cy="323.8" r="3.6"/><circle cx="2249.9" cy="348.7" r="3.6"/><circle cx="2250.7" cy="327.2" r="3.6"/><circle cx="2250.9" cy="340.2" r="3.6"/><circle cx="2252.5" cy="335.1" r="3.6"/><circle cx="2254.0" cy="310.8" r="3.6"/><circle cx="2255.2" cy="281.3" r="3.6"/><circle cx="2256.0" cy="277.5" r="3.6"/><circle cx="2259.3" cy="295.0" r="3.6"/><circle cx="2261.8" cy="295.4" r="3.6"/><circle cx="2262.8" cy="298.1" r="3.6"/><circle cx="2263.7" cy="293.6" r="3.6"/><circle cx="2263.8" cy="309.4" r="3.6"/><circle cx="2264.3" cy="307.9" r="3.6"/><circle cx="2264.7" cy="271.5" r="3.6"/><circle cx="2265.1" cy="294.9" r="3.6"/><circle cx="2266.2" cy="288.1" r="3.6"/><circle cx="2266.4" cy="307.6" r="3.6"/><circle cx="2268.0" cy="323.5" r="3.6"/><circle cx="2268.8" cy="342.3" r="3.6"/><circle cx="2268.9" cy="352.6" r="3.6"/><circle cx="2271.4" cy="334.8" r="3.6"/><circle cx="2273.0" cy="301.9" r="3.6"/><circle cx="2273.6" cy="307.9" r="3.6"/><circle cx="2274.1" cy="298.4" r="3.6"/><circle cx="2276.1" cy="337.9" r="3.6"/><circle cx="2279.9" cy="351.9" r="3.6"/><circle cx="2281.7" cy="352.7" r="3.6"/><circle cx="2283.6" cy="366.2" r="3.6"/><circle cx="2286.7" cy="349.8" r="3.6"/><circle cx="2288.0" cy="346.7" r="3.6"/><circle cx="2288.1" cy="323.6" r="3.6"/><circle cx="2288.9" cy="319.0" r="3.6"/><circle cx="2289.9" cy="312.3" r="3.6"/><circle cx="2299.4" cy="335.3" r="3.6"/><circle cx="2299.7" cy="314.2" r="3.6"/><circle cx="2301.5" cy="316.2" r="3.6"/><circle cx="2302.5" cy="357.8" r="3.6"/><circle cx="2303.1" cy="324.4" r="3.6"/><circle cx="2304.1" cy="313.3" r="3.6"/><circle cx="2307.6" cy="318.7" r="3.6"/><circle cx="2307.9" cy="339.6" r="3.6"/><circle cx="2308.5" cy="358.8" r="3.6"/><circle cx="2309.4" cy="369.4" r="3.6"/><circle cx="2310.2" cy="367.3" r="3.6"/><circle cx="2310.5" cy="362.0" r="3.6"/><circle cx="2310.8" cy="336.4" r="3.6"/><circle cx="2314.2" cy="337.4" r="3.6"/><circle cx="2315.2" cy="335.5" r="3.6"/><circle cx="2318.8" cy="322.1" r="3.6"/><circle cx="2318.9" cy="345.3" r="3.6"/><circle cx="2319.4" cy="317.5" r="3.6"/><circle cx="2319.9" cy="331.3" r="3.6"/><circle cx="2321.1" cy="321.7" r="3.6"/><circle cx="2321.6" cy="306.4" r="3.6"/><circle cx="2323.6" cy="299.5" r="3.6"/><circle cx="2325.3" cy="308.4" r="3.6"/><circle cx="2325.7" cy="302.8" r="3.6"/><circle cx="2326.1" cy="324.2" r="3.6"/><circle cx="2327.8" cy="306.2" r="3.6"/><circle cx="2328.2" cy="356.2" r="3.6"/><circle cx="2328.8" cy="369.4" r="3.6"/><circle cx="2332.5" cy="340.0" r="3.6"/><circle cx="2334.6" cy="293.0" r="3.6"/><circle cx="2337.8" cy="311.9" r="3.6"/><circle cx="2338.6" cy="318.1" r="3.6"/><circle cx="2344.1" cy="323.2" r="3.6"/><circle cx="2346.7" cy="298.6" r="3.6"/><circle cx="2348.4" cy="275.2" r="3.6"/><circle cx="2349.0" cy="252.5" r="3.6"/><circle cx="2349.9" cy="296.3" r="3.6"/><circle cx="2351.3" cy="325.4" r="3.6"/><circle cx="2356.4" cy="317.2" r="3.6"/><circle cx="2356.7" cy="343.6" r="3.6"/><circle cx="2357.4" cy="305.4" r="3.6"/><circle cx="2358.3" cy="317.1" r="3.6"/><circle cx="2359.0" cy="337.2" r="3.6"/><circle cx="2359.5" cy="310.0" r="3.6"/><circle cx="2361.4" cy="300.3" r="3.6"/><circle cx="2361.6" cy="291.0" r="3.6"/><circle cx="2362.1" cy="303.5" r="3.6"/><circle cx="2365.5" cy="325.9" r="3.6"/><circle cx="2368.9" cy="332.7" r="3.6"/><circle cx="2370.2" cy="337.7" r="3.6"/><circle cx="2371.1" cy="355.2" r="3.6"/><circle cx="2373.2" cy="314.9" r="3.6"/><circle cx="2374.3" cy="347.6" r="3.6"/><circle cx="2374.4" cy="341.7" r="3.6"/><circle cx="2375.7" cy="315.5" r="3.6"/><circle cx="2376.3" cy="313.3" r="3.6"/><circle cx="2376.8" cy="292.1" r="3.6"/><circle cx="2378.3" cy="301.2" r="3.6"/><circle cx="2378.5" cy="310.0" r="3.6"/><circle cx="2379.5" cy="276.0" r="3.6"/><circle cx="2379.6" cy="294.7" r="3.6"/><circle cx="2380.5" cy="322.9" r="3.6"/><circle cx="2383.4" cy="296.5" r="3.6"/><circle cx="2385.6" cy="330.3" r="3.6"/><circle cx="2389.5" cy="360.7" r="3.6"/><circle cx="2392.0" cy="348.8" r="3.6"/><circle cx="2394.3" cy="366.1" r="3.6"/><circle cx="2395.5" cy="349.7" r="3.6"/><circle cx="2398.2" cy="353.6" r="3.6"/><circle cx="2401.4" cy="321.2" r="3.6"/><circle cx="2403.8" cy="365.1" r="3.6"/><circle cx="2404.1" cy="345.8" r="3.6"/><circle cx="2405.9" cy="313.0" r="3.6"/><circle cx="2406.3" cy="342.6" r="3.6"/><circle cx="2407.2" cy="342.9" r="3.6"/><circle cx="2408.8" cy="348.5" r="3.6"/><circle cx="2408.9" cy="341.3" r="3.6"/><circle cx="2409.1" cy="341.0" r="3.6"/><circle cx="2409.4" cy="358.7" r="3.6"/><circle cx="2409.7" cy="343.9" r="3.6"/><circle cx="2411.0" cy="328.2" r="3.6"/><circle cx="2412.0" cy="314.7" r="3.6"/><circle cx="2413.1" cy="314.2" r="3.6"/><circle cx="2413.4" cy="311.2" r="3.6"/><circle cx="2413.7" cy="291.4" r="3.6"/><circle cx="2416.7" cy="288.3" r="3.6"/><circle cx="2417.1" cy="271.4" r="3.6"/><circle cx="2417.4" cy="277.0" r="3.6"/><circle cx="2420.4" cy="277.2" r="3.6"/></g>
<g fill="#e8c487"><circle cx="1791.8" cy="614.2" r="3.6"/><circle cx="1797.0" cy="620.4" r="3.6"/><circle cx="1803.8" cy="598.4" r="3.6"/><circle cx="1805.7" cy="620.7" r="3.6"/><circle cx="1805.9" cy="616.3" r="3.6"/><circle cx="1807.3" cy="578.8" r="3.6"/><circle cx="1809.7" cy="562.5" r="3.6"/><circle cx="1809.7" cy="571.4" r="3.6"/><circle cx="1810.7" cy="591.9" r="3.6"/><circle cx="1814.5" cy="596.1" r="3.6"/><circle cx="1815.4" cy="599.5" r="3.6"/><circle cx="1815.6" cy="578.9" r="3.6"/><circle cx="1819.7" cy="587.7" r="3.6"/><circle cx="1820.5" cy="557.1" r="3.6"/><circle cx="1823.3" cy="553.4" r="3.6"/><circle cx="1824.8" cy="544.7" r="3.6"/><circle cx="1824.9" cy="529.3" r="3.6"/><circle cx="1827.1" cy="533.3" r="3.6"/><circle cx="1827.5" cy="548.4" r="3.6"/><circle cx="1828.3" cy="540.5" r="3.6"/><circle cx="1829.0" cy="563.2" r="3.6"/><circle cx="1829.2" cy="551.0" r="3.6"/><circle cx="1830.0" cy="583.2" r="3.6"/><circle cx="1830.7" cy="602.9" r="3.6"/><circle cx="1831.3" cy="583.8" r="3.6"/><circle cx="1832.0" cy="607.0" r="3.6"/><circle cx="1832.7" cy="578.9" r="3.6"/><circle cx="1833.6" cy="606.5" r="3.6"/><circle cx="1835.0" cy="612.8" r="3.6"/><circle cx="1836.2" cy="576.0" r="3.6"/><circle cx="1837.0" cy="557.6" r="3.6"/><circle cx="1837.9" cy="547.3" r="3.6"/><circle cx="1840.1" cy="535.2" r="3.6"/><circle cx="1840.4" cy="561.8" r="3.6"/><circle cx="1847.2" cy="533.7" r="3.6"/><circle cx="1847.6" cy="540.5" r="3.6"/><circle cx="1848.9" cy="560.5" r="3.6"/><circle cx="1848.9" cy="563.8" r="3.6"/><circle cx="1850.5" cy="575.4" r="3.6"/><circle cx="1850.8" cy="567.2" r="3.6"/><circle cx="1851.8" cy="593.3" r="3.6"/><circle cx="1852.1" cy="567.1" r="3.6"/><circle cx="1852.7" cy="592.2" r="3.6"/><circle cx="1853.2" cy="558.3" r="3.6"/><circle cx="1855.6" cy="567.9" r="3.6"/><circle cx="1857.4" cy="552.3" r="3.6"/><circle cx="1860.5" cy="539.6" r="3.6"/><circle cx="1865.1" cy="557.4" r="3.6"/><circle cx="1868.1" cy="584.4" r="3.6"/><circle cx="1869.3" cy="561.0" r="3.6"/><circle cx="1870.7" cy="553.1" r="3.6"/><circle cx="1871.8" cy="537.6" r="3.6"/><circle cx="1876.8" cy="569.6" r="3.6"/><circle cx="1878.6" cy="545.9" r="3.6"/><circle cx="1879.3" cy="564.6" r="3.6"/><circle cx="1881.3" cy="568.6" r="3.6"/><circle cx="1881.9" cy="539.7" r="3.6"/><circle cx="1882.0" cy="546.3" r="3.6"/><circle cx="1882.2" cy="531.1" r="3.6"/><circle cx="1882.3" cy="558.6" r="3.6"/><circle cx="1882.9" cy="566.1" r="3.6"/><circle cx="1883.1" cy="598.2" r="3.6"/><circle cx="1885.7" cy="586.3" r="3.6"/><circle cx="1889.5" cy="607.4" r="3.6"/><circle cx="1889.9" cy="621.2" r="3.6"/><circle cx="1891.2" cy="588.7" r="3.6"/><circle cx="1894.6" cy="631.3" r="3.6"/><circle cx="1896.6" cy="649.8" r="3.6"/><circle cx="1897.8" cy="627.3" r="3.6"/><circle cx="1900.7" cy="637.3" r="3.6"/><circle cx="1901.1" cy="596.1" r="3.6"/><circle cx="1902.4" cy="593.5" r="3.6"/><circle cx="1902.4" cy="593.6" r="3.6"/><circle cx="1903.4" cy="616.1" r="3.6"/><circle cx="1906.1" cy="589.6" r="3.6"/><circle cx="1906.2" cy="581.7" r="3.6"/><circle cx="1907.6" cy="565.1" r="3.6"/><circle cx="1911.5" cy="585.0" r="3.6"/><circle cx="1911.9" cy="597.7" r="3.6"/><circle cx="1912.1" cy="598.2" r="3.6"/><circle cx="1916.7" cy="615.7" r="3.6"/><circle cx="1917.3" cy="630.5" r="3.6"/><circle cx="1917.3" cy="631.2" r="3.6"/><circle cx="1917.3" cy="639.9" r="3.6"/><circle cx="1917.4" cy="600.6" r="3.6"/><circle cx="1918.6" cy="593.0" r="3.6"/><circle cx="1919.3" cy="562.5" r="3.6"/><circle cx="1920.6" cy="573.9" r="3.6"/><circle cx="1921.2" cy="559.6" r="3.6"/><circle cx="1924.4" cy="579.5" r="3.6"/><circle cx="1925.1" cy="575.3" r="3.6"/><circle cx="1926.3" cy="558.7" r="3.6"/><circle cx="1928.1" cy="553.8" r="3.6"/><circle cx="1929.2" cy="560.1" r="3.6"/><circle cx="1930.0" cy="567.7" r="3.6"/><circle cx="1933.0" cy="555.1" r="3.6"/><circle cx="1935.5" cy="532.8" r="3.6"/><circle cx="1936.2" cy="514.9" r="3.6"/><circle cx="1937.6" cy="541.2" r="3.6"/><circle cx="1939.2" cy="521.2" r="3.6"/><circle cx="1944.7" cy="511.5" r="3.6"/><circle cx="1945.2" cy="506.5" r="3.6"/><circle cx="1945.4" cy="526.3" r="3.6"/><circle cx="1945.6" cy="533.8" r="3.6"/><circle cx="1947.4" cy="558.1" r="3.6"/><circle cx="1947.5" cy="555.5" r="3.6"/><circle cx="1949.1" cy="558.9" r="3.6"/><circle cx="1950.6" cy="578.6" r="3.6"/><circle cx="1950.7" cy="597.0" r="3.6"/><circle cx="1953.6" cy="569.5" r="3.6"/><circle cx="1955.8" cy="560.9" r="3.6"/><circle cx="1958.7" cy="561.7" r="3.6"/><circle cx="1959.8" cy="529.2" r="3.6"/><circle cx="1960.3" cy="549.8" r="3.6"/><circle cx="1961.0" cy="558.1" r="3.6"/><circle cx="1961.9" cy="560.5" r="3.6"/><circle cx="1962.4" cy="532.4" r="3.6"/><circle cx="1964.2" cy="542.3" r="3.6"/><circle cx="1964.4" cy="551.9" r="3.6"/><circle cx="1965.6" cy="570.0" r="3.6"/><circle cx="1966.3" cy="569.3" r="3.6"/><circle cx="1966.6" cy="569.9" r="3.6"/><circle cx="1967.7" cy="594.8" r="3.6"/><circle cx="1970.7" cy="590.1" r="3.6"/><circle cx="1971.1" cy="582.9" r="3.6"/><circle cx="1971.4" cy="579.9" r="3.6"/><circle cx="1973.2" cy="540.5" r="3.6"/><circle cx="1973.5" cy="543.2" r="3.6"/><circle cx="1974.1" cy="573.5" r="3.6"/><circle cx="1976.6" cy="560.4" r="3.6"/><circle cx="1976.9" cy="554.9" r="3.6"/><circle cx="1977.6" cy="574.8" r="3.6"/><circle cx="1979.6" cy="585.2" r="3.6"/><circle cx="1979.9" cy="584.4" r="3.6"/><circle cx="1982.6" cy="574.1" r="3.6"/><circle cx="1986.8" cy="571.2" r="3.6"/><circle cx="1987.8" cy="564.3" r="3.6"/><circle cx="1990.2" cy="574.9" r="3.6"/><circle cx="1993.3" cy="573.7" r="3.6"/><circle cx="1998.1" cy="581.7" r="3.6"/><circle cx="1999.0" cy="548.6" r="3.6"/><circle cx="1999.1" cy="561.1" r="3.6"/><circle cx="2001.0" cy="547.2" r="3.6"/><circle cx="2001.0" cy="536.1" r="3.6"/><circle cx="2005.5" cy="528.7" r="3.6"/><circle cx="2005.7" cy="543.5" r="3.6"/><circle cx="2006.1" cy="543.8" r="3.6"/><circle cx="2006.1" cy="547.0" r="3.6"/><circle cx="2007.6" cy="539.3" r="3.6"/><circle cx="2008.1" cy="541.4" r="3.6"/><circle cx="2009.3" cy="559.1" r="3.6"/><circle cx="2009.9" cy="578.9" r="3.6"/><circle cx="2010.1" cy="571.2" r="3.6"/><circle cx="2010.2" cy="566.1" r="3.6"/><circle cx="2010.6" cy="553.9" r="3.6"/><circle cx="2012.6" cy="549.5" r="3.6"/><circle cx="2016.0" cy="551.8" r="3.6"/><circle cx="2019.0" cy="563.3" r="3.6"/><circle cx="2019.7" cy="563.1" r="3.6"/><circle cx="2023.7" cy="585.3" r="3.6"/><circle cx="2025.7" cy="610.1" r="3.6"/><circle cx="2026.3" cy="568.6" r="3.6"/><circle cx="2027.7" cy="582.7" r="3.6"/><circle cx="2029.2" cy="556.4" r="3.6"/><circle cx="2033.8" cy="529.2" r="3.6"/><circle cx="2034.0" cy="506.7" r="3.6"/><circle cx="2037.2" cy="506.4" r="3.6"/><circle cx="2038.6" cy="534.5" r="3.6"/><circle cx="2039.6" cy="536.4" r="3.6"/><circle cx="2040.3" cy="523.3" r="3.6"/><circle cx="2045.3" cy="532.5" r="3.6"/><circle cx="2046.1" cy="504.4" r="3.6"/><circle cx="2046.3" cy="515.7" r="3.6"/><circle cx="2046.3" cy="519.4" r="3.6"/><circle cx="2047.4" cy="490.6" r="3.6"/><circle cx="2047.8" cy="490.2" r="3.6"/><circle cx="2048.7" cy="549.3" r="3.6"/><circle cx="2049.9" cy="557.7" r="3.6"/><circle cx="2050.0" cy="544.5" r="3.6"/><circle cx="2053.9" cy="562.7" r="3.6"/><circle cx="2056.3" cy="538.5" r="3.6"/><circle cx="2057.0" cy="527.2" r="3.6"/><circle cx="2058.8" cy="538.8" r="3.6"/><circle cx="2059.6" cy="515.6" r="3.6"/><circle cx="2063.7" cy="498.3" r="3.6"/><circle cx="2065.9" cy="499.3" r="3.6"/><circle cx="2066.3" cy="501.4" r="3.6"/><circle cx="2066.5" cy="495.2" r="3.6"/><circle cx="2067.0" cy="507.8" r="3.6"/><circle cx="2071.2" cy="516.7" r="3.6"/><circle cx="2074.8" cy="508.3" r="3.6"/><circle cx="2078.0" cy="524.2" r="3.6"/><circle cx="2082.1" cy="541.7" r="3.6"/><circle cx="2082.3" cy="531.9" r="3.6"/><circle cx="2082.6" cy="520.9" r="3.6"/><circle cx="2083.4" cy="505.3" r="3.6"/><circle cx="2085.2" cy="517.1" r="3.6"/><circle cx="2085.3" cy="498.6" r="3.6"/><circle cx="2089.2" cy="488.5" r="3.6"/><circle cx="2091.2" cy="512.9" r="3.6"/><circle cx="2093.6" cy="487.6" r="3.6"/><circle cx="2094.1" cy="455.0" r="3.6"/><circle cx="2094.8" cy="457.1" r="3.6"/><circle cx="2095.0" cy="471.3" r="3.6"/><circle cx="2095.1" cy="457.4" r="3.6"/><circle cx="2096.9" cy="450.0" r="3.6"/><circle cx="2097.3" cy="473.8" r="3.6"/><circle cx="2097.4" cy="449.0" r="3.6"/><circle cx="2098.4" cy="450.0" r="3.6"/><circle cx="2099.0" cy="437.6" r="3.6"/><circle cx="2102.2" cy="436.3" r="3.6"/><circle cx="2104.5" cy="422.1" r="3.6"/><circle cx="2113.3" cy="401.4" r="3.6"/><circle cx="2114.2" cy="399.6" r="3.6"/><circle cx="2117.0" cy="441.7" r="3.6"/><circle cx="2121.9" cy="395.6" r="3.6"/><circle cx="2122.9" cy="373.5" r="3.6"/><circle cx="2123.2" cy="387.0" r="3.6"/><circle cx="2124.7" cy="368.6" r="3.6"/><circle cx="2125.3" cy="408.4" r="3.6"/><circle cx="2125.5" cy="389.6" r="3.6"/><circle cx="2125.9" cy="363.4" r="3.6"/><circle cx="2125.9" cy="373.1" r="3.6"/><circle cx="2126.2" cy="393.9" r="3.6"/><circle cx="2127.8" cy="416.0" r="3.6"/><circle cx="2128.9" cy="420.1" r="3.6"/><circle cx="2130.4" cy="426.2" r="3.6"/><circle cx="2130.6" cy="439.6" r="3.6"/><circle cx="2131.7" cy="398.2" r="3.6"/><circle cx="2132.6" cy="404.5" r="3.6"/><circle cx="2135.4" cy="430.4" r="3.6"/><circle cx="2138.8" cy="418.8" r="3.6"/><circle cx="2142.0" cy="419.3" r="3.6"/><circle cx="2145.0" cy="440.6" r="3.6"/><circle cx="2148.2" cy="461.7" r="3.6"/><circle cx="2150.3" cy="447.7" r="3.6"/><circle cx="2150.6" cy="477.5" r="3.6"/><circle cx="2153.2" cy="481.0" r="3.6"/><circle cx="2153.2" cy="483.7" r="3.6"/><circle cx="2153.4" cy="460.8" r="3.6"/><circle cx="2154.3" cy="445.1" r="3.6"/><circle cx="2157.4" cy="436.9" r="3.6"/><circle cx="2158.3" cy="464.2" r="3.6"/><circle cx="2158.9" cy="434.5" r="3.6"/><circle cx="2159.7" cy="388.4" r="3.6"/><circle cx="2159.7" cy="403.3" r="3.6"/><circle cx="2160.6" cy="407.0" r="3.6"/><circle cx="2167.0" cy="372.6" r="3.6"/><circle cx="2169.0" cy="388.1" r="3.6"/><circle cx="2173.4" cy="385.2" r="3.6"/><circle cx="2174.8" cy="436.1" r="3.6"/><circle cx="2177.6" cy="407.3" r="3.6"/><circle cx="2178.9" cy="414.1" r="3.6"/><circle cx="2181.3" cy="446.8" r="3.6"/><circle cx="2182.5" cy="455.4" r="3.6"/><circle cx="2184.6" cy="450.3" r="3.6"/><circle cx="2186.7" cy="462.8" r="3.6"/><circle cx="2188.5" cy="434.1" r="3.6"/><circle cx="2192.3" cy="471.9" r="3.6"/><circle cx="2192.5" cy="467.9" r="3.6"/><circle cx="2192.8" cy="500.5" r="3.6"/><circle cx="2196.8" cy="526.0" r="3.6"/><circle cx="2197.6" cy="510.5" r="3.6"/><circle cx="2199.9" cy="509.0" r="3.6"/><circle cx="2204.5" cy="530.6" r="3.6"/><circle cx="2206.4" cy="531.9" r="3.6"/><circle cx="2208.7" cy="576.6" r="3.6"/><circle cx="2209.3" cy="576.3" r="3.6"/><circle cx="2213.5" cy="584.0" r="3.6"/><circle cx="2215.4" cy="595.5" r="3.6"/><circle cx="2217.4" cy="578.2" r="3.6"/><circle cx="2217.4" cy="568.8" r="3.6"/><circle cx="2220.0" cy="579.9" r="3.6"/><circle cx="2220.4" cy="582.3" r="3.6"/><circle cx="2221.1" cy="550.8" r="3.6"/><circle cx="2221.2" cy="551.9" r="3.6"/><circle cx="2221.3" cy="542.4" r="3.6"/><circle cx="2221.7" cy="532.8" r="3.6"/><circle cx="2224.9" cy="564.1" r="3.6"/><circle cx="2225.7" cy="556.7" r="3.6"/><circle cx="2226.3" cy="534.6" r="3.6"/><circle cx="2226.4" cy="548.8" r="3.6"/><circle cx="2232.3" cy="567.0" r="3.6"/><circle cx="2232.5" cy="566.4" r="3.6"/><circle cx="2233.8" cy="547.7" r="3.6"/><circle cx="2234.0" cy="543.1" r="3.6"/><circle cx="2235.3" cy="541.0" r="3.6"/><circle cx="2236.8" cy="542.5" r="3.6"/><circle cx="2237.2" cy="530.6" r="3.6"/><circle cx="2238.9" cy="536.5" r="3.6"/><circle cx="2241.7" cy="555.8" r="3.6"/><circle cx="2243.1" cy="584.4" r="3.6"/><circle cx="2245.3" cy="599.7" r="3.6"/><circle cx="2245.5" cy="617.4" r="3.6"/><circle cx="2245.6" cy="622.2" r="3.6"/><circle cx="2246.0" cy="586.8" r="3.6"/><circle cx="2248.8" cy="579.6" r="3.6"/><circle cx="2248.9" cy="618.7" r="3.6"/><circle cx="2250.7" cy="624.3" r="3.6"/><circle cx="2251.3" cy="617.6" r="3.6"/><circle cx="2254.7" cy="653.0" r="3.6"/><circle cx="2256.7" cy="637.0" r="3.6"/><circle cx="2258.1" cy="622.9" r="3.6"/><circle cx="2258.5" cy="619.7" r="3.6"/><circle cx="2259.2" cy="638.2" r="3.6"/><circle cx="2260.1" cy="643.3" r="3.6"/><circle cx="2260.5" cy="657.7" r="3.6"/><circle cx="2261.0" cy="612.8" r="3.6"/><circle cx="2262.6" cy="610.9" r="3.6"/><circle cx="2262.7" cy="608.7" r="3.6"/><circle cx="2269.8" cy="622.3" r="3.6"/><circle cx="2269.9" cy="609.9" r="3.6"/><circle cx="2270.3" cy="631.6" r="3.6"/><circle cx="2272.2" cy="622.9" r="3.6"/><circle cx="2273.9" cy="607.0" r="3.6"/><circle cx="2276.2" cy="587.8" r="3.6"/><circle cx="2281.4" cy="606.0" r="3.6"/><circle cx="2282.5" cy="622.2" r="3.6"/><circle cx="2283.7" cy="608.0" r="3.6"/><circle cx="2284.1" cy="622.3" r="3.6"/><circle cx="2284.4" cy="615.4" r="3.6"/><circle cx="2285.2" cy="625.7" r="3.6"/><circle cx="2285.8" cy="602.0" r="3.6"/><circle cx="2287.5" cy="589.3" r="3.6"/><circle cx="2288.3" cy="596.0" r="3.6"/><circle cx="2289.4" cy="601.6" r="3.6"/><circle cx="2290.9" cy="587.9" r="3.6"/><circle cx="2291.8" cy="612.3" r="3.6"/><circle cx="2292.6" cy="643.4" r="3.6"/><circle cx="2292.7" cy="627.8" r="3.6"/><circle cx="2293.7" cy="631.2" r="3.6"/><circle cx="2295.6" cy="605.2" r="3.6"/><circle cx="2295.8" cy="605.3" r="3.6"/><circle cx="2295.8" cy="579.7" r="3.6"/><circle cx="2296.2" cy="601.5" r="3.6"/><circle cx="2297.8" cy="603.4" r="3.6"/><circle cx="2297.9" cy="603.3" r="3.6"/><circle cx="2299.8" cy="630.8" r="3.6"/><circle cx="2300.6" cy="608.4" r="3.6"/><circle cx="2304.1" cy="600.5" r="3.6"/><circle cx="2304.4" cy="609.9" r="3.6"/><circle cx="2308.8" cy="619.9" r="3.6"/><circle cx="2309.3" cy="622.7" r="3.6"/><circle cx="2309.9" cy="604.6" r="3.6"/><circle cx="2311.7" cy="609.1" r="3.6"/><circle cx="2312.4" cy="616.6" r="3.6"/><circle cx="2312.5" cy="618.0" r="3.6"/><circle cx="2313.1" cy="623.2" r="3.6"/><circle cx="2314.0" cy="655.7" r="3.6"/><circle cx="2314.5" cy="640.0" r="3.6"/><circle cx="2320.5" cy="630.9" r="3.6"/><circle cx="2321.1" cy="609.6" r="3.6"/><circle cx="2322.2" cy="610.0" r="3.6"/><circle cx="2322.8" cy="576.1" r="3.6"/><circle cx="2328.4" cy="610.9" r="3.6"/><circle cx="2330.3" cy="614.5" r="3.6"/><circle cx="2330.4" cy="654.5" r="3.6"/><circle cx="2341.2" cy="642.4" r="3.6"/><circle cx="2341.3" cy="649.4" r="3.6"/><circle cx="2341.4" cy="652.0" r="3.6"/><circle cx="2343.3" cy="651.4" r="3.6"/><circle cx="2348.0" cy="655.6" r="3.6"/><circle cx="2350.9" cy="654.0" r="3.6"/><circle cx="2352.3" cy="650.0" r="3.6"/><circle cx="2354.1" cy="640.3" r="3.6"/><circle cx="2356.3" cy="607.3" r="3.6"/><circle cx="2356.8" cy="595.1" r="3.6"/><circle cx="2357.5" cy="587.9" r="3.6"/><circle cx="2357.6" cy="617.0" r="3.6"/><circle cx="2357.6" cy="633.5" r="3.6"/><circle cx="2357.8" cy="649.4" r="3.6"/><circle cx="2358.4" cy="655.4" r="3.6"/><circle cx="2360.8" cy="647.9" r="3.6"/><circle cx="2360.8" cy="664.6" r="3.6"/><circle cx="2362.4" cy="656.5" r="3.6"/><circle cx="2362.4" cy="637.7" r="3.6"/><circle cx="2362.5" cy="644.9" r="3.6"/><circle cx="2364.1" cy="672.7" r="3.6"/><circle cx="2364.9" cy="659.9" r="3.6"/><circle cx="2366.1" cy="659.1" r="3.6"/><circle cx="2366.1" cy="675.1" r="3.6"/><circle cx="2367.3" cy="690.1" r="3.6"/><circle cx="2367.4" cy="686.5" r="3.6"/><circle cx="2369.8" cy="716.0" r="3.6"/><circle cx="2374.4" cy="710.2" r="3.6"/><circle cx="2375.9" cy="729.1" r="3.6"/><circle cx="2378.6" cy="687.8" r="3.6"/><circle cx="2378.6" cy="699.1" r="3.6"/><circle cx="2378.9" cy="693.2" r="3.6"/><circle cx="2380.4" cy="680.5" r="3.6"/><circle cx="2381.2" cy="658.7" r="3.6"/><circle cx="2384.0" cy="673.5" r="3.6"/><circle cx="2384.1" cy="669.0" r="3.6"/><circle cx="2384.5" cy="638.4" r="3.6"/><circle cx="2387.1" cy="627.0" r="3.6"/><circle cx="2390.5" cy="621.8" r="3.6"/><circle cx="2390.6" cy="615.3" r="3.6"/><circle cx="2391.3" cy="621.5" r="3.6"/><circle cx="2392.4" cy="585.3" r="3.6"/><circle cx="2394.2" cy="601.7" r="3.6"/><circle cx="2397.1" cy="607.9" r="3.6"/><circle cx="2397.8" cy="635.1" r="3.6"/><circle cx="2400.5" cy="641.0" r="3.6"/><circle cx="2401.6" cy="647.3" r="3.6"/><circle cx="2403.2" cy="676.2" r="3.6"/><circle cx="2405.0" cy="667.4" r="3.6"/><circle cx="2405.6" cy="677.1" r="3.6"/><circle cx="2405.7" cy="676.9" r="3.6"/><circle cx="2407.0" cy="673.4" r="3.6"/><circle cx="2407.2" cy="696.1" r="3.6"/><circle cx="2408.0" cy="670.8" r="3.6"/><circle cx="2410.9" cy="652.2" r="3.6"/><circle cx="2411.9" cy="614.3" r="3.6"/><circle cx="2412.3" cy="614.9" r="3.6"/><circle cx="2412.3" cy="635.8" r="3.6"/><circle cx="2415.6" cy="628.7" r="3.6"/><circle cx="2416.0" cy="638.2" r="3.6"/><circle cx="2416.2" cy="617.6" r="3.6"/><circle cx="2417.2" cy="650.4" r="3.6"/><circle cx="2419.1" cy="629.9" r="3.6"/></g>
<g fill="#88b3ae"><circle cx="1794.1" cy="962.8" r="3.6"/><circle cx="1799.1" cy="941.2" r="3.6"/><circle cx="1799.7" cy="959.2" r="3.6"/><circle cx="1800.7" cy="962.2" r="3.6"/><circle cx="1802.6" cy="943.1" r="3.6"/><circle cx="1806.4" cy="906.2" r="3.6"/><circle cx="1806.9" cy="917.8" r="3.6"/><circle cx="1815.8" cy="906.1" r="3.6"/><circle cx="1817.1" cy="899.3" r="3.6"/><circle cx="1817.6" cy="891.5" r="3.6"/><circle cx="1817.7" cy="876.9" r="3.6"/><circle cx="1819.7" cy="893.3" r="3.6"/><circle cx="1822.0" cy="881.3" r="3.6"/><circle cx="1823.6" cy="870.5" r="3.6"/><circle cx="1825.4" cy="885.6" r="3.6"/><circle cx="1825.9" cy="910.1" r="3.6"/><circle cx="1826.6" cy="932.8" r="3.6"/><circle cx="1828.5" cy="933.9" r="3.6"/><circle cx="1829.0" cy="915.9" r="3.6"/><circle cx="1829.5" cy="937.8" r="3.6"/><circle cx="1832.6" cy="941.7" r="3.6"/><circle cx="1834.9" cy="927.2" r="3.6"/><circle cx="1836.7" cy="902.9" r="3.6"/><circle cx="1839.3" cy="910.1" r="3.6"/><circle cx="1840.3" cy="872.8" r="3.6"/><circle cx="1841.4" cy="879.7" r="3.6"/><circle cx="1841.6" cy="855.5" r="3.6"/><circle cx="1841.8" cy="871.6" r="3.6"/><circle cx="1843.8" cy="848.3" r="3.6"/><circle cx="1844.2" cy="865.7" r="3.6"/><circle cx="1845.4" cy="910.0" r="3.6"/><circle cx="1846.5" cy="902.2" r="3.6"/><circle cx="1850.7" cy="888.9" r="3.6"/><circle cx="1851.7" cy="921.4" r="3.6"/><circle cx="1852.6" cy="913.8" r="3.6"/><circle cx="1856.9" cy="878.9" r="3.6"/><circle cx="1857.8" cy="909.4" r="3.6"/><circle cx="1858.1" cy="860.2" r="3.6"/><circle cx="1858.4" cy="834.2" r="3.6"/><circle cx="1861.8" cy="823.5" r="3.6"/><circle cx="1863.2" cy="816.7" r="3.6"/><circle cx="1864.6" cy="800.5" r="3.6"/><circle cx="1864.7" cy="829.4" r="3.6"/><circle cx="1865.2" cy="862.0" r="3.6"/><circle cx="1866.1" cy="857.8" r="3.6"/><circle cx="1868.5" cy="851.5" r="3.6"/><circle cx="1868.5" cy="831.2" r="3.6"/><circle cx="1869.6" cy="857.0" r="3.6"/><circle cx="1872.6" cy="850.4" r="3.6"/><circle cx="1875.3" cy="867.6" r="3.6"/><circle cx="1878.1" cy="895.3" r="3.6"/><circle cx="1878.4" cy="891.3" r="3.6"/><circle cx="1878.6" cy="858.4" r="3.6"/><circle cx="1879.0" cy="844.1" r="3.6"/><circle cx="1879.6" cy="872.1" r="3.6"/><circle cx="1880.1" cy="887.8" r="3.6"/><circle cx="1881.8" cy="908.6" r="3.6"/><circle cx="1882.5" cy="853.4" r="3.6"/><circle cx="1883.1" cy="874.8" r="3.6"/><circle cx="1887.7" cy="860.6" r="3.6"/><circle cx="1889.6" cy="848.1" r="3.6"/><circle cx="1890.1" cy="851.1" r="3.6"/><circle cx="1890.2" cy="867.2" r="3.6"/><circle cx="1890.2" cy="884.5" r="3.6"/><circle cx="1890.5" cy="881.8" r="3.6"/><circle cx="1891.6" cy="883.7" r="3.6"/><circle cx="1893.2" cy="899.9" r="3.6"/><circle cx="1896.8" cy="888.7" r="3.6"/><circle cx="1900.4" cy="888.6" r="3.6"/><circle cx="1904.7" cy="898.6" r="3.6"/><circle cx="1904.9" cy="896.6" r="3.6"/><circle cx="1905.0" cy="924.3" r="3.6"/><circle cx="1905.4" cy="920.4" r="3.6"/><circle cx="1907.4" cy="935.7" r="3.6"/><circle cx="1908.6" cy="954.6" r="3.6"/><circle cx="1912.2" cy="950.9" r="3.6"/><circle cx="1912.4" cy="939.9" r="3.6"/><circle cx="1913.0" cy="920.5" r="3.6"/><circle cx="1913.9" cy="926.5" r="3.6"/><circle cx="1920.4" cy="918.8" r="3.6"/><circle cx="1921.0" cy="950.2" r="3.6"/><circle cx="1921.2" cy="942.6" r="3.6"/><circle cx="1921.7" cy="936.1" r="3.6"/><circle cx="1923.7" cy="963.2" r="3.6"/><circle cx="1924.1" cy="954.9" r="3.6"/><circle cx="1927.3" cy="960.3" r="3.6"/><circle cx="1928.8" cy="983.9" r="3.6"/><circle cx="1931.3" cy="965.4" r="3.6"/><circle cx="1933.1" cy="959.2" r="3.6"/><circle cx="1934.0" cy="969.6" r="3.6"/><circle cx="1934.6" cy="956.1" r="3.6"/><circle cx="1934.9" cy="931.8" r="3.6"/><circle cx="1938.7" cy="903.0" r="3.6"/><circle cx="1939.0" cy="904.3" r="3.6"/><circle cx="1939.6" cy="926.2" r="3.6"/><circle cx="1941.2" cy="933.9" r="3.6"/><circle cx="1943.3" cy="943.4" r="3.6"/><circle cx="1944.7" cy="961.1" r="3.6"/><circle cx="1947.1" cy="938.0" r="3.6"/><circle cx="1947.8" cy="908.4" r="3.6"/><circle cx="1948.0" cy="907.0" r="3.6"/><circle cx="1950.1" cy="893.7" r="3.6"/><circle cx="1953.8" cy="879.0" r="3.6"/><circle cx="1957.1" cy="903.5" r="3.6"/><circle cx="1958.1" cy="878.7" r="3.6"/><circle cx="1958.9" cy="899.5" r="3.6"/><circle cx="1961.1" cy="913.9" r="3.6"/><circle cx="1962.2" cy="891.3" r="3.6"/><circle cx="1962.7" cy="883.3" r="3.6"/><circle cx="1964.5" cy="911.5" r="3.6"/><circle cx="1965.2" cy="921.6" r="3.6"/><circle cx="1967.3" cy="914.0" r="3.6"/><circle cx="1970.1" cy="892.1" r="3.6"/><circle cx="1972.4" cy="883.0" r="3.6"/><circle cx="1973.1" cy="890.6" r="3.6"/><circle cx="1973.5" cy="908.5" r="3.6"/><circle cx="1975.7" cy="913.2" r="3.6"/><circle cx="1977.1" cy="907.9" r="3.6"/><circle cx="1978.8" cy="902.4" r="3.6"/><circle cx="1981.1" cy="920.2" r="3.6"/><circle cx="1982.5" cy="882.6" r="3.6"/><circle cx="1983.6" cy="860.8" r="3.6"/><circle cx="1985.2" cy="862.0" r="3.6"/><circle cx="1988.3" cy="891.0" r="3.6"/><circle cx="1988.9" cy="910.0" r="3.6"/><circle cx="1989.1" cy="890.1" r="3.6"/><circle cx="1989.7" cy="878.8" r="3.6"/><circle cx="1993.4" cy="869.8" r="3.6"/><circle cx="1995.5" cy="861.2" r="3.6"/><circle cx="1996.3" cy="854.9" r="3.6"/><circle cx="1996.8" cy="851.3" r="3.6"/><circle cx="1998.2" cy="846.0" r="3.6"/><circle cx="1999.1" cy="824.4" r="3.6"/><circle cx="2004.0" cy="802.9" r="3.6"/><circle cx="2005.3" cy="799.6" r="3.6"/><circle cx="2006.0" cy="813.2" r="3.6"/><circle cx="2007.2" cy="833.2" r="3.6"/><circle cx="2007.2" cy="814.6" r="3.6"/><circle cx="2007.4" cy="813.8" r="3.6"/><circle cx="2008.1" cy="840.0" r="3.6"/><circle cx="2008.7" cy="845.4" r="3.6"/><circle cx="2010.3" cy="871.0" r="3.6"/><circle cx="2010.5" cy="853.4" r="3.6"/><circle cx="2011.9" cy="836.8" r="3.6"/><circle cx="2013.5" cy="814.7" r="3.6"/><circle cx="2015.5" cy="835.0" r="3.6"/><circle cx="2016.6" cy="810.9" r="3.6"/><circle cx="2017.3" cy="793.4" r="3.6"/><circle cx="2018.9" cy="781.4" r="3.6"/><circle cx="2020.4" cy="817.4" r="3.6"/><circle cx="2020.9" cy="812.9" r="3.6"/><circle cx="2021.1" cy="822.6" r="3.6"/><circle cx="2022.3" cy="825.2" r="3.6"/><circle cx="2023.1" cy="833.4" r="3.6"/><circle cx="2024.4" cy="827.1" r="3.6"/><circle cx="2025.6" cy="819.3" r="3.6"/><circle cx="2027.1" cy="840.2" r="3.6"/><circle cx="2029.0" cy="846.4" r="3.6"/><circle cx="2029.6" cy="856.1" r="3.6"/><circle cx="2030.9" cy="835.4" r="3.6"/><circle cx="2031.4" cy="836.7" r="3.6"/><circle cx="2031.9" cy="817.0" r="3.6"/><circle cx="2034.6" cy="801.0" r="3.6"/><circle cx="2036.1" cy="806.3" r="3.6"/><circle cx="2036.6" cy="837.1" r="3.6"/><circle cx="2036.8" cy="850.9" r="3.6"/><circle cx="2037.5" cy="874.2" r="3.6"/><circle cx="2037.6" cy="859.8" r="3.6"/><circle cx="2038.6" cy="865.6" r="3.6"/><circle cx="2040.7" cy="864.7" r="3.6"/><circle cx="2041.2" cy="842.7" r="3.6"/><circle cx="2041.8" cy="850.3" r="3.6"/><circle cx="2043.5" cy="842.3" r="3.6"/><circle cx="2046.1" cy="844.0" r="3.6"/><circle cx="2046.3" cy="822.7" r="3.6"/><circle cx="2046.8" cy="846.2" r="3.6"/><circle cx="2047.5" cy="832.9" r="3.6"/><circle cx="2050.1" cy="855.9" r="3.6"/><circle cx="2050.8" cy="865.4" r="3.6"/><circle cx="2051.3" cy="835.2" r="3.6"/><circle cx="2054.0" cy="829.3" r="3.6"/><circle cx="2054.4" cy="829.9" r="3.6"/><circle cx="2055.9" cy="820.6" r="3.6"/><circle cx="2056.4" cy="804.8" r="3.6"/><circle cx="2056.6" cy="803.9" r="3.6"/><circle cx="2056.8" cy="815.3" r="3.6"/><circle cx="2057.1" cy="836.7" r="3.6"/><circle cx="2058.8" cy="814.3" r="3.6"/><circle cx="2060.8" cy="828.7" r="3.6"/><circle cx="2065.7" cy="833.1" r="3.6"/><circle cx="2066.7" cy="840.1" r="3.6"/><circle cx="2067.5" cy="820.2" r="3.6"/><circle cx="2068.1" cy="792.5" r="3.6"/><circle cx="2070.4" cy="787.7" r="3.6"/><circle cx="2072.2" cy="799.3" r="3.6"/><circle cx="2072.4" cy="790.9" r="3.6"/><circle cx="2073.8" cy="796.1" r="3.6"/><circle cx="2074.2" cy="767.4" r="3.6"/><circle cx="2074.8" cy="789.5" r="3.6"/><circle cx="2075.3" cy="776.1" r="3.6"/><circle cx="2076.2" cy="810.5" r="3.6"/><circle cx="2082.9" cy="776.8" r="3.6"/><circle cx="2083.4" cy="769.1" r="3.6"/><circle cx="2084.6" cy="747.7" r="3.6"/><circle cx="2085.3" cy="783.1" r="3.6"/><circle cx="2089.3" cy="789.4" r="3.6"/><circle cx="2089.5" cy="778.7" r="3.6"/><circle cx="2090.5" cy="734.9" r="3.6"/><circle cx="2092.3" cy="755.4" r="3.6"/><circle cx="2092.9" cy="753.2" r="3.6"/><circle cx="2093.5" cy="740.4" r="3.6"/><circle cx="2093.9" cy="716.7" r="3.6"/><circle cx="2096.3" cy="723.0" r="3.6"/><circle cx="2098.8" cy="716.4" r="3.6"/><circle cx="2100.0" cy="734.4" r="3.6"/><circle cx="2106.8" cy="733.0" r="3.6"/><circle cx="2107.2" cy="727.7" r="3.6"/><circle cx="2111.2" cy="728.8" r="3.6"/><circle cx="2111.3" cy="739.0" r="3.6"/><circle cx="2111.3" cy="753.8" r="3.6"/><circle cx="2111.4" cy="747.4" r="3.6"/><circle cx="2112.1" cy="765.5" r="3.6"/><circle cx="2113.4" cy="724.2" r="3.6"/><circle cx="2115.0" cy="760.0" r="3.6"/><circle cx="2115.5" cy="767.1" r="3.6"/><circle cx="2115.7" cy="755.9" r="3.6"/><circle cx="2119.6" cy="769.7" r="3.6"/><circle cx="2121.3" cy="791.6" r="3.6"/><circle cx="2124.3" cy="803.0" r="3.6"/><circle cx="2125.2" cy="767.7" r="3.6"/><circle cx="2131.0" cy="755.8" r="3.6"/><circle cx="2133.1" cy="773.5" r="3.6"/><circle cx="2133.7" cy="797.3" r="3.6"/><circle cx="2136.1" cy="825.0" r="3.6"/><circle cx="2136.7" cy="817.2" r="3.6"/><circle cx="2138.7" cy="837.5" r="3.6"/><circle cx="2144.3" cy="829.5" r="3.6"/><circle cx="2146.0" cy="846.2" r="3.6"/><circle cx="2149.0" cy="842.7" r="3.6"/><circle cx="2149.2" cy="801.5" r="3.6"/><circle cx="2151.1" cy="833.9" r="3.6"/><circle cx="2151.4" cy="841.9" r="3.6"/><circle cx="2153.0" cy="836.5" r="3.6"/><circle cx="2154.5" cy="832.5" r="3.6"/><circle cx="2155.2" cy="801.1" r="3.6"/><circle cx="2156.6" cy="818.1" r="3.6"/><circle cx="2157.8" cy="826.8" r="3.6"/><circle cx="2159.7" cy="833.3" r="3.6"/><circle cx="2159.9" cy="866.5" r="3.6"/><circle cx="2161.3" cy="830.6" r="3.6"/><circle cx="2168.0" cy="824.1" r="3.6"/><circle cx="2169.0" cy="821.6" r="3.6"/><circle cx="2169.2" cy="842.2" r="3.6"/><circle cx="2171.3" cy="836.7" r="3.6"/><circle cx="2171.5" cy="813.1" r="3.6"/><circle cx="2171.5" cy="829.4" r="3.6"/><circle cx="2172.3" cy="833.1" r="3.6"/><circle cx="2172.5" cy="868.5" r="3.6"/><circle cx="2173.8" cy="863.2" r="3.6"/><circle cx="2173.9" cy="866.9" r="3.6"/><circle cx="2174.9" cy="843.9" r="3.6"/><circle cx="2176.1" cy="841.0" r="3.6"/><circle cx="2177.3" cy="843.2" r="3.6"/><circle cx="2179.4" cy="873.0" r="3.6"/><circle cx="2180.4" cy="870.1" r="3.6"/><circle cx="2181.9" cy="857.1" r="3.6"/><circle cx="2182.0" cy="891.5" r="3.6"/><circle cx="2182.9" cy="887.0" r="3.6"/><circle cx="2184.0" cy="887.2" r="3.6"/><circle cx="2185.8" cy="870.7" r="3.6"/><circle cx="2186.4" cy="864.7" r="3.6"/><circle cx="2187.5" cy="836.4" r="3.6"/><circle cx="2187.8" cy="816.4" r="3.6"/><circle cx="2191.6" cy="839.5" r="3.6"/><circle cx="2202.5" cy="871.3" r="3.6"/><circle cx="2203.0" cy="866.6" r="3.6"/><circle cx="2209.6" cy="845.4" r="3.6"/><circle cx="2211.8" cy="858.0" r="3.6"/><circle cx="2212.8" cy="885.6" r="3.6"/><circle cx="2214.4" cy="875.5" r="3.6"/><circle cx="2215.5" cy="910.6" r="3.6"/><circle cx="2216.1" cy="909.4" r="3.6"/><circle cx="2219.5" cy="879.9" r="3.6"/><circle cx="2220.4" cy="879.3" r="3.6"/><circle cx="2222.0" cy="863.8" r="3.6"/><circle cx="2223.2" cy="904.0" r="3.6"/><circle cx="2224.9" cy="914.1" r="3.6"/><circle cx="2226.5" cy="907.0" r="3.6"/><circle cx="2226.7" cy="925.0" r="3.6"/><circle cx="2226.8" cy="924.1" r="3.6"/><circle cx="2228.4" cy="914.7" r="3.6"/><circle cx="2228.8" cy="917.1" r="3.6"/><circle cx="2229.1" cy="917.1" r="3.6"/><circle cx="2232.0" cy="923.7" r="3.6"/><circle cx="2232.6" cy="943.6" r="3.6"/><circle cx="2235.2" cy="962.8" r="3.6"/><circle cx="2235.2" cy="957.3" r="3.6"/><circle cx="2235.3" cy="953.9" r="3.6"/><circle cx="2239.8" cy="945.3" r="3.6"/><circle cx="2240.1" cy="915.3" r="3.6"/><circle cx="2248.9" cy="920.0" r="3.6"/><circle cx="2249.0" cy="931.9" r="3.6"/><circle cx="2250.0" cy="934.2" r="3.6"/><circle cx="2250.4" cy="935.1" r="3.6"/><circle cx="2255.5" cy="956.0" r="3.6"/><circle cx="2257.0" cy="961.4" r="3.6"/><circle cx="2258.3" cy="954.1" r="3.6"/><circle cx="2261.0" cy="923.2" r="3.6"/><circle cx="2261.6" cy="954.9" r="3.6"/><circle cx="2261.6" cy="944.3" r="3.6"/><circle cx="2262.9" cy="957.5" r="3.6"/><circle cx="2265.2" cy="960.5" r="3.6"/><circle cx="2267.0" cy="941.5" r="3.6"/><circle cx="2268.6" cy="965.3" r="3.6"/><circle cx="2269.3" cy="965.0" r="3.6"/><circle cx="2269.5" cy="957.4" r="3.6"/><circle cx="2271.9" cy="944.2" r="3.6"/><circle cx="2272.1" cy="919.4" r="3.6"/><circle cx="2274.3" cy="903.7" r="3.6"/><circle cx="2274.4" cy="907.4" r="3.6"/><circle cx="2275.6" cy="903.1" r="3.6"/><circle cx="2281.1" cy="905.2" r="3.6"/><circle cx="2281.1" cy="919.0" r="3.6"/><circle cx="2281.3" cy="902.4" r="3.6"/><circle cx="2281.8" cy="920.5" r="3.6"/><circle cx="2282.1" cy="915.6" r="3.6"/><circle cx="2283.0" cy="896.4" r="3.6"/><circle cx="2283.2" cy="921.3" r="3.6"/><circle cx="2283.5" cy="902.4" r="3.6"/><circle cx="2285.9" cy="916.8" r="3.6"/><circle cx="2286.3" cy="929.9" r="3.6"/><circle cx="2288.0" cy="913.6" r="3.6"/><circle cx="2288.4" cy="890.5" r="3.6"/><circle cx="2288.8" cy="867.1" r="3.6"/><circle cx="2289.1" cy="853.8" r="3.6"/><circle cx="2289.7" cy="847.9" r="3.6"/><circle cx="2295.2" cy="872.2" r="3.6"/><circle cx="2297.2" cy="861.1" r="3.6"/><circle cx="2303.0" cy="857.7" r="3.6"/><circle cx="2303.7" cy="856.4" r="3.6"/><circle cx="2304.7" cy="870.1" r="3.6"/><circle cx="2309.0" cy="843.3" r="3.6"/><circle cx="2312.4" cy="864.0" r="3.6"/><circle cx="2313.1" cy="883.6" r="3.6"/><circle cx="2315.7" cy="878.0" r="3.6"/><circle cx="2316.5" cy="894.3" r="3.6"/><circle cx="2318.3" cy="872.5" r="3.6"/><circle cx="2318.4" cy="869.4" r="3.6"/><circle cx="2318.7" cy="890.8" r="3.6"/><circle cx="2322.6" cy="881.9" r="3.6"/><circle cx="2322.8" cy="895.4" r="3.6"/><circle cx="2324.5" cy="903.5" r="3.6"/><circle cx="2324.7" cy="880.4" r="3.6"/><circle cx="2327.5" cy="888.6" r="3.6"/><circle cx="2327.9" cy="899.4" r="3.6"/><circle cx="2328.2" cy="916.0" r="3.6"/><circle cx="2328.8" cy="912.3" r="3.6"/><circle cx="2331.7" cy="914.7" r="3.6"/><circle cx="2332.1" cy="900.6" r="3.6"/><circle cx="2332.4" cy="915.2" r="3.6"/><circle cx="2333.6" cy="901.0" r="3.6"/><circle cx="2337.1" cy="889.3" r="3.6"/><circle cx="2337.5" cy="914.4" r="3.6"/><circle cx="2338.1" cy="896.0" r="3.6"/><circle cx="2338.6" cy="910.0" r="3.6"/><circle cx="2340.3" cy="916.8" r="3.6"/><circle cx="2341.4" cy="921.9" r="3.6"/><circle cx="2341.4" cy="922.8" r="3.6"/><circle cx="2341.9" cy="920.8" r="3.6"/><circle cx="2341.9" cy="926.0" r="3.6"/><circle cx="2343.4" cy="891.2" r="3.6"/><circle cx="2343.9" cy="879.0" r="3.6"/><circle cx="2343.9" cy="891.2" r="3.6"/><circle cx="2344.4" cy="920.9" r="3.6"/><circle cx="2344.4" cy="940.7" r="3.6"/><circle cx="2345.5" cy="928.7" r="3.6"/><circle cx="2347.5" cy="922.3" r="3.6"/><circle cx="2348.3" cy="913.3" r="3.6"/><circle cx="2350.1" cy="883.8" r="3.6"/><circle cx="2350.5" cy="909.3" r="3.6"/><circle cx="2354.8" cy="897.9" r="3.6"/><circle cx="2355.7" cy="922.5" r="3.6"/><circle cx="2358.7" cy="914.7" r="3.6"/><circle cx="2364.8" cy="914.1" r="3.6"/><circle cx="2365.3" cy="901.0" r="3.6"/><circle cx="2368.2" cy="907.8" r="3.6"/><circle cx="2369.8" cy="903.9" r="3.6"/><circle cx="2374.2" cy="900.4" r="3.6"/><circle cx="2376.3" cy="941.6" r="3.6"/><circle cx="2379.0" cy="942.5" r="3.6"/><circle cx="2379.7" cy="925.5" r="3.6"/><circle cx="2381.9" cy="918.5" r="3.6"/><circle cx="2385.2" cy="945.1" r="3.6"/><circle cx="2386.0" cy="946.7" r="3.6"/><circle cx="2387.6" cy="931.2" r="3.6"/><circle cx="2387.7" cy="919.7" r="3.6"/><circle cx="2389.3" cy="901.6" r="3.6"/><circle cx="2389.5" cy="882.0" r="3.6"/><circle cx="2392.4" cy="890.6" r="3.6"/><circle cx="2392.4" cy="900.1" r="3.6"/><circle cx="2393.3" cy="882.2" r="3.6"/><circle cx="2394.7" cy="915.1" r="3.6"/><circle cx="2395.4" cy="927.6" r="3.6"/><circle cx="2397.3" cy="909.0" r="3.6"/><circle cx="2397.7" cy="911.3" r="3.6"/><circle cx="2398.3" cy="935.6" r="3.6"/><circle cx="2398.9" cy="902.5" r="3.6"/><circle cx="2403.1" cy="908.1" r="3.6"/><circle cx="2404.7" cy="953.7" r="3.6"/><circle cx="2405.4" cy="966.2" r="3.6"/><circle cx="2406.1" cy="936.4" r="3.6"/><circle cx="2406.6" cy="942.4" r="3.6"/><circle cx="2411.8" cy="932.7" r="3.6"/><circle cx="2412.1" cy="969.5" r="3.6"/><circle cx="2412.6" cy="957.1" r="3.6"/><circle cx="2415.6" cy="939.4" r="3.6"/><circle cx="2417.0" cy="922.0" r="3.6"/><circle cx="2419.8" cy="897.6" r="3.6"/><circle cx="2419.9" cy="851.4" r="3.6"/><circle cx="2420.0" cy="862.1" r="3.6"/></g>
<g fill="#70b5e8"><circle cx="1791.7" cy="1186.9" r="3.6"/><circle cx="1792.7" cy="1206.6" r="3.6"/><circle cx="1794.8" cy="1196.8" r="3.6"/><circle cx="1798.2" cy="1198.6" r="3.6"/><circle cx="1799.7" cy="1199.4" r="3.6"/><circle cx="1802.6" cy="1208.9" r="3.6"/><circle cx="1806.9" cy="1217.9" r="3.6"/><circle cx="1807.8" cy="1225.4" r="3.6"/><circle cx="1811.0" cy="1231.5" r="3.6"/><circle cx="1813.6" cy="1237.4" r="3.6"/><circle cx="1815.8" cy="1214.9" r="3.6"/><circle cx="1815.8" cy="1207.3" r="3.6"/><circle cx="1817.4" cy="1226.1" r="3.6"/><circle cx="1818.6" cy="1225.1" r="3.6"/><circle cx="1819.1" cy="1208.4" r="3.6"/><circle cx="1819.3" cy="1208.3" r="3.6"/><circle cx="1819.6" cy="1207.8" r="3.6"/><circle cx="1821.2" cy="1195.5" r="3.6"/><circle cx="1821.9" cy="1181.4" r="3.6"/><circle cx="1822.5" cy="1175.7" r="3.6"/><circle cx="1822.7" cy="1157.3" r="3.6"/><circle cx="1823.7" cy="1174.5" r="3.6"/><circle cx="1825.5" cy="1230.4" r="3.6"/><circle cx="1826.6" cy="1249.7" r="3.6"/><circle cx="1828.9" cy="1255.8" r="3.6"/><circle cx="1829.0" cy="1256.3" r="3.6"/><circle cx="1836.5" cy="1273.9" r="3.6"/><circle cx="1838.0" cy="1286.6" r="3.6"/><circle cx="1839.4" cy="1288.1" r="3.6"/><circle cx="1839.6" cy="1291.4" r="3.6"/><circle cx="1842.5" cy="1266.5" r="3.6"/><circle cx="1846.4" cy="1225.3" r="3.6"/><circle cx="1846.4" cy="1218.7" r="3.6"/><circle cx="1846.8" cy="1240.3" r="3.6"/><circle cx="1849.9" cy="1254.7" r="3.6"/><circle cx="1850.6" cy="1253.6" r="3.6"/><circle cx="1852.6" cy="1251.8" r="3.6"/><circle cx="1852.9" cy="1249.4" r="3.6"/><circle cx="1854.9" cy="1247.8" r="3.6"/><circle cx="1855.2" cy="1228.2" r="3.6"/><circle cx="1856.0" cy="1243.0" r="3.6"/><circle cx="1856.7" cy="1222.1" r="3.6"/><circle cx="1861.0" cy="1242.1" r="3.6"/><circle cx="1861.2" cy="1231.1" r="3.6"/><circle cx="1862.5" cy="1219.1" r="3.6"/><circle cx="1863.2" cy="1218.7" r="3.6"/><circle cx="1863.2" cy="1201.9" r="3.6"/><circle cx="1864.4" cy="1202.6" r="3.6"/><circle cx="1864.9" cy="1180.0" r="3.6"/><circle cx="1865.6" cy="1176.4" r="3.6"/><circle cx="1866.5" cy="1193.1" r="3.6"/><circle cx="1867.2" cy="1196.8" r="3.6"/><circle cx="1869.0" cy="1199.1" r="3.6"/><circle cx="1869.2" cy="1233.1" r="3.6"/><circle cx="1871.3" cy="1198.5" r="3.6"/><circle cx="1872.2" cy="1194.6" r="3.6"/><circle cx="1873.3" cy="1202.8" r="3.6"/><circle cx="1876.9" cy="1201.5" r="3.6"/><circle cx="1879.5" cy="1195.8" r="3.6"/><circle cx="1880.3" cy="1227.8" r="3.6"/><circle cx="1881.5" cy="1219.4" r="3.6"/><circle cx="1882.8" cy="1212.1" r="3.6"/><circle cx="1882.9" cy="1258.4" r="3.6"/><circle cx="1885.9" cy="1259.2" r="3.6"/><circle cx="1889.2" cy="1246.3" r="3.6"/><circle cx="1891.8" cy="1260.5" r="3.6"/><circle cx="1892.4" cy="1251.0" r="3.6"/><circle cx="1895.0" cy="1251.6" r="3.6"/><circle cx="1895.4" cy="1249.4" r="3.6"/><circle cx="1896.7" cy="1240.7" r="3.6"/><circle cx="1900.4" cy="1231.3" r="3.6"/><circle cx="1902.9" cy="1253.9" r="3.6"/><circle cx="1905.3" cy="1267.4" r="3.6"/><circle cx="1907.8" cy="1272.0" r="3.6"/><circle cx="1908.2" cy="1259.8" r="3.6"/><circle cx="1909.5" cy="1278.3" r="3.6"/><circle cx="1910.6" cy="1244.9" r="3.6"/><circle cx="1912.0" cy="1221.3" r="3.6"/><circle cx="1915.1" cy="1221.7" r="3.6"/><circle cx="1915.4" cy="1187.0" r="3.6"/><circle cx="1916.2" cy="1152.6" r="3.6"/><circle cx="1916.8" cy="1152.9" r="3.6"/><circle cx="1917.8" cy="1176.4" r="3.6"/><circle cx="1918.0" cy="1204.7" r="3.6"/><circle cx="1918.4" cy="1228.1" r="3.6"/><circle cx="1921.2" cy="1191.3" r="3.6"/><circle cx="1921.8" cy="1199.7" r="3.6"/><circle cx="1922.1" cy="1223.2" r="3.6"/><circle cx="1922.7" cy="1211.6" r="3.6"/><circle cx="1922.8" cy="1193.3" r="3.6"/><circle cx="1926.0" cy="1202.1" r="3.6"/><circle cx="1926.6" cy="1217.4" r="3.6"/><circle cx="1927.7" cy="1233.0" r="3.6"/><circle cx="1929.2" cy="1237.4" r="3.6"/><circle cx="1934.3" cy="1257.5" r="3.6"/><circle cx="1936.4" cy="1273.9" r="3.6"/><circle cx="1939.7" cy="1263.2" r="3.6"/><circle cx="1940.6" cy="1256.1" r="3.6"/><circle cx="1941.2" cy="1264.6" r="3.6"/><circle cx="1941.3" cy="1248.9" r="3.6"/><circle cx="1942.8" cy="1262.9" r="3.6"/><circle cx="1945.4" cy="1279.8" r="3.6"/><circle cx="1947.7" cy="1291.0" r="3.6"/><circle cx="1948.2" cy="1263.5" r="3.6"/><circle cx="1951.0" cy="1267.2" r="3.6"/><circle cx="1952.2" cy="1263.0" r="3.6"/><circle cx="1953.4" cy="1283.3" r="3.6"/><circle cx="1954.7" cy="1240.4" r="3.6"/><circle cx="1960.5" cy="1233.1" r="3.6"/><circle cx="1960.7" cy="1232.4" r="3.6"/><circle cx="1961.1" cy="1242.5" r="3.6"/><circle cx="1966.1" cy="1229.7" r="3.6"/><circle cx="1966.9" cy="1253.4" r="3.6"/><circle cx="1967.9" cy="1244.4" r="3.6"/><circle cx="1968.0" cy="1271.9" r="3.6"/><circle cx="1968.7" cy="1271.2" r="3.6"/><circle cx="1972.6" cy="1234.7" r="3.6"/><circle cx="1976.1" cy="1226.4" r="3.6"/><circle cx="1977.4" cy="1229.1" r="3.6"/><circle cx="1979.7" cy="1254.9" r="3.6"/><circle cx="1980.2" cy="1251.3" r="3.6"/><circle cx="1981.7" cy="1240.6" r="3.6"/><circle cx="1982.2" cy="1218.8" r="3.6"/><circle cx="1982.2" cy="1221.3" r="3.6"/><circle cx="1983.4" cy="1225.3" r="3.6"/><circle cx="1983.6" cy="1253.9" r="3.6"/><circle cx="1983.8" cy="1253.3" r="3.6"/><circle cx="1984.2" cy="1221.1" r="3.6"/><circle cx="1986.7" cy="1182.5" r="3.6"/><circle cx="1987.0" cy="1180.3" r="3.6"/><circle cx="1987.4" cy="1196.8" r="3.6"/><circle cx="1991.9" cy="1171.7" r="3.6"/><circle cx="1997.1" cy="1170.2" r="3.6"/><circle cx="1998.6" cy="1178.4" r="3.6"/><circle cx="2001.8" cy="1208.7" r="3.6"/><circle cx="2002.6" cy="1183.2" r="3.6"/><circle cx="2004.7" cy="1203.2" r="3.6"/><circle cx="2004.8" cy="1187.8" r="3.6"/><circle cx="2005.7" cy="1189.7" r="3.6"/><circle cx="2006.0" cy="1199.2" r="3.6"/><circle cx="2009.3" cy="1196.1" r="3.6"/><circle cx="2009.9" cy="1241.8" r="3.6"/><circle cx="2013.9" cy="1227.7" r="3.6"/><circle cx="2014.4" cy="1208.5" r="3.6"/><circle cx="2014.9" cy="1194.0" r="3.6"/><circle cx="2015.9" cy="1208.1" r="3.6"/><circle cx="2016.2" cy="1234.1" r="3.6"/><circle cx="2018.5" cy="1230.8" r="3.6"/><circle cx="2021.5" cy="1240.7" r="3.6"/><circle cx="2023.4" cy="1224.7" r="3.6"/><circle cx="2023.8" cy="1220.8" r="3.6"/><circle cx="2024.1" cy="1209.5" r="3.6"/><circle cx="2024.9" cy="1174.4" r="3.6"/><circle cx="2024.9" cy="1180.9" r="3.6"/><circle cx="2027.2" cy="1187.9" r="3.6"/><circle cx="2032.2" cy="1184.8" r="3.6"/><circle cx="2036.4" cy="1168.2" r="3.6"/><circle cx="2037.5" cy="1159.6" r="3.6"/><circle cx="2038.7" cy="1161.4" r="3.6"/><circle cx="2042.1" cy="1138.8" r="3.6"/><circle cx="2047.4" cy="1134.5" r="3.6"/><circle cx="2048.2" cy="1146.1" r="3.6"/><circle cx="2048.8" cy="1163.4" r="3.6"/><circle cx="2052.8" cy="1178.4" r="3.6"/><circle cx="2053.7" cy="1146.8" r="3.6"/><circle cx="2059.0" cy="1141.0" r="3.6"/><circle cx="2060.3" cy="1099.6" r="3.6"/><circle cx="2061.7" cy="1135.1" r="3.6"/><circle cx="2063.4" cy="1119.7" r="3.6"/><circle cx="2063.6" cy="1143.2" r="3.6"/><circle cx="2064.7" cy="1120.6" r="3.6"/><circle cx="2065.9" cy="1141.7" r="3.6"/><circle cx="2067.2" cy="1120.4" r="3.6"/><circle cx="2067.9" cy="1120.5" r="3.6"/><circle cx="2068.5" cy="1117.1" r="3.6"/><circle cx="2071.4" cy="1122.5" r="3.6"/><circle cx="2072.0" cy="1113.7" r="3.6"/><circle cx="2072.3" cy="1129.5" r="3.6"/><circle cx="2072.7" cy="1145.3" r="3.6"/><circle cx="2076.8" cy="1151.1" r="3.6"/><circle cx="2076.8" cy="1150.8" r="3.6"/><circle cx="2079.3" cy="1112.1" r="3.6"/><circle cx="2080.1" cy="1099.7" r="3.6"/><circle cx="2080.6" cy="1065.0" r="3.6"/><circle cx="2082.0" cy="1078.4" r="3.6"/><circle cx="2083.6" cy="1089.0" r="3.6"/><circle cx="2085.5" cy="1068.5" r="3.6"/><circle cx="2090.1" cy="1062.3" r="3.6"/><circle cx="2093.1" cy="1058.7" r="3.6"/><circle cx="2094.3" cy="1069.4" r="3.6"/><circle cx="2096.0" cy="1060.9" r="3.6"/><circle cx="2096.2" cy="1054.5" r="3.6"/><circle cx="2098.0" cy="1057.0" r="3.6"/><circle cx="2099.7" cy="1056.6" r="3.6"/><circle cx="2101.7" cy="1041.5" r="3.6"/><circle cx="2103.5" cy="1088.8" r="3.6"/><circle cx="2104.0" cy="1073.5" r="3.6"/><circle cx="2106.1" cy="1112.7" r="3.6"/><circle cx="2108.7" cy="1102.4" r="3.6"/><circle cx="2108.8" cy="1082.1" r="3.6"/><circle cx="2110.1" cy="1071.9" r="3.6"/><circle cx="2110.2" cy="1064.4" r="3.6"/><circle cx="2110.3" cy="1082.1" r="3.6"/><circle cx="2110.9" cy="1107.6" r="3.6"/><circle cx="2111.4" cy="1096.2" r="3.6"/><circle cx="2111.7" cy="1081.5" r="3.6"/><circle cx="2112.1" cy="1099.2" r="3.6"/><circle cx="2117.0" cy="1089.3" r="3.6"/><circle cx="2119.9" cy="1037.9" r="3.6"/><circle cx="2120.0" cy="1039.5" r="3.6"/><circle cx="2120.9" cy="1013.4" r="3.6"/><circle cx="2122.0" cy="1013.0" r="3.6"/><circle cx="2123.0" cy="1016.6" r="3.6"/><circle cx="2123.2" cy="1010.1" r="3.6"/><circle cx="2125.7" cy="1024.6" r="3.6"/><circle cx="2131.4" cy="1069.3" r="3.6"/><circle cx="2134.0" cy="1072.7" r="3.6"/><circle cx="2135.5" cy="1100.2" r="3.6"/><circle cx="2137.0" cy="1106.5" r="3.6"/><circle cx="2137.5" cy="1110.8" r="3.6"/><circle cx="2139.1" cy="1150.0" r="3.6"/><circle cx="2141.0" cy="1120.5" r="3.6"/><circle cx="2141.3" cy="1134.0" r="3.6"/><circle cx="2144.0" cy="1132.7" r="3.6"/><circle cx="2147.7" cy="1139.6" r="3.6"/><circle cx="2149.2" cy="1137.7" r="3.6"/><circle cx="2151.9" cy="1148.9" r="3.6"/><circle cx="2151.9" cy="1154.5" r="3.6"/><circle cx="2152.9" cy="1136.6" r="3.6"/><circle cx="2154.9" cy="1144.0" r="3.6"/><circle cx="2155.6" cy="1121.4" r="3.6"/><circle cx="2156.5" cy="1153.9" r="3.6"/><circle cx="2158.4" cy="1173.2" r="3.6"/><circle cx="2162.9" cy="1172.5" r="3.6"/><circle cx="2166.6" cy="1155.8" r="3.6"/><circle cx="2172.2" cy="1168.4" r="3.6"/><circle cx="2172.9" cy="1166.5" r="3.6"/><circle cx="2177.9" cy="1148.2" r="3.6"/><circle cx="2180.7" cy="1141.0" r="3.6"/><circle cx="2181.4" cy="1150.8" r="3.6"/><circle cx="2182.6" cy="1168.9" r="3.6"/><circle cx="2182.8" cy="1141.8" r="3.6"/><circle cx="2183.6" cy="1100.3" r="3.6"/><circle cx="2185.5" cy="1105.7" r="3.6"/><circle cx="2185.7" cy="1087.4" r="3.6"/><circle cx="2186.4" cy="1102.9" r="3.6"/><circle cx="2188.1" cy="1108.7" r="3.6"/><circle cx="2190.2" cy="1149.4" r="3.6"/><circle cx="2192.3" cy="1128.6" r="3.6"/><circle cx="2192.3" cy="1149.7" r="3.6"/><circle cx="2192.9" cy="1144.4" r="3.6"/><circle cx="2193.7" cy="1125.8" r="3.6"/><circle cx="2193.8" cy="1126.7" r="3.6"/><circle cx="2197.1" cy="1134.3" r="3.6"/><circle cx="2200.2" cy="1168.0" r="3.6"/><circle cx="2200.5" cy="1173.2" r="3.6"/><circle cx="2201.3" cy="1159.1" r="3.6"/><circle cx="2201.7" cy="1205.9" r="3.6"/><circle cx="2204.2" cy="1184.9" r="3.6"/><circle cx="2205.0" cy="1187.5" r="3.6"/><circle cx="2206.1" cy="1186.3" r="3.6"/><circle cx="2206.6" cy="1181.1" r="3.6"/><circle cx="2207.7" cy="1189.0" r="3.6"/><circle cx="2212.1" cy="1208.2" r="3.6"/><circle cx="2212.1" cy="1180.6" r="3.6"/><circle cx="2212.9" cy="1179.7" r="3.6"/><circle cx="2214.7" cy="1176.0" r="3.6"/><circle cx="2215.4" cy="1166.1" r="3.6"/><circle cx="2215.5" cy="1140.5" r="3.6"/><circle cx="2216.7" cy="1133.9" r="3.6"/><circle cx="2219.1" cy="1140.3" r="3.6"/><circle cx="2219.4" cy="1154.7" r="3.6"/><circle cx="2220.5" cy="1166.1" r="3.6"/><circle cx="2220.7" cy="1178.3" r="3.6"/><circle cx="2222.0" cy="1179.0" r="3.6"/><circle cx="2224.8" cy="1178.7" r="3.6"/><circle cx="2226.6" cy="1175.0" r="3.6"/><circle cx="2227.3" cy="1187.4" r="3.6"/><circle cx="2230.2" cy="1201.6" r="3.6"/><circle cx="2232.8" cy="1199.4" r="3.6"/><circle cx="2234.5" cy="1217.6" r="3.6"/><circle cx="2239.1" cy="1210.4" r="3.6"/><circle cx="2240.9" cy="1196.0" r="3.6"/><circle cx="2241.4" cy="1207.7" r="3.6"/><circle cx="2241.8" cy="1195.3" r="3.6"/><circle cx="2243.6" cy="1173.5" r="3.6"/><circle cx="2244.2" cy="1198.5" r="3.6"/><circle cx="2244.3" cy="1209.5" r="3.6"/><circle cx="2247.6" cy="1214.2" r="3.6"/><circle cx="2249.6" cy="1211.7" r="3.6"/><circle cx="2250.2" cy="1244.6" r="3.6"/><circle cx="2251.2" cy="1245.9" r="3.6"/><circle cx="2254.4" cy="1263.9" r="3.6"/><circle cx="2257.0" cy="1239.7" r="3.6"/><circle cx="2257.8" cy="1239.9" r="3.6"/><circle cx="2259.6" cy="1250.2" r="3.6"/><circle cx="2259.8" cy="1254.4" r="3.6"/><circle cx="2260.4" cy="1251.9" r="3.6"/><circle cx="2262.8" cy="1265.6" r="3.6"/><circle cx="2263.1" cy="1272.5" r="3.6"/><circle cx="2265.6" cy="1271.8" r="3.6"/><circle cx="2266.0" cy="1294.3" r="3.6"/><circle cx="2268.7" cy="1282.1" r="3.6"/><circle cx="2268.7" cy="1256.5" r="3.6"/><circle cx="2268.9" cy="1250.3" r="3.6"/><circle cx="2269.7" cy="1282.3" r="3.6"/><circle cx="2271.6" cy="1305.7" r="3.6"/><circle cx="2273.0" cy="1292.9" r="3.6"/><circle cx="2274.3" cy="1292.8" r="3.6"/><circle cx="2276.3" cy="1302.0" r="3.6"/><circle cx="2276.4" cy="1296.5" r="3.6"/><circle cx="2277.3" cy="1294.1" r="3.6"/><circle cx="2278.1" cy="1306.9" r="3.6"/><circle cx="2278.5" cy="1338.4" r="3.6"/><circle cx="2279.8" cy="1328.1" r="3.6"/><circle cx="2280.9" cy="1303.4" r="3.6"/><circle cx="2281.7" cy="1283.3" r="3.6"/><circle cx="2283.7" cy="1282.2" r="3.6"/><circle cx="2287.4" cy="1276.1" r="3.6"/><circle cx="2289.5" cy="1288.4" r="3.6"/><circle cx="2289.9" cy="1290.6" r="3.6"/><circle cx="2292.0" cy="1312.9" r="3.6"/><circle cx="2292.9" cy="1319.1" r="3.6"/><circle cx="2294.2" cy="1323.4" r="3.6"/><circle cx="2294.3" cy="1286.8" r="3.6"/><circle cx="2294.8" cy="1283.5" r="3.6"/><circle cx="2295.4" cy="1270.1" r="3.6"/><circle cx="2296.3" cy="1277.7" r="3.6"/><circle cx="2300.3" cy="1272.7" r="3.6"/><circle cx="2300.5" cy="1278.8" r="3.6"/><circle cx="2305.1" cy="1272.2" r="3.6"/><circle cx="2307.1" cy="1272.6" r="3.6"/><circle cx="2309.0" cy="1284.7" r="3.6"/><circle cx="2314.5" cy="1310.2" r="3.6"/><circle cx="2314.5" cy="1278.3" r="3.6"/><circle cx="2316.0" cy="1299.6" r="3.6"/><circle cx="2316.2" cy="1294.3" r="3.6"/><circle cx="2319.3" cy="1269.7" r="3.6"/><circle cx="2319.4" cy="1268.6" r="3.6"/><circle cx="2320.8" cy="1244.4" r="3.6"/><circle cx="2322.1" cy="1268.9" r="3.6"/><circle cx="2323.6" cy="1276.0" r="3.6"/><circle cx="2323.8" cy="1249.7" r="3.6"/><circle cx="2324.2" cy="1263.4" r="3.6"/><circle cx="2325.1" cy="1270.7" r="3.6"/><circle cx="2325.7" cy="1283.3" r="3.6"/><circle cx="2325.9" cy="1286.2" r="3.6"/><circle cx="2326.3" cy="1297.5" r="3.6"/><circle cx="2326.4" cy="1280.0" r="3.6"/><circle cx="2327.6" cy="1298.4" r="3.6"/><circle cx="2331.2" cy="1290.1" r="3.6"/><circle cx="2332.2" cy="1300.6" r="3.6"/><circle cx="2332.8" cy="1298.2" r="3.6"/><circle cx="2336.3" cy="1293.3" r="3.6"/><circle cx="2337.4" cy="1283.5" r="3.6"/><circle cx="2337.6" cy="1299.3" r="3.6"/><circle cx="2337.9" cy="1301.2" r="3.6"/><circle cx="2340.3" cy="1276.8" r="3.6"/><circle cx="2341.6" cy="1254.7" r="3.6"/><circle cx="2341.9" cy="1219.8" r="3.6"/><circle cx="2342.0" cy="1232.4" r="3.6"/><circle cx="2343.9" cy="1219.1" r="3.6"/><circle cx="2344.3" cy="1244.0" r="3.6"/><circle cx="2344.4" cy="1232.1" r="3.6"/><circle cx="2345.5" cy="1265.4" r="3.6"/><circle cx="2347.1" cy="1258.6" r="3.6"/><circle cx="2348.7" cy="1240.5" r="3.6"/><circle cx="2349.7" cy="1232.6" r="3.6"/><circle cx="2349.7" cy="1241.6" r="3.6"/><circle cx="2350.1" cy="1249.7" r="3.6"/><circle cx="2351.2" cy="1256.7" r="3.6"/><circle cx="2351.9" cy="1239.1" r="3.6"/><circle cx="2354.9" cy="1236.3" r="3.6"/><circle cx="2356.2" cy="1229.8" r="3.6"/><circle cx="2359.4" cy="1235.9" r="3.6"/><circle cx="2359.7" cy="1223.1" r="3.6"/><circle cx="2360.2" cy="1227.2" r="3.6"/><circle cx="2362.9" cy="1242.0" r="3.6"/><circle cx="2363.3" cy="1278.9" r="3.6"/><circle cx="2364.2" cy="1306.6" r="3.6"/><circle cx="2365.6" cy="1300.6" r="3.6"/><circle cx="2365.6" cy="1281.8" r="3.6"/><circle cx="2367.4" cy="1246.8" r="3.6"/><circle cx="2367.9" cy="1234.3" r="3.6"/><circle cx="2368.1" cy="1207.0" r="3.6"/><circle cx="2373.7" cy="1233.8" r="3.6"/><circle cx="2374.7" cy="1244.6" r="3.6"/><circle cx="2376.0" cy="1233.1" r="3.6"/><circle cx="2376.9" cy="1236.7" r="3.6"/><circle cx="2377.5" cy="1233.1" r="3.6"/><circle cx="2378.6" cy="1229.5" r="3.6"/><circle cx="2379.4" cy="1257.9" r="3.6"/><circle cx="2380.1" cy="1231.4" r="3.6"/><circle cx="2384.2" cy="1228.6" r="3.6"/><circle cx="2384.6" cy="1250.8" r="3.6"/><circle cx="2384.9" cy="1251.6" r="3.6"/><circle cx="2390.3" cy="1228.2" r="3.6"/><circle cx="2391.1" cy="1235.2" r="3.6"/><circle cx="2391.8" cy="1232.1" r="3.6"/><circle cx="2392.6" cy="1210.4" r="3.6"/><circle cx="2393.5" cy="1208.9" r="3.6"/><circle cx="2398.1" cy="1232.9" r="3.6"/><circle cx="2401.3" cy="1300.8" r="3.6"/><circle cx="2403.0" cy="1314.5" r="3.6"/><circle cx="2404.8" cy="1293.6" r="3.6"/><circle cx="2405.6" cy="1269.8" r="3.6"/><circle cx="2407.7" cy="1291.5" r="3.6"/><circle cx="2409.5" cy="1307.4" r="3.6"/><circle cx="2409.6" cy="1284.5" r="3.6"/><circle cx="2409.9" cy="1301.7" r="3.6"/><circle cx="2413.0" cy="1261.7" r="3.6"/><circle cx="2413.0" cy="1256.3" r="3.6"/><circle cx="2415.2" cy="1256.7" r="3.6"/><circle cx="2416.4" cy="1217.6" r="3.6"/><circle cx="2416.5" cy="1243.9" r="3.6"/><circle cx="2417.0" cy="1274.0" r="3.6"/><circle cx="2418.9" cy="1286.0" r="3.6"/><circle cx="2418.9" cy="1278.9" r="3.6"/><circle cx="2419.7" cy="1294.9" r="3.6"/><circle cx="2420.7" cy="1312.9" r="3.6"/></g>
<g fill="#8fa5c4"><ellipse cx="1791.3" cy="1434.1" rx="3.8" ry="5.2"/><ellipse cx="1792.2" cy="1456.5" rx="3.8" ry="5.2"/><ellipse cx="1792.6" cy="1475.0" rx="3.8" ry="5.2"/><ellipse cx="1794.4" cy="1528.0" rx="3.8" ry="5.2"/><ellipse cx="1794.7" cy="1568.9" rx="3.8" ry="5.2"/><ellipse cx="1796.5" cy="1550.6" rx="3.8" ry="5.2"/><ellipse cx="1796.6" cy="1521.5" rx="3.8" ry="5.2"/><ellipse cx="1798.6" cy="1558.9" rx="3.8" ry="5.2"/><ellipse cx="1800.5" cy="1588.8" rx="3.8" ry="5.2"/><ellipse cx="1801.7" cy="1594.3" rx="3.8" ry="5.2"/><ellipse cx="1802.7" cy="1587.2" rx="3.8" ry="5.2"/><ellipse cx="1803.3" cy="1542.8" rx="3.8" ry="5.2"/><ellipse cx="1803.9" cy="1596.7" rx="3.8" ry="5.2"/><ellipse cx="1804.8" cy="1571.7" rx="3.8" ry="5.2"/><ellipse cx="1805.1" cy="1588.0" rx="3.8" ry="5.2"/><ellipse cx="1806.1" cy="1589.9" rx="3.8" ry="5.2"/><ellipse cx="1806.5" cy="1557.8" rx="3.8" ry="5.2"/><ellipse cx="1806.6" cy="1579.4" rx="3.8" ry="5.2"/><ellipse cx="1808.7" cy="1615.7" rx="3.8" ry="5.2"/><ellipse cx="1809.4" cy="1614.2" rx="3.8" ry="5.2"/><ellipse cx="1810.0" cy="1621.1" rx="3.8" ry="5.2"/><ellipse cx="1811.6" cy="1638.7" rx="3.8" ry="5.2"/><ellipse cx="1814.3" cy="1655.7" rx="3.8" ry="5.2"/><ellipse cx="1814.8" cy="1676.0" rx="3.8" ry="5.2"/><ellipse cx="1814.9" cy="1637.9" rx="3.8" ry="5.2"/><ellipse cx="1815.2" cy="1594.4" rx="3.8" ry="5.2"/><ellipse cx="1816.6" cy="1571.8" rx="3.8" ry="5.2"/><ellipse cx="1817.1" cy="1513.7" rx="3.8" ry="5.2"/><ellipse cx="1817.2" cy="1472.5" rx="3.8" ry="5.2"/><ellipse cx="1819.0" cy="1488.2" rx="3.8" ry="5.2"/><ellipse cx="1821.2" cy="1459.7" rx="3.8" ry="5.2"/><ellipse cx="1821.2" cy="1455.1" rx="3.8" ry="5.2"/><ellipse cx="1821.8" cy="1499.6" rx="3.8" ry="5.2"/><ellipse cx="1824.7" cy="1533.7" rx="3.8" ry="5.2"/><ellipse cx="1825.2" cy="1547.9" rx="3.8" ry="5.2"/><ellipse cx="1827.4" cy="1533.5" rx="3.8" ry="5.2"/><ellipse cx="1827.8" cy="1511.2" rx="3.8" ry="5.2"/><ellipse cx="1828.0" cy="1482.6" rx="3.8" ry="5.2"/><ellipse cx="1829.5" cy="1516.1" rx="3.8" ry="5.2"/><ellipse cx="1829.8" cy="1477.7" rx="3.8" ry="5.2"/><ellipse cx="1829.8" cy="1452.6" rx="3.8" ry="5.2"/><ellipse cx="1832.3" cy="1493.0" rx="3.8" ry="5.2"/><ellipse cx="1832.7" cy="1514.8" rx="3.8" ry="5.2"/><ellipse cx="1833.2" cy="1525.0" rx="3.8" ry="5.2"/><ellipse cx="1833.7" cy="1508.6" rx="3.8" ry="5.2"/><ellipse cx="1835.0" cy="1540.9" rx="3.8" ry="5.2"/><ellipse cx="1835.6" cy="1528.4" rx="3.8" ry="5.2"/><ellipse cx="1836.7" cy="1520.7" rx="3.8" ry="5.2"/><ellipse cx="1837.3" cy="1510.3" rx="3.8" ry="5.2"/><ellipse cx="1840.9" cy="1557.6" rx="3.8" ry="5.2"/><ellipse cx="1841.4" cy="1606.6" rx="3.8" ry="5.2"/><ellipse cx="1842.0" cy="1597.6" rx="3.8" ry="5.2"/><ellipse cx="1842.1" cy="1552.7" rx="3.8" ry="5.2"/><ellipse cx="1843.4" cy="1567.1" rx="3.8" ry="5.2"/><ellipse cx="1844.9" cy="1582.2" rx="3.8" ry="5.2"/><ellipse cx="1845.6" cy="1607.6" rx="3.8" ry="5.2"/><ellipse cx="1846.8" cy="1602.8" rx="3.8" ry="5.2"/><ellipse cx="1849.4" cy="1565.4" rx="3.8" ry="5.2"/><ellipse cx="1850.1" cy="1577.3" rx="3.8" ry="5.2"/><ellipse cx="1851.4" cy="1587.4" rx="3.8" ry="5.2"/><ellipse cx="1852.6" cy="1535.3" rx="3.8" ry="5.2"/><ellipse cx="1856.5" cy="1525.1" rx="3.8" ry="5.2"/><ellipse cx="1857.2" cy="1511.6" rx="3.8" ry="5.2"/><ellipse cx="1857.5" cy="1482.5" rx="3.8" ry="5.2"/><ellipse cx="1857.9" cy="1507.1" rx="3.8" ry="5.2"/><ellipse cx="1859.0" cy="1534.8" rx="3.8" ry="5.2"/><ellipse cx="1860.0" cy="1563.1" rx="3.8" ry="5.2"/><ellipse cx="1860.8" cy="1551.8" rx="3.8" ry="5.2"/><ellipse cx="1861.1" cy="1522.1" rx="3.8" ry="5.2"/><ellipse cx="1861.7" cy="1566.4" rx="3.8" ry="5.2"/><ellipse cx="1863.6" cy="1548.4" rx="3.8" ry="5.2"/><ellipse cx="1864.1" cy="1534.3" rx="3.8" ry="5.2"/><ellipse cx="1867.0" cy="1598.9" rx="3.8" ry="5.2"/><ellipse cx="1869.7" cy="1523.7" rx="3.8" ry="5.2"/><ellipse cx="1870.5" cy="1516.2" rx="3.8" ry="5.2"/><ellipse cx="1871.5" cy="1500.2" rx="3.8" ry="5.2"/><ellipse cx="1871.8" cy="1496.8" rx="3.8" ry="5.2"/><ellipse cx="1872.6" cy="1566.1" rx="3.8" ry="5.2"/><ellipse cx="1873.1" cy="1559.3" rx="3.8" ry="5.2"/><ellipse cx="1873.2" cy="1561.8" rx="3.8" ry="5.2"/><ellipse cx="1874.5" cy="1561.4" rx="3.8" ry="5.2"/><ellipse cx="1876.8" cy="1560.7" rx="3.8" ry="5.2"/><ellipse cx="1877.4" cy="1575.2" rx="3.8" ry="5.2"/><ellipse cx="1877.6" cy="1628.4" rx="3.8" ry="5.2"/><ellipse cx="1878.1" cy="1618.8" rx="3.8" ry="5.2"/><ellipse cx="1878.8" cy="1595.8" rx="3.8" ry="5.2"/><ellipse cx="1879.3" cy="1588.6" rx="3.8" ry="5.2"/><ellipse cx="1879.6" cy="1522.0" rx="3.8" ry="5.2"/><ellipse cx="1880.8" cy="1537.5" rx="3.8" ry="5.2"/><ellipse cx="1885.7" cy="1525.9" rx="3.8" ry="5.2"/><ellipse cx="1888.2" cy="1472.3" rx="3.8" ry="5.2"/><ellipse cx="1888.9" cy="1500.8" rx="3.8" ry="5.2"/><ellipse cx="1890.3" cy="1503.4" rx="3.8" ry="5.2"/><ellipse cx="1891.8" cy="1475.8" rx="3.8" ry="5.2"/><ellipse cx="1891.9" cy="1508.9" rx="3.8" ry="5.2"/><ellipse cx="1892.7" cy="1509.8" rx="3.8" ry="5.2"/><ellipse cx="1892.9" cy="1475.0" rx="3.8" ry="5.2"/><ellipse cx="1895.8" cy="1503.5" rx="3.8" ry="5.2"/><ellipse cx="1896.4" cy="1494.5" rx="3.8" ry="5.2"/><ellipse cx="1896.5" cy="1506.2" rx="3.8" ry="5.2"/><ellipse cx="1900.8" cy="1464.8" rx="3.8" ry="5.2"/><ellipse cx="1903.9" cy="1442.8" rx="3.8" ry="5.2"/><ellipse cx="1904.1" cy="1433.3" rx="3.8" ry="5.2"/><ellipse cx="1904.2" cy="1439.6" rx="3.8" ry="5.2"/><ellipse cx="1904.8" cy="1455.3" rx="3.8" ry="5.2"/><ellipse cx="1905.2" cy="1495.2" rx="3.8" ry="5.2"/><ellipse cx="1909.5" cy="1565.2" rx="3.8" ry="5.2"/><ellipse cx="1909.9" cy="1576.5" rx="3.8" ry="5.2"/><ellipse cx="1910.2" cy="1563.0" rx="3.8" ry="5.2"/><ellipse cx="1913.0" cy="1606.1" rx="3.8" ry="5.2"/><ellipse cx="1913.6" cy="1612.3" rx="3.8" ry="5.2"/><ellipse cx="1916.0" cy="1621.0" rx="3.8" ry="5.2"/><ellipse cx="1916.9" cy="1594.3" rx="3.8" ry="5.2"/><ellipse cx="1919.4" cy="1583.2" rx="3.8" ry="5.2"/><ellipse cx="1919.8" cy="1566.5" rx="3.8" ry="5.2"/><ellipse cx="1920.9" cy="1550.7" rx="3.8" ry="5.2"/><ellipse cx="1921.0" cy="1562.6" rx="3.8" ry="5.2"/><ellipse cx="1923.6" cy="1552.7" rx="3.8" ry="5.2"/><ellipse cx="1925.8" cy="1545.5" rx="3.8" ry="5.2"/><ellipse cx="1925.8" cy="1563.2" rx="3.8" ry="5.2"/><ellipse cx="1927.5" cy="1631.2" rx="3.8" ry="5.2"/><ellipse cx="1928.8" cy="1572.4" rx="3.8" ry="5.2"/><ellipse cx="1929.4" cy="1561.9" rx="3.8" ry="5.2"/><ellipse cx="1931.9" cy="1594.5" rx="3.8" ry="5.2"/><ellipse cx="1937.1" cy="1573.2" rx="3.8" ry="5.2"/><ellipse cx="1937.6" cy="1599.9" rx="3.8" ry="5.2"/><ellipse cx="1939.4" cy="1620.0" rx="3.8" ry="5.2"/><ellipse cx="1940.5" cy="1612.6" rx="3.8" ry="5.2"/><ellipse cx="1940.6" cy="1596.0" rx="3.8" ry="5.2"/><ellipse cx="1940.8" cy="1593.8" rx="3.8" ry="5.2"/><ellipse cx="1944.6" cy="1560.8" rx="3.8" ry="5.2"/><ellipse cx="1944.6" cy="1532.1" rx="3.8" ry="5.2"/><ellipse cx="1947.8" cy="1549.5" rx="3.8" ry="5.2"/><ellipse cx="1949.0" cy="1519.7" rx="3.8" ry="5.2"/><ellipse cx="1949.4" cy="1504.7" rx="3.8" ry="5.2"/><ellipse cx="1949.9" cy="1448.7" rx="3.8" ry="5.2"/><ellipse cx="1951.3" cy="1511.2" rx="3.8" ry="5.2"/><ellipse cx="1954.7" cy="1515.1" rx="3.8" ry="5.2"/><ellipse cx="1956.1" cy="1503.2" rx="3.8" ry="5.2"/><ellipse cx="1956.7" cy="1533.7" rx="3.8" ry="5.2"/><ellipse cx="1957.2" cy="1521.3" rx="3.8" ry="5.2"/><ellipse cx="1957.3" cy="1526.8" rx="3.8" ry="5.2"/><ellipse cx="1957.4" cy="1523.7" rx="3.8" ry="5.2"/><ellipse cx="1959.0" cy="1536.6" rx="3.8" ry="5.2"/><ellipse cx="1959.7" cy="1558.0" rx="3.8" ry="5.2"/><ellipse cx="1959.8" cy="1504.2" rx="3.8" ry="5.2"/><ellipse cx="1961.1" cy="1552.9" rx="3.8" ry="5.2"/><ellipse cx="1963.5" cy="1587.0" rx="3.8" ry="5.2"/><ellipse cx="1964.2" cy="1544.5" rx="3.8" ry="5.2"/><ellipse cx="1964.7" cy="1569.5" rx="3.8" ry="5.2"/><ellipse cx="1965.7" cy="1571.0" rx="3.8" ry="5.2"/><ellipse cx="1966.7" cy="1567.5" rx="3.8" ry="5.2"/><ellipse cx="1967.5" cy="1589.7" rx="3.8" ry="5.2"/><ellipse cx="1968.3" cy="1615.4" rx="3.8" ry="5.2"/><ellipse cx="1969.2" cy="1641.2" rx="3.8" ry="5.2"/><ellipse cx="1973.6" cy="1683.5" rx="3.8" ry="5.2"/><ellipse cx="1975.3" cy="1715.9" rx="3.8" ry="5.2"/><ellipse cx="1976.3" cy="1687.6" rx="3.8" ry="5.2"/><ellipse cx="1976.3" cy="1612.3" rx="3.8" ry="5.2"/><ellipse cx="1977.0" cy="1662.9" rx="3.8" ry="5.2"/><ellipse cx="1978.5" cy="1595.0" rx="3.8" ry="5.2"/><ellipse cx="1980.0" cy="1572.9" rx="3.8" ry="5.2"/><ellipse cx="1981.1" cy="1547.5" rx="3.8" ry="5.2"/><ellipse cx="1982.1" cy="1515.2" rx="3.8" ry="5.2"/><ellipse cx="1983.3" cy="1582.7" rx="3.8" ry="5.2"/><ellipse cx="1988.1" cy="1566.3" rx="3.8" ry="5.2"/><ellipse cx="1990.9" cy="1565.1" rx="3.8" ry="5.2"/><ellipse cx="1992.6" cy="1581.6" rx="3.8" ry="5.2"/><ellipse cx="1993.2" cy="1570.1" rx="3.8" ry="5.2"/><ellipse cx="1994.2" cy="1619.9" rx="3.8" ry="5.2"/><ellipse cx="1994.8" cy="1661.1" rx="3.8" ry="5.2"/><ellipse cx="1995.4" cy="1659.0" rx="3.8" ry="5.2"/><ellipse cx="1996.1" cy="1638.2" rx="3.8" ry="5.2"/><ellipse cx="1997.2" cy="1661.6" rx="3.8" ry="5.2"/><ellipse cx="1997.2" cy="1594.5" rx="3.8" ry="5.2"/><ellipse cx="1997.3" cy="1538.8" rx="3.8" ry="5.2"/><ellipse cx="1997.8" cy="1531.9" rx="3.8" ry="5.2"/><ellipse cx="2000.3" cy="1481.7" rx="3.8" ry="5.2"/><ellipse cx="2001.6" cy="1496.2" rx="3.8" ry="5.2"/><ellipse cx="2002.5" cy="1526.4" rx="3.8" ry="5.2"/><ellipse cx="2003.5" cy="1532.1" rx="3.8" ry="5.2"/><ellipse cx="2004.0" cy="1552.7" rx="3.8" ry="5.2"/><ellipse cx="2005.6" cy="1545.7" rx="3.8" ry="5.2"/><ellipse cx="2006.7" cy="1591.3" rx="3.8" ry="5.2"/><ellipse cx="2006.9" cy="1622.4" rx="3.8" ry="5.2"/><ellipse cx="2011.5" cy="1630.0" rx="3.8" ry="5.2"/><ellipse cx="2012.3" cy="1628.0" rx="3.8" ry="5.2"/><ellipse cx="2017.8" cy="1655.1" rx="3.8" ry="5.2"/><ellipse cx="2019.1" cy="1659.2" rx="3.8" ry="5.2"/><ellipse cx="2019.6" cy="1661.3" rx="3.8" ry="5.2"/><ellipse cx="2021.3" cy="1655.4" rx="3.8" ry="5.2"/><ellipse cx="2022.2" cy="1639.0" rx="3.8" ry="5.2"/><ellipse cx="2026.0" cy="1608.7" rx="3.8" ry="5.2"/><ellipse cx="2027.6" cy="1622.4" rx="3.8" ry="5.2"/><ellipse cx="2027.8" cy="1617.8" rx="3.8" ry="5.2"/><ellipse cx="2028.2" cy="1605.7" rx="3.8" ry="5.2"/><ellipse cx="2028.4" cy="1649.3" rx="3.8" ry="5.2"/><ellipse cx="2029.4" cy="1595.8" rx="3.8" ry="5.2"/><ellipse cx="2029.9" cy="1618.1" rx="3.8" ry="5.2"/><ellipse cx="2030.1" cy="1584.6" rx="3.8" ry="5.2"/><ellipse cx="2032.2" cy="1587.0" rx="3.8" ry="5.2"/><ellipse cx="2033.5" cy="1546.8" rx="3.8" ry="5.2"/><ellipse cx="2035.1" cy="1559.4" rx="3.8" ry="5.2"/><ellipse cx="2035.1" cy="1551.3" rx="3.8" ry="5.2"/><ellipse cx="2035.5" cy="1525.2" rx="3.8" ry="5.2"/><ellipse cx="2036.5" cy="1502.6" rx="3.8" ry="5.2"/><ellipse cx="2037.0" cy="1495.3" rx="3.8" ry="5.2"/><ellipse cx="2038.2" cy="1494.6" rx="3.8" ry="5.2"/><ellipse cx="2042.5" cy="1517.1" rx="3.8" ry="5.2"/><ellipse cx="2042.5" cy="1569.5" rx="3.8" ry="5.2"/><ellipse cx="2043.9" cy="1511.2" rx="3.8" ry="5.2"/><ellipse cx="2044.8" cy="1526.2" rx="3.8" ry="5.2"/><ellipse cx="2044.9" cy="1500.5" rx="3.8" ry="5.2"/><ellipse cx="2045.2" cy="1503.8" rx="3.8" ry="5.2"/><ellipse cx="2049.0" cy="1527.9" rx="3.8" ry="5.2"/><ellipse cx="2053.9" cy="1550.6" rx="3.8" ry="5.2"/><ellipse cx="2055.5" cy="1559.8" rx="3.8" ry="5.2"/><ellipse cx="2055.7" cy="1563.4" rx="3.8" ry="5.2"/><ellipse cx="2058.8" cy="1601.9" rx="3.8" ry="5.2"/><ellipse cx="2058.8" cy="1596.0" rx="3.8" ry="5.2"/><ellipse cx="2060.3" cy="1580.1" rx="3.8" ry="5.2"/><ellipse cx="2062.2" cy="1613.7" rx="3.8" ry="5.2"/><ellipse cx="2063.4" cy="1557.7" rx="3.8" ry="5.2"/><ellipse cx="2064.8" cy="1539.8" rx="3.8" ry="5.2"/><ellipse cx="2066.7" cy="1564.4" rx="3.8" ry="5.2"/><ellipse cx="2067.5" cy="1559.0" rx="3.8" ry="5.2"/><ellipse cx="2070.0" cy="1501.6" rx="3.8" ry="5.2"/><ellipse cx="2070.5" cy="1522.3" rx="3.8" ry="5.2"/><ellipse cx="2070.6" cy="1542.8" rx="3.8" ry="5.2"/><ellipse cx="2071.0" cy="1507.2" rx="3.8" ry="5.2"/><ellipse cx="2072.0" cy="1473.5" rx="3.8" ry="5.2"/><ellipse cx="2072.1" cy="1457.2" rx="3.8" ry="5.2"/><ellipse cx="2072.6" cy="1477.3" rx="3.8" ry="5.2"/><ellipse cx="2073.2" cy="1468.4" rx="3.8" ry="5.2"/><ellipse cx="2075.8" cy="1453.2" rx="3.8" ry="5.2"/><ellipse cx="2077.4" cy="1482.2" rx="3.8" ry="5.2"/><ellipse cx="2077.5" cy="1498.3" rx="3.8" ry="5.2"/><ellipse cx="2078.0" cy="1447.8" rx="3.8" ry="5.2"/><ellipse cx="2079.3" cy="1440.0" rx="3.8" ry="5.2"/><ellipse cx="2080.0" cy="1445.0" rx="3.8" ry="5.2"/><ellipse cx="2085.2" cy="1448.9" rx="3.8" ry="5.2"/><ellipse cx="2085.4" cy="1460.5" rx="3.8" ry="5.2"/><ellipse cx="2087.8" cy="1478.0" rx="3.8" ry="5.2"/><ellipse cx="2090.5" cy="1546.9" rx="3.8" ry="5.2"/><ellipse cx="2091.5" cy="1563.6" rx="3.8" ry="5.2"/><ellipse cx="2095.0" cy="1596.0" rx="3.8" ry="5.2"/><ellipse cx="2096.4" cy="1535.3" rx="3.8" ry="5.2"/><ellipse cx="2096.5" cy="1520.8" rx="3.8" ry="5.2"/><ellipse cx="2097.4" cy="1552.9" rx="3.8" ry="5.2"/><ellipse cx="2097.7" cy="1531.3" rx="3.8" ry="5.2"/><ellipse cx="2097.8" cy="1568.0" rx="3.8" ry="5.2"/><ellipse cx="2099.3" cy="1587.7" rx="3.8" ry="5.2"/><ellipse cx="2099.5" cy="1599.8" rx="3.8" ry="5.2"/><ellipse cx="2099.6" cy="1581.5" rx="3.8" ry="5.2"/><ellipse cx="2103.0" cy="1556.9" rx="3.8" ry="5.2"/><ellipse cx="2104.3" cy="1513.9" rx="3.8" ry="5.2"/><ellipse cx="2105.2" cy="1508.5" rx="3.8" ry="5.2"/><ellipse cx="2106.0" cy="1484.0" rx="3.8" ry="5.2"/><ellipse cx="2106.5" cy="1517.4" rx="3.8" ry="5.2"/><ellipse cx="2107.7" cy="1495.8" rx="3.8" ry="5.2"/><ellipse cx="2108.5" cy="1483.5" rx="3.8" ry="5.2"/><ellipse cx="2110.7" cy="1447.4" rx="3.8" ry="5.2"/><ellipse cx="2111.2" cy="1477.0" rx="3.8" ry="5.2"/><ellipse cx="2112.5" cy="1476.3" rx="3.8" ry="5.2"/><ellipse cx="2120.1" cy="1522.6" rx="3.8" ry="5.2"/><ellipse cx="2121.4" cy="1578.6" rx="3.8" ry="5.2"/><ellipse cx="2123.1" cy="1576.0" rx="3.8" ry="5.2"/><ellipse cx="2124.8" cy="1565.3" rx="3.8" ry="5.2"/><ellipse cx="2127.1" cy="1568.9" rx="3.8" ry="5.2"/><ellipse cx="2128.1" cy="1584.9" rx="3.8" ry="5.2"/><ellipse cx="2129.7" cy="1578.5" rx="3.8" ry="5.2"/><ellipse cx="2131.1" cy="1544.9" rx="3.8" ry="5.2"/><ellipse cx="2131.2" cy="1562.9" rx="3.8" ry="5.2"/><ellipse cx="2132.7" cy="1535.9" rx="3.8" ry="5.2"/><ellipse cx="2132.7" cy="1525.9" rx="3.8" ry="5.2"/><ellipse cx="2133.2" cy="1512.6" rx="3.8" ry="5.2"/><ellipse cx="2133.4" cy="1445.9" rx="3.8" ry="5.2"/><ellipse cx="2134.0" cy="1480.9" rx="3.8" ry="5.2"/><ellipse cx="2134.4" cy="1543.4" rx="3.8" ry="5.2"/><ellipse cx="2134.9" cy="1518.6" rx="3.8" ry="5.2"/><ellipse cx="2135.6" cy="1506.8" rx="3.8" ry="5.2"/><ellipse cx="2137.1" cy="1537.6" rx="3.8" ry="5.2"/><ellipse cx="2137.2" cy="1500.7" rx="3.8" ry="5.2"/><ellipse cx="2137.4" cy="1502.3" rx="3.8" ry="5.2"/><ellipse cx="2137.8" cy="1508.3" rx="3.8" ry="5.2"/><ellipse cx="2138.6" cy="1506.1" rx="3.8" ry="5.2"/><ellipse cx="2140.9" cy="1503.2" rx="3.8" ry="5.2"/><ellipse cx="2141.6" cy="1483.6" rx="3.8" ry="5.2"/><ellipse cx="2142.2" cy="1455.5" rx="3.8" ry="5.2"/><ellipse cx="2144.4" cy="1491.6" rx="3.8" ry="5.2"/><ellipse cx="2145.7" cy="1454.4" rx="3.8" ry="5.2"/><ellipse cx="2146.3" cy="1461.1" rx="3.8" ry="5.2"/><ellipse cx="2150.5" cy="1455.2" rx="3.8" ry="5.2"/><ellipse cx="2151.8" cy="1473.0" rx="3.8" ry="5.2"/><ellipse cx="2153.1" cy="1471.3" rx="3.8" ry="5.2"/><ellipse cx="2155.5" cy="1463.4" rx="3.8" ry="5.2"/><ellipse cx="2155.6" cy="1481.7" rx="3.8" ry="5.2"/><ellipse cx="2155.8" cy="1436.5" rx="3.8" ry="5.2"/><ellipse cx="2159.8" cy="1394.3" rx="3.8" ry="5.2"/><ellipse cx="2160.8" cy="1427.8" rx="3.8" ry="5.2"/><ellipse cx="2161.1" cy="1484.8" rx="3.8" ry="5.2"/><ellipse cx="2162.9" cy="1482.2" rx="3.8" ry="5.2"/><ellipse cx="2164.3" cy="1487.7" rx="3.8" ry="5.2"/><ellipse cx="2164.3" cy="1462.7" rx="3.8" ry="5.2"/><ellipse cx="2165.0" cy="1474.2" rx="3.8" ry="5.2"/><ellipse cx="2165.4" cy="1481.8" rx="3.8" ry="5.2"/><ellipse cx="2166.1" cy="1515.3" rx="3.8" ry="5.2"/><ellipse cx="2166.2" cy="1489.2" rx="3.8" ry="5.2"/><ellipse cx="2168.0" cy="1559.2" rx="3.8" ry="5.2"/><ellipse cx="2169.8" cy="1520.8" rx="3.8" ry="5.2"/><ellipse cx="2170.1" cy="1586.4" rx="3.8" ry="5.2"/><ellipse cx="2171.4" cy="1551.3" rx="3.8" ry="5.2"/><ellipse cx="2175.3" cy="1585.2" rx="3.8" ry="5.2"/><ellipse cx="2175.5" cy="1626.0" rx="3.8" ry="5.2"/><ellipse cx="2177.8" cy="1670.9" rx="3.8" ry="5.2"/><ellipse cx="2178.5" cy="1661.3" rx="3.8" ry="5.2"/><ellipse cx="2178.9" cy="1601.5" rx="3.8" ry="5.2"/><ellipse cx="2181.4" cy="1624.1" rx="3.8" ry="5.2"/><ellipse cx="2185.8" cy="1591.7" rx="3.8" ry="5.2"/><ellipse cx="2189.2" cy="1555.5" rx="3.8" ry="5.2"/><ellipse cx="2189.9" cy="1544.7" rx="3.8" ry="5.2"/><ellipse cx="2190.8" cy="1522.6" rx="3.8" ry="5.2"/><ellipse cx="2193.2" cy="1551.8" rx="3.8" ry="5.2"/><ellipse cx="2193.3" cy="1558.3" rx="3.8" ry="5.2"/><ellipse cx="2193.9" cy="1575.2" rx="3.8" ry="5.2"/><ellipse cx="2195.7" cy="1579.8" rx="3.8" ry="5.2"/><ellipse cx="2196.1" cy="1569.8" rx="3.8" ry="5.2"/><ellipse cx="2196.9" cy="1568.2" rx="3.8" ry="5.2"/><ellipse cx="2198.2" cy="1614.6" rx="3.8" ry="5.2"/><ellipse cx="2199.6" cy="1664.3" rx="3.8" ry="5.2"/><ellipse cx="2199.7" cy="1670.1" rx="3.8" ry="5.2"/><ellipse cx="2199.9" cy="1642.6" rx="3.8" ry="5.2"/><ellipse cx="2201.9" cy="1592.4" rx="3.8" ry="5.2"/><ellipse cx="2203.7" cy="1582.3" rx="3.8" ry="5.2"/><ellipse cx="2204.3" cy="1570.7" rx="3.8" ry="5.2"/><ellipse cx="2206.5" cy="1575.6" rx="3.8" ry="5.2"/><ellipse cx="2207.8" cy="1544.9" rx="3.8" ry="5.2"/><ellipse cx="2207.9" cy="1529.8" rx="3.8" ry="5.2"/><ellipse cx="2208.4" cy="1528.9" rx="3.8" ry="5.2"/><ellipse cx="2209.3" cy="1525.6" rx="3.8" ry="5.2"/><ellipse cx="2215.2" cy="1495.1" rx="3.8" ry="5.2"/><ellipse cx="2215.4" cy="1523.7" rx="3.8" ry="5.2"/><ellipse cx="2216.9" cy="1507.1" rx="3.8" ry="5.2"/><ellipse cx="2217.2" cy="1519.5" rx="3.8" ry="5.2"/><ellipse cx="2218.5" cy="1483.1" rx="3.8" ry="5.2"/><ellipse cx="2220.0" cy="1499.0" rx="3.8" ry="5.2"/><ellipse cx="2220.6" cy="1479.8" rx="3.8" ry="5.2"/><ellipse cx="2220.8" cy="1527.7" rx="3.8" ry="5.2"/><ellipse cx="2221.5" cy="1532.6" rx="3.8" ry="5.2"/><ellipse cx="2221.9" cy="1585.6" rx="3.8" ry="5.2"/><ellipse cx="2222.5" cy="1539.8" rx="3.8" ry="5.2"/><ellipse cx="2224.3" cy="1508.0" rx="3.8" ry="5.2"/><ellipse cx="2225.6" cy="1485.3" rx="3.8" ry="5.2"/><ellipse cx="2228.3" cy="1483.6" rx="3.8" ry="5.2"/><ellipse cx="2228.6" cy="1515.2" rx="3.8" ry="5.2"/><ellipse cx="2230.1" cy="1535.8" rx="3.8" ry="5.2"/><ellipse cx="2231.1" cy="1561.6" rx="3.8" ry="5.2"/><ellipse cx="2231.2" cy="1528.6" rx="3.8" ry="5.2"/><ellipse cx="2236.7" cy="1579.3" rx="3.8" ry="5.2"/><ellipse cx="2237.4" cy="1577.5" rx="3.8" ry="5.2"/><ellipse cx="2239.9" cy="1570.5" rx="3.8" ry="5.2"/><ellipse cx="2241.5" cy="1497.1" rx="3.8" ry="5.2"/><ellipse cx="2241.8" cy="1486.6" rx="3.8" ry="5.2"/><ellipse cx="2242.0" cy="1487.3" rx="3.8" ry="5.2"/><ellipse cx="2242.1" cy="1539.7" rx="3.8" ry="5.2"/><ellipse cx="2243.0" cy="1546.8" rx="3.8" ry="5.2"/><ellipse cx="2243.5" cy="1540.3" rx="3.8" ry="5.2"/><ellipse cx="2245.9" cy="1582.7" rx="3.8" ry="5.2"/><ellipse cx="2246.1" cy="1621.8" rx="3.8" ry="5.2"/><ellipse cx="2246.7" cy="1617.4" rx="3.8" ry="5.2"/><ellipse cx="2247.9" cy="1636.5" rx="3.8" ry="5.2"/><ellipse cx="2248.2" cy="1656.5" rx="3.8" ry="5.2"/><ellipse cx="2248.7" cy="1617.1" rx="3.8" ry="5.2"/><ellipse cx="2250.9" cy="1620.6" rx="3.8" ry="5.2"/><ellipse cx="2251.9" cy="1601.3" rx="3.8" ry="5.2"/><ellipse cx="2254.4" cy="1566.4" rx="3.8" ry="5.2"/><ellipse cx="2255.0" cy="1592.1" rx="3.8" ry="5.2"/><ellipse cx="2255.4" cy="1626.5" rx="3.8" ry="5.2"/><ellipse cx="2255.5" cy="1657.0" rx="3.8" ry="5.2"/><ellipse cx="2256.9" cy="1657.6" rx="3.8" ry="5.2"/><ellipse cx="2258.0" cy="1687.9" rx="3.8" ry="5.2"/><ellipse cx="2258.8" cy="1665.7" rx="3.8" ry="5.2"/><ellipse cx="2260.4" cy="1592.0" rx="3.8" ry="5.2"/><ellipse cx="2260.9" cy="1572.5" rx="3.8" ry="5.2"/><ellipse cx="2260.9" cy="1585.1" rx="3.8" ry="5.2"/><ellipse cx="2261.7" cy="1549.2" rx="3.8" ry="5.2"/><ellipse cx="2264.1" cy="1635.5" rx="3.8" ry="5.2"/><ellipse cx="2264.4" cy="1660.1" rx="3.8" ry="5.2"/><ellipse cx="2266.3" cy="1644.3" rx="3.8" ry="5.2"/><ellipse cx="2266.5" cy="1687.2" rx="3.8" ry="5.2"/><ellipse cx="2266.8" cy="1674.7" rx="3.8" ry="5.2"/><ellipse cx="2267.0" cy="1716.6" rx="3.8" ry="5.2"/><ellipse cx="2268.0" cy="1701.8" rx="3.8" ry="5.2"/><ellipse cx="2269.2" cy="1680.2" rx="3.8" ry="5.2"/><ellipse cx="2269.8" cy="1673.5" rx="3.8" ry="5.2"/><ellipse cx="2270.9" cy="1669.3" rx="3.8" ry="5.2"/><ellipse cx="2271.7" cy="1675.7" rx="3.8" ry="5.2"/><ellipse cx="2271.7" cy="1708.6" rx="3.8" ry="5.2"/><ellipse cx="2272.0" cy="1707.9" rx="3.8" ry="5.2"/><ellipse cx="2272.2" cy="1696.7" rx="3.8" ry="5.2"/><ellipse cx="2274.0" cy="1649.1" rx="3.8" ry="5.2"/><ellipse cx="2275.4" cy="1637.3" rx="3.8" ry="5.2"/><ellipse cx="2276.8" cy="1650.0" rx="3.8" ry="5.2"/><ellipse cx="2277.6" cy="1606.7" rx="3.8" ry="5.2"/><ellipse cx="2277.7" cy="1583.4" rx="3.8" ry="5.2"/><ellipse cx="2278.2" cy="1539.6" rx="3.8" ry="5.2"/><ellipse cx="2278.7" cy="1560.0" rx="3.8" ry="5.2"/><ellipse cx="2280.1" cy="1568.1" rx="3.8" ry="5.2"/><ellipse cx="2281.0" cy="1586.6" rx="3.8" ry="5.2"/><ellipse cx="2281.0" cy="1581.3" rx="3.8" ry="5.2"/><ellipse cx="2281.5" cy="1575.7" rx="3.8" ry="5.2"/><ellipse cx="2281.5" cy="1531.3" rx="3.8" ry="5.2"/><ellipse cx="2282.6" cy="1537.9" rx="3.8" ry="5.2"/><ellipse cx="2282.8" cy="1573.2" rx="3.8" ry="5.2"/><ellipse cx="2283.9" cy="1559.6" rx="3.8" ry="5.2"/><ellipse cx="2286.9" cy="1555.8" rx="3.8" ry="5.2"/><ellipse cx="2288.2" cy="1559.4" rx="3.8" ry="5.2"/><ellipse cx="2288.9" cy="1531.3" rx="3.8" ry="5.2"/><ellipse cx="2289.1" cy="1581.3" rx="3.8" ry="5.2"/><ellipse cx="2289.6" cy="1594.9" rx="3.8" ry="5.2"/><ellipse cx="2290.2" cy="1539.7" rx="3.8" ry="5.2"/><ellipse cx="2296.6" cy="1504.1" rx="3.8" ry="5.2"/><ellipse cx="2298.2" cy="1550.6" rx="3.8" ry="5.2"/><ellipse cx="2298.9" cy="1530.5" rx="3.8" ry="5.2"/><ellipse cx="2299.6" cy="1525.1" rx="3.8" ry="5.2"/><ellipse cx="2301.3" cy="1490.0" rx="3.8" ry="5.2"/><ellipse cx="2301.8" cy="1509.4" rx="3.8" ry="5.2"/><ellipse cx="2302.5" cy="1480.5" rx="3.8" ry="5.2"/><ellipse cx="2302.9" cy="1477.0" rx="3.8" ry="5.2"/><ellipse cx="2302.9" cy="1459.4" rx="3.8" ry="5.2"/><ellipse cx="2304.0" cy="1537.9" rx="3.8" ry="5.2"/><ellipse cx="2304.3" cy="1601.9" rx="3.8" ry="5.2"/><ellipse cx="2308.5" cy="1592.3" rx="3.8" ry="5.2"/><ellipse cx="2308.7" cy="1616.4" rx="3.8" ry="5.2"/><ellipse cx="2309.5" cy="1631.3" rx="3.8" ry="5.2"/><ellipse cx="2311.5" cy="1617.0" rx="3.8" ry="5.2"/><ellipse cx="2311.9" cy="1602.0" rx="3.8" ry="5.2"/><ellipse cx="2312.8" cy="1609.5" rx="3.8" ry="5.2"/><ellipse cx="2313.0" cy="1611.5" rx="3.8" ry="5.2"/><ellipse cx="2315.3" cy="1581.1" rx="3.8" ry="5.2"/><ellipse cx="2316.3" cy="1550.7" rx="3.8" ry="5.2"/><ellipse cx="2316.6" cy="1592.7" rx="3.8" ry="5.2"/><ellipse cx="2318.3" cy="1533.5" rx="3.8" ry="5.2"/><ellipse cx="2319.8" cy="1598.9" rx="3.8" ry="5.2"/><ellipse cx="2320.0" cy="1560.1" rx="3.8" ry="5.2"/><ellipse cx="2321.2" cy="1575.8" rx="3.8" ry="5.2"/><ellipse cx="2324.6" cy="1593.8" rx="3.8" ry="5.2"/><ellipse cx="2325.9" cy="1579.7" rx="3.8" ry="5.2"/><ellipse cx="2327.6" cy="1579.9" rx="3.8" ry="5.2"/><ellipse cx="2330.9" cy="1566.8" rx="3.8" ry="5.2"/><ellipse cx="2331.2" cy="1568.5" rx="3.8" ry="5.2"/><ellipse cx="2332.2" cy="1588.9" rx="3.8" ry="5.2"/><ellipse cx="2334.2" cy="1559.1" rx="3.8" ry="5.2"/><ellipse cx="2335.0" cy="1572.2" rx="3.8" ry="5.2"/><ellipse cx="2336.0" cy="1585.8" rx="3.8" ry="5.2"/><ellipse cx="2336.2" cy="1595.8" rx="3.8" ry="5.2"/><ellipse cx="2337.3" cy="1574.0" rx="3.8" ry="5.2"/><ellipse cx="2338.1" cy="1608.9" rx="3.8" ry="5.2"/><ellipse cx="2338.7" cy="1642.8" rx="3.8" ry="5.2"/><ellipse cx="2339.0" cy="1613.0" rx="3.8" ry="5.2"/><ellipse cx="2343.9" cy="1575.3" rx="3.8" ry="5.2"/><ellipse cx="2345.0" cy="1542.7" rx="3.8" ry="5.2"/><ellipse cx="2348.9" cy="1555.2" rx="3.8" ry="5.2"/><ellipse cx="2350.4" cy="1594.4" rx="3.8" ry="5.2"/><ellipse cx="2351.0" cy="1617.2" rx="3.8" ry="5.2"/><ellipse cx="2352.9" cy="1614.7" rx="3.8" ry="5.2"/><ellipse cx="2353.6" cy="1604.6" rx="3.8" ry="5.2"/><ellipse cx="2353.9" cy="1614.4" rx="3.8" ry="5.2"/><ellipse cx="2355.2" cy="1613.2" rx="3.8" ry="5.2"/><ellipse cx="2355.5" cy="1573.2" rx="3.8" ry="5.2"/><ellipse cx="2356.8" cy="1521.5" rx="3.8" ry="5.2"/><ellipse cx="2358.9" cy="1541.2" rx="3.8" ry="5.2"/><ellipse cx="2360.0" cy="1501.4" rx="3.8" ry="5.2"/><ellipse cx="2360.5" cy="1565.7" rx="3.8" ry="5.2"/><ellipse cx="2363.8" cy="1622.9" rx="3.8" ry="5.2"/><ellipse cx="2364.3" cy="1597.7" rx="3.8" ry="5.2"/><ellipse cx="2365.0" cy="1573.5" rx="3.8" ry="5.2"/><ellipse cx="2367.0" cy="1554.4" rx="3.8" ry="5.2"/><ellipse cx="2371.6" cy="1527.6" rx="3.8" ry="5.2"/><ellipse cx="2371.9" cy="1541.9" rx="3.8" ry="5.2"/><ellipse cx="2372.5" cy="1573.0" rx="3.8" ry="5.2"/><ellipse cx="2372.9" cy="1553.0" rx="3.8" ry="5.2"/><ellipse cx="2374.9" cy="1542.3" rx="3.8" ry="5.2"/><ellipse cx="2375.0" cy="1511.2" rx="3.8" ry="5.2"/><ellipse cx="2375.4" cy="1554.3" rx="3.8" ry="5.2"/><ellipse cx="2375.9" cy="1584.8" rx="3.8" ry="5.2"/><ellipse cx="2378.6" cy="1560.8" rx="3.8" ry="5.2"/><ellipse cx="2378.7" cy="1560.3" rx="3.8" ry="5.2"/><ellipse cx="2379.2" cy="1559.9" rx="3.8" ry="5.2"/><ellipse cx="2387.3" cy="1509.3" rx="3.8" ry="5.2"/><ellipse cx="2387.5" cy="1492.9" rx="3.8" ry="5.2"/><ellipse cx="2388.1" cy="1506.8" rx="3.8" ry="5.2"/><ellipse cx="2389.6" cy="1486.7" rx="3.8" ry="5.2"/><ellipse cx="2392.6" cy="1501.4" rx="3.8" ry="5.2"/><ellipse cx="2393.1" cy="1506.3" rx="3.8" ry="5.2"/><ellipse cx="2396.4" cy="1500.1" rx="3.8" ry="5.2"/><ellipse cx="2397.7" cy="1513.3" rx="3.8" ry="5.2"/><ellipse cx="2400.8" cy="1507.0" rx="3.8" ry="5.2"/><ellipse cx="2400.9" cy="1539.0" rx="3.8" ry="5.2"/><ellipse cx="2401.7" cy="1516.1" rx="3.8" ry="5.2"/><ellipse cx="2402.0" cy="1542.0" rx="3.8" ry="5.2"/><ellipse cx="2402.1" cy="1530.4" rx="3.8" ry="5.2"/><ellipse cx="2403.3" cy="1539.8" rx="3.8" ry="5.2"/><ellipse cx="2404.3" cy="1560.6" rx="3.8" ry="5.2"/><ellipse cx="2405.8" cy="1596.9" rx="3.8" ry="5.2"/><ellipse cx="2407.2" cy="1636.7" rx="3.8" ry="5.2"/><ellipse cx="2408.7" cy="1581.9" rx="3.8" ry="5.2"/><ellipse cx="2408.7" cy="1574.8" rx="3.8" ry="5.2"/><ellipse cx="2409.3" cy="1536.5" rx="3.8" ry="5.2"/><ellipse cx="2410.8" cy="1565.0" rx="3.8" ry="5.2"/><ellipse cx="2411.1" cy="1614.5" rx="3.8" ry="5.2"/><ellipse cx="2411.7" cy="1593.8" rx="3.8" ry="5.2"/><ellipse cx="2413.9" cy="1600.7" rx="3.8" ry="5.2"/><ellipse cx="2414.4" cy="1637.3" rx="3.8" ry="5.2"/><ellipse cx="2417.3" cy="1657.7" rx="3.8" ry="5.2"/><ellipse cx="2417.8" cy="1630.0" rx="3.8" ry="5.2"/><ellipse cx="2418.9" cy="1587.0" rx="3.8" ry="5.2"/><ellipse cx="2419.4" cy="1558.3" rx="3.8" ry="5.2"/><ellipse cx="2420.3" cy="1596.0" rx="3.8" ry="5.2"/><ellipse cx="2420.7" cy="1548.0" rx="3.8" ry="5.2"/></g>
<g fill="none" stroke-width="8.6" stroke-linejoin="round" stroke-linecap="round">
<polyline stroke="#e38d9b" points="1791.0,304.1 1793.0,304.0 1795.0,304.0 1797.0,303.9 1799.0,303.8 1801.0,303.8 1803.0,303.7 1805.0,303.7 1807.0,303.6 1809.0,303.5 1811.0,303.5 1813.0,303.4 1815.0,303.3 1817.0,303.3 1819.0,303.2 1821.0,303.1 1823.0,303.0 1825.0,303.0 1827.0,302.9 1829.0,302.8 1831.0,302.7 1833.0,302.6 1835.0,302.5 1837.0,302.5 1839.0,302.4 1841.0,302.3 1843.0,302.2 1845.0,302.1 1847.0,302.0 1849.0,301.9 1851.0,301.8 1853.0,301.7 1855.0,301.6 1857.0,301.5 1859.0,301.4 1861.0,301.3 1863.0,301.2 1865.0,301.1 1867.0,300.9 1869.0,300.8 1871.0,300.7 1873.0,300.6 1875.0,300.4 1877.0,300.3 1879.0,300.2 1881.0,300.0 1883.0,299.9 1885.0,299.7 1887.0,299.6 1889.0,299.4 1891.0,299.3 1893.0,299.1 1895.0,299.0 1897.0,298.8 1899.0,298.6 1901.0,298.5 1903.0,298.3 1905.0,298.1 1907.0,297.9 1909.0,297.7 1911.0,297.5 1913.0,297.3 1915.0,297.1 1917.0,296.9 1919.0,296.7 1921.0,296.5 1923.0,296.2 1925.0,296.0 1927.0,295.7 1929.0,295.5 1931.0,295.2 1933.0,295.0 1935.0,294.7 1937.0,294.4 1939.0,294.1 1941.0,293.8 1943.0,293.5 1945.0,293.2 1947.0,292.9 1949.0,292.5 1951.0,292.2 1953.0,291.9 1955.0,291.5 1957.0,291.1 1959.0,290.7 1961.0,290.3 1963.0,289.9 1965.0,289.5 1967.0,289.0 1969.0,288.6 1971.0,288.1 1973.0,287.6 1975.0,287.1 1977.0,286.6 1979.0,286.0 1981.0,285.5 1983.0,284.9 1985.0,284.3 1987.0,283.7 1989.0,283.0 1991.0,282.4 1993.0,281.7 1995.0,280.9 1997.0,280.2 1999.0,279.4 2001.0,278.6 2003.0,277.8 2005.0,276.9 2007.0,276.0 2009.0,275.1 2011.0,274.1 2013.0,273.1 2015.0,272.0 2017.0,270.9 2019.0,269.7 2021.0,268.5 2023.0,267.3 2025.0,266.0 2027.0,264.6 2029.0,263.2 2031.0,261.7 2033.0,260.1 2035.0,258.5 2037.0,256.8 2039.0,255.0 2041.0,253.1 2043.0,251.2 2045.0,249.1 2047.0,247.0 2049.0,244.7 2051.0,242.4 2053.0,239.9 2055.0,237.4 2057.0,234.7 2059.0,231.9 2061.0,228.9 2063.0,225.8 2065.0,222.6 2067.0,219.2 2069.0,215.6 2071.0,211.9 2073.0,208.1 2075.0,204.1 2077.0,199.9 2079.0,195.5 2081.0,191.0 2083.0,186.3 2085.0,181.4 2087.0,176.4 2089.0,171.2 2091.0,165.9 2093.0,160.5 2095.0,155.0 2097.0,149.5 2099.0,143.9 2101.0,138.3 2103.0,132.7 2105.0,127.3 2107.0,121.9 2109.0,116.8 2111.0,111.9 2113.0,107.4 2115.0,103.2 2117.0,99.5 2119.0,96.2 2121.0,93.5 2123.0,91.4 2125.0,90.0 2127.0,89.2 2129.0,89.0 2131.0,89.6 2133.0,90.8 2135.0,92.6 2137.0,95.1 2139.0,98.1 2141.0,101.7 2143.0,105.7 2145.0,110.1 2147.0,114.8 2149.0,119.9 2151.0,125.1 2153.0,130.5 2155.0,136.0 2157.0,141.6 2159.0,147.2 2161.0,152.8 2163.0,158.3 2165.0,163.8 2167.0,169.1 2169.0,174.3 2171.0,179.4 2173.0,184.3 2175.0,189.1 2177.0,193.7 2179.0,198.1 2181.0,202.4 2183.0,206.5 2185.0,210.4 2187.0,214.2 2189.0,217.8 2191.0,221.2 2193.0,224.5 2195.0,227.7 2197.0,230.7 2199.0,233.6 2201.0,236.3 2203.0,238.9 2205.0,241.4 2207.0,243.8 2209.0,246.1 2211.0,248.3 2213.0,250.4 2215.0,252.3 2217.0,254.2 2219.0,256.1 2221.0,257.8 2223.0,259.5 2225.0,261.0 2227.0,262.6 2229.0,264.0 2231.0,265.4 2233.0,266.7 2235.0,268.0 2237.0,269.2 2239.0,270.4 2241.0,271.6 2243.0,272.6 2245.0,273.7 2247.0,274.7 2249.0,275.6 2251.0,276.5 2253.0,277.4 2255.0,278.3 2257.0,279.1 2259.0,279.9 2261.0,280.6 2263.0,281.4 2265.0,282.1 2267.0,282.8 2269.0,283.4 2271.0,284.1 2273.0,284.7 2275.0,285.2 2277.0,285.8 2279.0,286.4 2281.0,286.9 2283.0,287.4 2285.0,287.9 2287.0,288.4 2289.0,288.8 2291.0,289.3 2293.0,289.7 2295.0,290.2 2297.0,290.6 2299.0,291.0 2301.0,291.3 2303.0,291.7 2305.0,292.1 2307.0,292.4 2309.0,292.8 2311.0,293.1 2313.0,293.4 2315.0,293.7 2317.0,294.0 2319.0,294.3 2321.0,294.6 2323.0,294.9 2325.0,295.1 2327.0,295.4 2329.0,295.6 2331.0,295.9 2333.0,296.1 2335.0,296.4 2337.0,296.6 2339.0,296.8 2341.0,297.0 2343.0,297.2 2345.0,297.4 2347.0,297.6 2349.0,297.8 2351.0,298.0 2353.0,298.2 2355.0,298.4 2357.0,298.6 2359.0,298.7 2361.0,298.9 2363.0,299.1 2365.0,299.2 2367.0,299.4 2369.0,299.5 2371.0,299.7 2373.0,299.8 2375.0,300.0 2377.0,300.1 2379.0,300.3 2381.0,300.4 2383.0,300.5 2385.0,300.6 2387.0,300.8 2389.0,300.9 2391.0,301.0 2393.0,301.1 2395.0,301.2 2397.0,301.3 2399.0,301.5 2401.0,301.6 2403.0,301.7 2405.0,301.8 2407.0,301.9 2409.0,302.0 2411.0,302.1 2413.0,302.2 2415.0,302.2 2417.0,302.3 2419.0,302.4 2421.0,302.5"/>
<polyline stroke="#f2794b" points="1791.0,610.2 1793.0,610.1 1795.0,610.0 1797.0,609.9 1799.0,609.8 1801.0,609.7 1803.0,609.6 1805.0,609.5 1807.0,609.4 1809.0,609.3 1811.0,609.2 1813.0,609.1 1815.0,609.0 1817.0,608.9 1819.0,608.8 1821.0,608.7 1823.0,608.6 1825.0,608.5 1827.0,608.4 1829.0,608.2 1831.0,608.1 1833.0,608.0 1835.0,607.9 1837.0,607.7 1839.0,607.6 1841.0,607.5 1843.0,607.3 1845.0,607.2 1847.0,607.1 1849.0,606.9 1851.0,606.8 1853.0,606.6 1855.0,606.5 1857.0,606.3 1859.0,606.1 1861.0,606.0 1863.0,605.8 1865.0,605.7 1867.0,605.5 1869.0,605.3 1871.0,605.1 1873.0,604.9 1875.0,604.8 1877.0,604.6 1879.0,604.4 1881.0,604.2 1883.0,604.0 1885.0,603.8 1887.0,603.5 1889.0,603.3 1891.0,603.1 1893.0,602.9 1895.0,602.6 1897.0,602.4 1899.0,602.2 1901.0,601.9 1903.0,601.6 1905.0,601.4 1907.0,601.1 1909.0,600.8 1911.0,600.6 1913.0,600.3 1915.0,600.0 1917.0,599.7 1919.0,599.4 1921.0,599.1 1923.0,598.7 1925.0,598.4 1927.0,598.1 1929.0,597.7 1931.0,597.4 1933.0,597.0 1935.0,596.6 1937.0,596.2 1939.0,595.8 1941.0,595.4 1943.0,595.0 1945.0,594.6 1947.0,594.1 1949.0,593.7 1951.0,593.2 1953.0,592.8 1955.0,592.3 1957.0,591.8 1959.0,591.2 1961.0,590.7 1963.0,590.2 1965.0,589.6 1967.0,589.0 1969.0,588.4 1971.0,587.8 1973.0,587.2 1975.0,586.5 1977.0,585.8 1979.0,585.1 1981.0,584.4 1983.0,583.7 1985.0,582.9 1987.0,582.2 1989.0,581.3 1991.0,580.5 1993.0,579.6 1995.0,578.8 1997.0,577.8 1999.0,576.9 2001.0,575.9 2003.0,574.9 2005.0,573.9 2007.0,572.8 2009.0,571.7 2011.0,570.5 2013.0,569.3 2015.0,568.1 2017.0,566.8 2019.0,565.5 2021.0,564.1 2023.0,562.7 2025.0,561.2 2027.0,559.7 2029.0,558.1 2031.0,556.5 2033.0,554.8 2035.0,553.0 2037.0,551.2 2039.0,549.4 2041.0,547.4 2043.0,545.4 2045.0,543.3 2047.0,541.1 2049.0,538.9 2051.0,536.6 2053.0,534.2 2055.0,531.7 2057.0,529.1 2059.0,526.4 2061.0,523.7 2063.0,520.8 2065.0,517.9 2067.0,514.8 2069.0,511.7 2071.0,508.5 2073.0,505.1 2075.0,501.7 2077.0,498.2 2079.0,494.5 2081.0,490.8 2083.0,487.0 2085.0,483.1 2087.0,479.1 2089.0,475.0 2091.0,470.9 2093.0,466.7 2095.0,462.5 2097.0,458.3 2099.0,454.0 2101.0,449.7 2103.0,445.4 2105.0,441.2 2107.0,437.0 2109.0,433.0 2111.0,429.0 2113.0,425.1 2115.0,421.4 2117.0,417.9 2119.0,414.6 2121.0,411.6 2123.0,408.8 2125.0,406.3 2127.0,404.1 2129.0,402.3 2131.0,400.8 2133.0,399.7 2135.0,399.0 2137.0,398.6 2139.0,398.7 2141.0,399.1 2143.0,400.0 2145.0,401.2 2147.0,402.8 2149.0,404.7 2151.0,407.0 2153.0,409.6 2155.0,412.5 2157.0,415.6 2159.0,419.0 2161.0,422.5 2163.0,426.3 2165.0,430.2 2167.0,434.2 2169.0,438.3 2171.0,442.5 2173.0,446.7 2175.0,451.0 2177.0,455.3 2179.0,459.5 2181.0,463.8 2183.0,468.0 2185.0,472.2 2187.0,476.3 2189.0,480.3 2191.0,484.3 2193.0,488.1 2195.0,491.9 2197.0,495.6 2199.0,499.2 2201.0,502.7 2203.0,506.1 2205.0,509.4 2207.0,512.7 2209.0,515.8 2211.0,518.8 2213.0,521.7 2215.0,524.5 2217.0,527.3 2219.0,529.9 2221.0,532.4 2223.0,534.9 2225.0,537.3 2227.0,539.6 2229.0,541.8 2231.0,543.9 2233.0,546.0 2235.0,548.0 2237.0,549.9 2239.0,551.8 2241.0,553.6 2243.0,555.3 2245.0,557.0 2247.0,558.6 2249.0,560.2 2251.0,561.7 2253.0,563.1 2255.0,564.5 2257.0,565.9 2259.0,567.2 2261.0,568.4 2263.0,569.7 2265.0,570.9 2267.0,572.0 2269.0,573.1 2271.0,574.2 2273.0,575.2 2275.0,576.2 2277.0,577.2 2279.0,578.1 2281.0,579.0 2283.0,579.9 2285.0,580.8 2287.0,581.6 2289.0,582.4 2291.0,583.2 2293.0,583.9 2295.0,584.6 2297.0,585.4 2299.0,586.0 2301.0,586.7 2303.0,587.4 2305.0,588.0 2307.0,588.6 2309.0,589.2 2311.0,589.8 2313.0,590.3 2315.0,590.9 2317.0,591.4 2319.0,591.9 2321.0,592.4 2323.0,592.9 2325.0,593.4 2327.0,593.8 2329.0,594.3 2331.0,594.7 2333.0,595.1 2335.0,595.6 2337.0,596.0 2339.0,596.4 2341.0,596.7 2343.0,597.1 2345.0,597.5 2347.0,597.8 2349.0,598.2 2351.0,598.5 2353.0,598.8 2355.0,599.2 2357.0,599.5 2359.0,599.8 2361.0,600.1 2363.0,600.4 2365.0,600.7 2367.0,600.9 2369.0,601.2 2371.0,601.5 2373.0,601.7 2375.0,602.0 2377.0,602.2 2379.0,602.5 2381.0,602.7 2383.0,602.9 2385.0,603.2 2387.0,603.4 2389.0,603.6 2391.0,603.8 2393.0,604.0 2395.0,604.2 2397.0,604.4 2399.0,604.6 2401.0,604.8 2403.0,605.0 2405.0,605.2 2407.0,605.4 2409.0,605.5 2411.0,605.7 2413.0,605.9 2415.0,606.0 2417.0,606.2 2419.0,606.4 2421.0,606.5"/>
<polyline stroke="#559a8f" points="1791.0,920.7 1793.0,920.6 1795.0,920.5 1797.0,920.5 1799.0,920.4 1801.0,920.3 1803.0,920.2 1805.0,920.1 1807.0,920.1 1809.0,920.0 1811.0,919.9 1813.0,919.8 1815.0,919.7 1817.0,919.6 1819.0,919.5 1821.0,919.4 1823.0,919.3 1825.0,919.2 1827.0,919.1 1829.0,919.0 1831.0,918.9 1833.0,918.8 1835.0,918.7 1837.0,918.6 1839.0,918.5 1841.0,918.4 1843.0,918.2 1845.0,918.1 1847.0,918.0 1849.0,917.9 1851.0,917.7 1853.0,917.6 1855.0,917.5 1857.0,917.3 1859.0,917.2 1861.0,917.0 1863.0,916.9 1865.0,916.7 1867.0,916.6 1869.0,916.4 1871.0,916.2 1873.0,916.1 1875.0,915.9 1877.0,915.7 1879.0,915.5 1881.0,915.3 1883.0,915.1 1885.0,914.9 1887.0,914.7 1889.0,914.5 1891.0,914.3 1893.0,914.1 1895.0,913.9 1897.0,913.6 1899.0,913.4 1901.0,913.1 1903.0,912.9 1905.0,912.6 1907.0,912.4 1909.0,912.1 1911.0,911.8 1913.0,911.5 1915.0,911.2 1917.0,910.9 1919.0,910.6 1921.0,910.3 1923.0,909.9 1925.0,909.6 1927.0,909.2 1929.0,908.9 1931.0,908.5 1933.0,908.1 1935.0,907.7 1937.0,907.3 1939.0,906.8 1941.0,906.4 1943.0,905.9 1945.0,905.5 1947.0,905.0 1949.0,904.5 1951.0,903.9 1953.0,903.4 1955.0,902.8 1957.0,902.3 1959.0,901.7 1961.0,901.0 1963.0,900.4 1965.0,899.7 1967.0,899.0 1969.0,898.3 1971.0,897.6 1973.0,896.8 1975.0,896.0 1977.0,895.2 1979.0,894.3 1981.0,893.4 1983.0,892.5 1985.0,891.5 1987.0,890.5 1989.0,889.4 1991.0,888.4 1993.0,887.2 1995.0,886.0 1997.0,884.8 1999.0,883.5 2001.0,882.2 2003.0,880.8 2005.0,879.3 2007.0,877.8 2009.0,876.2 2011.0,874.6 2013.0,872.9 2015.0,871.1 2017.0,869.2 2019.0,867.3 2021.0,865.2 2023.0,863.1 2025.0,860.9 2027.0,858.6 2029.0,856.2 2031.0,853.7 2033.0,851.1 2035.0,848.4 2037.0,845.6 2039.0,842.6 2041.0,839.6 2043.0,836.4 2045.0,833.2 2047.0,829.8 2049.0,826.3 2051.0,822.7 2053.0,819.0 2055.0,815.2 2057.0,811.3 2059.0,807.3 2061.0,803.3 2063.0,799.2 2065.0,795.1 2067.0,791.0 2069.0,786.9 2071.0,782.8 2073.0,778.8 2075.0,774.9 2077.0,771.1 2079.0,767.5 2081.0,764.1 2083.0,760.9 2085.0,758.0 2087.0,755.5 2089.0,753.3 2091.0,751.5 2093.0,750.0 2095.0,749.1 2097.0,748.5 2099.0,748.4 2101.0,748.8 2103.0,749.6 2105.0,750.8 2107.0,752.5 2109.0,754.6 2111.0,757.0 2113.0,759.7 2115.0,762.8 2117.0,766.1 2119.0,769.6 2121.0,773.3 2123.0,777.2 2125.0,781.2 2127.0,785.2 2129.0,789.3 2131.0,793.5 2133.0,797.6 2135.0,801.7 2137.0,805.7 2139.0,809.7 2141.0,813.6 2143.0,817.5 2145.0,821.2 2147.0,824.9 2149.0,828.4 2151.0,831.8 2153.0,835.1 2155.0,838.3 2157.0,841.4 2159.0,844.4 2161.0,847.3 2163.0,850.0 2165.0,852.7 2167.0,855.2 2169.0,857.7 2171.0,860.0 2173.0,862.2 2175.0,864.4 2177.0,866.5 2179.0,868.4 2181.0,870.3 2183.0,872.2 2185.0,873.9 2187.0,875.6 2189.0,877.2 2191.0,878.7 2193.0,880.2 2195.0,881.6 2197.0,883.0 2199.0,884.3 2201.0,885.5 2203.0,886.7 2205.0,887.9 2207.0,889.0 2209.0,890.1 2211.0,891.1 2213.0,892.1 2215.0,893.0 2217.0,893.9 2219.0,894.8 2221.0,895.7 2223.0,896.5 2225.0,897.3 2227.0,898.0 2229.0,898.8 2231.0,899.5 2233.0,900.1 2235.0,900.8 2237.0,901.4 2239.0,902.0 2241.0,902.6 2243.0,903.2 2245.0,903.7 2247.0,904.3 2249.0,904.8 2251.0,905.3 2253.0,905.8 2255.0,906.2 2257.0,906.7 2259.0,907.1 2261.0,907.5 2263.0,907.9 2265.0,908.3 2267.0,908.7 2269.0,909.1 2271.0,909.4 2273.0,909.8 2275.0,910.1 2277.0,910.5 2279.0,910.8 2281.0,911.1 2283.0,911.4 2285.0,911.7 2287.0,912.0 2289.0,912.3 2291.0,912.5 2293.0,912.8 2295.0,913.0 2297.0,913.3 2299.0,913.5 2301.0,913.8 2303.0,914.0 2305.0,914.2 2307.0,914.4 2309.0,914.6 2311.0,914.9 2313.0,915.1 2315.0,915.2 2317.0,915.4 2319.0,915.6 2321.0,915.8 2323.0,916.0 2325.0,916.2 2327.0,916.3 2329.0,916.5 2331.0,916.6 2333.0,916.8 2335.0,917.0 2337.0,917.1 2339.0,917.3 2341.0,917.4 2343.0,917.5 2345.0,917.7 2347.0,917.8 2349.0,917.9 2351.0,918.1 2353.0,918.2 2355.0,918.3 2357.0,918.4 2359.0,918.5 2361.0,918.7 2363.0,918.8 2365.0,918.9 2367.0,919.0 2369.0,919.1 2371.0,919.2 2373.0,919.3 2375.0,919.4 2377.0,919.5 2379.0,919.6 2381.0,919.7 2383.0,919.8 2385.0,919.9 2387.0,919.9 2389.0,920.0 2391.0,920.1 2393.0,920.2 2395.0,920.3 2397.0,920.4 2399.0,920.4 2401.0,920.5 2403.0,920.6 2405.0,920.7 2407.0,920.7 2409.0,920.8 2411.0,920.9 2413.0,920.9 2415.0,921.0 2417.0,921.1 2419.0,921.1 2421.0,921.2"/>
<polyline stroke="#5b88ab" points="1791.0,1271.8 1793.0,1271.7 1795.0,1271.6 1797.0,1271.5 1799.0,1271.4 1801.0,1271.2 1803.0,1271.1 1805.0,1271.0 1807.0,1270.9 1809.0,1270.8 1811.0,1270.7 1813.0,1270.6 1815.0,1270.4 1817.0,1270.3 1819.0,1270.2 1821.0,1270.0 1823.0,1269.9 1825.0,1269.8 1827.0,1269.6 1829.0,1269.5 1831.0,1269.4 1833.0,1269.2 1835.0,1269.1 1837.0,1268.9 1839.0,1268.7 1841.0,1268.6 1843.0,1268.4 1845.0,1268.3 1847.0,1268.1 1849.0,1267.9 1851.0,1267.7 1853.0,1267.6 1855.0,1267.4 1857.0,1267.2 1859.0,1267.0 1861.0,1266.8 1863.0,1266.6 1865.0,1266.4 1867.0,1266.2 1869.0,1266.0 1871.0,1265.7 1873.0,1265.5 1875.0,1265.3 1877.0,1265.0 1879.0,1264.8 1881.0,1264.5 1883.0,1264.3 1885.0,1264.0 1887.0,1263.8 1889.0,1263.5 1891.0,1263.2 1893.0,1262.9 1895.0,1262.6 1897.0,1262.3 1899.0,1262.0 1901.0,1261.7 1903.0,1261.4 1905.0,1261.0 1907.0,1260.7 1909.0,1260.3 1911.0,1260.0 1913.0,1259.6 1915.0,1259.2 1917.0,1258.8 1919.0,1258.4 1921.0,1258.0 1923.0,1257.6 1925.0,1257.1 1927.0,1256.7 1929.0,1256.2 1931.0,1255.8 1933.0,1255.3 1935.0,1254.8 1937.0,1254.2 1939.0,1253.7 1941.0,1253.2 1943.0,1252.6 1945.0,1252.0 1947.0,1251.4 1949.0,1250.8 1951.0,1250.1 1953.0,1249.5 1955.0,1248.8 1957.0,1248.1 1959.0,1247.4 1961.0,1246.6 1963.0,1245.9 1965.0,1245.1 1967.0,1244.2 1969.0,1243.4 1971.0,1242.5 1973.0,1241.6 1975.0,1240.7 1977.0,1239.7 1979.0,1238.7 1981.0,1237.7 1983.0,1236.6 1985.0,1235.5 1987.0,1234.3 1989.0,1233.1 1991.0,1231.9 1993.0,1230.6 1995.0,1229.3 1997.0,1227.9 1999.0,1226.5 2001.0,1225.0 2003.0,1223.5 2005.0,1221.9 2007.0,1220.3 2009.0,1218.5 2011.0,1216.8 2013.0,1215.0 2015.0,1213.1 2017.0,1211.1 2019.0,1209.0 2021.0,1206.9 2023.0,1204.7 2025.0,1202.4 2027.0,1200.1 2029.0,1197.6 2031.0,1195.1 2033.0,1192.5 2035.0,1189.8 2037.0,1187.0 2039.0,1184.1 2041.0,1181.1 2043.0,1178.0 2045.0,1174.8 2047.0,1171.5 2049.0,1168.2 2051.0,1164.7 2053.0,1161.1 2055.0,1157.5 2057.0,1153.7 2059.0,1149.9 2061.0,1146.0 2063.0,1142.1 2065.0,1138.1 2067.0,1134.1 2069.0,1130.0 2071.0,1125.9 2073.0,1121.9 2075.0,1117.8 2077.0,1113.8 2079.0,1109.9 2081.0,1106.0 2083.0,1102.3 2085.0,1098.7 2087.0,1095.3 2089.0,1092.1 2091.0,1089.1 2093.0,1086.3 2095.0,1083.8 2097.0,1081.7 2099.0,1079.8 2101.0,1078.3 2103.0,1077.2 2105.0,1076.4 2107.0,1076.0 2109.0,1076.0 2111.0,1076.4 2113.0,1077.2 2115.0,1078.3 2117.0,1079.8 2119.0,1081.7 2121.0,1083.8 2123.0,1086.3 2125.0,1089.1 2127.0,1092.1 2129.0,1095.3 2131.0,1098.7 2133.0,1102.3 2135.0,1106.0 2137.0,1109.9 2139.0,1113.8 2141.0,1117.8 2143.0,1121.9 2145.0,1125.9 2147.0,1130.0 2149.0,1134.1 2151.0,1138.1 2153.0,1142.1 2155.0,1146.0 2157.0,1149.9 2159.0,1153.7 2161.0,1157.5 2163.0,1161.1 2165.0,1164.7 2167.0,1168.2 2169.0,1171.5 2171.0,1174.8 2173.0,1178.0 2175.0,1181.1 2177.0,1184.1 2179.0,1187.0 2181.0,1189.8 2183.0,1192.5 2185.0,1195.1 2187.0,1197.6 2189.0,1200.1 2191.0,1202.4 2193.0,1204.7 2195.0,1206.9 2197.0,1209.0 2199.0,1211.1 2201.0,1213.1 2203.0,1215.0 2205.0,1216.8 2207.0,1218.5 2209.0,1220.3 2211.0,1221.9 2213.0,1223.5 2215.0,1225.0 2217.0,1226.5 2219.0,1227.9 2221.0,1229.3 2223.0,1230.6 2225.0,1231.9 2227.0,1233.1 2229.0,1234.3 2231.0,1235.5 2233.0,1236.6 2235.0,1237.7 2237.0,1238.7 2239.0,1239.7 2241.0,1240.7 2243.0,1241.6 2245.0,1242.5 2247.0,1243.4 2249.0,1244.2 2251.0,1245.1 2253.0,1245.9 2255.0,1246.6 2257.0,1247.4 2259.0,1248.1 2261.0,1248.8 2263.0,1249.5 2265.0,1250.1 2267.0,1250.8 2269.0,1251.4 2271.0,1252.0 2273.0,1252.6 2275.0,1253.2 2277.0,1253.7 2279.0,1254.2 2281.0,1254.8 2283.0,1255.3 2285.0,1255.8 2287.0,1256.2 2289.0,1256.7 2291.0,1257.1 2293.0,1257.6 2295.0,1258.0 2297.0,1258.4 2299.0,1258.8 2301.0,1259.2 2303.0,1259.6 2305.0,1260.0 2307.0,1260.3 2309.0,1260.7 2311.0,1261.0 2313.0,1261.4 2315.0,1261.7 2317.0,1262.0 2319.0,1262.3 2321.0,1262.6 2323.0,1262.9 2325.0,1263.2 2327.0,1263.5 2329.0,1263.8 2331.0,1264.0 2333.0,1264.3 2335.0,1264.5 2337.0,1264.8 2339.0,1265.0 2341.0,1265.3 2343.0,1265.5 2345.0,1265.7 2347.0,1266.0 2349.0,1266.2 2351.0,1266.4 2353.0,1266.6 2355.0,1266.8 2357.0,1267.0 2359.0,1267.2 2361.0,1267.4 2363.0,1267.6 2365.0,1267.7 2367.0,1267.9 2369.0,1268.1 2371.0,1268.3 2373.0,1268.4 2375.0,1268.6 2377.0,1268.7 2379.0,1268.9 2381.0,1269.1 2383.0,1269.2 2385.0,1269.4 2387.0,1269.5 2389.0,1269.6 2391.0,1269.8 2393.0,1269.9 2395.0,1270.0 2397.0,1270.2 2399.0,1270.3 2401.0,1270.4 2403.0,1270.6 2405.0,1270.7 2407.0,1270.8 2409.0,1270.9 2411.0,1271.0 2413.0,1271.1 2415.0,1271.2 2417.0,1271.4 2419.0,1271.5 2421.0,1271.6"/>
<polyline stroke="#647d96" points="1791.0,1543.8 1793.0,1544.2 1795.0,1544.5 1797.0,1544.8 1799.0,1545.1 1801.0,1545.4 1803.0,1545.7 1805.0,1546.0 1807.0,1546.3 1809.0,1546.6 1811.0,1546.9 1813.0,1547.2 1815.0,1547.5 1817.0,1547.8 1819.0,1548.1 1821.0,1548.4 1823.0,1548.7 1825.0,1549.0 1827.0,1549.3 1829.0,1549.6 1831.0,1549.8 1833.0,1550.1 1835.0,1550.4 1837.0,1550.7 1839.0,1550.9 1841.0,1551.2 1843.0,1551.5 1845.0,1551.7 1847.0,1552.0 1849.0,1552.3 1851.0,1552.5 1853.0,1552.8 1855.0,1553.1 1857.0,1553.3 1859.0,1553.6 1861.0,1553.8 1863.0,1554.1 1865.0,1554.3 1867.0,1554.5 1869.0,1554.8 1871.0,1555.0 1873.0,1555.3 1875.0,1555.5 1877.0,1555.7 1879.0,1556.0 1881.0,1556.2 1883.0,1556.4 1885.0,1556.6 1887.0,1556.9 1889.0,1557.1 1891.0,1557.3 1893.0,1557.5 1895.0,1557.7 1897.0,1558.0 1899.0,1558.2 1901.0,1558.4 1903.0,1558.6 1905.0,1558.8 1907.0,1559.0 1909.0,1559.2 1911.0,1559.4 1913.0,1559.6 1915.0,1559.8 1917.0,1560.0 1919.0,1560.2 1921.0,1560.4 1923.0,1560.5 1925.0,1560.7 1927.0,1560.9 1929.0,1561.1 1931.0,1561.3 1933.0,1561.5 1935.0,1561.6 1937.0,1561.8 1939.0,1562.0 1941.0,1562.1 1943.0,1562.3 1945.0,1562.5 1947.0,1562.6 1949.0,1562.8 1951.0,1562.9 1953.0,1563.1 1955.0,1563.3 1957.0,1563.4 1959.0,1563.6 1961.0,1563.7 1963.0,1563.9 1965.0,1564.0 1967.0,1564.1 1969.0,1564.3 1971.0,1564.4 1973.0,1564.6 1975.0,1564.7 1977.0,1564.8 1979.0,1564.9 1981.0,1565.1 1983.0,1565.2 1985.0,1565.3 1987.0,1565.4 1989.0,1565.6 1991.0,1565.7 1993.0,1565.8 1995.0,1565.9 1997.0,1566.0 1999.0,1566.1 2001.0,1566.2 2003.0,1566.3 2005.0,1566.4 2007.0,1566.5 2009.0,1566.6 2011.0,1566.7 2013.0,1566.8 2015.0,1566.9 2017.0,1567.0 2019.0,1567.1 2021.0,1567.2 2023.0,1567.3 2025.0,1567.4 2027.0,1567.4 2029.0,1567.5 2031.0,1567.6 2033.0,1567.7 2035.0,1567.7 2037.0,1567.8 2039.0,1567.9 2041.0,1568.0 2043.0,1568.0 2045.0,1568.1 2047.0,1568.1 2049.0,1568.2 2051.0,1568.3 2053.0,1568.3 2055.0,1568.4 2057.0,1568.4 2059.0,1568.5 2061.0,1568.5 2063.0,1568.5 2065.0,1568.6 2067.0,1568.6 2069.0,1568.7 2071.0,1568.7 2073.0,1568.7 2075.0,1568.8 2077.0,1568.8 2079.0,1568.8 2081.0,1568.9 2083.0,1568.9 2085.0,1568.9 2087.0,1568.9 2089.0,1568.9 2091.0,1568.9 2093.0,1569.0 2095.0,1569.0 2097.0,1569.0 2099.0,1569.0 2101.0,1569.0 2103.0,1569.0 2105.0,1569.0 2107.0,1569.0 2109.0,1569.0 2111.0,1569.0 2113.0,1569.0 2115.0,1569.0 2117.0,1569.0 2119.0,1569.0 2121.0,1569.0 2123.0,1568.9 2125.0,1568.9 2127.0,1568.9 2129.0,1568.9 2131.0,1568.9 2133.0,1568.8 2135.0,1568.8 2137.0,1568.8 2139.0,1568.8 2141.0,1568.7 2143.0,1568.7 2145.0,1568.7 2147.0,1568.7 2149.0,1568.6 2151.0,1568.6 2153.0,1568.6 2155.0,1568.5 2157.0,1568.5 2159.0,1568.4 2161.0,1568.4 2163.0,1568.3 2165.0,1568.3 2167.0,1568.3 2169.0,1568.2 2171.0,1568.2 2173.0,1568.1 2175.0,1568.0 2177.0,1568.0 2179.0,1567.9 2181.0,1567.9 2183.0,1567.8 2185.0,1567.8 2187.0,1567.7 2189.0,1567.6 2191.0,1567.6 2193.0,1567.5 2195.0,1567.4 2197.0,1567.4 2199.0,1567.3 2201.0,1567.2 2203.0,1567.1 2205.0,1567.1 2207.0,1567.0 2209.0,1566.9 2211.0,1566.8 2213.0,1566.7 2215.0,1566.7 2217.0,1566.6 2219.0,1566.5 2221.0,1566.4 2223.0,1566.3 2225.0,1566.2 2227.0,1566.1 2229.0,1566.0 2231.0,1565.9 2233.0,1565.8 2235.0,1565.7 2237.0,1565.6 2239.0,1565.5 2241.0,1565.4 2243.0,1565.3 2245.0,1565.2 2247.0,1565.1 2249.0,1565.0 2251.0,1564.9 2253.0,1564.8 2255.0,1564.6 2257.0,1564.5 2259.0,1564.4 2261.0,1564.3 2263.0,1564.2 2265.0,1564.0 2267.0,1563.9 2269.0,1563.8 2271.0,1563.7 2273.0,1563.5 2275.0,1563.4 2277.0,1563.3 2279.0,1563.1 2281.0,1563.0 2283.0,1562.9 2285.0,1562.7 2287.0,1562.6 2289.0,1562.4 2291.0,1562.3 2293.0,1562.1 2295.0,1562.0 2297.0,1561.9 2299.0,1561.7 2301.0,1561.5 2303.0,1561.4 2305.0,1561.2 2307.0,1561.1 2309.0,1560.9 2311.0,1560.8 2313.0,1560.6 2315.0,1560.4 2317.0,1560.3 2319.0,1560.1 2321.0,1560.0 2323.0,1559.8 2325.0,1559.6 2327.0,1559.4 2329.0,1559.3 2331.0,1559.1 2333.0,1558.9 2335.0,1558.7 2337.0,1558.6 2339.0,1558.4 2341.0,1558.2 2343.0,1558.0 2345.0,1557.8 2347.0,1557.6 2349.0,1557.5 2351.0,1557.3 2353.0,1557.1 2355.0,1556.9 2357.0,1556.7 2359.0,1556.5 2361.0,1556.3 2363.0,1556.1 2365.0,1555.9 2367.0,1555.7 2369.0,1555.5 2371.0,1555.3 2373.0,1555.1 2375.0,1554.9 2377.0,1554.7 2379.0,1554.4 2381.0,1554.2 2383.0,1554.0 2385.0,1553.8 2387.0,1553.6 2389.0,1553.4 2391.0,1553.1 2393.0,1552.9 2395.0,1552.7 2397.0,1552.5 2399.0,1552.2 2401.0,1552.0 2403.0,1551.8 2405.0,1551.5 2407.0,1551.3 2409.0,1551.1 2411.0,1550.8 2413.0,1550.6 2415.0,1550.4 2417.0,1550.1 2419.0,1549.9 2421.0,1549.6"/>
</g>
<line x1="2099.5" y1="35.5" x2="2097" y2="1749" stroke="#6e806a" stroke-width="5" stroke-dasharray="22 9.5 33 10 33 10.5" stroke-dashoffset="77.5"/>
<g stroke="#231f20" fill="none">
<rect x="162.4" y="30.3" width="1461.6" height="1720.7" stroke-width="6.5"/>
<rect x="1788.7" y="33" width="635.3" height="1720" stroke-width="6"/>
<line x1="243.6" y1="1750" x2="243.6" y2="1734" stroke-width="5.5"/>
<line x1="324.8" y1="1750" x2="324.8" y2="1718" stroke-width="5.5"/>
<line x1="406.0" y1="1750" x2="406.0" y2="1734" stroke-width="5.5"/>
<line x1="487.2" y1="1750" x2="487.2" y2="1718" stroke-width="5.5"/>
<line x1="568.4" y1="1750" x2="568.4" y2="1734" stroke-width="5.5"/>
<line x1="649.6" y1="1750" x2="649.6" y2="1718" stroke-width="5.5"/>
<line x1="730.8" y1="1750" x2="730.8" y2="1734" stroke-width="5.5"/>
<line x1="812.0" y1="1750" x2="812.0" y2="1718" stroke-width="5.5"/>
<line x1="893.2" y1="1750" x2="893.2" y2="1734" stroke-width="5.5"/>
<line x1="974.4" y1="1750" x2="974.4" y2="1718" stroke-width="5.5"/>
<line x1="1055.6" y1="1750" x2="1055.6" y2="1734" stroke-width="5.5"/>
<line x1="1136.8" y1="1750" x2="1136.8" y2="1718" stroke-width="5.5"/>
<line x1="1218.0" y1="1750" x2="1218.0" y2="1734" stroke-width="5.5"/>
<line x1="1299.2" y1="1750" x2="1299.2" y2="1718" stroke-width="5.5"/>
<line x1="1380.4" y1="1750" x2="1380.4" y2="1734" stroke-width="5.5"/>
<line x1="1461.6" y1="1750" x2="1461.6" y2="1718" stroke-width="5.5"/>
<line x1="1542.8" y1="1750" x2="1542.8" y2="1734" stroke-width="5.5"/>
<line x1="1894.6" y1="1752" x2="1894.6" y2="1733" stroke-width="5.5"/>
<line x1="2000.5" y1="1752" x2="2000.5" y2="1713" stroke-width="5.5"/>
<line x1="2106.4" y1="1752" x2="2106.4" y2="1733" stroke-width="5.5"/>
<line x1="2212.3" y1="1752" x2="2212.3" y2="1713" stroke-width="5.5"/>
<line x1="2318.2" y1="1752" x2="2318.2" y2="1733" stroke-width="5.5"/>
</g>
<line x1="1785" y1="1752.9" x2="2427" y2="1752.9" stroke="#1b3134" stroke-width="5.8"/>
<text transform="translate(22.0,95.0) scale(1,1.0)" font-family="Liberation Sans, Arial, sans-serif" font-size="77" fill="#231f20">(a)</text>
<text transform="translate(1662.0,95.0) scale(1,1.0)" font-family="Liberation Sans, Arial, sans-serif" font-size="77" fill="#231f20">(b)</text>
<text transform="translate(297.0,142.0) scale(1,1.02)" font-family="Liberation Sans, Arial, sans-serif" font-size="66" fill="#231f20">SiC</text>
<text transform="translate(274.6,433.0) scale(1,1.04)" font-family="Liberation Sans, Arial, sans-serif" font-size="65.5" fill="#231f20">D</text>
<text transform="translate(104.0,1867.0) scale(1,1.04)" font-family="Liberation Sans, Arial, sans-serif" font-size="65.8" fill="#231f20">1165</text>
<text transform="translate(265.6,1867.0) scale(1,1.04)" font-family="Liberation Sans, Arial, sans-serif" font-size="65.8" fill="#231f20">1365</text>
<text transform="translate(427.2,1867.0) scale(1,1.04)" font-family="Liberation Sans, Arial, sans-serif" font-size="65.8" fill="#231f20">1565</text>
<text transform="translate(588.8,1867.0) scale(1,1.04)" font-family="Liberation Sans, Arial, sans-serif" font-size="65.8" fill="#231f20">1765</text>
<text transform="translate(750.4,1867.0) scale(1,1.04)" font-family="Liberation Sans, Arial, sans-serif" font-size="65.8" fill="#231f20">1965</text>
<text transform="translate(912.0,1867.0) scale(1,1.04)" font-family="Liberation Sans, Arial, sans-serif" font-size="65.8" fill="#231f20">2165</text>
<text transform="translate(1073.6,1867.0) scale(1,1.04)" font-family="Liberation Sans, Arial, sans-serif" font-size="65.8" fill="#231f20">2365</text>
<text transform="translate(1235.2,1867.0) scale(1,1.04)" font-family="Liberation Sans, Arial, sans-serif" font-size="65.8" fill="#231f20">2565</text>
<text transform="translate(1396.8,1867.0) scale(1,1.04)" font-family="Liberation Sans, Arial, sans-serif" font-size="65.8" fill="#231f20">2765</text>
<text transform="translate(1558.4,1867.0) scale(1,1.04)" font-family="Liberation Sans, Arial, sans-serif" font-size="65.8" fill="#231f20">2965</text>
<text transform="translate(1740.6,1868.0) scale(1,1.04)" font-family="Liberation Sans, Arial, sans-serif" font-size="65.8" fill="#231f20">2565</text>
<text transform="translate(1936.0,1868.0) scale(1,1.04)" font-family="Liberation Sans, Arial, sans-serif" font-size="65.8" fill="#231f20">2665</text>
<text transform="translate(2131.2,1868.0) scale(1,1.04)" font-family="Liberation Sans, Arial, sans-serif" font-size="65.8" fill="#231f20">2765</text>
<text transform="translate(2326.3,1868.0) scale(1,1.04)" font-family="Liberation Sans, Arial, sans-serif" font-size="65.8" fill="#231f20">2965</text>
<text transform="translate(969.3,1995.2) scale(1,1.03)" font-family="Liberation Sans, Arial, sans-serif" font-size="70.6" fill="#231f20">Raman Shift (cm<tspan font-size="41.6" dy="-24.4">–1</tspan><tspan dy="24.4">)</tspan></text>
<text transform="translate(86.4,1441) rotate(-90) scale(1,1.02)" font-family="Liberation Sans, Arial, sans-serif" font-size="70.6" fill="#231f20"><tspan letter-spacing="-0.33">Raman Intensity</tspan><tspan font-family="Noto Serif CJK SC, serif" dy="6">（</tspan><tspan dy="-6">arb.units</tspan><tspan font-family="Noto Serif CJK SC, serif" dy="6">）</tspan></text>
<text transform="translate(835.6,513.4) scale(1,1.03)" font-family="Liberation Sans, Arial, sans-serif" font-size="65" fill="#dc949b">BLG</text>
<text transform="translate(830.3,780.3) scale(1,1.03)" font-family="Liberation Sans, Arial, sans-serif" font-size="65" fill="#ddac58">BLG @ N Plasma</text>
<text transform="translate(838.6,1077.0) scale(1,1.03)" font-family="Liberation Sans, Arial, sans-serif" font-size="65" fill="#569990">SLG</text>
<text transform="translate(835.7,1345.0) scale(1,1.03)" font-family="Liberation Sans, Arial, sans-serif" font-size="65" fill="#23769c">SLG @ N Plasma</text>
<text transform="translate(831.4,1639.0) scale(1,1.03)" font-family="Liberation Sans, Arial, sans-serif" font-size="65" fill="#7797b8">SiC Substrate</text>
<text transform="translate(1803.8,404.5) scale(1,1.03)" font-family="Liberation Sans, Arial, sans-serif" font-size="65" fill="#dc949b">BLG</text>
<text transform="translate(1799.3,702.0) scale(1,1.03)" font-family="Liberation Sans, Arial, sans-serif" font-size="65" fill="#ddac58">BLG @ N Plasma</text>
<text transform="translate(1808.0,1032.0) scale(1,1.03)" font-family="Liberation Sans, Arial, sans-serif" font-size="65" fill="#569990">SLG</text>
<text transform="translate(1805.0,1370.5) scale(1,1.03)" font-family="Liberation Sans, Arial, sans-serif" font-size="65" fill="#23769c">SLG @ N Plasma</text>
<text transform="translate(1800.0,1713.5) scale(1,1.03)" font-family="Liberation Sans, Arial, sans-serif" font-size="65" fill="#7797b8">SiC Substrate</text>
<text transform="translate(518.7,290.5) scale(1,1.03)" font-family="Liberation Sans, Arial, sans-serif" font-size="65" fill="#5e8fa6">G</text>
<text transform="translate(1465.0,477.5) scale(1,1.03)" font-family="Liberation Sans, Arial, sans-serif" font-size="65" fill="#5e8fa6">2D</text>
<text transform="translate(1977.8,122.0) scale(1,1.03)" font-family="Liberation Sans, Arial, sans-serif" font-size="65" fill="#5e8fa6">2D</text>
</svg>
</body></html>
